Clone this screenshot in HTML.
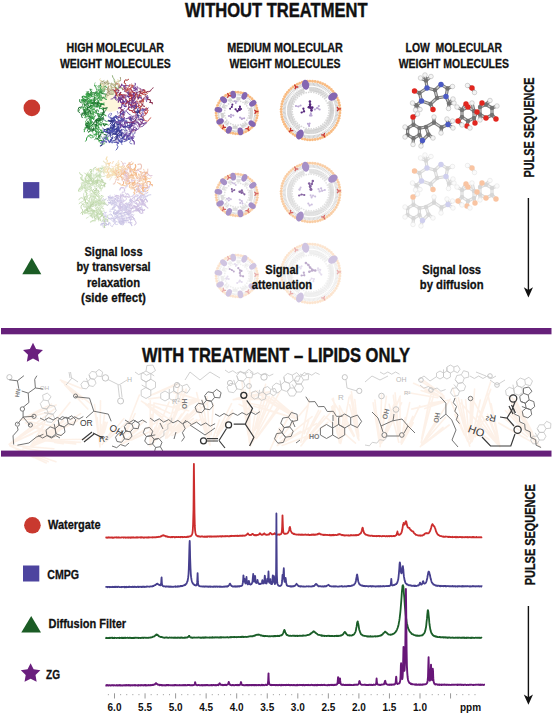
<!DOCTYPE html>
<html><head><meta charset="utf-8"><style>
html,body{margin:0;padding:0;background:#fff;}
svg{display:block;font-family:"Liberation Sans", sans-serif;}
</style></head><body>
<svg width="553" height="716" viewBox="0 0 553 716">
<rect width="553" height="716" fill="#fff"/>
<ellipse cx="110.5" cy="102.5" rx="11" ry="9.5" fill="#fdf6dc"/>
<path d="M86.8,99.3 Q88.7,98.8 89.4,97.4 Q87.0,96.0 88.5,94.4" stroke="#6ab870" stroke-width="0.7" fill="none" stroke-linecap="round"/>
<path d="M86.7,99.1 l0.1,1.6" stroke="#fff" stroke-opacity="0.7" stroke-width="0.8" fill="none"/>
<path d="M136.9,112.7 Q135.2,112.0 134.1,110.9 Q133.3,108.5 135.8,108.1" stroke="#80408a" stroke-width="1.1" fill="none" stroke-linecap="round"/>
<path d="M100.0,84.6 Q102.1,85.8 102.5,87.6 Q102.1,90.0 104.2,91.0" stroke="#cbc39f" stroke-width="0.9" fill="none" stroke-linecap="round"/>
<path d="M101.7,83.2 l2.3,0.2" stroke="#fff" stroke-opacity="0.7" stroke-width="0.8" fill="none"/>
<path d="M126.2,92.2 Q126.3,92.6 129.4,93.6 Q130.0,94.5 132.3,91.6" stroke="#7a3a8a" stroke-width="1.1" fill="none" stroke-linecap="round"/>
<path d="M125.8,93.6 l1.4,-1.3" stroke="#fff" stroke-opacity="0.7" stroke-width="0.8" fill="none"/>
<path d="M123.5,86.7 Q123.3,85.0 126.5,85.6 Q126.2,85.3 129.7,86.1" stroke="#6a3a98" stroke-width="1.0" fill="none" stroke-linecap="round"/>
<path d="M122.0,86.3 l-2.7,-1.6" stroke="#fff" stroke-opacity="0.7" stroke-width="0.8" fill="none"/>
<path d="M122.5,99.8 Q122.1,99.1 120.7,98.0" stroke="#7a3a8a" stroke-width="1.1" fill="none" stroke-linecap="round"/>
<path d="M120.7,98.2 l-1.6,0.2" stroke="#fff" stroke-opacity="0.7" stroke-width="0.8" fill="none"/>
<path d="M130.1,104.8 Q127.5,104.2 127.9,103.8 Q127.7,101.1 126.6,101.9 Q127.1,102.9 124.3,102.0" stroke="#5c3490" stroke-width="0.7" fill="none" stroke-linecap="round"/>
<path d="M129.2,104.9 l0.0,1.6" stroke="#fff" stroke-opacity="0.7" stroke-width="0.8" fill="none"/>
<path d="M89.8,108.4 Q91.6,109.2 92.7,106.7 Q93.5,104.9 95.4,104.6 Q94.6,101.7 93.1,102.2" stroke="#237f33" stroke-width="0.7" fill="none" stroke-linecap="round"/>
<path d="M89.6,107.9 l1.1,1.2" stroke="#fff" stroke-opacity="0.7" stroke-width="0.8" fill="none"/>
<path d="M129.9,88.5 Q129.8,87.8 133.4,87.1 Q133.1,85.0 131.4,83.9" stroke="#a82c2a" stroke-width="0.7" fill="none" stroke-linecap="round"/>
<path d="M128.9,88.2 l1.5,0.9" stroke="#fff" stroke-opacity="0.7" stroke-width="0.8" fill="none"/>
<path d="M102.6,138.4 Q103.9,138.0 103.2,141.3 Q102.9,141.7 102.7,144.2 Q101.5,145.6 100.4,146.0" stroke="#2f3385" stroke-width="1.2" fill="none" stroke-linecap="round"/>
<path d="M103.3,137.2 l2.1,0.1" stroke="#fff" stroke-opacity="0.7" stroke-width="0.8" fill="none"/>
<path d="M140.2,100.8 Q141.5,101.3 143.7,101.2" stroke="#c84a3a" stroke-width="0.9" fill="none" stroke-linecap="round"/>
<path d="M141.6,101.6 l-3.2,0.1" stroke="#fff" stroke-opacity="0.7" stroke-width="0.8" fill="none"/>
<path d="M144.2,97.7 Q143.2,99.1 143.2,100.4" stroke="#8a3050" stroke-width="1.1" fill="none" stroke-linecap="round"/>
<path d="M136.9,119.2 Q136.3,118.8 136.9,117.2 Q137.7,115.8 137.3,115.1 Q137.6,113.5 135.7,113.8" stroke="#80408a" stroke-width="1.1" fill="none" stroke-linecap="round"/>
<path d="M87.8,113.7 Q87.8,111.3 85.2,110.8 Q86.3,108.9 85.4,106.9 Q82.3,108.1 81.5,107.1" stroke="#6ab870" stroke-width="1.0" fill="none" stroke-linecap="round"/>
<path d="M114.0,142.3 Q115.7,141.4 117.9,142.9 Q115.9,145.0 118.0,146.7 Q117.0,149.7 116.1,150.1" stroke="#4a50b0" stroke-width="0.9" fill="none" stroke-linecap="round"/>
<path d="M115.5,143.5 l1.7,-0.2" stroke="#fff" stroke-opacity="0.7" stroke-width="0.8" fill="none"/>
<path d="M96.7,104.7 Q98.4,101.5 98.4,102.1 Q97.4,100.2 100.1,99.6" stroke="#2f9a3f" stroke-width="0.9" fill="none" stroke-linecap="round"/>
<path d="M98.2,104.4 l1.7,-0.9" stroke="#fff" stroke-opacity="0.7" stroke-width="0.8" fill="none"/>
<path d="M126.5,137.3 Q128.5,137.2 129.0,135.1 Q130.3,135.0 131.0,132.3" stroke="#8a3a70" stroke-width="1.0" fill="none" stroke-linecap="round"/>
<path d="M125.5,138.0 l-3.3,-0.3" stroke="#fff" stroke-opacity="0.7" stroke-width="0.8" fill="none"/>
<path d="M121.3,99.4 Q122.5,97.5 124.3,98.8 Q123.2,97.5 123.1,96.0 Q123.4,96.9 120.4,97.4" stroke="#8a3050" stroke-width="1.2" fill="none" stroke-linecap="round"/>
<path d="M123.1,99.2 l1.5,1.0" stroke="#fff" stroke-opacity="0.7" stroke-width="0.8" fill="none"/>
<path d="M107.6,95.8 Q107.3,94.6 109.4,92.4 Q109.7,94.4 112.9,94.2 Q112.3,91.2 114.1,90.5" stroke="#8fae78" stroke-width="1.1" fill="none" stroke-linecap="round"/>
<path d="M106.0,96.7 l-1.7,2.2" stroke="#fff" stroke-opacity="0.7" stroke-width="0.8" fill="none"/>
<path d="M88.7,112.1 Q87.7,114.0 85.5,113.3 Q84.0,114.7 82.1,113.1" stroke="#237f33" stroke-width="1.0" fill="none" stroke-linecap="round"/>
<path d="M89.1,110.7 l0.5,2.5" stroke="#fff" stroke-opacity="0.7" stroke-width="0.8" fill="none"/>
<path d="M141.8,119.4 Q138.7,118.1 138.0,120.0" stroke="#8a3a70" stroke-width="1.2" fill="none" stroke-linecap="round"/>
<path d="M141.5,121.2 l1.9,1.2" stroke="#fff" stroke-opacity="0.7" stroke-width="0.8" fill="none"/>
<path d="M116.9,124.2 Q118.0,125.1 118.5,127.2" stroke="#4a50b0" stroke-width="1.2" fill="none" stroke-linecap="round"/>
<path d="M116.3,126.2 l-0.8,-2.7" stroke="#fff" stroke-opacity="0.7" stroke-width="0.8" fill="none"/>
<path d="M136.3,130.3 Q133.4,130.1 133.1,132.3 Q133.5,132.8 130.1,130.0" stroke="#8a3a70" stroke-width="0.8" fill="none" stroke-linecap="round"/>
<path d="M137.4,129.6 l2.3,-0.7" stroke="#fff" stroke-opacity="0.7" stroke-width="0.8" fill="none"/>
<path d="M137.1,91.7 Q134.2,93.6 134.7,93.1" stroke="#5c3490" stroke-width="0.9" fill="none" stroke-linecap="round"/>
<path d="M138.7,93.5 l1.8,-2.7" stroke="#fff" stroke-opacity="0.7" stroke-width="0.8" fill="none"/>
<path d="M118.7,92.3 Q118.9,92.4 116.6,93.2 Q117.6,93.0 115.5,91.2 Q117.0,89.9 116.4,89.2" stroke="#6a3a98" stroke-width="1.1" fill="none" stroke-linecap="round"/>
<path d="M116.7,91.8 l-1.3,2.0" stroke="#fff" stroke-opacity="0.7" stroke-width="0.8" fill="none"/>
<path d="M123.3,119.2 Q124.8,121.2 125.0,122.7 Q125.1,126.6 126.2,126.5" stroke="#7448a8" stroke-width="1.1" fill="none" stroke-linecap="round"/>
<path d="M130.0,96.4 Q130.6,96.6 128.0,96.3 Q128.8,96.6 126.0,96.2" stroke="#7a3a8a" stroke-width="1.2" fill="none" stroke-linecap="round"/>
<path d="M120.5,127.6 Q117.9,129.0 117.9,130.4 Q114.3,133.0 114.3,132.0" stroke="#4a48a8" stroke-width="0.9" fill="none" stroke-linecap="round"/>
<path d="M99.6,121.1 Q100.5,119.8 100.2,119.2" stroke="#6ab870" stroke-width="1.1" fill="none" stroke-linecap="round"/>
<path d="M100.0,122.0 l-0.9,2.1" stroke="#fff" stroke-opacity="0.7" stroke-width="0.8" fill="none"/>
<path d="M101.9,130.0 Q101.0,132.5 103.3,132.5" stroke="#3aa34a" stroke-width="1.2" fill="none" stroke-linecap="round"/>
<path d="M102.7,128.2 l1.9,-0.5" stroke="#fff" stroke-opacity="0.7" stroke-width="0.8" fill="none"/>
<path d="M108.4,87.8 Q110.1,89.0 111.0,89.2 Q111.1,91.4 112.2,91.8 Q109.8,92.0 110.4,94.0" stroke="#cbc39f" stroke-width="0.8" fill="none" stroke-linecap="round"/>
<path d="M114.5,133.0 Q112.0,133.2 112.0,135.2 Q113.9,136.9 112.2,138.6 Q110.3,140.8 110.7,141.6" stroke="#35388a" stroke-width="1.0" fill="none" stroke-linecap="round"/>
<path d="M112.6,131.9 l-0.1,1.6" stroke="#fff" stroke-opacity="0.7" stroke-width="0.8" fill="none"/>
<path d="M99.1,127.4 Q97.2,126.9 96.5,126.6 Q97.3,128.9 95.1,128.9" stroke="#3aa34a" stroke-width="0.9" fill="none" stroke-linecap="round"/>
<path d="M136.6,128.2 Q136.5,131.2 135.2,130.2" stroke="#5c3490" stroke-width="0.9" fill="none" stroke-linecap="round"/>
<path d="M130.5,137.6 Q131.0,138.8 130.9,140.2 Q129.5,142.5 129.7,142.5 Q129.7,143.9 131.9,143.9" stroke="#4a48a8" stroke-width="0.7" fill="none" stroke-linecap="round"/>
<path d="M129.6,136.2 l-0.5,-2.9" stroke="#fff" stroke-opacity="0.7" stroke-width="0.8" fill="none"/>
<path d="M105.0,87.8 Q104.1,87.6 103.7,84.9 Q101.5,83.9 100.7,83.6 Q102.9,81.2 102.0,80.7" stroke="#e8e0b0" stroke-width="0.9" fill="none" stroke-linecap="round"/>
<path d="M104.6,86.6 l-1.5,1.7" stroke="#fff" stroke-opacity="0.7" stroke-width="0.8" fill="none"/>
<path d="M118.3,129.9 Q116.1,129.5 116.1,132.7 Q116.2,132.3 118.0,135.7" stroke="#5a4aa8" stroke-width="1.2" fill="none" stroke-linecap="round"/>
<path d="M118.5,129.3 l-1.8,-1.0" stroke="#fff" stroke-opacity="0.7" stroke-width="0.8" fill="none"/>
<path d="M98.8,87.0 Q101.1,85.4 100.8,84.4" stroke="#237f33" stroke-width="1.1" fill="none" stroke-linecap="round"/>
<path d="M141.3,101.5 Q140.5,100.7 143.0,99.0 Q142.8,100.2 140.5,97.5 Q137.0,97.0 137.5,97.5" stroke="#b03040" stroke-width="0.7" fill="none" stroke-linecap="round"/>
<path d="M116.8,82.0 Q120.2,80.5 120.2,81.0 Q120.9,79.9 120.4,77.4" stroke="#9d9a74" stroke-width="0.9" fill="none" stroke-linecap="round"/>
<path d="M118.3,81.9 l-2.0,-0.4" stroke="#fff" stroke-opacity="0.7" stroke-width="0.8" fill="none"/>
<path d="M129.5,99.3 Q128.6,97.7 131.5,99.2 Q130.7,97.1 132.2,97.3" stroke="#c23a32" stroke-width="1.1" fill="none" stroke-linecap="round"/>
<path d="M95.5,92.0 Q95.4,92.5 91.7,92.6 Q90.8,90.5 90.1,89.1" stroke="#237f33" stroke-width="1.2" fill="none" stroke-linecap="round"/>
<path d="M138.3,105.3 Q137.7,108.4 140.6,108.0 Q140.9,111.0 138.2,110.7" stroke="#c84a3a" stroke-width="0.9" fill="none" stroke-linecap="round"/>
<path d="M138.0,106.4 l-2.9,1.5" stroke="#fff" stroke-opacity="0.7" stroke-width="0.8" fill="none"/>
<path d="M134.8,88.6 Q132.3,89.0 133.8,86.8 Q135.8,84.3 135.2,85.2 Q136.0,82.6 135.0,83.1" stroke="#6a3a98" stroke-width="1.0" fill="none" stroke-linecap="round"/>
<path d="M137.9,99.3 Q138.5,96.6 138.9,96.6" stroke="#a82c2a" stroke-width="1.2" fill="none" stroke-linecap="round"/>
<path d="M137.2,99.2 l-0.6,1.5" stroke="#fff" stroke-opacity="0.7" stroke-width="0.8" fill="none"/>
<path d="M128.4,102.8 Q129.6,102.7 128.5,105.6 Q130.2,107.8 129.1,108.3" stroke="#8a3050" stroke-width="1.0" fill="none" stroke-linecap="round"/>
<path d="M129.8,104.2 l2.3,2.0" stroke="#fff" stroke-opacity="0.7" stroke-width="0.8" fill="none"/>
<path d="M128.7,136.4 Q129.4,135.7 132.0,137.5 Q132.1,140.8 133.5,140.7 Q134.7,141.7 134.2,144.1" stroke="#6a44a0" stroke-width="1.2" fill="none" stroke-linecap="round"/>
<path d="M129.4,137.2 l1.1,1.3" stroke="#fff" stroke-opacity="0.7" stroke-width="0.8" fill="none"/>
<path d="M92.6,105.4 Q94.0,106.1 91.6,107.4" stroke="#4fae5a" stroke-width="1.1" fill="none" stroke-linecap="round"/>
<path d="M91.1,104.3 l1.5,-3.0" stroke="#fff" stroke-opacity="0.7" stroke-width="0.8" fill="none"/>
<path d="M90.4,123.4 Q92.8,121.6 92.8,121.9 Q93.4,122.2 93.8,124.5 Q94.5,124.3 96.6,124.7" stroke="#1f7030" stroke-width="1.0" fill="none" stroke-linecap="round"/>
<path d="M88.8,124.2 l-1.0,1.8" stroke="#fff" stroke-opacity="0.7" stroke-width="0.8" fill="none"/>
<path d="M97.5,113.9 Q96.5,112.2 95.0,113.0 Q97.4,112.5 95.9,110.4 Q97.4,109.0 98.4,111.3" stroke="#237f33" stroke-width="1.1" fill="none" stroke-linecap="round"/>
<path d="M89.6,110.1 Q90.3,112.1 91.3,112.3 Q92.9,112.5 94.0,112.3" stroke="#2f9a3f" stroke-width="0.7" fill="none" stroke-linecap="round"/>
<path d="M91.8,126.7 Q92.3,125.8 89.6,127.0" stroke="#237f33" stroke-width="1.0" fill="none" stroke-linecap="round"/>
<path d="M92.9,114.5 Q92.2,115.0 89.5,112.7 Q90.7,111.5 90.9,109.1 Q91.4,108.3 94.6,108.1" stroke="#3aa34a" stroke-width="0.7" fill="none" stroke-linecap="round"/>
<path d="M88.4,105.7 Q86.8,105.5 88.7,103.1 Q90.8,102.0 90.7,101.6 Q90.1,100.2 92.7,100.0" stroke="#237f33" stroke-width="1.2" fill="none" stroke-linecap="round"/>
<path d="M99.4,135.6 Q100.5,136.1 101.5,136.4" stroke="#5a5ab8" stroke-width="0.9" fill="none" stroke-linecap="round"/>
<path d="M102.0,83.9 Q102.3,81.8 100.6,81.4 Q98.7,78.4 100.2,78.5" stroke="#e8e0b0" stroke-width="0.9" fill="none" stroke-linecap="round"/>
<path d="M107.1,83.7 Q109.2,83.0 107.3,80.4" stroke="#cbc39f" stroke-width="1.2" fill="none" stroke-linecap="round"/>
<path d="M105.7,84.3 l-2.5,-0.7" stroke="#fff" stroke-opacity="0.7" stroke-width="0.8" fill="none"/>
<path d="M108.7,88.1 Q108.3,89.6 107.3,91.4" stroke="#b8b68a" stroke-width="0.9" fill="none" stroke-linecap="round"/>
<path d="M116.0,89.3 Q116.3,89.6 119.5,87.7 Q122.6,87.5 122.7,89.7" stroke="#9d9a74" stroke-width="1.2" fill="none" stroke-linecap="round"/>
<path d="M84.5,100.1 Q87.2,99.6 86.0,101.4 Q85.1,103.9 86.7,103.3 Q86.0,103.8 88.5,102.5" stroke="#237f33" stroke-width="0.9" fill="none" stroke-linecap="round"/>
<path d="M138.8,124.7 Q139.9,124.9 139.5,126.9 Q139.0,127.2 138.5,129.0" stroke="#5c3490" stroke-width="0.9" fill="none" stroke-linecap="round"/>
<path d="M115.6,87.7 Q114.2,89.4 114.5,90.0" stroke="#c0c8a0" stroke-width="0.7" fill="none" stroke-linecap="round"/>
<path d="M116.1,83.3 Q116.6,83.8 115.1,86.3" stroke="#9d9a74" stroke-width="0.9" fill="none" stroke-linecap="round"/>
<path d="M93.0,136.1 Q92.9,135.5 89.4,134.8 Q88.3,136.8 86.7,137.6 Q86.9,140.5 85.7,141.3" stroke="#2f9a3f" stroke-width="1.0" fill="none" stroke-linecap="round"/>
<path d="M137.1,122.9 Q135.1,121.2 135.2,120.0" stroke="#4a50b0" stroke-width="1.1" fill="none" stroke-linecap="round"/>
<path d="M133.5,95.1 Q129.9,95.0 129.9,94.1 Q129.3,94.0 128.1,90.9 Q124.8,89.2 124.4,91.3" stroke="#5c3490" stroke-width="1.0" fill="none" stroke-linecap="round"/>
<path d="M134.7,93.4 l-1.9,0.7" stroke="#fff" stroke-opacity="0.7" stroke-width="0.8" fill="none"/>
<path d="M141.3,115.8 Q139.9,117.1 139.9,117.4 Q138.2,118.5 138.4,118.9" stroke="#7a3a8a" stroke-width="0.7" fill="none" stroke-linecap="round"/>
<path d="M92.0,96.3 Q89.4,94.5 90.2,93.5 Q87.7,94.5 87.4,91.8 Q86.6,94.4 85.9,94.8" stroke="#3aa34a" stroke-width="1.2" fill="none" stroke-linecap="round"/>
<path d="M90.2,95.3 l-2.9,0.8" stroke="#fff" stroke-opacity="0.7" stroke-width="0.8" fill="none"/>
<path d="M140.1,89.3 Q141.6,92.1 140.9,93.1 Q141.7,94.1 144.5,94.7 Q146.1,95.5 147.9,92.8" stroke="#c84a3a" stroke-width="0.9" fill="none" stroke-linecap="round"/>
<path d="M138.3,88.9 l2.7,-0.3" stroke="#fff" stroke-opacity="0.7" stroke-width="0.8" fill="none"/>
<path d="M103.5,123.6 Q102.9,124.1 104.6,125.7 Q105.3,124.0 106.6,124.5" stroke="#1f7030" stroke-width="1.1" fill="none" stroke-linecap="round"/>
<path d="M120.3,127.6 Q119.0,125.6 121.3,125.4 Q122.8,126.0 123.4,126.5" stroke="#5a4aa8" stroke-width="1.1" fill="none" stroke-linecap="round"/>
<path d="M118.5,120.8 Q118.5,120.1 116.3,122.4" stroke="#5a4aa8" stroke-width="0.8" fill="none" stroke-linecap="round"/>
<path d="M136.7,108.4 Q136.3,107.1 135.0,105.9" stroke="#35388a" stroke-width="0.8" fill="none" stroke-linecap="round"/>
<path d="M89.1,93.4 Q87.8,93.3 86.2,94.7" stroke="#4fae5a" stroke-width="0.9" fill="none" stroke-linecap="round"/>
<path d="M89.2,93.2 l2.3,-2.2" stroke="#fff" stroke-opacity="0.7" stroke-width="0.8" fill="none"/>
<path d="M89.7,112.5 Q89.5,112.1 87.3,111.9" stroke="#237f33" stroke-width="0.7" fill="none" stroke-linecap="round"/>
<path d="M130.3,121.4 Q129.4,121.5 131.5,119.4 Q132.8,117.2 131.7,116.9 Q131.3,116.4 134.0,116.0" stroke="#6a3a98" stroke-width="1.0" fill="none" stroke-linecap="round"/>
<path d="M99.6,124.1 Q98.7,124.4 97.7,122.8 Q99.4,121.7 98.8,120.7 Q99.8,118.9 97.9,118.6" stroke="#3aa34a" stroke-width="1.2" fill="none" stroke-linecap="round"/>
<path d="M141.6,97.4 Q142.0,94.6 139.3,95.2 Q137.7,95.9 137.4,97.7" stroke="#c84a3a" stroke-width="0.9" fill="none" stroke-linecap="round"/>
<path d="M139.9,120.3 Q141.1,122.4 141.3,123.5" stroke="#80408a" stroke-width="0.9" fill="none" stroke-linecap="round"/>
<path d="M141.5,119.9 l-0.5,3.1" stroke="#fff" stroke-opacity="0.7" stroke-width="0.8" fill="none"/>
<path d="M89.6,111.9 Q88.0,112.3 88.8,114.8" stroke="#237f33" stroke-width="1.1" fill="none" stroke-linecap="round"/>
<path d="M89.2,110.9 l2.6,0.0" stroke="#fff" stroke-opacity="0.7" stroke-width="0.8" fill="none"/>
<path d="M113.6,120.8 Q112.0,117.2 113.6,117.4 Q113.9,116.2 116.6,115.9" stroke="#2f3385" stroke-width="0.8" fill="none" stroke-linecap="round"/>
<path d="M114.3,122.0 l1.1,1.8" stroke="#fff" stroke-opacity="0.7" stroke-width="0.8" fill="none"/>
<path d="M100.2,106.2 Q100.4,105.7 101.7,103.6" stroke="#237f33" stroke-width="1.2" fill="none" stroke-linecap="round"/>
<path d="M101.3,133.1 Q101.9,132.1 104.4,131.1 Q105.6,132.8 107.7,132.8" stroke="#3f45a5" stroke-width="0.8" fill="none" stroke-linecap="round"/>
<path d="M131.4,132.7 Q131.5,133.0 129.7,135.0 Q129.2,136.7 131.2,137.4 Q133.2,139.6 134.0,138.1" stroke="#5a4aa8" stroke-width="1.0" fill="none" stroke-linecap="round"/>
<path d="M98.5,97.3 Q100.3,96.8 98.1,93.3" stroke="#4fae5a" stroke-width="0.8" fill="none" stroke-linecap="round"/>
<path d="M98.1,98.9 l-3.0,-0.7" stroke="#fff" stroke-opacity="0.7" stroke-width="0.8" fill="none"/>
<path d="M109.9,134.4 Q110.6,135.2 107.5,136.9 Q105.9,138.2 104.0,137.1" stroke="#35388a" stroke-width="0.8" fill="none" stroke-linecap="round"/>
<path d="M108.9,134.4 l2.6,2.1" stroke="#fff" stroke-opacity="0.7" stroke-width="0.8" fill="none"/>
<path d="M88.6,100.6 Q89.5,101.0 90.6,102.5 Q90.2,100.5 93.4,102.1" stroke="#3aa34a" stroke-width="1.2" fill="none" stroke-linecap="round"/>
<path d="M88.5,102.6 l1.6,0.9" stroke="#fff" stroke-opacity="0.7" stroke-width="0.8" fill="none"/>
<path d="M94.0,134.3 Q93.6,134.2 96.7,133.8 Q98.5,133.4 99.2,134.8 Q100.1,138.1 98.2,137.3" stroke="#4fae5a" stroke-width="0.9" fill="none" stroke-linecap="round"/>
<path d="M129.1,91.4 Q128.9,90.3 130.2,89.1" stroke="#a82c2a" stroke-width="0.7" fill="none" stroke-linecap="round"/>
<path d="M129.2,92.6 l1.5,-0.4" stroke="#fff" stroke-opacity="0.7" stroke-width="0.8" fill="none"/>
<path d="M133.6,126.1 Q134.0,124.9 130.6,126.8 Q129.9,126.1 130.0,123.8 Q130.3,121.2 127.3,122.4" stroke="#5c3490" stroke-width="1.0" fill="none" stroke-linecap="round"/>
<path d="M134.2,127.3 l-1.7,1.4" stroke="#fff" stroke-opacity="0.7" stroke-width="0.8" fill="none"/>
<path d="M104.9,120.1 Q104.3,119.2 106.1,121.9 Q106.4,120.3 108.2,121.2" stroke="#6ab870" stroke-width="0.9" fill="none" stroke-linecap="round"/>
<path d="M103.0,119.7 l-1.3,1.3" stroke="#fff" stroke-opacity="0.7" stroke-width="0.8" fill="none"/>
<path d="M120.0,116.4 Q119.3,118.8 116.4,118.1" stroke="#6a44a0" stroke-width="1.1" fill="none" stroke-linecap="round"/>
<path d="M121.5,117.5 l-2.6,2.1" stroke="#fff" stroke-opacity="0.7" stroke-width="0.8" fill="none"/>
<path d="M115.7,81.1 Q116.8,83.2 115.1,84.3 Q115.1,84.4 114.5,87.5" stroke="#e8e0b0" stroke-width="1.2" fill="none" stroke-linecap="round"/>
<path d="M110.9,121.8 Q112.3,120.9 113.2,119.9 Q112.7,118.6 111.1,117.8" stroke="#5a5ab8" stroke-width="1.0" fill="none" stroke-linecap="round"/>
<path d="M142.9,89.9 Q145.4,89.5 144.9,92.1 Q143.6,91.8 142.4,93.6 Q141.8,94.4 140.1,91.8" stroke="#b03040" stroke-width="1.2" fill="none" stroke-linecap="round"/>
<path d="M114.8,142.1 Q117.0,142.2 116.8,142.7 Q119.2,141.8 118.7,143.5" stroke="#3f45a5" stroke-width="0.9" fill="none" stroke-linecap="round"/>
<path d="M85.4,114.9 Q85.8,118.0 85.9,117.9" stroke="#3aa34a" stroke-width="1.1" fill="none" stroke-linecap="round"/>
<path d="M83.6,114.3 l-1.1,1.3" stroke="#fff" stroke-opacity="0.7" stroke-width="0.8" fill="none"/>
<path d="M88.4,91.8 Q86.5,95.4 88.1,95.1 Q90.0,97.6 90.9,97.0" stroke="#4fae5a" stroke-width="1.1" fill="none" stroke-linecap="round"/>
<path d="M86.4,91.1 l-1.2,-2.1" stroke="#fff" stroke-opacity="0.7" stroke-width="0.8" fill="none"/>
<path d="M101.6,119.5 Q100.7,119.7 100.1,122.7" stroke="#6ab870" stroke-width="0.8" fill="none" stroke-linecap="round"/>
<path d="M121.4,102.7 Q121.5,102.7 122.7,104.3" stroke="#7a3a8a" stroke-width="0.9" fill="none" stroke-linecap="round"/>
<path d="M122.7,102.3 l-1.6,-1.7" stroke="#fff" stroke-opacity="0.7" stroke-width="0.8" fill="none"/>
<path d="M143.6,102.0 Q140.1,102.1 140.0,101.0 Q138.5,101.0 137.2,103.4" stroke="#a82c2a" stroke-width="0.9" fill="none" stroke-linecap="round"/>
<path d="M142.9,102.3 l-1.4,-1.7" stroke="#fff" stroke-opacity="0.7" stroke-width="0.8" fill="none"/>
<path d="M124.6,97.1 Q124.0,97.8 122.6,95.6 Q120.5,93.8 120.2,95.1" stroke="#c23a32" stroke-width="1.2" fill="none" stroke-linecap="round"/>
<path d="M87.5,121.3 Q87.6,123.5 89.1,122.6 Q86.4,123.9 87.6,124.1 Q86.5,124.8 86.4,125.7" stroke="#237f33" stroke-width="0.9" fill="none" stroke-linecap="round"/>
<path d="M121.1,140.7 Q123.1,143.3 123.5,142.0" stroke="#3f45a5" stroke-width="0.7" fill="none" stroke-linecap="round"/>
<path d="M94.5,103.4 Q96.5,104.5 96.2,102.3 Q99.1,102.2 98.2,102.3 Q98.1,101.9 98.6,104.3" stroke="#6ab870" stroke-width="0.9" fill="none" stroke-linecap="round"/>
<path d="M93.0,103.1 l1.6,-2.8" stroke="#fff" stroke-opacity="0.7" stroke-width="0.8" fill="none"/>
<path d="M118.1,140.9 Q118.5,142.1 120.9,141.9" stroke="#3f45a5" stroke-width="1.0" fill="none" stroke-linecap="round"/>
<path d="M118.5,140.8 l-1.2,1.6" stroke="#fff" stroke-opacity="0.7" stroke-width="0.8" fill="none"/>
<path d="M90.1,115.5 Q91.8,112.6 91.2,112.9" stroke="#6ab870" stroke-width="1.1" fill="none" stroke-linecap="round"/>
<path d="M89.8,115.5 l-0.7,2.6" stroke="#fff" stroke-opacity="0.7" stroke-width="0.8" fill="none"/>
<path d="M141.6,114.2 Q140.0,117.2 141.6,116.8" stroke="#6a3a98" stroke-width="0.9" fill="none" stroke-linecap="round"/>
<path d="M124.3,135.5 Q125.7,133.5 125.2,133.4 Q124.8,132.3 125.0,131.3 Q124.1,130.2 123.7,129.4" stroke="#2f3385" stroke-width="0.7" fill="none" stroke-linecap="round"/>
<path d="M84.6,113.2 Q85.6,113.5 87.7,115.2 Q88.2,117.1 90.8,117.1 Q90.5,117.5 94.0,118.8" stroke="#1f7030" stroke-width="1.2" fill="none" stroke-linecap="round"/>
<path d="M84.1,113.6 l-2.9,-1.9" stroke="#fff" stroke-opacity="0.7" stroke-width="0.8" fill="none"/>
<path d="M121.3,117.0 Q120.6,117.5 119.1,115.5" stroke="#8a3a70" stroke-width="1.2" fill="none" stroke-linecap="round"/>
<path d="M105.5,86.1 Q105.6,84.5 107.0,84.5" stroke="#c0c8a0" stroke-width="1.2" fill="none" stroke-linecap="round"/>
<path d="M122.4,114.7 Q119.5,114.2 120.6,111.9" stroke="#6a3a98" stroke-width="0.9" fill="none" stroke-linecap="round"/>
<path d="M85.5,128.9 Q87.0,127.6 86.0,126.7 Q88.1,128.2 88.3,126.9" stroke="#4fae5a" stroke-width="1.2" fill="none" stroke-linecap="round"/>
<path d="M86.3,128.5 l1.4,-2.6" stroke="#fff" stroke-opacity="0.7" stroke-width="0.8" fill="none"/>
<path d="M126.8,121.0 Q126.2,122.1 127.4,124.0" stroke="#4a48a8" stroke-width="1.2" fill="none" stroke-linecap="round"/>
<path d="M93.9,124.1 Q92.2,124.3 90.5,124.1 Q91.1,121.8 89.6,120.8" stroke="#4fae5a" stroke-width="0.7" fill="none" stroke-linecap="round"/>
<path d="M124.1,103.9 Q122.5,102.9 123.7,100.2 Q121.1,98.6 121.9,97.0" stroke="#5c3490" stroke-width="1.0" fill="none" stroke-linecap="round"/>
<path d="M125.8,105.1 l-1.3,0.8" stroke="#fff" stroke-opacity="0.7" stroke-width="0.8" fill="none"/>
<path d="M97.6,95.6 Q97.2,97.3 97.6,98.8 Q96.7,99.0 98.9,101.8 Q99.6,103.4 98.8,105.0" stroke="#3aa34a" stroke-width="0.8" fill="none" stroke-linecap="round"/>
<path d="M104.1,90.4 Q104.9,87.5 103.4,86.9 Q101.9,86.8 100.1,85.9" stroke="#4fae5a" stroke-width="0.8" fill="none" stroke-linecap="round"/>
<path d="M119.5,136.3 Q120.9,136.6 121.3,134.2 Q120.6,134.7 123.1,136.3 Q125.9,136.6 125.7,135.5" stroke="#35388a" stroke-width="0.9" fill="none" stroke-linecap="round"/>
<path d="M143.7,89.9 Q143.4,91.5 141.0,91.5 Q140.1,91.0 138.0,92.1 Q137.8,93.4 135.3,93.5" stroke="#8a3050" stroke-width="1.0" fill="none" stroke-linecap="round"/>
<path d="M126.5,101.9 Q129.4,100.9 129.2,103.3 Q130.7,105.9 131.6,105.1 Q130.9,104.6 131.8,108.1" stroke="#7a3a8a" stroke-width="1.2" fill="none" stroke-linecap="round"/>
<path d="M93.6,103.3 Q95.2,102.9 93.0,101.1 Q95.1,100.6 94.9,99.9" stroke="#6ab870" stroke-width="0.7" fill="none" stroke-linecap="round"/>
<path d="M92.9,113.2 Q90.0,113.2 90.0,115.7 Q86.2,117.5 86.1,115.8 Q84.2,115.5 85.5,112.0" stroke="#237f33" stroke-width="0.8" fill="none" stroke-linecap="round"/>
<path d="M93.0,114.6 l-0.3,1.8" stroke="#fff" stroke-opacity="0.7" stroke-width="0.8" fill="none"/>
<path d="M90.9,107.0 Q90.8,107.1 93.3,105.0 Q94.4,102.0 92.2,102.1 Q90.1,103.3 89.5,100.6" stroke="#1f7030" stroke-width="0.9" fill="none" stroke-linecap="round"/>
<path d="M92.3,108.1 l1.1,2.5" stroke="#fff" stroke-opacity="0.7" stroke-width="0.8" fill="none"/>
<path d="M125.4,85.6 Q125.0,86.8 125.2,89.2 Q124.2,91.9 127.0,92.4" stroke="#b03040" stroke-width="0.8" fill="none" stroke-linecap="round"/>
<path d="M96.2,135.2 Q96.8,136.8 95.9,137.6 Q95.6,139.0 94.8,139.8" stroke="#237f33" stroke-width="0.7" fill="none" stroke-linecap="round"/>
<path d="M97.2,134.0 l2.3,1.0" stroke="#fff" stroke-opacity="0.7" stroke-width="0.8" fill="none"/>
<path d="M86.7,123.0 Q85.0,124.8 86.3,125.4 Q85.8,126.9 88.7,125.8" stroke="#1f7030" stroke-width="1.2" fill="none" stroke-linecap="round"/>
<path d="M88.7,121.8 l-0.9,-1.7" stroke="#fff" stroke-opacity="0.7" stroke-width="0.8" fill="none"/>
<path d="M141.2,115.4 Q140.9,113.7 143.3,115.5" stroke="#3f45a5" stroke-width="0.8" fill="none" stroke-linecap="round"/>
<path d="M95.6,100.2 Q94.4,98.2 96.7,98.2 Q96.7,99.2 98.9,97.4 Q100.1,97.9 100.0,99.4" stroke="#3aa34a" stroke-width="1.1" fill="none" stroke-linecap="round"/>
<path d="M90.3,134.5 Q90.5,135.3 92.5,136.0" stroke="#6ab870" stroke-width="1.1" fill="none" stroke-linecap="round"/>
<path d="M88.7,135.1 l0.7,-1.9" stroke="#fff" stroke-opacity="0.7" stroke-width="0.8" fill="none"/>
<path d="M125.9,92.0 Q128.1,90.8 126.6,90.0 Q128.7,89.0 128.1,88.3" stroke="#b03040" stroke-width="0.8" fill="none" stroke-linecap="round"/>
<path d="M131.6,105.3 Q132.6,108.5 134.1,108.0" stroke="#8a3050" stroke-width="1.0" fill="none" stroke-linecap="round"/>
<path d="M130.3,107.2 l2.2,0.3" stroke="#fff" stroke-opacity="0.7" stroke-width="0.8" fill="none"/>
<path d="M103.1,133.1 Q100.2,131.6 100.1,132.9 Q99.2,132.1 97.3,131.9 Q95.2,132.8 95.0,130.1" stroke="#1f7030" stroke-width="1.0" fill="none" stroke-linecap="round"/>
<path d="M122.2,135.7 Q121.0,133.1 119.2,133.2 Q119.7,130.2 121.9,130.4" stroke="#6a44a0" stroke-width="1.1" fill="none" stroke-linecap="round"/>
<path d="M123.9,135.8 l-2.3,-0.9" stroke="#fff" stroke-opacity="0.7" stroke-width="0.8" fill="none"/>
<path d="M119.0,119.7 Q120.8,121.9 121.5,120.4 Q122.4,118.1 123.8,119.2 Q123.9,121.2 126.0,120.6" stroke="#3e40a0" stroke-width="1.1" fill="none" stroke-linecap="round"/>
<path d="M118.7,119.9 l2.1,-1.4" stroke="#fff" stroke-opacity="0.7" stroke-width="0.8" fill="none"/>
<path d="M143.9,110.9 Q146.3,113.9 146.3,113.1 Q146.0,115.6 144.3,115.7 Q143.9,117.1 141.0,116.1" stroke="#b03040" stroke-width="0.8" fill="none" stroke-linecap="round"/>
<path d="M100.8,95.6 Q102.4,98.4 103.2,98.0 Q102.6,97.4 100.9,100.4" stroke="#2f9a3f" stroke-width="1.1" fill="none" stroke-linecap="round"/>
<path d="M100.1,94.4 l3.2,-0.4" stroke="#fff" stroke-opacity="0.7" stroke-width="0.8" fill="none"/>
<path d="M127.0,127.5 Q129.7,128.2 130.2,126.7 Q131.3,129.9 131.8,129.6" stroke="#5a4aa8" stroke-width="1.1" fill="none" stroke-linecap="round"/>
<path d="M133.8,94.7 Q133.9,91.4 132.4,92.0 Q132.1,90.0 129.5,91.2" stroke="#a82c2a" stroke-width="0.9" fill="none" stroke-linecap="round"/>
<path d="M134.1,93.9 l2.5,0.4" stroke="#fff" stroke-opacity="0.7" stroke-width="0.8" fill="none"/>
<path d="M111.6,84.0 Q112.4,85.6 113.5,85.1 Q113.3,85.1 115.5,84.4 Q115.1,81.6 116.1,82.3" stroke="#a89070" stroke-width="0.7" fill="none" stroke-linecap="round"/>
<path d="M112.2,83.7 l-3.4,-0.6" stroke="#fff" stroke-opacity="0.7" stroke-width="0.8" fill="none"/>
<path d="M107.8,95.1 Q109.3,95.4 109.3,93.6 Q110.8,94.8 111.1,92.4" stroke="#a89070" stroke-width="1.2" fill="none" stroke-linecap="round"/>
<path d="M107.9,93.9 l-3.4,-0.9" stroke="#fff" stroke-opacity="0.7" stroke-width="0.8" fill="none"/>
<path d="M90.6,114.7 Q88.2,111.8 89.4,112.4 Q92.4,110.8 91.8,111.6 Q93.8,110.6 92.6,109.2" stroke="#6ab870" stroke-width="0.7" fill="none" stroke-linecap="round"/>
<path d="M121.7,134.3 Q120.6,135.7 118.4,135.6" stroke="#5a5ab8" stroke-width="1.0" fill="none" stroke-linecap="round"/>
<path d="M119.9,134.2 l-0.4,-1.7" stroke="#fff" stroke-opacity="0.7" stroke-width="0.8" fill="none"/>
<path d="M137.6,110.7 Q136.7,111.1 136.5,112.4 Q134.6,113.2 134.6,111.6 Q134.0,110.1 133.7,109.8" stroke="#a82c2a" stroke-width="0.9" fill="none" stroke-linecap="round"/>
<path d="M101.6,119.2 Q102.5,119.4 103.5,116.5" stroke="#4fae5a" stroke-width="1.0" fill="none" stroke-linecap="round"/>
<path d="M102.8,118.8 l2.8,-2.1" stroke="#fff" stroke-opacity="0.7" stroke-width="0.8" fill="none"/>
<path d="M125.5,126.4 Q122.2,126.9 122.2,126.6" stroke="#3e40a0" stroke-width="1.1" fill="none" stroke-linecap="round"/>
<path d="M106.7,132.6 Q107.8,130.6 105.9,130.2 Q108.1,129.6 108.3,129.5 Q107.8,128.1 110.8,128.9" stroke="#237f33" stroke-width="1.1" fill="none" stroke-linecap="round"/>
<path d="M106.1,132.0 l2.9,-0.4" stroke="#fff" stroke-opacity="0.7" stroke-width="0.8" fill="none"/>
<path d="M126.1,105.8 Q125.8,104.5 124.9,103.0" stroke="#b03040" stroke-width="1.0" fill="none" stroke-linecap="round"/>
<path d="M126.8,104.9 l-2.3,-2.3" stroke="#fff" stroke-opacity="0.7" stroke-width="0.8" fill="none"/>
<path d="M134.5,106.5 Q137.3,107.5 136.1,107.9 Q134.7,109.7 134.6,109.4" stroke="#8a3050" stroke-width="0.7" fill="none" stroke-linecap="round"/>
<path d="M135.8,106.1 l-1.0,-2.7" stroke="#fff" stroke-opacity="0.7" stroke-width="0.8" fill="none"/>
<path d="M98.8,102.7 Q98.8,103.4 96.1,103.2 Q93.7,106.2 95.2,105.9" stroke="#237f33" stroke-width="1.1" fill="none" stroke-linecap="round"/>
<path d="M97.1,103.1 l0.6,1.4" stroke="#fff" stroke-opacity="0.7" stroke-width="0.8" fill="none"/>
<path d="M125.1,98.6 Q127.7,101.3 127.7,100.7 Q127.9,100.4 126.5,103.9 Q126.1,102.5 123.3,102.9" stroke="#b03040" stroke-width="1.0" fill="none" stroke-linecap="round"/>
<path d="M124.4,99.1 l-2.6,-0.8" stroke="#fff" stroke-opacity="0.7" stroke-width="0.8" fill="none"/>
<path d="M139.9,91.4 Q140.8,94.4 138.7,94.4 Q139.1,94.6 140.5,97.0" stroke="#8a3050" stroke-width="1.1" fill="none" stroke-linecap="round"/>
<path d="M141.3,91.6 l-0.5,-1.5" stroke="#fff" stroke-opacity="0.7" stroke-width="0.8" fill="none"/>
<path d="M119.6,86.4 Q120.0,83.2 117.5,83.5 Q114.0,85.2 114.4,85.2" stroke="#c23a32" stroke-width="0.8" fill="none" stroke-linecap="round"/>
<path d="M118.9,86.3 l-1.4,-2.5" stroke="#fff" stroke-opacity="0.7" stroke-width="0.8" fill="none"/>
<path d="M99.9,115.3 Q98.3,114.6 98.3,113.2" stroke="#3aa34a" stroke-width="0.8" fill="none" stroke-linecap="round"/>
<path d="M99.9,114.6 l1.4,-2.0" stroke="#fff" stroke-opacity="0.7" stroke-width="0.8" fill="none"/>
<path d="M139.9,127.3 Q140.0,125.4 140.8,124.5 Q141.2,123.3 141.8,121.8 Q143.5,122.0 143.0,119.2" stroke="#8a3a70" stroke-width="0.8" fill="none" stroke-linecap="round"/>
<path d="M141.1,127.7 l-0.5,1.5" stroke="#fff" stroke-opacity="0.7" stroke-width="0.8" fill="none"/>
<path d="M99.6,92.4 Q99.8,92.6 100.0,95.1 Q100.4,97.9 99.6,97.8" stroke="#6ab870" stroke-width="0.8" fill="none" stroke-linecap="round"/>
<path d="M99.3,92.6 l-2.1,-0.5" stroke="#fff" stroke-opacity="0.7" stroke-width="0.8" fill="none"/>
<path d="M83.1,98.4 Q81.4,97.0 82.6,96.4" stroke="#237f33" stroke-width="1.1" fill="none" stroke-linecap="round"/>
<path d="M82.8,99.5 l-3.1,-1.3" stroke="#fff" stroke-opacity="0.7" stroke-width="0.8" fill="none"/>
<path d="M120.2,116.6 Q121.5,117.4 120.3,114.2 Q122.0,112.3 122.8,114.2" stroke="#5a4aa8" stroke-width="1.1" fill="none" stroke-linecap="round"/>
<path d="M121.0,95.6 Q121.8,95.9 118.7,98.8 Q120.9,99.4 120.6,102.2 Q122.0,102.8 124.5,101.6" stroke="#6a3a98" stroke-width="1.1" fill="none" stroke-linecap="round"/>
<path d="M123.0,126.4 Q122.2,125.5 120.3,123.7 Q119.8,122.6 123.0,121.0 Q124.9,118.2 124.3,117.4" stroke="#6a44a0" stroke-width="1.1" fill="none" stroke-linecap="round"/>
<path d="M122.0,125.5 l-3.4,0.1" stroke="#fff" stroke-opacity="0.7" stroke-width="0.8" fill="none"/>
<path d="M142.0,122.3 Q144.5,124.4 144.3,124.8 Q143.5,126.3 141.5,126.7" stroke="#6a3a98" stroke-width="0.9" fill="none" stroke-linecap="round"/>
<path d="M113.6,84.2 Q112.0,83.3 111.4,83.7 Q111.2,86.4 110.3,85.7" stroke="#c0c8a0" stroke-width="0.8" fill="none" stroke-linecap="round"/>
<path d="M114.0,128.0 Q112.3,128.0 114.1,125.1 Q111.4,125.1 111.2,125.3" stroke="#2f3385" stroke-width="1.2" fill="none" stroke-linecap="round"/>
<path d="M130.5,127.7 Q128.6,129.1 128.8,129.3" stroke="#6a3a98" stroke-width="0.8" fill="none" stroke-linecap="round"/>
<path d="M89.8,101.7 Q87.2,101.1 87.7,103.0" stroke="#2f9a3f" stroke-width="1.1" fill="none" stroke-linecap="round"/>
<path d="M89.3,100.3 l1.3,2.2" stroke="#fff" stroke-opacity="0.7" stroke-width="0.8" fill="none"/>
<path d="M93.5,101.3 Q93.0,101.6 95.5,102.9 Q95.2,105.0 95.9,105.4" stroke="#1f7030" stroke-width="1.2" fill="none" stroke-linecap="round"/>
<path d="M94.5,102.5 l-0.4,2.0" stroke="#fff" stroke-opacity="0.7" stroke-width="0.8" fill="none"/>
<path d="M127.4,137.8 Q126.2,137.9 128.1,134.2 Q131.2,132.7 131.3,132.3" stroke="#5a4aa8" stroke-width="1.0" fill="none" stroke-linecap="round"/>
<path d="M140.7,116.3 Q138.7,114.4 136.8,115.8" stroke="#5c3490" stroke-width="1.1" fill="none" stroke-linecap="round"/>
<path d="M125.2,134.0 Q124.8,134.2 124.0,136.4 Q124.4,138.7 124.0,139.2 Q126.0,139.9 126.6,139.7" stroke="#6a3a98" stroke-width="1.1" fill="none" stroke-linecap="round"/>
<path d="M114.5,82.2 Q114.0,79.7 114.1,78.8 Q112.5,78.2 112.4,75.7" stroke="#8fae78" stroke-width="1.0" fill="none" stroke-linecap="round"/>
<path d="M90.7,129.0 Q91.4,126.5 92.7,126.6 Q94.6,127.2 95.9,126.4 Q94.0,126.4 95.7,129.6" stroke="#3aa34a" stroke-width="0.7" fill="none" stroke-linecap="round"/>
<path d="M135.7,122.9 Q134.1,120.1 134.7,121.0 Q131.9,121.3 132.6,121.4 Q133.0,123.7 132.5,123.5" stroke="#80408a" stroke-width="0.9" fill="none" stroke-linecap="round"/>
<path d="M137.3,123.1 l-1.4,-2.6" stroke="#fff" stroke-opacity="0.7" stroke-width="0.8" fill="none"/>
<path d="M119.5,134.0 Q118.4,135.5 119.6,137.6 Q117.9,139.8 116.3,138.8 Q115.4,140.7 116.3,142.3" stroke="#6a44a0" stroke-width="0.9" fill="none" stroke-linecap="round"/>
<path d="M120.4,132.3 l2.8,2.0" stroke="#fff" stroke-opacity="0.7" stroke-width="0.8" fill="none"/>
<path d="M126.4,138.1 Q129.3,140.1 128.5,138.4 Q129.8,136.7 130.6,138.2" stroke="#4a48a8" stroke-width="0.8" fill="none" stroke-linecap="round"/>
<path d="M126.0,139.8 l-1.3,-1.7" stroke="#fff" stroke-opacity="0.7" stroke-width="0.8" fill="none"/>
<path d="M91.8,89.3 Q91.8,89.8 91.3,93.1 Q90.9,96.7 93.1,96.4 Q93.1,97.8 96.7,97.6" stroke="#3aa34a" stroke-width="0.9" fill="none" stroke-linecap="round"/>
<path d="M91.1,88.9 l-3.3,-1.1" stroke="#fff" stroke-opacity="0.7" stroke-width="0.8" fill="none"/>
<path d="M92.5,111.2 Q93.2,111.8 93.1,113.9" stroke="#6ab870" stroke-width="1.1" fill="none" stroke-linecap="round"/>
<path d="M114.3,89.2 Q113.4,89.6 112.1,91.4 Q113.8,93.9 113.4,94.2" stroke="#c0c8a0" stroke-width="0.9" fill="none" stroke-linecap="round"/>
<path d="M114.1,87.6 l-1.0,-2.8" stroke="#fff" stroke-opacity="0.7" stroke-width="0.8" fill="none"/>
<path d="M135.9,111.3 Q135.2,113.0 137.5,113.1 Q138.3,115.4 138.3,115.4 Q139.8,118.5 138.2,117.9" stroke="#35388a" stroke-width="0.9" fill="none" stroke-linecap="round"/>
<path d="M105.0,120.6 Q104.7,120.8 103.0,118.3 Q102.2,116.6 100.2,116.9" stroke="#35388a" stroke-width="0.9" fill="none" stroke-linecap="round"/>
<path d="M104.2,120.1 l1.0,-3.2" stroke="#fff" stroke-opacity="0.7" stroke-width="0.8" fill="none"/>
<path d="M123.3,135.8 Q124.0,138.6 121.2,139.0 Q120.9,137.2 118.0,137.0" stroke="#5a5ab8" stroke-width="1.0" fill="none" stroke-linecap="round"/>
<path d="M123.2,133.9 l-2.8,-1.3" stroke="#fff" stroke-opacity="0.7" stroke-width="0.8" fill="none"/>
<path d="M108.6,85.6 Q107.7,84.4 106.8,84.6 Q105.8,83.1 105.2,83.5" stroke="#e8e0b0" stroke-width="0.8" fill="none" stroke-linecap="round"/>
<path d="M131.2,122.9 Q132.4,121.0 134.3,121.7 Q134.9,125.0 134.8,125.0 Q134.2,125.7 131.5,125.3" stroke="#6a3a98" stroke-width="1.0" fill="none" stroke-linecap="round"/>
<path d="M125.3,90.3 Q127.8,90.1 127.7,87.7 Q129.9,87.2 129.5,84.7 Q133.0,86.3 132.9,85.7" stroke="#c84a3a" stroke-width="0.8" fill="none" stroke-linecap="round"/>
<path d="M125.9,90.7 l1.3,2.3" stroke="#fff" stroke-opacity="0.7" stroke-width="0.8" fill="none"/>
<path d="M87.4,101.2 Q89.9,102.0 91.2,101.4" stroke="#4fae5a" stroke-width="1.1" fill="none" stroke-linecap="round"/>
<path d="M87.1,99.4 l-1.3,2.5" stroke="#fff" stroke-opacity="0.7" stroke-width="0.8" fill="none"/>
<path d="M84.5,109.4 Q85.1,112.2 85.8,111.4 Q87.6,111.9 88.2,111.3 Q90.0,111.0 90.5,111.1" stroke="#1f7030" stroke-width="1.1" fill="none" stroke-linecap="round"/>
<path d="M113.6,116.8 Q112.5,118.1 114.4,120.5" stroke="#5a5ab8" stroke-width="0.8" fill="none" stroke-linecap="round"/>
<path d="M128.7,128.6 Q129.5,131.2 130.2,130.1 Q131.5,131.7 129.0,131.8" stroke="#5c3490" stroke-width="0.8" fill="none" stroke-linecap="round"/>
<path d="M118.2,138.1 Q116.2,138.3 117.3,136.2 Q117.1,137.1 115.5,137.1" stroke="#5a4aa8" stroke-width="0.9" fill="none" stroke-linecap="round"/>
<path d="M119.3,136.8 l-1.3,2.0" stroke="#fff" stroke-opacity="0.7" stroke-width="0.8" fill="none"/>
<path d="M93.9,104.0 Q92.1,102.2 90.4,103.8 Q92.0,107.2 89.8,107.2" stroke="#4fae5a" stroke-width="0.7" fill="none" stroke-linecap="round"/>
<path d="M92.3,105.4 l-1.4,2.1" stroke="#fff" stroke-opacity="0.7" stroke-width="0.8" fill="none"/>
<path d="M102.5,138.2 Q105.5,138.7 105.2,136.4 Q104.7,134.7 107.9,134.7" stroke="#5a5ab8" stroke-width="0.9" fill="none" stroke-linecap="round"/>
<path d="M103.8,136.4 l2.5,-1.0" stroke="#fff" stroke-opacity="0.7" stroke-width="0.8" fill="none"/>
<path d="M96.9,125.8 Q95.3,126.3 95.5,128.5" stroke="#237f33" stroke-width="1.2" fill="none" stroke-linecap="round"/>
<path d="M131.3,90.2 Q131.1,87.4 130.7,88.3" stroke="#c23a32" stroke-width="0.8" fill="none" stroke-linecap="round"/>
<path d="M114.2,129.6 Q116.7,128.8 116.6,127.9 Q118.9,130.6 117.8,130.6 Q117.0,131.9 115.8,132.7" stroke="#4a50b0" stroke-width="1.2" fill="none" stroke-linecap="round"/>
<path d="M119.4,136.1 Q119.1,135.6 121.0,133.3 Q123.7,132.9 124.1,134.2" stroke="#5a5ab8" stroke-width="0.7" fill="none" stroke-linecap="round"/>
<path d="M143.1,113.2 Q144.9,116.2 143.7,115.7" stroke="#6a3a98" stroke-width="0.8" fill="none" stroke-linecap="round"/>
<path d="M141.6,112.6 l-0.4,2.8" stroke="#fff" stroke-opacity="0.7" stroke-width="0.8" fill="none"/>
<path d="M95.8,95.7 Q92.5,93.1 93.1,93.8 Q92.5,95.8 90.1,95.2" stroke="#1f7030" stroke-width="0.7" fill="none" stroke-linecap="round"/>
<path d="M97.4,94.7 l0.1,3.1" stroke="#fff" stroke-opacity="0.7" stroke-width="0.8" fill="none"/>
<path d="M112.2,126.8 Q112.7,125.8 114.6,123.7 Q115.4,121.0 112.4,120.5 Q112.2,122.3 108.5,120.6" stroke="#2f3385" stroke-width="1.2" fill="none" stroke-linecap="round"/>
<path d="M118.5,85.1 Q118.9,88.0 119.5,87.7 Q117.9,88.6 116.7,88.2 Q116.2,87.1 114.2,87.1" stroke="#8fae78" stroke-width="1.1" fill="none" stroke-linecap="round"/>
<path d="M119.7,85.0 l2.4,-1.7" stroke="#fff" stroke-opacity="0.7" stroke-width="0.8" fill="none"/>
<path d="M94.2,108.5 Q92.2,107.1 90.9,107.7" stroke="#6ab870" stroke-width="0.8" fill="none" stroke-linecap="round"/>
<path d="M95.9,109.2 l-2.5,1.5" stroke="#fff" stroke-opacity="0.7" stroke-width="0.8" fill="none"/>
<path d="M121.3,125.9 Q122.2,122.9 122.7,123.6" stroke="#6a44a0" stroke-width="1.0" fill="none" stroke-linecap="round"/>
<path d="M135.6,109.1 Q136.7,107.1 136.8,106.1" stroke="#c23a32" stroke-width="0.7" fill="none" stroke-linecap="round"/>
<path d="M122.4,141.6 Q120.9,142.3 119.1,139.7 Q118.4,140.7 117.2,143.0" stroke="#5a4aa8" stroke-width="0.7" fill="none" stroke-linecap="round"/>
<path d="M119.1,126.6 Q118.3,130.1 118.8,129.6 Q120.2,129.4 121.3,131.3" stroke="#4a48a8" stroke-width="0.7" fill="none" stroke-linecap="round"/>
<path d="M119.0,126.7 l1.6,-1.3" stroke="#fff" stroke-opacity="0.7" stroke-width="0.8" fill="none"/>
<path d="M98.3,113.7 Q97.0,114.7 98.6,117.2 Q98.9,117.7 100.4,120.3 Q103.4,119.7 103.7,118.8" stroke="#237f33" stroke-width="1.0" fill="none" stroke-linecap="round"/>
<path d="M87.8,107.7 Q84.4,108.6 84.6,110.0 Q83.8,107.1 81.2,108.0 Q78.7,109.4 78.8,111.1" stroke="#4fae5a" stroke-width="0.9" fill="none" stroke-linecap="round"/>
<path d="M94.5,126.7 Q96.0,128.2 97.3,128.2" stroke="#237f33" stroke-width="0.8" fill="none" stroke-linecap="round"/>
<path d="M119.7,131.7 Q121.2,130.5 123.2,133.0 Q122.2,134.8 125.0,136.4 Q124.0,135.8 121.7,138.2" stroke="#5a4aa8" stroke-width="1.1" fill="none" stroke-linecap="round"/>
<path d="M102.6,128.3 Q103.7,130.1 106.0,129.7 Q106.7,127.4 109.7,129.2 Q110.8,133.0 109.8,132.9" stroke="#2f3385" stroke-width="1.0" fill="none" stroke-linecap="round"/>
<path d="M103.0,128.8 l0.8,1.4" stroke="#fff" stroke-opacity="0.7" stroke-width="0.8" fill="none"/>
<path d="M144.5,98.9 Q145.6,97.9 146.1,97.6" stroke="#7a3a8a" stroke-width="1.0" fill="none" stroke-linecap="round"/>
<path d="M101.0,92.2 Q97.7,91.9 97.4,93.1" stroke="#237f33" stroke-width="1.2" fill="none" stroke-linecap="round"/>
<path d="M94.1,98.8 Q94.2,98.2 97.9,98.6" stroke="#1f7030" stroke-width="1.2" fill="none" stroke-linecap="round"/>
<path d="M95.6,98.2 l-0.4,1.5" stroke="#fff" stroke-opacity="0.7" stroke-width="0.8" fill="none"/>
<path d="M86.0,102.6 Q85.1,101.5 87.7,100.8 Q87.9,102.5 90.1,101.6" stroke="#1f7030" stroke-width="0.8" fill="none" stroke-linecap="round"/>
<path d="M86.2,102.7 l0.4,-1.5" stroke="#fff" stroke-opacity="0.7" stroke-width="0.8" fill="none"/>
<path d="M128.4,139.3 Q126.2,141.8 126.3,140.4 Q124.6,142.3 124.1,141.4" stroke="#3e40a0" stroke-width="1.0" fill="none" stroke-linecap="round"/>
<path d="M129.3,141.2 l-1.7,-1.8" stroke="#fff" stroke-opacity="0.7" stroke-width="0.8" fill="none"/>
<path d="M147.2,95.5 Q146.2,97.8 148.2,99.3" stroke="#5c3490" stroke-width="1.1" fill="none" stroke-linecap="round"/>
<path d="M135.9,89.0 Q137.9,91.0 137.1,91.5 Q136.1,94.3 135.3,93.7 Q135.3,94.5 132.6,92.9" stroke="#6a3a98" stroke-width="0.8" fill="none" stroke-linecap="round"/>
<path d="M135.8,91.0 l2.8,1.0" stroke="#fff" stroke-opacity="0.7" stroke-width="0.8" fill="none"/>
<path d="M99.9,107.2 Q100.3,107.3 100.4,103.4 Q102.6,103.8 104.2,103.2" stroke="#3aa34a" stroke-width="1.0" fill="none" stroke-linecap="round"/>
<path d="M105.0,142.0 Q104.4,140.7 104.1,139.8" stroke="#5a5ab8" stroke-width="0.7" fill="none" stroke-linecap="round"/>
<path d="M90.2,108.9 Q91.3,109.5 91.4,107.1" stroke="#2f9a3f" stroke-width="1.0" fill="none" stroke-linecap="round"/>
<path d="M90.6,109.5 l-0.5,3.1" stroke="#fff" stroke-opacity="0.7" stroke-width="0.8" fill="none"/>
<path d="M93.9,107.3 Q92.7,105.0 93.8,104.1 Q95.4,103.4 96.8,103.0" stroke="#6ab870" stroke-width="0.8" fill="none" stroke-linecap="round"/>
<path d="M93.5,107.8 l2.6,1.7" stroke="#fff" stroke-opacity="0.7" stroke-width="0.8" fill="none"/>
<path d="M93.0,92.9 Q93.2,93.9 90.4,93.4" stroke="#6ab870" stroke-width="1.2" fill="none" stroke-linecap="round"/>
<path d="M92.0,93.5 l2.6,-0.8" stroke="#fff" stroke-opacity="0.7" stroke-width="0.8" fill="none"/>
<path d="M101.3,87.5 Q101.7,87.1 99.8,89.5" stroke="#2f9a3f" stroke-width="1.1" fill="none" stroke-linecap="round"/>
<path d="M102.6,88.9 l-2.2,2.5" stroke="#fff" stroke-opacity="0.7" stroke-width="0.8" fill="none"/>
<path d="M105.9,115.8 Q103.3,113.8 103.7,114.7" stroke="#3aa34a" stroke-width="1.1" fill="none" stroke-linecap="round"/>
<path d="M104.1,114.5 l2.4,-2.0" stroke="#fff" stroke-opacity="0.7" stroke-width="0.8" fill="none"/>
<path d="M133.2,117.5 Q131.3,118.8 131.1,119.4" stroke="#80408a" stroke-width="1.0" fill="none" stroke-linecap="round"/>
<path d="M92.4,129.4 Q91.7,127.6 90.7,128.4 Q90.6,128.0 89.7,126.7 Q89.6,125.0 88.6,125.0" stroke="#237f33" stroke-width="1.0" fill="none" stroke-linecap="round"/>
<path d="M94.9,126.0 Q97.3,124.8 97.4,125.3 Q98.2,125.4 99.4,123.6" stroke="#1f7030" stroke-width="1.1" fill="none" stroke-linecap="round"/>
<path d="M94.9,127.9 l3.3,-1.0" stroke="#fff" stroke-opacity="0.7" stroke-width="0.8" fill="none"/>
<path d="M122.1,104.3 Q123.7,103.6 122.6,101.5 Q123.5,99.2 121.6,98.8 Q123.0,96.2 124.0,97.1" stroke="#7a3a8a" stroke-width="1.0" fill="none" stroke-linecap="round"/>
<path d="M130.4,104.8 Q132.0,104.1 131.9,106.1" stroke="#b03040" stroke-width="1.0" fill="none" stroke-linecap="round"/>
<path d="M141.4,108.3 Q141.1,109.0 143.9,109.4 Q145.4,111.0 146.5,110.3" stroke="#8a3050" stroke-width="1.0" fill="none" stroke-linecap="round"/>
<path d="M140.5,108.5 l2.6,-0.8" stroke="#fff" stroke-opacity="0.7" stroke-width="0.8" fill="none"/>
<path d="M123.9,110.7 Q122.2,111.5 121.1,111.5" stroke="#35388a" stroke-width="0.8" fill="none" stroke-linecap="round"/>
<path d="M112.2,129.8 Q112.6,129.4 113.5,127.4 Q114.5,125.2 112.5,124.9" stroke="#2f3385" stroke-width="1.2" fill="none" stroke-linecap="round"/>
<path d="M112.3,130.0 l-2.2,1.5" stroke="#fff" stroke-opacity="0.7" stroke-width="0.8" fill="none"/>
<path d="M118.1,139.4 Q121.1,142.3 121.2,141.9" stroke="#4a50b0" stroke-width="1.2" fill="none" stroke-linecap="round"/>
<path d="M111.4,140.2 Q111.6,141.4 109.0,141.9 Q108.7,139.7 107.0,139.7 Q105.6,137.5 104.3,138.5" stroke="#5a5ab8" stroke-width="1.2" fill="none" stroke-linecap="round"/>
<path d="M93.9,111.0 Q91.3,111.7 92.2,113.7" stroke="#4fae5a" stroke-width="0.9" fill="none" stroke-linecap="round"/>
<path d="M93.0,112.5 l3.4,0.2" stroke="#fff" stroke-opacity="0.7" stroke-width="0.8" fill="none"/>
<path d="M112.8,92.7 Q110.0,91.3 110.9,93.7" stroke="#e8e0b0" stroke-width="1.2" fill="none" stroke-linecap="round"/>
<path d="M120.0,100.8 Q118.9,99.3 116.0,100.2 Q114.8,98.6 114.1,96.7 Q113.8,99.4 111.0,99.2" stroke="#5c3490" stroke-width="0.7" fill="none" stroke-linecap="round"/>
<path d="M118.0,100.3 l-1.4,-1.4" stroke="#fff" stroke-opacity="0.7" stroke-width="0.8" fill="none"/>
<path d="M126.0,96.5 Q125.4,98.3 126.3,99.8 Q126.9,102.3 128.3,102.5" stroke="#6a3a98" stroke-width="0.7" fill="none" stroke-linecap="round"/>
<path d="M114.8,89.6 Q113.4,90.0 111.3,91.0" stroke="#e8e0b0" stroke-width="1.1" fill="none" stroke-linecap="round"/>
<path d="M113.2,89.6 l0.5,-2.5" stroke="#fff" stroke-opacity="0.7" stroke-width="0.8" fill="none"/>
<path d="M97.4,99.0 Q98.4,101.5 96.6,102.0" stroke="#6ab870" stroke-width="0.8" fill="none" stroke-linecap="round"/>
<path d="M100.8,125.6 Q98.3,123.6 99.4,123.8 Q100.9,121.6 100.2,121.6 Q101.9,120.9 101.1,119.4" stroke="#6ab870" stroke-width="1.0" fill="none" stroke-linecap="round"/>
<path d="M100.9,126.0 l1.7,0.8" stroke="#fff" stroke-opacity="0.7" stroke-width="0.8" fill="none"/>
<path d="M111.3,119.9 Q112.5,119.6 109.8,116.6 Q111.5,115.3 111.6,113.5" stroke="#5a5ab8" stroke-width="0.8" fill="none" stroke-linecap="round"/>
<path d="M111.8,120.1 l-1.1,-1.7" stroke="#fff" stroke-opacity="0.7" stroke-width="0.8" fill="none"/>
<path d="M96.5,99.3 Q97.3,98.4 98.4,98.0 Q100.5,98.9 100.6,97.6" stroke="#6ab870" stroke-width="1.1" fill="none" stroke-linecap="round"/>
<path d="M145.6,108.3 Q145.8,109.0 145.8,110.8" stroke="#b03040" stroke-width="0.7" fill="none" stroke-linecap="round"/>
<path d="M144.2,109.9 l-3.4,0.5" stroke="#fff" stroke-opacity="0.7" stroke-width="0.8" fill="none"/>
<path d="M100.5,138.7 Q102.1,138.1 100.6,135.5" stroke="#6ab870" stroke-width="0.8" fill="none" stroke-linecap="round"/>
<path d="M102.2,138.5 l-0.2,-2.8" stroke="#fff" stroke-opacity="0.7" stroke-width="0.8" fill="none"/>
<path d="M120.8,121.2 Q121.7,117.9 120.5,118.1" stroke="#3e40a0" stroke-width="1.2" fill="none" stroke-linecap="round"/>
<path d="M120.2,120.2 l-3.5,0.1" stroke="#fff" stroke-opacity="0.7" stroke-width="0.8" fill="none"/>
<path d="M138.7,112.6 Q139.0,109.9 141.2,110.8 Q142.3,111.1 144.1,109.5" stroke="#4a50b0" stroke-width="0.8" fill="none" stroke-linecap="round"/>
<path d="M139.5,113.9 l-1.5,-1.9" stroke="#fff" stroke-opacity="0.7" stroke-width="0.8" fill="none"/>
<path d="M89.9,103.7 Q92.3,102.5 93.3,103.8" stroke="#237f33" stroke-width="1.1" fill="none" stroke-linecap="round"/>
<path d="M89.2,103.2 l-1.7,1.5" stroke="#fff" stroke-opacity="0.7" stroke-width="0.8" fill="none"/>
<path d="M91.3,105.3 Q89.5,108.1 88.2,107.2 Q87.8,107.3 85.8,104.6" stroke="#2f9a3f" stroke-width="1.2" fill="none" stroke-linecap="round"/>
<path d="M85.1,103.1 Q85.5,99.9 84.0,100.3 Q84.3,100.1 81.2,101.3" stroke="#2f9a3f" stroke-width="1.1" fill="none" stroke-linecap="round"/>
<path d="M84.1,103.2 l-2.7,-1.4" stroke="#fff" stroke-opacity="0.7" stroke-width="0.8" fill="none"/>
<path d="M137.6,101.1 Q138.5,103.7 136.1,103.8 Q135.9,105.9 133.5,105.4 Q133.4,105.6 130.5,104.8" stroke="#b03040" stroke-width="1.0" fill="none" stroke-linecap="round"/>
<path d="M138.4,100.6 l0.2,2.3" stroke="#fff" stroke-opacity="0.7" stroke-width="0.8" fill="none"/>
<path d="M125.9,127.3 Q126.5,126.6 127.6,125.8 Q128.0,124.9 129.9,125.7" stroke="#3e40a0" stroke-width="1.1" fill="none" stroke-linecap="round"/>
<path d="M126.6,127.4 l1.2,3.2" stroke="#fff" stroke-opacity="0.7" stroke-width="0.8" fill="none"/>
<path d="M139.0,124.6 Q141.8,124.5 142.7,123.7 Q143.3,123.6 146.4,122.4" stroke="#5c3490" stroke-width="0.9" fill="none" stroke-linecap="round"/>
<path d="M83.3,98.7 Q81.8,99.4 82.1,100.9 Q81.5,99.4 84.4,101.6" stroke="#4fae5a" stroke-width="1.2" fill="none" stroke-linecap="round"/>
<path d="M117.0,138.8 Q117.6,136.6 117.4,135.1 Q117.9,134.2 119.6,132.1 Q118.9,130.1 118.2,128.7" stroke="#2f3385" stroke-width="1.0" fill="none" stroke-linecap="round"/>
<path d="M115.6,138.7 l0.1,2.9" stroke="#fff" stroke-opacity="0.7" stroke-width="0.8" fill="none"/>
<path d="M129.7,128.3 Q128.6,127.1 129.4,125.4 Q131.9,124.4 131.4,123.3 Q131.2,123.7 134.3,122.9" stroke="#3e40a0" stroke-width="1.2" fill="none" stroke-linecap="round"/>
<path d="M108.1,91.6 Q110.1,92.1 110.4,93.5" stroke="#cbc39f" stroke-width="1.2" fill="none" stroke-linecap="round"/>
<path d="M92.0,93.6 Q89.4,96.4 88.8,95.6" stroke="#3aa34a" stroke-width="0.9" fill="none" stroke-linecap="round"/>
<path d="M111.7,126.8 Q113.2,126.0 113.8,128.3" stroke="#35388a" stroke-width="1.1" fill="none" stroke-linecap="round"/>
<path d="M112.3,125.1 l0.8,-2.6" stroke="#fff" stroke-opacity="0.7" stroke-width="0.8" fill="none"/>
<path d="M108.2,133.4 Q108.4,133.1 111.0,130.9 Q108.2,129.0 108.0,128.6" stroke="#3f45a5" stroke-width="1.2" fill="none" stroke-linecap="round"/>
<path d="M109.2,132.4 l1.6,2.5" stroke="#fff" stroke-opacity="0.7" stroke-width="0.8" fill="none"/>
<path d="M118.4,85.8 Q120.3,84.1 118.4,82.6 Q118.7,82.3 117.9,79.6" stroke="#e8e0b0" stroke-width="1.0" fill="none" stroke-linecap="round"/>
<path d="M98.7,136.1 Q98.9,138.4 97.3,138.6 Q98.9,139.5 99.1,140.9 Q99.7,140.1 102.0,140.5" stroke="#2f9a3f" stroke-width="1.1" fill="none" stroke-linecap="round"/>
<path d="M102.0,83.9 Q101.2,81.4 103.9,80.6" stroke="#8fae78" stroke-width="1.0" fill="none" stroke-linecap="round"/>
<path d="M100.0,83.7 l0.9,-1.7" stroke="#fff" stroke-opacity="0.7" stroke-width="0.8" fill="none"/>
<path d="M121.1,118.0 Q120.2,116.6 118.7,117.1" stroke="#3e40a0" stroke-width="1.0" fill="none" stroke-linecap="round"/>
<path d="M146.3,92.4 Q144.5,91.8 142.8,92.2" stroke="#c84a3a" stroke-width="1.0" fill="none" stroke-linecap="round"/>
<path d="M131.7,99.1 Q133.1,100.0 133.2,97.4" stroke="#b03040" stroke-width="1.1" fill="none" stroke-linecap="round"/>
<path d="M137.2,111.0 Q136.5,112.4 137.2,113.1" stroke="#35388a" stroke-width="0.9" fill="none" stroke-linecap="round"/>
<path d="M138.6,112.6 l-1.8,-0.7" stroke="#fff" stroke-opacity="0.7" stroke-width="0.8" fill="none"/>
<path d="M100.5,84.0 Q99.8,83.9 102.4,81.5 Q105.4,82.6 105.0,83.5 Q107.2,82.4 107.2,81.2" stroke="#9d9a74" stroke-width="1.1" fill="none" stroke-linecap="round"/>
<path d="M118.4,91.1 Q118.9,89.6 115.7,91.7 Q113.1,89.2 113.6,89.9" stroke="#8a3050" stroke-width="1.2" fill="none" stroke-linecap="round"/>
<path d="M118.0,90.5 l-2.2,-1.5" stroke="#fff" stroke-opacity="0.7" stroke-width="0.8" fill="none"/>
<path d="M89.9,123.6 Q90.9,122.1 91.2,121.1 Q89.8,120.6 91.3,118.2" stroke="#6ab870" stroke-width="0.9" fill="none" stroke-linecap="round"/>
<path d="M90.3,123.6 l-2.3,1.7" stroke="#fff" stroke-opacity="0.7" stroke-width="0.8" fill="none"/>
<path d="M132.5,104.8 Q131.2,106.9 131.6,107.9" stroke="#c23a32" stroke-width="0.8" fill="none" stroke-linecap="round"/>
<path d="M95.3,106.0 Q97.0,106.6 97.6,106.6 Q96.4,105.8 97.7,104.3 Q96.5,102.3 98.2,102.0" stroke="#1f7030" stroke-width="1.1" fill="none" stroke-linecap="round"/>
<path d="M133.4,122.7 Q134.1,121.5 135.7,120.3 Q134.6,118.6 135.2,117.1 Q134.4,114.7 136.5,114.1" stroke="#8a3a70" stroke-width="0.9" fill="none" stroke-linecap="round"/>
<path d="M109.1,91.7 Q111.3,90.8 111.6,90.2 Q113.5,88.6 111.4,87.3" stroke="#a89070" stroke-width="1.2" fill="none" stroke-linecap="round"/>
<path d="M107.6,92.9 l1.3,1.2" stroke="#fff" stroke-opacity="0.7" stroke-width="0.8" fill="none"/>
<path d="M135.0,107.0 Q134.1,106.3 136.9,105.4 Q135.8,104.2 135.7,103.2" stroke="#6a3a98" stroke-width="0.7" fill="none" stroke-linecap="round"/>
<path d="M142.5,108.8 Q143.5,109.1 145.5,109.4 Q145.5,109.9 148.2,108.0" stroke="#7a3a8a" stroke-width="1.0" fill="none" stroke-linecap="round"/>
<path d="M103.7,138.2 Q106.0,136.5 105.7,137.4 Q105.9,138.3 107.9,137.6 Q106.9,140.1 107.8,139.8" stroke="#4fae5a" stroke-width="1.0" fill="none" stroke-linecap="round"/>
<path d="M83.0,103.9 Q83.6,106.2 81.3,107.2 Q78.0,106.6 78.2,109.5 Q77.1,111.2 79.7,113.0" stroke="#1f7030" stroke-width="1.0" fill="none" stroke-linecap="round"/>
<path d="M83.1,105.3 l1.1,1.5" stroke="#fff" stroke-opacity="0.7" stroke-width="0.8" fill="none"/>
<path d="M101.0,97.6 Q101.4,98.2 103.5,97.3" stroke="#1f7030" stroke-width="1.0" fill="none" stroke-linecap="round"/>
<path d="M100.8,96.4 l2.1,0.8" stroke="#fff" stroke-opacity="0.7" stroke-width="0.8" fill="none"/>
<path d="M98.8,85.6 Q98.9,88.2 101.8,87.5 Q103.3,89.7 104.8,89.5 Q105.2,91.1 102.8,92.4" stroke="#6ab870" stroke-width="1.2" fill="none" stroke-linecap="round"/>
<path d="M99.0,86.0 l0.1,2.1" stroke="#fff" stroke-opacity="0.7" stroke-width="0.8" fill="none"/>
<path d="M85.8,100.4 Q88.5,100.1 87.7,99.2 Q86.8,97.2 89.8,98.6" stroke="#6ab870" stroke-width="1.2" fill="none" stroke-linecap="round"/>
<path d="M127.3,92.2 Q129.6,92.9 127.9,90.0 Q128.2,90.5 125.6,89.8" stroke="#8a3050" stroke-width="0.9" fill="none" stroke-linecap="round"/>
<path d="M88.2,94.6 Q89.2,95.8 86.3,97.7 Q87.9,96.9 89.2,99.7 Q88.5,101.0 87.6,102.8" stroke="#4fae5a" stroke-width="1.2" fill="none" stroke-linecap="round"/>
<path d="M87.1,95.8 l0.1,-2.5" stroke="#fff" stroke-opacity="0.7" stroke-width="0.8" fill="none"/>
<path d="M123.4,118.7 Q122.0,116.9 121.0,117.1 Q118.9,116.2 118.2,117.6" stroke="#80408a" stroke-width="1.0" fill="none" stroke-linecap="round"/>
<path d="M122.2,120.0 l0.2,2.0" stroke="#fff" stroke-opacity="0.7" stroke-width="0.8" fill="none"/>
<path d="M126.5,135.5 Q128.8,137.1 128.4,136.0 Q126.5,135.2 128.5,138.1 Q128.8,136.9 129.6,139.7" stroke="#5a4aa8" stroke-width="0.9" fill="none" stroke-linecap="round"/>
<path d="M125.8,134.2 l1.3,-1.4" stroke="#fff" stroke-opacity="0.7" stroke-width="0.8" fill="none"/>
<path d="M137.3,87.5 Q136.9,90.5 137.6,89.7 Q137.0,88.6 135.3,89.7" stroke="#7a3a8a" stroke-width="0.7" fill="none" stroke-linecap="round"/>
<path d="M113.1,134.0 Q116.6,134.7 117.1,134.2 Q117.4,135.3 116.2,138.1 Q116.8,140.2 113.4,140.8" stroke="#2f3385" stroke-width="0.9" fill="none" stroke-linecap="round"/>
<path d="M113.9,86.0 Q113.6,85.5 111.4,83.2" stroke="#b8b68a" stroke-width="1.1" fill="none" stroke-linecap="round"/>
<path d="M129.0,107.0 Q127.4,110.4 126.5,110.1 Q124.8,112.3 123.0,111.8" stroke="#5c3490" stroke-width="0.9" fill="none" stroke-linecap="round"/>
<path d="M110.0,134.4 Q108.6,134.8 110.2,132.1 Q110.8,133.4 112.5,132.5 Q113.4,133.0 113.8,134.4" stroke="#35388a" stroke-width="0.9" fill="none" stroke-linecap="round"/>
<path d="M85.1,115.8 Q85.1,116.4 82.8,115.3" stroke="#6ab870" stroke-width="0.9" fill="none" stroke-linecap="round"/>
<path d="M86.0,116.7 l0.6,-1.6" stroke="#fff" stroke-opacity="0.7" stroke-width="0.8" fill="none"/>
<path d="M111.5,139.6 Q113.2,142.3 112.9,141.2 Q113.5,143.8 111.4,142.7 Q111.3,141.0 109.3,142.6" stroke="#4a50b0" stroke-width="0.9" fill="none" stroke-linecap="round"/>
<path d="M105.5,95.6 Q105.6,96.5 104.7,97.9 Q103.8,99.4 106.6,99.4" stroke="#2f9a3f" stroke-width="1.0" fill="none" stroke-linecap="round"/>
<path d="M96.0,129.7 Q92.9,130.6 93.4,128.2" stroke="#4fae5a" stroke-width="1.1" fill="none" stroke-linecap="round"/>
<path d="M94.9,128.4 l-0.4,-2.5" stroke="#fff" stroke-opacity="0.7" stroke-width="0.8" fill="none"/>
<path d="M123.9,104.6 Q123.5,107.2 126.3,106.5" stroke="#6a3a98" stroke-width="1.1" fill="none" stroke-linecap="round"/>
<path d="M100.2,118.6 Q98.8,118.5 96.3,119.6 Q95.9,120.4 96.9,123.5 Q96.9,125.8 95.6,127.2" stroke="#1f7030" stroke-width="1.2" fill="none" stroke-linecap="round"/>
<path d="M99.7,120.3 l0.5,1.6" stroke="#fff" stroke-opacity="0.7" stroke-width="0.8" fill="none"/>
<path d="M111.8,130.1 Q111.4,130.8 112.1,127.8 Q111.8,126.0 109.8,127.9" stroke="#4a50b0" stroke-width="1.0" fill="none" stroke-linecap="round"/>
<path d="M117.9,124.8 Q120.1,125.0 119.0,122.3 Q118.7,122.5 118.5,119.6" stroke="#2f3385" stroke-width="1.0" fill="none" stroke-linecap="round"/>
<path d="M120.6,92.7 Q120.7,95.0 118.4,94.8" stroke="#c84a3a" stroke-width="1.0" fill="none" stroke-linecap="round"/>
<path d="M120.7,90.8 l-0.2,-1.6" stroke="#fff" stroke-opacity="0.7" stroke-width="0.8" fill="none"/>
<path d="M123.4,127.6 Q125.7,127.3 125.6,126.9 Q124.1,128.3 125.9,129.2 Q124.7,131.0 127.3,131.0" stroke="#5a4aa8" stroke-width="1.0" fill="none" stroke-linecap="round"/>
<path d="M146.4,107.8 Q147.2,110.7 148.2,110.1 Q146.7,112.3 147.4,112.9 Q144.0,114.6 144.5,112.8" stroke="#c23a32" stroke-width="0.9" fill="none" stroke-linecap="round"/>
<path d="M100.9,94.0 Q101.1,96.7 100.8,97.4 Q99.6,99.1 101.8,100.6" stroke="#6ab870" stroke-width="1.0" fill="none" stroke-linecap="round"/>
<path d="M135.6,124.1 Q138.7,126.4 138.2,126.7" stroke="#6a3a98" stroke-width="0.8" fill="none" stroke-linecap="round"/>
<path d="M136.5,126.1 l0.9,-2.0" stroke="#fff" stroke-opacity="0.7" stroke-width="0.8" fill="none"/>
<path d="M105.6,139.7 Q106.2,137.6 106.6,136.0" stroke="#5a5ab8" stroke-width="0.8" fill="none" stroke-linecap="round"/>
<path d="M87.7,118.8 Q90.0,116.1 90.9,116.8" stroke="#1f7030" stroke-width="0.9" fill="none" stroke-linecap="round"/>
<path d="M140.8,115.0 Q139.5,113.3 141.0,112.7" stroke="#b03040" stroke-width="1.0" fill="none" stroke-linecap="round"/>
<path d="M139.7,115.8 l-1.3,-1.2" stroke="#fff" stroke-opacity="0.7" stroke-width="0.8" fill="none"/>
<path d="M86.9,119.2 Q87.8,120.4 85.0,121.7 Q85.8,122.4 87.5,123.6 Q87.0,123.6 88.9,120.8" stroke="#6ab870" stroke-width="1.0" fill="none" stroke-linecap="round"/>
<path d="M111.0,136.2 Q111.9,136.0 110.0,133.0 Q108.6,133.0 106.9,132.3 Q108.2,128.7 107.2,129.0" stroke="#2f3385" stroke-width="1.0" fill="none" stroke-linecap="round"/>
<path d="M98.0,98.7 Q98.6,97.4 99.5,96.1" stroke="#3aa34a" stroke-width="0.7" fill="none" stroke-linecap="round"/>
<path d="M86.6,101.5 Q88.7,98.9 90.1,100.0 Q90.9,99.5 93.6,98.4 Q96.3,99.3 96.9,96.4" stroke="#4fae5a" stroke-width="1.1" fill="none" stroke-linecap="round"/>
<path d="M114.5,87.5 Q111.9,88.9 111.1,87.4 Q111.3,85.1 107.8,86.7" stroke="#e8e0b0" stroke-width="1.0" fill="none" stroke-linecap="round"/>
<path d="M114.9,89.3 l-2.5,-1.3" stroke="#fff" stroke-opacity="0.7" stroke-width="0.8" fill="none"/>
<path d="M130.7,114.9 Q130.9,115.4 128.2,113.5 Q127.4,111.6 126.4,111.3 Q124.9,113.1 123.7,112.2" stroke="#7448a8" stroke-width="1.0" fill="none" stroke-linecap="round"/>
<path d="M125.9,102.8 Q123.9,102.7 122.7,104.1 Q121.9,103.9 121.6,107.3 Q118.4,107.8 118.4,108.1" stroke="#6a3a98" stroke-width="1.1" fill="none" stroke-linecap="round"/>
<path d="M127.1,101.4 l2.1,1.5" stroke="#fff" stroke-opacity="0.7" stroke-width="0.8" fill="none"/>
<path d="M110.9,127.8 Q110.5,125.1 113.4,126.5 Q112.9,127.3 116.2,126.3" stroke="#2f3385" stroke-width="1.1" fill="none" stroke-linecap="round"/>
<path d="M127.3,122.5 Q125.2,124.2 125.0,122.3 Q124.3,125.0 123.8,124.3 Q124.1,125.5 123.7,126.7" stroke="#5c3490" stroke-width="0.9" fill="none" stroke-linecap="round"/>
<path d="M125.5,120.8 l-1.6,0.1" stroke="#fff" stroke-opacity="0.7" stroke-width="0.8" fill="none"/>
<path d="M134.8,118.8 Q135.7,118.3 136.2,120.6 Q138.3,122.1 137.8,122.3" stroke="#2f3385" stroke-width="0.8" fill="none" stroke-linecap="round"/>
<path d="M135.6,119.1 l-1.2,-1.7" stroke="#fff" stroke-opacity="0.7" stroke-width="0.8" fill="none"/>
<path d="M84.2,95.8 Q85.0,96.5 85.9,98.1" stroke="#3aa34a" stroke-width="0.8" fill="none" stroke-linecap="round"/>
<path d="M85.6,94.6 l1.3,2.7" stroke="#fff" stroke-opacity="0.7" stroke-width="0.8" fill="none"/>
<path d="M83.8,102.2 Q86.3,100.4 85.1,99.6" stroke="#3aa34a" stroke-width="1.2" fill="none" stroke-linecap="round"/>
<path d="M92.1,121.5 Q89.1,119.5 89.5,119.9 Q90.8,118.6 91.4,117.4 Q94.0,120.1 93.9,119.3" stroke="#1f7030" stroke-width="0.7" fill="none" stroke-linecap="round"/>
<path d="M91.3,121.0 l-2.1,-1.2" stroke="#fff" stroke-opacity="0.7" stroke-width="0.8" fill="none"/>
<path d="M115.0,134.0 Q116.9,132.4 117.0,132.0 Q115.8,132.4 118.5,129.6 Q118.2,127.3 117.5,126.9" stroke="#35388a" stroke-width="1.2" fill="none" stroke-linecap="round"/>
<path d="M141.9,106.8 Q139.7,105.9 138.7,105.3 Q139.8,102.7 137.7,101.9 Q136.0,103.1 134.2,102.3" stroke="#a82c2a" stroke-width="0.9" fill="none" stroke-linecap="round"/>
<path d="M142.2,106.7 l0.1,-3.4" stroke="#fff" stroke-opacity="0.7" stroke-width="0.8" fill="none"/>
<path d="M111.1,88.7 Q113.9,86.6 113.2,88.0" stroke="#9d9a74" stroke-width="1.0" fill="none" stroke-linecap="round"/>
<path d="M112.0,87.9 l2.7,1.7" stroke="#fff" stroke-opacity="0.7" stroke-width="0.8" fill="none"/>
<path d="M124.4,114.9 Q122.8,114.9 122.9,112.1" stroke="#5c3490" stroke-width="1.1" fill="none" stroke-linecap="round"/>
<path d="M125.0,113.7 l0.1,-3.5" stroke="#fff" stroke-opacity="0.7" stroke-width="0.8" fill="none"/>
<path d="M136.0,89.0 Q135.9,89.8 133.5,90.7 Q133.0,91.7 130.6,90.0" stroke="#7a3a8a" stroke-width="0.9" fill="none" stroke-linecap="round"/>
<path d="M114.8,86.7 Q117.0,83.1 115.5,83.5" stroke="#8fae78" stroke-width="0.9" fill="none" stroke-linecap="round"/>
<path d="M113.7,86.4 l-1.7,2.7" stroke="#fff" stroke-opacity="0.7" stroke-width="0.8" fill="none"/>
<path d="M103.0,115.0 Q103.8,113.0 102.6,113.0 Q104.2,111.6 103.4,111.1" stroke="#237f33" stroke-width="1.0" fill="none" stroke-linecap="round"/>
<path d="M104.1,114.1 l1.7,-2.2" stroke="#fff" stroke-opacity="0.7" stroke-width="0.8" fill="none"/>
<path d="M116.1,95.0 Q116.9,92.4 117.6,92.9 Q117.7,90.8 119.2,91.0 Q118.5,88.5 117.3,89.3" stroke="#8a3050" stroke-width="0.8" fill="none" stroke-linecap="round"/>
<path d="M116.2,93.4 l-2.6,-2.1" stroke="#fff" stroke-opacity="0.7" stroke-width="0.8" fill="none"/>
<path d="M124.0,113.8 Q123.1,113.5 123.1,117.2" stroke="#8a3a70" stroke-width="1.1" fill="none" stroke-linecap="round"/>
<path d="M131.1,87.1 Q131.1,87.1 128.7,89.8 Q130.2,92.2 129.8,93.3" stroke="#b03040" stroke-width="0.7" fill="none" stroke-linecap="round"/>
<path d="M93.1,133.7 Q94.5,133.4 94.0,137.1 Q91.4,138.1 90.7,138.0 Q89.6,135.3 88.0,135.7" stroke="#4fae5a" stroke-width="0.8" fill="none" stroke-linecap="round"/>
<path d="M88.8,103.8 Q87.7,102.8 86.5,104.1 Q87.6,104.8 84.9,105.7 Q82.4,107.2 83.6,107.7" stroke="#237f33" stroke-width="0.8" fill="none" stroke-linecap="round"/>
<path d="M87.8,102.4 l-2.5,-0.9" stroke="#fff" stroke-opacity="0.7" stroke-width="0.8" fill="none"/>
<path d="M133.4,128.6 Q134.8,129.4 133.2,131.0" stroke="#8a3a70" stroke-width="1.0" fill="none" stroke-linecap="round"/>
<path d="M117.6,127.5 Q115.3,130.2 114.9,129.9 Q112.8,131.7 111.5,131.1" stroke="#2f3385" stroke-width="1.2" fill="none" stroke-linecap="round"/>
<path d="M117.4,128.3 l-2.0,-2.4" stroke="#fff" stroke-opacity="0.7" stroke-width="0.8" fill="none"/>
<path d="M84.3,101.5 Q86.2,100.0 86.6,101.8 Q87.2,103.1 88.9,101.7 Q91.3,103.6 90.1,103.7" stroke="#6ab870" stroke-width="1.2" fill="none" stroke-linecap="round"/>
<path d="M83.5,103.1 l-0.2,2.9" stroke="#fff" stroke-opacity="0.7" stroke-width="0.8" fill="none"/>
<path d="M95.6,130.5 Q97.2,131.1 97.1,132.0 Q95.2,133.8 96.9,134.2 Q95.4,135.3 94.7,134.5" stroke="#3aa34a" stroke-width="1.1" fill="none" stroke-linecap="round"/>
<path d="M88.6,112.9 Q87.3,114.0 87.3,116.2 Q86.0,116.1 84.2,117.8" stroke="#4fae5a" stroke-width="0.8" fill="none" stroke-linecap="round"/>
<path d="M89.4,113.7 l2.7,-2.2" stroke="#fff" stroke-opacity="0.7" stroke-width="0.8" fill="none"/>
<path d="M126.5,137.2 Q127.6,139.8 125.1,139.0" stroke="#5a4aa8" stroke-width="1.1" fill="none" stroke-linecap="round"/>
<path d="M114.1,88.0 Q114.5,87.1 112.1,87.3 Q111.3,87.8 111.6,89.3" stroke="#cbc39f" stroke-width="0.8" fill="none" stroke-linecap="round"/>
<path d="M133.2,135.1 Q133.3,137.3 131.3,138.6" stroke="#7448a8" stroke-width="1.1" fill="none" stroke-linecap="round"/>
<path d="M88.5,96.7 Q89.9,94.5 88.9,94.1 Q86.6,95.9 86.3,93.8" stroke="#2f9a3f" stroke-width="1.0" fill="none" stroke-linecap="round"/>
<path d="M139.6,112.8 Q140.0,110.4 138.2,111.0 Q136.9,110.2 138.2,108.7" stroke="#4a50b0" stroke-width="1.2" fill="none" stroke-linecap="round"/>
<path d="M138.7,112.8 l1.5,2.3" stroke="#fff" stroke-opacity="0.7" stroke-width="0.8" fill="none"/>
<path d="M115.7,121.7 Q115.1,121.2 113.7,118.3 Q115.5,116.9 117.3,116.7" stroke="#3f45a5" stroke-width="1.2" fill="none" stroke-linecap="round"/>
<path d="M131.0,92.3 Q130.2,93.2 132.9,95.5 Q134.2,94.2 136.4,96.7 Q138.4,95.1 139.6,94.8" stroke="#c84a3a" stroke-width="0.8" fill="none" stroke-linecap="round"/>
<path d="M130.7,92.8 l-1.0,-2.0" stroke="#fff" stroke-opacity="0.7" stroke-width="0.8" fill="none"/>
<path d="M103.3,83.7 Q102.2,82.9 101.0,80.6" stroke="#cbc39f" stroke-width="0.9" fill="none" stroke-linecap="round"/>
<path d="M104.0,81.9 l-3.0,0.9" stroke="#fff" stroke-opacity="0.7" stroke-width="0.8" fill="none"/>
<path d="M115.3,91.5 Q116.8,93.5 115.2,95.5 Q115.4,93.8 119.2,95.5" stroke="#9d9a74" stroke-width="0.8" fill="none" stroke-linecap="round"/>
<path d="M116.7,90.9 l-0.5,1.7" stroke="#fff" stroke-opacity="0.7" stroke-width="0.8" fill="none"/>
<path d="M112.6,129.1 Q111.8,126.5 110.8,125.8 Q113.1,122.9 112.5,122.5 Q113.5,121.8 115.4,120.1" stroke="#3f45a5" stroke-width="1.1" fill="none" stroke-linecap="round"/>
<path d="M144.4,92.8 Q146.2,93.9 145.1,96.4 Q147.3,97.6 148.5,97.8" stroke="#8a3050" stroke-width="0.7" fill="none" stroke-linecap="round"/>
<path d="M94.1,103.1 Q96.4,105.5 96.4,104.6" stroke="#4fae5a" stroke-width="0.8" fill="none" stroke-linecap="round"/>
<path d="M113.0,118.4 Q110.2,117.3 111.3,119.8 Q112.7,122.1 111.0,122.0 Q112.1,122.6 110.0,124.0" stroke="#2f3385" stroke-width="1.0" fill="none" stroke-linecap="round"/>
<path d="M107.9,92.8 Q106.4,94.2 108.7,95.0 Q109.1,93.6 106.3,95.3 Q108.0,98.2 106.6,97.7" stroke="#cbc39f" stroke-width="0.9" fill="none" stroke-linecap="round"/>
<path d="M84.5,104.3 Q84.2,106.1 87.0,104.8 Q86.3,102.3 87.0,102.2 Q85.9,99.8 84.8,101.0" stroke="#1f7030" stroke-width="1.2" fill="none" stroke-linecap="round"/>
<path d="M86.2,104.6 l-0.9,-2.0" stroke="#fff" stroke-opacity="0.7" stroke-width="0.8" fill="none"/>
<path d="M113.7,127.6 Q114.6,129.2 111.5,130.9 Q108.2,130.6 107.6,131.4 Q104.8,132.7 103.9,130.0" stroke="#4a50b0" stroke-width="1.2" fill="none" stroke-linecap="round"/>
<path d="M128.7,97.3 Q125.8,95.9 126.6,97.0 Q126.2,98.2 124.6,96.5" stroke="#5c3490" stroke-width="0.8" fill="none" stroke-linecap="round"/>
<path d="M127.7,97.3 l-1.6,0.9" stroke="#fff" stroke-opacity="0.7" stroke-width="0.8" fill="none"/>
<path d="M126.4,87.0 Q127.4,88.8 124.7,89.6" stroke="#8a3050" stroke-width="0.7" fill="none" stroke-linecap="round"/>
<path d="M98.7,97.8 Q98.2,98.7 99.9,95.7" stroke="#2f9a3f" stroke-width="1.0" fill="none" stroke-linecap="round"/>
<path d="M88.0,107.6 Q87.4,110.4 86.4,109.4 Q88.3,110.6 86.8,111.7" stroke="#3aa34a" stroke-width="1.2" fill="none" stroke-linecap="round"/>
<path d="M86.4,109.4 l0.4,2.9" stroke="#fff" stroke-opacity="0.7" stroke-width="0.8" fill="none"/>
<path d="M98.0,89.4 Q98.5,91.5 99.5,91.5 Q101.0,91.5 102.2,91.4 Q101.3,91.3 103.8,89.3" stroke="#4fae5a" stroke-width="0.8" fill="none" stroke-linecap="round"/>
<path d="M93.0,113.1 Q93.2,112.3 95.2,112.0" stroke="#3aa34a" stroke-width="1.1" fill="none" stroke-linecap="round"/>
<path d="M91.1,114.7 l-2.6,1.1" stroke="#fff" stroke-opacity="0.7" stroke-width="0.8" fill="none"/>
<path d="M135.4,121.2 Q137.2,122.9 138.6,123.3 Q139.8,127.0 139.8,126.9" stroke="#80408a" stroke-width="1.1" fill="none" stroke-linecap="round"/>
<path d="M133.9,122.1 l2.4,-0.1" stroke="#fff" stroke-opacity="0.7" stroke-width="0.8" fill="none"/>
<path d="M131.1,124.1 Q130.6,121.1 132.4,121.8" stroke="#6a3a98" stroke-width="0.8" fill="none" stroke-linecap="round"/>
<path d="M132.6,126.1 l-1.2,1.7" stroke="#fff" stroke-opacity="0.7" stroke-width="0.8" fill="none"/>
<path d="M146.1,92.7 Q145.5,91.3 148.7,91.4 Q150.6,92.0 151.1,89.8 Q153.8,86.8 153.3,87.8" stroke="#8a3050" stroke-width="1.0" fill="none" stroke-linecap="round"/>
<path d="M104.3,89.9 Q102.7,89.1 102.3,90.7 Q101.1,92.8 100.4,91.7 Q100.8,90.0 98.5,90.9" stroke="#c0c8a0" stroke-width="0.9" fill="none" stroke-linecap="round"/>
<path d="M126.0,118.8 Q128.4,118.5 129.2,117.1 Q129.8,118.3 130.5,120.6" stroke="#7448a8" stroke-width="1.2" fill="none" stroke-linecap="round"/>
<path d="M125.6,120.2 l1.9,-1.2" stroke="#fff" stroke-opacity="0.7" stroke-width="0.8" fill="none"/>
<path d="M131.2,91.9 Q129.8,92.3 129.3,93.7 Q130.3,94.2 130.2,96.1" stroke="#c84a3a" stroke-width="1.1" fill="none" stroke-linecap="round"/>
<path d="M132.7,93.2 l0.1,-1.8" stroke="#fff" stroke-opacity="0.7" stroke-width="0.8" fill="none"/>
<path d="M104.4,86.7 Q103.8,85.2 107.0,87.6" stroke="#3aa34a" stroke-width="1.0" fill="none" stroke-linecap="round"/>
<path d="M117.5,132.7 Q116.5,131.8 115.0,131.1" stroke="#4a50b0" stroke-width="0.7" fill="none" stroke-linecap="round"/>
<path d="M137.1,113.2 Q136.8,111.5 139.6,110.3 Q141.1,109.3 143.4,109.9" stroke="#4a50b0" stroke-width="0.9" fill="none" stroke-linecap="round"/>
<path d="M137.3,112.4 l-0.9,1.5" stroke="#fff" stroke-opacity="0.7" stroke-width="0.8" fill="none"/>
<path d="M92.2,130.7 Q92.2,132.5 92.7,132.7" stroke="#4fae5a" stroke-width="0.9" fill="none" stroke-linecap="round"/>
<path d="M134.2,108.4 Q134.7,106.0 135.3,105.5" stroke="#4a50b0" stroke-width="0.9" fill="none" stroke-linecap="round"/>
<path d="M101.2,112.4 Q101.9,115.1 99.6,114.7" stroke="#2f9a3f" stroke-width="0.9" fill="none" stroke-linecap="round"/>
<path d="M100.7,110.7 l1.0,-1.4" stroke="#fff" stroke-opacity="0.7" stroke-width="0.8" fill="none"/>
<path d="M135.0,126.7 Q132.4,126.8 133.3,130.0 Q130.2,130.2 130.0,128.2 Q127.5,128.2 127.6,125.5" stroke="#6a3a98" stroke-width="0.8" fill="none" stroke-linecap="round"/>
<path d="M126.1,85.5 Q126.8,83.7 124.2,82.9 Q124.4,80.7 125.4,79.8 Q127.0,81.2 128.6,79.4" stroke="#a82c2a" stroke-width="1.0" fill="none" stroke-linecap="round"/>
<path d="M125.4,84.8 l1.9,-0.5" stroke="#fff" stroke-opacity="0.7" stroke-width="0.8" fill="none"/>
<path d="M98.7,136.6 Q99.1,136.0 101.1,133.8" stroke="#237f33" stroke-width="1.1" fill="none" stroke-linecap="round"/>
<path d="M100.3,138.1 l-2.3,1.3" stroke="#fff" stroke-opacity="0.7" stroke-width="0.8" fill="none"/>
<path d="M84.8,111.6 Q83.1,111.0 83.0,109.6" stroke="#2f9a3f" stroke-width="0.8" fill="none" stroke-linecap="round"/>
<path d="M84.2,112.0 l-2.2,-0.3" stroke="#fff" stroke-opacity="0.7" stroke-width="0.8" fill="none"/>
<path d="M124.3,88.9 Q125.8,89.2 124.6,86.4 Q121.6,84.0 122.2,85.5" stroke="#6a3a98" stroke-width="1.0" fill="none" stroke-linecap="round"/>
<path d="M125.5,90.0 l1.7,0.4" stroke="#fff" stroke-opacity="0.7" stroke-width="0.8" fill="none"/>
<path d="M99.1,124.1 Q98.4,123.7 101.6,124.4" stroke="#6ab870" stroke-width="0.9" fill="none" stroke-linecap="round"/>
<path d="M97.5,124.2 l1.2,2.0" stroke="#fff" stroke-opacity="0.7" stroke-width="0.8" fill="none"/>
<path d="M136.7,100.8 Q136.5,103.9 134.5,104.1" stroke="#b03040" stroke-width="0.9" fill="none" stroke-linecap="round"/>
<path d="M137.1,102.0 l0.2,-2.4" stroke="#fff" stroke-opacity="0.7" stroke-width="0.8" fill="none"/>
<path d="M125.5,91.5 Q125.2,90.6 127.7,90.6 Q126.9,89.0 129.5,88.8 Q132.2,88.6 131.0,90.7" stroke="#c23a32" stroke-width="0.9" fill="none" stroke-linecap="round"/>
<path d="M127.4,91.1 l2.1,-0.0" stroke="#fff" stroke-opacity="0.7" stroke-width="0.8" fill="none"/>
<path d="M86.4,110.5 Q87.3,111.8 84.3,110.2 Q84.2,111.7 84.4,112.3" stroke="#237f33" stroke-width="1.1" fill="none" stroke-linecap="round"/>
<path d="M98.6,93.1 Q98.9,93.4 101.3,91.1 Q100.4,93.2 103.2,93.8 Q104.6,94.2 106.5,94.2" stroke="#237f33" stroke-width="1.1" fill="none" stroke-linecap="round"/>
<path d="M128.7,107.6 Q127.9,108.8 129.6,110.3 Q130.2,109.9 132.4,110.8 Q131.5,111.8 134.5,112.8" stroke="#b03040" stroke-width="1.1" fill="none" stroke-linecap="round"/>
<path d="M91.9,97.0 Q90.5,95.5 89.1,94.5 Q88.7,94.9 86.5,91.8" stroke="#3aa34a" stroke-width="0.9" fill="none" stroke-linecap="round"/>
<path d="M88.2,99.1 Q84.4,99.2 84.4,100.2 Q83.9,100.2 81.6,103.0 Q78.9,102.7 79.5,99.6" stroke="#237f33" stroke-width="0.9" fill="none" stroke-linecap="round"/>
<path d="M89.6,98.5 l-2.1,1.9" stroke="#fff" stroke-opacity="0.7" stroke-width="0.8" fill="none"/>
<path d="M112.8,87.3 Q110.0,88.5 110.7,86.5" stroke="#e8e0b0" stroke-width="1.1" fill="none" stroke-linecap="round"/>
<path d="M132.2,91.1 Q134.1,93.8 134.7,92.7 Q135.7,92.8 137.1,94.6" stroke="#b03040" stroke-width="1.2" fill="none" stroke-linecap="round"/>
<path d="M130.3,89.8 l1.2,3.0" stroke="#fff" stroke-opacity="0.7" stroke-width="0.8" fill="none"/>
<path d="M115.9,95.2 Q114.0,96.6 116.0,97.8" stroke="#6a3a98" stroke-width="1.2" fill="none" stroke-linecap="round"/>
<path d="M114.8,95.9 l-1.9,0.6" stroke="#fff" stroke-opacity="0.7" stroke-width="0.8" fill="none"/>
<path d="M85.0,97.2 Q83.5,97.3 84.2,100.1 Q81.1,100.2 81.3,99.7" stroke="#2f9a3f" stroke-width="1.1" fill="none" stroke-linecap="round"/>
<path d="M117.9,114.4 Q118.8,114.1 117.4,111.4" stroke="#5a4aa8" stroke-width="0.7" fill="none" stroke-linecap="round"/>
<path d="M118.4,114.8 l-2.4,-0.1" stroke="#fff" stroke-opacity="0.7" stroke-width="0.8" fill="none"/>
<path d="M135.1,132.7 Q133.7,132.8 136.0,130.6 Q134.7,129.7 134.2,129.3" stroke="#5c3490" stroke-width="0.7" fill="none" stroke-linecap="round"/>
<path d="M126.9,132.4 Q127.1,134.8 125.9,134.4 Q125.2,134.2 124.0,135.6 Q122.4,136.7 121.9,136.2" stroke="#6a44a0" stroke-width="1.2" fill="none" stroke-linecap="round"/>
<path d="M85.0,97.3 Q87.9,98.9 87.4,97.4" stroke="#2f9a3f" stroke-width="0.8" fill="none" stroke-linecap="round"/>
<path d="M84.4,98.5 l0.6,-1.7" stroke="#fff" stroke-opacity="0.7" stroke-width="0.8" fill="none"/>
<path d="M136.1,105.3 Q135.1,108.2 136.9,107.6" stroke="#a82c2a" stroke-width="1.0" fill="none" stroke-linecap="round"/>
<path d="M101.0,106.3 Q98.5,106.3 97.9,105.2 Q96.9,104.6 95.5,102.9 Q94.6,104.0 93.1,105.1" stroke="#1f7030" stroke-width="1.0" fill="none" stroke-linecap="round"/>
<path d="M133.0,97.7 Q135.5,97.6 135.0,95.7 Q132.4,95.3 132.7,94.2" stroke="#7a3a8a" stroke-width="1.0" fill="none" stroke-linecap="round"/>
<path d="M85.3,127.3 Q85.9,129.5 84.0,129.4 Q84.8,130.8 84.4,131.8" stroke="#2f9a3f" stroke-width="1.0" fill="none" stroke-linecap="round"/>
<path d="M131.6,120.6 Q129.3,120.4 130.8,117.2" stroke="#4a48a8" stroke-width="1.2" fill="none" stroke-linecap="round"/>
<path d="M131.2,121.2 l-1.8,-1.3" stroke="#fff" stroke-opacity="0.7" stroke-width="0.8" fill="none"/>
<path d="M126.9,136.4 Q128.3,137.1 129.7,134.5 Q128.6,137.1 131.2,137.6 Q132.8,137.6 134.4,136.6" stroke="#6a44a0" stroke-width="0.7" fill="none" stroke-linecap="round"/>
<path d="M126.8,102.1 Q130.1,101.8 129.6,100.5 Q131.4,100.9 132.8,100.8 Q132.2,103.0 133.6,103.9" stroke="#8a3050" stroke-width="1.1" fill="none" stroke-linecap="round"/>
<path d="M114.7,133.5 Q115.6,134.5 116.7,135.6 Q115.3,136.8 114.5,137.5 Q116.4,139.1 115.3,140.3" stroke="#35388a" stroke-width="0.7" fill="none" stroke-linecap="round"/>
<path d="M147.4,99.7 Q147.6,99.5 149.9,99.7 Q151.2,100.8 150.1,102.3 Q152.9,102.1 152.2,103.8" stroke="#8a3050" stroke-width="1.2" fill="none" stroke-linecap="round"/>
<path d="M147.0,100.8 l1.1,2.7" stroke="#fff" stroke-opacity="0.7" stroke-width="0.8" fill="none"/>
<path d="M88.5,132.1 Q90.7,130.5 90.4,129.9 Q89.5,127.1 88.4,127.8 Q89.8,127.6 88.8,124.9" stroke="#237f33" stroke-width="1.2" fill="none" stroke-linecap="round"/>
<path d="M87.4,130.4 l-1.6,-1.8" stroke="#fff" stroke-opacity="0.7" stroke-width="0.8" fill="none"/>
<path d="M108.5,86.7 Q107.7,88.4 107.3,89.2 Q109.7,91.0 108.5,91.8 Q107.1,93.2 106.7,94.0" stroke="#a89070" stroke-width="1.1" fill="none" stroke-linecap="round"/>
<path d="M131.5,97.4 Q132.7,94.4 130.8,95.1 Q129.8,95.6 128.5,94.8" stroke="#b03040" stroke-width="1.1" fill="none" stroke-linecap="round"/>
<path d="M128.7,117.9 Q129.4,120.4 130.4,120.8" stroke="#80408a" stroke-width="1.0" fill="none" stroke-linecap="round"/>
<path d="M129.3,117.1 l-3.3,-1.0" stroke="#fff" stroke-opacity="0.7" stroke-width="0.8" fill="none"/>
<path d="M141.1,122.0 Q143.9,124.3 143.7,123.9 Q146.7,124.3 146.7,123.0" stroke="#80408a" stroke-width="0.9" fill="none" stroke-linecap="round"/>
<path d="M103.2,117.4 Q104.0,118.0 102.7,121.1 Q100.3,123.8 101.4,124.6 Q98.4,124.7 97.7,125.2" stroke="#237f33" stroke-width="0.7" fill="none" stroke-linecap="round"/>
<path d="M121.6,135.0 Q119.3,133.7 117.9,136.2" stroke="#4a50b0" stroke-width="1.1" fill="none" stroke-linecap="round"/>
<path d="M121.7,135.7 l2.4,-1.0" stroke="#fff" stroke-opacity="0.7" stroke-width="0.8" fill="none"/>
<path d="M123.4,119.8 Q120.9,120.6 120.1,120.9 Q118.5,123.9 120.2,124.3 Q120.6,125.6 120.8,127.7" stroke="#7448a8" stroke-width="1.2" fill="none" stroke-linecap="round"/>
<path d="M106.6,142.2 Q106.4,140.7 103.5,141.3 Q100.4,141.7 101.0,143.2" stroke="#5a5ab8" stroke-width="1.2" fill="none" stroke-linecap="round"/>
<path d="M105.5,143.2 l-1.5,2.6" stroke="#fff" stroke-opacity="0.7" stroke-width="0.8" fill="none"/>
<path d="M133.4,129.8 Q131.7,131.2 131.0,131.5 Q131.9,132.0 128.9,129.4" stroke="#80408a" stroke-width="0.8" fill="none" stroke-linecap="round"/>
<path d="M131.7,129.2 l-2.4,-0.4" stroke="#fff" stroke-opacity="0.7" stroke-width="0.8" fill="none"/>
<path d="M142.9,103.8 Q141.7,105.5 144.4,106.4" stroke="#8a3050" stroke-width="1.2" fill="none" stroke-linecap="round"/>
<path d="M144.4,104.1 l-1.2,1.4" stroke="#fff" stroke-opacity="0.7" stroke-width="0.8" fill="none"/>
<path d="M120.2,117.5 Q118.8,115.6 117.5,117.0 Q114.7,116.0 115.5,115.3" stroke="#5a4aa8" stroke-width="0.8" fill="none" stroke-linecap="round"/>
<path d="M119.9,116.0 l0.4,1.9" stroke="#fff" stroke-opacity="0.7" stroke-width="0.8" fill="none"/>
<path d="M97.4,125.1 Q99.0,126.1 98.5,128.1 Q97.7,127.9 100.9,130.2 Q99.8,131.1 98.8,132.6" stroke="#2f9a3f" stroke-width="1.0" fill="none" stroke-linecap="round"/>
<path d="M97.9,124.4 l1.9,2.6" stroke="#fff" stroke-opacity="0.7" stroke-width="0.8" fill="none"/>
<path d="M138.3,98.6 Q136.3,94.9 137.6,94.6 Q136.7,93.1 135.4,91.3" stroke="#6a3a98" stroke-width="0.8" fill="none" stroke-linecap="round"/>
<path d="M139.6,98.0 l0.7,-1.6" stroke="#fff" stroke-opacity="0.7" stroke-width="0.8" fill="none"/>
<path d="M141.3,97.4 Q139.2,96.0 138.8,98.4" stroke="#5c3490" stroke-width="1.1" fill="none" stroke-linecap="round"/>
<path d="M142.5,96.8 l-2.2,-0.0" stroke="#fff" stroke-opacity="0.7" stroke-width="0.8" fill="none"/>
<path d="M93.9,96.5 Q94.1,94.5 97.7,96.2 Q98.9,94.5 101.4,96.5 Q99.8,97.8 101.5,100.3" stroke="#6ab870" stroke-width="1.1" fill="none" stroke-linecap="round"/>
<path d="M110.5,131.5 Q112.5,131.7 113.9,131.3" stroke="#5a5ab8" stroke-width="1.2" fill="none" stroke-linecap="round"/>
<path d="M98.0,89.1 Q99.0,90.2 98.5,91.2 Q96.8,92.6 96.5,91.9 Q97.6,94.2 94.7,93.2" stroke="#237f33" stroke-width="0.8" fill="none" stroke-linecap="round"/>
<path d="M98.4,89.8 l-2.4,0.4" stroke="#fff" stroke-opacity="0.7" stroke-width="0.8" fill="none"/>
<path d="M90.5,120.8 Q91.7,123.7 91.1,123.2 Q90.1,123.7 90.4,125.7" stroke="#4fae5a" stroke-width="0.9" fill="none" stroke-linecap="round"/>
<path d="M136.8,88.6 Q137.4,89.3 134.7,87.3 Q133.9,90.4 133.8,89.6" stroke="#7a3a8a" stroke-width="0.9" fill="none" stroke-linecap="round"/>
<path d="M116.7,92.9 Q114.4,94.1 114.9,91.5 Q113.9,89.8 116.4,89.7 Q117.1,90.1 115.4,87.7" stroke="#c23a32" stroke-width="1.0" fill="none" stroke-linecap="round"/>
<path d="M117.5,91.8 l1.8,0.2" stroke="#fff" stroke-opacity="0.7" stroke-width="0.8" fill="none"/>
<path d="M114.2,125.3 Q112.5,124.8 112.8,127.2" stroke="#4a50b0" stroke-width="0.9" fill="none" stroke-linecap="round"/>
<path d="M104.1,134.6 Q107.3,134.3 106.7,135.8" stroke="#1f7030" stroke-width="1.0" fill="none" stroke-linecap="round"/>
<path d="M114.0,122.1 Q115.4,123.3 114.5,126.1 Q114.3,128.8 112.2,129.3 Q111.6,131.6 112.4,133.3" stroke="#4a50b0" stroke-width="0.9" fill="none" stroke-linecap="round"/>
<path d="M118.4,127.5 Q115.7,130.2 115.4,129.5" stroke="#4a50b0" stroke-width="0.8" fill="none" stroke-linecap="round"/>
<path d="M116.8,126.4 l0.2,-2.1" stroke="#fff" stroke-opacity="0.7" stroke-width="0.8" fill="none"/>
<path d="M127.7,102.2 Q127.9,102.6 131.3,103.1 Q131.6,106.7 132.8,106.5" stroke="#6a3a98" stroke-width="1.0" fill="none" stroke-linecap="round"/>
<path d="M126.1,102.0 l-1.4,1.5" stroke="#fff" stroke-opacity="0.7" stroke-width="0.8" fill="none"/>
<path d="M116.3,129.8 Q118.5,130.4 118.9,127.9 Q117.8,127.4 119.3,124.7" stroke="#3f45a5" stroke-width="0.9" fill="none" stroke-linecap="round"/>
<path d="M110.0,93.5 Q108.5,95.0 107.9,92.7" stroke="#9d9a74" stroke-width="0.7" fill="none" stroke-linecap="round"/>
<path d="M109.4,94.4 l-2.6,-0.8" stroke="#fff" stroke-opacity="0.7" stroke-width="0.8" fill="none"/>
<path d="M109.2,89.8 Q111.9,91.1 112.6,90.2" stroke="#a89070" stroke-width="0.9" fill="none" stroke-linecap="round"/>
<path d="M89.8,112.7 Q91.4,112.2 91.1,110.0 Q91.4,110.4 94.0,109.5 Q95.9,109.4 95.9,111.8" stroke="#4fae5a" stroke-width="1.0" fill="none" stroke-linecap="round"/>
<path d="M88.8,113.1 l2.7,-0.5" stroke="#fff" stroke-opacity="0.7" stroke-width="0.8" fill="none"/>
<path d="M101.5,115.0 Q102.2,114.6 103.9,111.9 Q103.6,110.2 103.2,108.0 Q105.1,108.8 107.2,107.8" stroke="#1f7030" stroke-width="1.2" fill="none" stroke-linecap="round"/>
<path d="M121.8,113.9 Q121.9,113.7 123.3,112.1 Q125.7,113.1 125.3,113.3" stroke="#3e40a0" stroke-width="0.8" fill="none" stroke-linecap="round"/>
<path d="M120.5,113.2 l2.0,-2.3" stroke="#fff" stroke-opacity="0.7" stroke-width="0.8" fill="none"/>
<path d="M113.6,83.9 Q115.9,84.2 116.2,84.4" stroke="#cbc39f" stroke-width="0.8" fill="none" stroke-linecap="round"/>
<path d="M111.2,128.3 Q109.2,127.8 107.9,128.4" stroke="#3f45a5" stroke-width="1.1" fill="none" stroke-linecap="round"/>
<path d="M127.8,107.6 Q127.8,107.0 131.4,107.2 Q133.6,104.9 134.9,105.9 Q135.2,105.4 138.4,106.8" stroke="#6a3a98" stroke-width="0.9" fill="none" stroke-linecap="round"/>
<path d="M129.4,108.4 l1.6,-0.0" stroke="#fff" stroke-opacity="0.7" stroke-width="0.8" fill="none"/>
<path d="M142.8,117.2 Q143.7,120.4 142.3,119.8 Q141.5,118.5 139.8,119.6" stroke="#2f3385" stroke-width="1.0" fill="none" stroke-linecap="round"/>
<path d="M142.3,116.5 l1.9,-2.3" stroke="#fff" stroke-opacity="0.7" stroke-width="0.8" fill="none"/>
<path d="M140.1,107.5 Q142.4,104.9 141.8,104.6 Q140.9,102.2 139.9,101.8" stroke="#a82c2a" stroke-width="0.9" fill="none" stroke-linecap="round"/>
<path d="M142.8,117.1 Q144.6,119.5 144.6,120.5 Q148.2,121.8 148.4,120.7 Q149.7,117.9 150.8,117.7" stroke="#c23a32" stroke-width="0.8" fill="none" stroke-linecap="round"/>
<path d="M121.9,118.7 Q123.6,119.0 122.9,122.0" stroke="#4a48a8" stroke-width="1.0" fill="none" stroke-linecap="round"/>
<path d="M122.0,110.4 Q121.2,111.3 124.3,108.7" stroke="#6a3a98" stroke-width="0.9" fill="none" stroke-linecap="round"/>
<path d="M123.3,110.5 l0.4,-2.7" stroke="#fff" stroke-opacity="0.7" stroke-width="0.8" fill="none"/>
<path d="M83.9,110.7 Q85.7,112.2 85.0,112.8 Q87.9,112.4 86.9,111.3 Q84.5,110.3 85.8,109.2" stroke="#6ab870" stroke-width="1.1" fill="none" stroke-linecap="round"/>
<path d="M102.4,114.5 Q100.9,115.5 100.7,116.1" stroke="#1f7030" stroke-width="0.8" fill="none" stroke-linecap="round"/>
<path d="M93.8,125.2 Q90.6,125.4 91.2,128.2 Q91.3,125.4 88.3,125.5" stroke="#6ab870" stroke-width="0.7" fill="none" stroke-linecap="round"/>
<path d="M94.1,124.6 l1.4,-1.6" stroke="#fff" stroke-opacity="0.7" stroke-width="0.8" fill="none"/>
<path d="M133.2,119.4 Q134.5,119.0 135.5,117.7 Q137.3,116.2 138.2,118.5 Q140.7,119.8 140.8,119.4" stroke="#7448a8" stroke-width="0.7" fill="none" stroke-linecap="round"/>
<path d="M134.0,120.8 l0.8,-2.0" stroke="#fff" stroke-opacity="0.7" stroke-width="0.8" fill="none"/>
<path d="M89.8,127.8 Q88.2,126.5 86.1,127.6" stroke="#2f9a3f" stroke-width="1.0" fill="none" stroke-linecap="round"/>
<path d="M94.5,128.8 Q94.0,129.5 91.5,129.5 Q91.9,128.9 91.1,126.4 Q91.5,124.6 93.1,124.0" stroke="#1f7030" stroke-width="1.0" fill="none" stroke-linecap="round"/>
<path d="M95.0,127.7 l-1.2,1.1" stroke="#fff" stroke-opacity="0.7" stroke-width="0.8" fill="none"/>
<path d="M125.4,95.7 Q124.4,94.2 121.7,95.9 Q119.5,98.4 120.9,99.5 Q118.3,100.0 118.3,102.2" stroke="#7a3a8a" stroke-width="1.2" fill="none" stroke-linecap="round"/>
<path d="M126.0,94.9 l-0.4,-3.1" stroke="#fff" stroke-opacity="0.7" stroke-width="0.8" fill="none"/>
<path d="M130.1,137.7 Q127.1,139.1 127.9,139.7" stroke="#4a48a8" stroke-width="1.0" fill="none" stroke-linecap="round"/>
<path d="M131.1,137.0 l-2.2,-0.3" stroke="#fff" stroke-opacity="0.7" stroke-width="0.8" fill="none"/>
<path d="M136.7,95.9 Q135.2,98.1 135.3,97.8 Q133.5,99.3 133.9,99.8" stroke="#8a3050" stroke-width="1.1" fill="none" stroke-linecap="round"/>
<path d="M126.4,122.4 Q126.2,121.9 129.7,122.6 Q132.1,121.2 133.0,122.7 Q133.0,123.1 135.1,120.1" stroke="#8a3a70" stroke-width="1.0" fill="none" stroke-linecap="round"/>
<path d="M97.9,102.2 Q100.0,104.6 100.9,104.0 Q103.8,104.7 104.3,104.9" stroke="#237f33" stroke-width="1.1" fill="none" stroke-linecap="round"/>
<path d="M90.4,92.2 Q90.9,91.9 92.1,93.8 Q93.7,92.2 94.4,94.5 Q95.3,93.0 95.9,92.6" stroke="#237f33" stroke-width="1.1" fill="none" stroke-linecap="round"/>
<path d="M91.4,92.8 l3.1,1.3" stroke="#fff" stroke-opacity="0.7" stroke-width="0.8" fill="none"/>
<path d="M120.9,92.4 Q120.6,92.9 119.3,94.0 Q119.1,93.7 119.8,96.2" stroke="#8a3050" stroke-width="1.1" fill="none" stroke-linecap="round"/>
<path d="M117.6,122.5 Q117.2,122.9 118.4,124.5 Q115.6,124.6 116.4,125.2" stroke="#3e40a0" stroke-width="0.9" fill="none" stroke-linecap="round"/>
<path d="M142.0,117.6 Q140.2,116.8 141.7,114.7 Q143.3,112.0 142.8,112.1 Q142.2,110.8 144.7,110.0" stroke="#7448a8" stroke-width="0.9" fill="none" stroke-linecap="round"/>
<path d="M140.4,117.7 l-2.1,1.4" stroke="#fff" stroke-opacity="0.7" stroke-width="0.8" fill="none"/>
<path d="M85.5,123.9 Q86.6,123.4 88.1,123.2 Q87.4,123.4 90.2,124.8 Q90.0,125.3 92.4,126.2" stroke="#2f9a3f" stroke-width="0.9" fill="none" stroke-linecap="round"/>
<path d="M84.0,124.1 l-2.0,-1.3" stroke="#fff" stroke-opacity="0.7" stroke-width="0.8" fill="none"/>
<path d="M95.6,115.8 Q93.6,117.9 92.8,118.1" stroke="#237f33" stroke-width="0.9" fill="none" stroke-linecap="round"/>
<path d="M130.9,106.9 Q133.1,107.3 134.4,105.7 Q136.5,104.1 137.5,103.6 Q136.3,103.8 134.9,100.9" stroke="#6a3a98" stroke-width="1.0" fill="none" stroke-linecap="round"/>
<path d="M106.4,96.2 Q106.4,96.6 107.9,93.4 Q109.2,92.2 111.1,93.2 Q112.0,93.5 114.3,92.9" stroke="#cbc39f" stroke-width="0.9" fill="none" stroke-linecap="round"/>
<path d="M131.9,97.9 Q132.6,98.5 135.1,96.1 Q136.0,95.4 135.6,92.6" stroke="#a82c2a" stroke-width="1.2" fill="none" stroke-linecap="round"/>
<path d="M137.7,129.5 Q136.0,127.9 134.8,127.5" stroke="#6a44a0" stroke-width="0.9" fill="none" stroke-linecap="round"/>
<path d="M138.7,129.5 l0.7,-2.6" stroke="#fff" stroke-opacity="0.7" stroke-width="0.8" fill="none"/>
<path d="M122.7,138.7 Q122.5,136.1 121.2,135.5 Q122.4,132.9 120.4,132.1" stroke="#35388a" stroke-width="1.2" fill="none" stroke-linecap="round"/>
<path d="M93.6,128.0 Q94.1,129.9 93.6,130.8 Q94.1,130.4 90.8,131.0" stroke="#1f7030" stroke-width="1.1" fill="none" stroke-linecap="round"/>
<path d="M92.1,128.2 l-2.2,-0.7" stroke="#fff" stroke-opacity="0.7" stroke-width="0.8" fill="none"/>
<path d="M121.9,141.5 Q120.7,138.8 121.7,139.1" stroke="#5a5ab8" stroke-width="1.0" fill="none" stroke-linecap="round"/>
<path d="M121.2,139.7 l2.0,-0.7" stroke="#fff" stroke-opacity="0.7" stroke-width="0.8" fill="none"/>
<path d="M89.0,123.9 Q88.8,125.2 89.0,127.7 Q87.8,129.1 87.3,131.0" stroke="#1f7030" stroke-width="0.8" fill="none" stroke-linecap="round"/>
<path d="M90.6,125.9 l2.2,1.7" stroke="#fff" stroke-opacity="0.7" stroke-width="0.8" fill="none"/>
<path d="M98.3,93.2 Q98.4,94.0 99.5,95.7" stroke="#4fae5a" stroke-width="1.0" fill="none" stroke-linecap="round"/>
<path d="M98.4,93.7 l0.2,-2.1" stroke="#fff" stroke-opacity="0.7" stroke-width="0.8" fill="none"/>
<path d="M94.6,100.3 Q95.0,99.3 95.3,96.6 Q93.3,95.2 92.6,94.1 Q90.2,91.5 90.1,91.3" stroke="#6ab870" stroke-width="1.0" fill="none" stroke-linecap="round"/>
<path d="M95.4,99.2 l2.3,-2.2" stroke="#fff" stroke-opacity="0.7" stroke-width="0.8" fill="none"/>
<path d="M123.7,112.6 Q123.7,114.7 120.0,112.8" stroke="#7448a8" stroke-width="1.0" fill="none" stroke-linecap="round"/>
<path d="M137.3,112.7 Q138.5,111.0 139.4,111.4" stroke="#2f3385" stroke-width="1.1" fill="none" stroke-linecap="round"/>
<path d="M99.1,89.0 Q99.4,89.1 97.6,86.3 Q96.9,84.8 94.5,85.8 Q94.4,83.3 95.0,82.7" stroke="#6ab870" stroke-width="0.7" fill="none" stroke-linecap="round"/>
<path d="M101.7,116.2 Q104.3,113.6 104.2,114.4 Q103.2,114.0 104.8,111.5 Q105.3,111.5 106.4,108.9" stroke="#1f7030" stroke-width="0.8" fill="none" stroke-linecap="round"/>
<path d="M103.1,118.0 l-1.4,-1.2" stroke="#fff" stroke-opacity="0.7" stroke-width="0.8" fill="none"/>
<path d="M108.4,84.9 Q109.2,82.1 107.5,82.6 Q106.1,83.7 105.3,81.6" stroke="#b8b68a" stroke-width="0.8" fill="none" stroke-linecap="round"/>
<path d="M134.3,96.0 Q134.2,96.9 131.3,95.5 Q130.8,96.2 128.7,93.9" stroke="#b03040" stroke-width="1.1" fill="none" stroke-linecap="round"/>
<path d="M136.1,95.3 l0.3,2.3" stroke="#fff" stroke-opacity="0.7" stroke-width="0.8" fill="none"/>
<path d="M135.0,98.8 Q135.9,98.5 133.1,101.3" stroke="#7a3a8a" stroke-width="1.1" fill="none" stroke-linecap="round"/>
<path d="M96.2,128.3 Q98.1,129.9 98.7,129.6 Q97.3,130.3 99.6,132.2" stroke="#3aa34a" stroke-width="1.2" fill="none" stroke-linecap="round"/>
<path d="M128.9,135.4 Q128.3,135.9 126.1,136.2" stroke="#5a4aa8" stroke-width="0.8" fill="none" stroke-linecap="round"/>
<path d="M99.9,131.4 Q98.3,132.2 98.5,134.7 Q99.2,135.8 99.9,138.0 Q99.2,139.9 96.4,139.0" stroke="#1f7030" stroke-width="0.8" fill="none" stroke-linecap="round"/>
<path d="M100.4,133.2 l-2.1,-2.6" stroke="#fff" stroke-opacity="0.7" stroke-width="0.8" fill="none"/>
<path d="M87.0,116.9 Q87.4,115.6 90.1,115.2 Q92.7,115.0 93.6,114.3 Q92.0,112.0 92.4,110.9" stroke="#6ab870" stroke-width="1.2" fill="none" stroke-linecap="round"/>
<path d="M98.7,115.6 Q99.1,115.2 100.3,117.7 Q98.6,120.3 99.4,120.2 Q99.6,120.8 96.8,120.8" stroke="#237f33" stroke-width="1.1" fill="none" stroke-linecap="round"/>
<path d="M96.9,115.8 l-0.3,1.7" stroke="#fff" stroke-opacity="0.7" stroke-width="0.8" fill="none"/>
<path d="M84.7,111.2 Q86.4,110.9 85.0,114.4 Q83.8,113.1 81.7,114.5 Q81.1,116.1 82.2,117.7" stroke="#1f7030" stroke-width="1.0" fill="none" stroke-linecap="round"/>
<path d="M83.7,111.1 Q83.6,112.7 85.6,112.3 Q84.8,112.4 87.9,112.2" stroke="#237f33" stroke-width="0.8" fill="none" stroke-linecap="round"/>
<path d="M116.6,116.8 Q115.1,117.4 117.6,119.7" stroke="#4a48a8" stroke-width="0.8" fill="none" stroke-linecap="round"/>
<path d="M98.6,105.1 Q100.1,106.3 99.6,108.5 Q101.3,107.8 102.9,109.6" stroke="#3aa34a" stroke-width="1.1" fill="none" stroke-linecap="round"/>
<path d="M120.2,112.9 Q120.0,111.3 122.7,110.1 Q120.4,109.0 119.7,107.8" stroke="#8a3a70" stroke-width="1.2" fill="none" stroke-linecap="round"/>
<path d="M102.5,91.6 Q102.6,91.4 101.6,88.5 Q101.5,90.9 98.8,90.2 Q100.0,90.8 98.5,93.4" stroke="#6ab870" stroke-width="1.2" fill="none" stroke-linecap="round"/>
<path d="M93.6,114.5 Q92.7,111.7 95.2,112.9" stroke="#4fae5a" stroke-width="1.0" fill="none" stroke-linecap="round"/>
<path d="M98.2,104.8 Q98.6,107.2 95.8,106.9 Q94.4,106.6 93.7,104.5" stroke="#2f9a3f" stroke-width="1.2" fill="none" stroke-linecap="round"/>
<path d="M120.5,132.5 Q121.0,131.3 119.7,130.3 Q120.0,130.8 118.2,128.5" stroke="#4a50b0" stroke-width="0.9" fill="none" stroke-linecap="round"/>
<path d="M121.1,131.1 l3.3,0.3" stroke="#fff" stroke-opacity="0.7" stroke-width="0.8" fill="none"/>
<path d="M90.6,100.4 Q92.2,102.6 91.4,103.0" stroke="#2f9a3f" stroke-width="1.2" fill="none" stroke-linecap="round"/>
<path d="M92.1,99.3 l2.2,-0.3" stroke="#fff" stroke-opacity="0.7" stroke-width="0.8" fill="none"/>
<path d="M134.7,133.1 Q135.4,134.4 132.2,134.0" stroke="#3e40a0" stroke-width="0.7" fill="none" stroke-linecap="round"/>
<path d="M133.1,133.6 l1.0,-3.2" stroke="#fff" stroke-opacity="0.7" stroke-width="0.8" fill="none"/>
<path d="M138.0,121.8 Q137.1,120.9 139.4,123.7" stroke="#6a3a98" stroke-width="0.7" fill="none" stroke-linecap="round"/>
<path d="M136.6,120.6 l1.4,-2.7" stroke="#fff" stroke-opacity="0.7" stroke-width="0.8" fill="none"/>
<path d="M139.4,102.4 Q142.6,100.1 142.0,100.4 Q142.9,98.7 140.1,97.8" stroke="#6a3a98" stroke-width="0.7" fill="none" stroke-linecap="round"/>
<path d="M104.5,89.6 Q102.2,91.1 102.7,91.2" stroke="#9d9a74" stroke-width="0.8" fill="none" stroke-linecap="round"/>
<path d="M131.0,115.7 Q129.8,117.0 131.3,118.4 Q133.6,120.4 133.9,119.1" stroke="#5c3490" stroke-width="0.9" fill="none" stroke-linecap="round"/>
<path d="M116.2,134.8 Q114.2,132.2 114.0,133.1 Q113.4,132.7 114.2,130.4" stroke="#3f45a5" stroke-width="0.8" fill="none" stroke-linecap="round"/>
<path d="M131.1,86.9 Q132.1,88.0 133.5,85.2" stroke="#a82c2a" stroke-width="0.7" fill="none" stroke-linecap="round"/>
<path d="M88.0,95.5 Q88.5,95.8 86.9,93.8 Q85.9,94.1 87.8,91.9" stroke="#6ab870" stroke-width="0.7" fill="none" stroke-linecap="round"/>
<path d="M89.5,129.9 Q88.2,128.4 86.9,127.6 Q88.4,123.9 86.7,124.2 Q87.7,121.7 90.0,123.1" stroke="#1f7030" stroke-width="1.0" fill="none" stroke-linecap="round"/>
<path d="M111.9,128.8 Q112.3,128.6 113.8,127.1 Q115.3,125.7 114.0,124.6 Q116.1,121.6 115.3,122.4" stroke="#2f3385" stroke-width="1.0" fill="none" stroke-linecap="round"/>
<path d="M112.3,127.0 l-1.8,-2.4" stroke="#fff" stroke-opacity="0.7" stroke-width="0.8" fill="none"/>
<path d="M101.3,83.9 Q104.0,85.5 103.0,85.0 Q102.6,87.8 102.9,87.0 Q101.5,86.7 101.9,88.7" stroke="#e8e0b0" stroke-width="1.1" fill="none" stroke-linecap="round"/>
<path d="M129.4,98.1 Q128.9,97.8 127.8,96.0 Q126.9,94.7 129.3,93.7 Q129.1,94.7 126.8,92.6" stroke="#5c3490" stroke-width="0.8" fill="none" stroke-linecap="round"/>
<path d="M127.6,97.7 l-1.9,-1.8" stroke="#fff" stroke-opacity="0.7" stroke-width="0.8" fill="none"/>
<path d="M103.2,117.9 Q101.6,117.4 100.4,120.0 Q97.8,121.6 96.8,120.1 Q94.6,120.4 94.8,123.0" stroke="#1f7030" stroke-width="1.1" fill="none" stroke-linecap="round"/>
<path d="M138.7,112.5 Q135.4,112.9 136.0,111.1" stroke="#35388a" stroke-width="1.0" fill="none" stroke-linecap="round"/>
<path d="M140.6,113.6 l-0.8,3.4" stroke="#fff" stroke-opacity="0.7" stroke-width="0.8" fill="none"/>
<path d="M108.4,90.3 Q107.4,89.3 105.3,89.5 Q106.3,86.9 103.5,86.9 Q104.7,84.3 103.6,83.7" stroke="#b8b68a" stroke-width="0.7" fill="none" stroke-linecap="round"/>
<path d="M114.7,118.4 Q112.5,120.2 111.1,118.3 Q108.7,118.3 108.2,116.1 Q108.9,113.4 110.3,113.2" stroke="#5a5ab8" stroke-width="0.7" fill="none" stroke-linecap="round"/>
<path d="M116.4,119.3 l1.1,1.7" stroke="#fff" stroke-opacity="0.7" stroke-width="0.8" fill="none"/>
<path d="M103.2,139.2 Q103.4,140.9 105.0,142.3 Q105.4,144.9 102.0,144.2 Q100.5,144.4 99.5,141.6" stroke="#6ab870" stroke-width="0.7" fill="none" stroke-linecap="round"/>
<path d="M104.4,137.7 l-2.0,1.2" stroke="#fff" stroke-opacity="0.7" stroke-width="0.8" fill="none"/>
<path d="M97.8,114.3 Q99.7,113.3 100.2,114.2 Q101.3,116.1 101.7,116.2 Q100.0,118.3 101.1,118.5" stroke="#3aa34a" stroke-width="0.7" fill="none" stroke-linecap="round"/>
<path d="M120.8,98.6 Q118.2,96.7 118.6,98.5 Q119.2,100.4 116.3,98.8 Q114.3,97.7 114.4,97.5" stroke="#6a3a98" stroke-width="0.8" fill="none" stroke-linecap="round"/>
<path d="M120.9,97.4 l0.2,-1.5" stroke="#fff" stroke-opacity="0.7" stroke-width="0.8" fill="none"/>
<path d="M122.0,129.4 Q118.8,131.5 118.6,131.2" stroke="#3e40a0" stroke-width="1.2" fill="none" stroke-linecap="round"/>
<path d="M94.9,108.8 Q93.4,110.2 92.0,109.2" stroke="#3aa34a" stroke-width="0.9" fill="none" stroke-linecap="round"/>
<path d="M94.9,108.7 l2.8,2.0" stroke="#fff" stroke-opacity="0.7" stroke-width="0.8" fill="none"/>
<path d="M91.6,105.9 Q90.7,105.0 88.7,107.5" stroke="#237f33" stroke-width="1.2" fill="none" stroke-linecap="round"/>
<path d="M85.1,100.5 Q83.2,102.3 82.6,101.5 Q83.7,100.8 83.4,104.0" stroke="#6ab870" stroke-width="1.0" fill="none" stroke-linecap="round"/>
<path d="M135.6,123.8 Q135.8,124.3 132.3,123.5 Q131.8,125.1 130.9,126.6" stroke="#5c3490" stroke-width="1.2" fill="none" stroke-linecap="round"/>
<path d="M136.0,123.8 l-2.3,1.7" stroke="#fff" stroke-opacity="0.7" stroke-width="0.8" fill="none"/>
<path d="M120.8,94.7 Q120.4,94.9 123.6,94.8 Q124.2,95.0 126.4,95.0" stroke="#b03040" stroke-width="0.8" fill="none" stroke-linecap="round"/>
<path d="M117.1,119.2 Q116.8,120.7 120.4,120.6 Q121.3,121.3 123.2,118.3" stroke="#4a50b0" stroke-width="0.8" fill="none" stroke-linecap="round"/>
<path d="M117.3,119.3 l3.1,-0.6" stroke="#fff" stroke-opacity="0.7" stroke-width="0.8" fill="none"/>
<path d="M111.3,120.4 Q110.5,121.6 108.4,120.4" stroke="#35388a" stroke-width="1.0" fill="none" stroke-linecap="round"/>
<path d="M125.8,121.3 Q125.5,123.0 124.5,123.0" stroke="#6a3a98" stroke-width="0.9" fill="none" stroke-linecap="round"/>
<path d="M91.6,93.0 Q89.5,95.0 90.0,94.2 Q88.7,94.5 88.1,93.7 Q86.3,92.8 87.7,91.7" stroke="#1f7030" stroke-width="0.8" fill="none" stroke-linecap="round"/>
<path d="M90.0,91.8 l2.6,-2.1" stroke="#fff" stroke-opacity="0.7" stroke-width="0.8" fill="none"/>
<path d="M130.4,131.1 Q130.4,132.1 132.7,129.6" stroke="#6a44a0" stroke-width="1.2" fill="none" stroke-linecap="round"/>
<path d="M129.3,131.1 l1.9,-0.5" stroke="#fff" stroke-opacity="0.7" stroke-width="0.8" fill="none"/>
<path d="M97.5,95.9 Q97.5,95.1 96.6,92.4 Q97.5,89.7 96.3,88.7 Q96.0,85.3 94.4,85.5" stroke="#2f9a3f" stroke-width="0.9" fill="none" stroke-linecap="round"/>
<path d="M95.6,96.1 l0.9,1.8" stroke="#fff" stroke-opacity="0.7" stroke-width="0.8" fill="none"/>
<path d="M124.6,136.0 Q123.0,136.4 123.0,139.4 Q123.0,140.0 121.3,142.7" stroke="#4a50b0" stroke-width="1.0" fill="none" stroke-linecap="round"/>
<path d="M126.2,137.6 l-1.7,-0.0" stroke="#fff" stroke-opacity="0.7" stroke-width="0.8" fill="none"/>
<path d="M136.7,103.0 Q136.1,101.8 134.0,102.8 Q130.9,103.2 131.8,101.5" stroke="#7a3a8a" stroke-width="1.2" fill="none" stroke-linecap="round"/>
<path d="M135.9,103.0 l3.2,-0.6" stroke="#fff" stroke-opacity="0.7" stroke-width="0.8" fill="none"/>
<path d="M84.3,101.8 Q83.1,100.0 83.9,99.5" stroke="#237f33" stroke-width="0.9" fill="none" stroke-linecap="round"/>
<path d="M96.3,94.6 Q98.9,92.7 99.2,94.6 Q101.1,92.0 99.1,91.7 Q101.4,92.1 101.0,89.6" stroke="#3aa34a" stroke-width="1.1" fill="none" stroke-linecap="round"/>
<path d="M97.8,92.8 l1.1,-2.1" stroke="#fff" stroke-opacity="0.7" stroke-width="0.8" fill="none"/>
<path d="M128.3,101.2 Q127.1,100.8 125.7,104.0 Q122.2,102.6 121.9,103.4" stroke="#b03040" stroke-width="0.9" fill="none" stroke-linecap="round"/>
<path d="M125.6,99.7 Q126.2,102.3 126.5,102.0" stroke="#6a3a98" stroke-width="1.1" fill="none" stroke-linecap="round"/>
<path d="M94.8,103.3 Q94.2,101.6 92.3,102.4 Q94.4,100.5 93.0,99.9" stroke="#2f9a3f" stroke-width="0.8" fill="none" stroke-linecap="round"/>
<path d="M95.5,104.4 l-0.5,2.2" stroke="#fff" stroke-opacity="0.7" stroke-width="0.8" fill="none"/>
<path d="M140.8,118.6 Q141.3,120.2 143.8,120.4" stroke="#6a3a98" stroke-width="1.1" fill="none" stroke-linecap="round"/>
<path d="M141.5,118.3 l-2.7,-0.8" stroke="#fff" stroke-opacity="0.7" stroke-width="0.8" fill="none"/>
<path d="M119.4,89.0 Q120.7,88.9 118.3,87.0 Q118.2,84.6 118.0,84.8 Q116.6,83.9 116.6,83.1" stroke="#a89070" stroke-width="0.7" fill="none" stroke-linecap="round"/>
<path d="M118.6,88.6 l1.5,-0.0" stroke="#fff" stroke-opacity="0.7" stroke-width="0.8" fill="none"/>
<path d="M146.6,101.7 Q145.7,98.1 146.0,98.4" stroke="#6a3a98" stroke-width="0.8" fill="none" stroke-linecap="round"/>
<path d="M146.5,101.9 l-1.2,3.3" stroke="#fff" stroke-opacity="0.7" stroke-width="0.8" fill="none"/>
<path d="M86.8,106.6 Q88.4,107.8 86.4,109.7 Q89.5,109.6 89.4,110.5 Q91.2,113.2 90.1,113.5" stroke="#1f7030" stroke-width="1.1" fill="none" stroke-linecap="round"/>
<path d="M88.0,105.9 l-2.3,-0.1" stroke="#fff" stroke-opacity="0.7" stroke-width="0.8" fill="none"/>
<path d="M110.0,128.5 Q110.3,129.7 107.5,129.9" stroke="#2f3385" stroke-width="0.9" fill="none" stroke-linecap="round"/>
<path d="M109.1,127.1 l0.4,1.5" stroke="#fff" stroke-opacity="0.7" stroke-width="0.8" fill="none"/>
<path d="M87.4,94.0 Q87.4,94.6 86.7,96.1" stroke="#2f9a3f" stroke-width="1.1" fill="none" stroke-linecap="round"/>
<path d="M87.1,93.0 l-1.2,-1.7" stroke="#fff" stroke-opacity="0.7" stroke-width="0.8" fill="none"/>
<path d="M121.8,84.0 Q121.9,85.2 119.8,87.3" stroke="#7a3a8a" stroke-width="1.2" fill="none" stroke-linecap="round"/>
<path d="M139.8,107.3 Q140.7,110.1 140.1,110.4 Q138.5,113.9 140.0,113.4" stroke="#b03040" stroke-width="0.9" fill="none" stroke-linecap="round"/>
<path d="M112.3,87.8 Q111.2,88.2 111.0,85.5 Q112.2,85.5 109.8,83.1 Q107.4,83.8 107.3,84.0" stroke="#9d9a74" stroke-width="0.8" fill="none" stroke-linecap="round"/>
<path d="M133.2,101.0 Q131.0,99.1 132.4,98.2 Q134.6,96.4 134.3,96.0 Q133.0,93.5 134.3,93.1" stroke="#6a3a98" stroke-width="1.1" fill="none" stroke-linecap="round"/>
<path d="M111.2,92.7 Q111.2,92.4 111.6,90.0" stroke="#b8b68a" stroke-width="1.2" fill="none" stroke-linecap="round"/>
<path d="M112.3,91.9 l-2.6,-0.1" stroke="#fff" stroke-opacity="0.7" stroke-width="0.8" fill="none"/>
<path d="M94.3,97.1 Q94.3,99.3 94.9,99.6 Q95.4,101.7 93.4,101.6" stroke="#1f7030" stroke-width="0.9" fill="none" stroke-linecap="round"/>
<path d="M93.3,98.7 l-3.0,-0.0" stroke="#fff" stroke-opacity="0.7" stroke-width="0.8" fill="none"/>
<path d="M88.6,94.9 Q87.6,94.5 86.3,96.8 Q84.5,96.7 83.3,96.3" stroke="#3aa34a" stroke-width="1.2" fill="none" stroke-linecap="round"/>
<path d="M87.8,101.2 Q89.0,101.4 90.6,103.0" stroke="#3aa34a" stroke-width="1.1" fill="none" stroke-linecap="round"/>
<path d="M86.2,101.2 l0.4,2.1" stroke="#fff" stroke-opacity="0.7" stroke-width="0.8" fill="none"/>
<path d="M123.2,89.8 Q125.2,88.0 123.8,87.3" stroke="#b03040" stroke-width="0.8" fill="none" stroke-linecap="round"/>
<path d="M112.4,121.5 Q114.9,122.6 115.7,121.3 Q115.5,123.8 117.6,124.1 Q117.4,124.5 120.9,123.8" stroke="#35388a" stroke-width="0.8" fill="none" stroke-linecap="round"/>
<path d="M113.7,122.6 l2.1,-1.4" stroke="#fff" stroke-opacity="0.7" stroke-width="0.8" fill="none"/>
<path d="M121.7,138.1 Q119.6,138.9 121.2,140.3 Q119.8,141.5 121.3,142.6 Q122.5,145.6 121.9,144.8" stroke="#5a5ab8" stroke-width="0.8" fill="none" stroke-linecap="round"/>
<path d="M121.4,137.8 l1.1,-1.8" stroke="#fff" stroke-opacity="0.7" stroke-width="0.8" fill="none"/>
<path d="M93.8,99.5 Q94.6,102.5 94.5,102.2 Q92.0,101.7 92.2,103.8" stroke="#237f33" stroke-width="1.1" fill="none" stroke-linecap="round"/>
<path d="M93.5,101.4 l-1.8,0.3" stroke="#fff" stroke-opacity="0.7" stroke-width="0.8" fill="none"/>
<path d="M92.5,116.5 Q92.8,119.6 89.4,118.8 Q90.3,120.8 90.6,122.5" stroke="#3aa34a" stroke-width="1.1" fill="none" stroke-linecap="round"/>
<path d="M118.2,96.6 Q118.8,99.1 119.0,98.7" stroke="#7a3a8a" stroke-width="1.0" fill="none" stroke-linecap="round"/>
<path d="M117.1,95.1 l1.9,-1.5" stroke="#fff" stroke-opacity="0.7" stroke-width="0.8" fill="none"/>
<path d="M88.0,124.6 Q89.4,123.8 91.5,123.3 Q90.5,120.5 91.0,119.5 Q92.0,116.4 91.8,115.9" stroke="#3aa34a" stroke-width="1.1" fill="none" stroke-linecap="round"/>
<path d="M134.5,90.7 Q136.4,91.1 136.0,89.0 Q136.5,86.7 135.2,86.9" stroke="#6a3a98" stroke-width="0.9" fill="none" stroke-linecap="round"/>
<path d="M135.4,90.6 l0.2,3.1" stroke="#fff" stroke-opacity="0.7" stroke-width="0.8" fill="none"/>
<path d="M100.4,122.3 Q99.8,122.9 98.9,124.7 Q97.3,126.6 97.0,126.7 Q96.2,127.3 94.6,125.2" stroke="#4fae5a" stroke-width="1.0" fill="none" stroke-linecap="round"/>
<path d="M98.7,123.3 l1.5,-1.2" stroke="#fff" stroke-opacity="0.7" stroke-width="0.8" fill="none"/>
<path d="M86.8,112.1 Q87.3,112.0 86.2,109.2 Q85.7,107.4 84.7,106.5 Q86.4,103.9 84.3,103.5" stroke="#4fae5a" stroke-width="1.0" fill="none" stroke-linecap="round"/>
<path d="M86.5,111.6 l1.4,-0.8" stroke="#fff" stroke-opacity="0.7" stroke-width="0.8" fill="none"/>
<path d="M117.1,96.0 Q116.2,92.9 116.2,93.3" stroke="#b03040" stroke-width="1.2" fill="none" stroke-linecap="round"/>
<path d="M101.3,126.2 Q101.7,124.5 102.6,123.2 Q103.2,123.9 105.8,123.6 Q109.1,124.5 108.5,125.5" stroke="#2f9a3f" stroke-width="0.7" fill="none" stroke-linecap="round"/>
<path d="M145.9,99.7 Q145.5,99.9 148.2,97.0" stroke="#6a3a98" stroke-width="0.8" fill="none" stroke-linecap="round"/>
<path d="M145.1,98.4 l-1.4,1.7" stroke="#fff" stroke-opacity="0.7" stroke-width="0.8" fill="none"/>
<path d="M111.1,132.8 Q110.8,133.4 110.0,136.4 Q113.0,139.2 113.1,138.7 Q109.7,138.0 110.2,141.2" stroke="#3f45a5" stroke-width="0.9" fill="none" stroke-linecap="round"/>
<path d="M111.0,134.7 l2.6,2.1" stroke="#fff" stroke-opacity="0.7" stroke-width="0.8" fill="none"/>
<path d="M83.5,109.5 Q85.3,109.2 85.3,111.5 Q86.1,111.9 83.0,112.9 Q83.1,112.0 80.9,114.6" stroke="#1f7030" stroke-width="0.8" fill="none" stroke-linecap="round"/>
<path d="M81.7,110.4 l-1.1,2.9" stroke="#fff" stroke-opacity="0.7" stroke-width="0.8" fill="none"/>
<path d="M125.2,106.6 Q123.6,103.5 125.0,103.8" stroke="#4a50b0" stroke-width="0.8" fill="none" stroke-linecap="round"/>
<path d="M124.4,104.7 l0.4,-2.0" stroke="#fff" stroke-opacity="0.7" stroke-width="0.8" fill="none"/>
<path d="M118.1,122.5 Q115.4,120.9 116.0,122.1" stroke="#6a44a0" stroke-width="1.2" fill="none" stroke-linecap="round"/>
<path d="M93.4,119.5 Q94.5,116.9 93.8,115.7" stroke="#4fae5a" stroke-width="1.1" fill="none" stroke-linecap="round"/>
<path d="M143.0,89.9 Q140.2,91.2 140.9,88.7 Q138.6,87.9 138.5,88.2 Q135.9,85.5 137.2,86.2" stroke="#7a3a8a" stroke-width="0.7" fill="none" stroke-linecap="round"/>
<path d="M144.8,89.2 l0.4,-1.7" stroke="#fff" stroke-opacity="0.7" stroke-width="0.8" fill="none"/>
<path d="M143.8,99.6 Q142.5,99.0 141.9,101.8" stroke="#c84a3a" stroke-width="1.2" fill="none" stroke-linecap="round"/>
<ellipse cx="110.5" cy="184.5" rx="11" ry="9.5" fill="#ffffff"/>
<path d="M86.8,181.3 Q86.7,178.7 85.7,178.8 Q84.6,177.8 83.4,180.3" stroke="#cfe3bf" stroke-width="0.8" fill="none" stroke-linecap="round"/>
<path d="M86.6,182.7 l2.4,0.5" stroke="#fff" stroke-opacity="0.7" stroke-width="0.8" fill="none"/>
<path d="M115.3,202.2 Q118.1,203.4 116.8,200.7 Q118.6,200.4 118.8,201.6 Q118.9,199.4 120.7,200.6" stroke="#c8c4e4" stroke-width="1.1" fill="none" stroke-linecap="round"/>
<path d="M117.1,203.6 l1.3,-1.9" stroke="#fff" stroke-opacity="0.7" stroke-width="0.8" fill="none"/>
<path d="M141.5,191.6 Q138.7,191.5 139.3,192.6 Q140.0,189.9 138.6,190.3 Q135.8,188.2 136.3,189.5" stroke="#d0cce8" stroke-width="1.1" fill="none" stroke-linecap="round"/>
<path d="M140.3,192.6 l-2.2,-0.9" stroke="#fff" stroke-opacity="0.7" stroke-width="0.8" fill="none"/>
<path d="M89.3,202.4 Q91.0,205.6 89.0,206.4" stroke="#cfe3bf" stroke-width="0.9" fill="none" stroke-linecap="round"/>
<path d="M94.6,186.9 Q96.7,185.6 96.5,185.6 Q95.1,182.9 97.0,183.4" stroke="#cfe3bf" stroke-width="1.0" fill="none" stroke-linecap="round"/>
<path d="M94.4,188.8 l-1.8,-1.3" stroke="#fff" stroke-opacity="0.7" stroke-width="0.8" fill="none"/>
<path d="M138.6,173.8 Q137.9,175.9 139.8,176.0 Q137.5,178.4 137.6,177.2 Q137.3,175.9 136.0,175.3" stroke="#f4b888" stroke-width="0.8" fill="none" stroke-linecap="round"/>
<path d="M139.4,172.9 l1.9,-0.5" stroke="#fff" stroke-opacity="0.7" stroke-width="0.8" fill="none"/>
<path d="M135.7,199.5 Q138.2,200.0 137.9,199.6 Q140.5,197.7 139.6,198.2" stroke="#d8cce8" stroke-width="0.7" fill="none" stroke-linecap="round"/>
<path d="M134.4,199.0 l-1.5,0.5" stroke="#fff" stroke-opacity="0.7" stroke-width="0.8" fill="none"/>
<path d="M118.8,170.7 Q119.8,172.4 119.2,173.5 Q118.8,171.8 122.1,173.9" stroke="#f8d0a8" stroke-width="1.2" fill="none" stroke-linecap="round"/>
<path d="M123.1,192.4 Q125.5,191.9 124.3,189.6 Q125.0,188.0 121.9,187.7 Q120.7,187.2 119.8,190.0" stroke="#d2c4e4" stroke-width="1.2" fill="none" stroke-linecap="round"/>
<path d="M88.2,178.4 Q88.8,177.1 89.7,176.1 Q90.7,175.1 91.5,174.0 Q89.9,170.7 91.6,171.2" stroke="#bcd4a8" stroke-width="1.2" fill="none" stroke-linecap="round"/>
<path d="M88.2,180.0 l0.5,-2.8" stroke="#fff" stroke-opacity="0.7" stroke-width="0.8" fill="none"/>
<path d="M105.2,171.4 Q104.5,169.6 102.5,170.3" stroke="#ece4c8" stroke-width="0.9" fill="none" stroke-linecap="round"/>
<path d="M106.3,198.7 Q106.7,200.1 104.4,200.0 Q102.9,197.7 103.2,198.0" stroke="#c8c4e4" stroke-width="0.9" fill="none" stroke-linecap="round"/>
<path d="M106.8,198.6 l0.5,2.3" stroke="#fff" stroke-opacity="0.7" stroke-width="0.8" fill="none"/>
<path d="M101.6,214.5 Q101.3,214.3 99.3,213.5 Q99.2,211.9 96.8,214.2 Q96.7,213.6 96.9,216.7" stroke="#cfe3bf" stroke-width="1.2" fill="none" stroke-linecap="round"/>
<path d="M102.1,214.3 l1.0,1.2" stroke="#fff" stroke-opacity="0.7" stroke-width="0.8" fill="none"/>
<path d="M122.7,203.1 Q122.8,205.3 124.8,205.8" stroke="#c8c0e4" stroke-width="1.1" fill="none" stroke-linecap="round"/>
<path d="M132.7,196.0 Q135.4,198.3 134.6,199.0" stroke="#d2c4e4" stroke-width="0.8" fill="none" stroke-linecap="round"/>
<path d="M122.4,218.9 Q123.9,217.1 121.8,215.7 Q121.2,215.0 122.9,212.6 Q125.2,213.3 126.2,212.3" stroke="#c8c0e4" stroke-width="0.8" fill="none" stroke-linecap="round"/>
<path d="M116.5,211.5 Q116.1,211.7 116.4,213.7 Q114.2,215.2 114.2,213.7" stroke="#d0cce8" stroke-width="0.9" fill="none" stroke-linecap="round"/>
<path d="M118.1,211.4 l-2.8,-0.6" stroke="#fff" stroke-opacity="0.7" stroke-width="0.8" fill="none"/>
<path d="M115.2,204.5 Q113.7,203.2 114.5,201.6 Q114.1,201.4 111.9,200.1 Q112.1,199.4 109.5,198.3" stroke="#c8c4e4" stroke-width="0.9" fill="none" stroke-linecap="round"/>
<path d="M114.1,205.9 l1.9,-2.7" stroke="#fff" stroke-opacity="0.7" stroke-width="0.8" fill="none"/>
<path d="M118.9,175.0 Q117.3,177.2 116.6,177.0" stroke="#e0c4d8" stroke-width="1.0" fill="none" stroke-linecap="round"/>
<path d="M98.5,191.8 Q95.8,193.0 96.2,194.9 Q96.9,196.6 99.5,196.8" stroke="#c4dcb0" stroke-width="1.2" fill="none" stroke-linecap="round"/>
<path d="M97.7,192.7 l0.9,1.3" stroke="#fff" stroke-opacity="0.7" stroke-width="0.8" fill="none"/>
<path d="M96.9,193.4 Q95.8,195.3 93.7,194.6 Q92.1,195.9 90.3,194.4" stroke="#d8e8cc" stroke-width="1.0" fill="none" stroke-linecap="round"/>
<path d="M97.2,192.0 l0.5,2.5" stroke="#fff" stroke-opacity="0.7" stroke-width="0.8" fill="none"/>
<path d="M141.8,201.4 Q141.5,203.5 143.6,203.3 Q143.3,204.5 146.1,202.5" stroke="#cbbde0" stroke-width="0.8" fill="none" stroke-linecap="round"/>
<path d="M143.6,201.6 l-1.8,1.5" stroke="#fff" stroke-opacity="0.7" stroke-width="0.8" fill="none"/>
<path d="M127.7,174.9 Q129.4,175.8 131.1,174.5 Q133.5,173.1 134.4,174.2" stroke="#f6c498" stroke-width="0.7" fill="none" stroke-linecap="round"/>
<path d="M127.8,175.2 l2.5,0.6" stroke="#fff" stroke-opacity="0.7" stroke-width="0.8" fill="none"/>
<path d="M90.3,173.9 Q87.7,172.8 88.3,175.1 Q87.6,175.1 87.3,173.0" stroke="#c4dcb0" stroke-width="0.9" fill="none" stroke-linecap="round"/>
<path d="M127.5,214.8 Q128.4,214.6 129.1,218.3 Q128.8,220.2 126.0,220.5 Q125.0,218.9 123.0,218.0" stroke="#d8d0ec" stroke-width="1.0" fill="none" stroke-linecap="round"/>
<path d="M97.8,219.0 Q100.0,220.4 100.6,219.6 Q100.7,221.7 101.7,222.1" stroke="#c4dcb0" stroke-width="0.7" fill="none" stroke-linecap="round"/>
<path d="M97.2,219.6 l-1.5,0.3" stroke="#fff" stroke-opacity="0.7" stroke-width="0.8" fill="none"/>
<path d="M122.3,176.9 Q122.0,180.3 122.6,179.7" stroke="#f8d0a8" stroke-width="1.1" fill="none" stroke-linecap="round"/>
<path d="M130.0,178.4 Q126.8,178.1 126.8,179.8 Q126.1,178.4 125.0,176.8 Q126.9,178.1 128.2,175.4" stroke="#ecc4b8" stroke-width="1.1" fill="none" stroke-linecap="round"/>
<path d="M85.6,199.5 Q84.3,200.3 82.3,201.7 Q79.8,202.3 79.0,203.8" stroke="#c4dcb0" stroke-width="0.9" fill="none" stroke-linecap="round"/>
<path d="M132.3,198.8 Q132.9,197.4 135.1,196.8 Q137.7,195.5 138.4,195.6" stroke="#d8cce8" stroke-width="1.1" fill="none" stroke-linecap="round"/>
<path d="M133.3,197.0 l-0.4,-2.0" stroke="#fff" stroke-opacity="0.7" stroke-width="0.8" fill="none"/>
<path d="M87.1,212.7 Q84.5,213.8 85.0,212.0 Q82.5,211.6 82.8,212.3 Q82.3,213.8 82.6,214.5" stroke="#c4dcb0" stroke-width="1.1" fill="none" stroke-linecap="round"/>
<path d="M135.1,171.0 Q134.2,169.8 134.9,168.5" stroke="#f8d0a8" stroke-width="1.2" fill="none" stroke-linecap="round"/>
<path d="M135.9,169.8 l-2.3,-1.9" stroke="#fff" stroke-opacity="0.7" stroke-width="0.8" fill="none"/>
<path d="M99.2,177.3 Q97.4,174.9 97.5,176.1" stroke="#c4dcb0" stroke-width="0.7" fill="none" stroke-linecap="round"/>
<path d="M100.8,176.0 l-0.5,3.0" stroke="#fff" stroke-opacity="0.7" stroke-width="0.8" fill="none"/>
<path d="M89.4,216.4 Q88.9,216.9 86.3,218.3" stroke="#cfe3bf" stroke-width="0.8" fill="none" stroke-linecap="round"/>
<path d="M88.6,217.5 l1.4,-2.3" stroke="#fff" stroke-opacity="0.7" stroke-width="0.8" fill="none"/>
<path d="M135.9,173.9 Q136.7,174.2 137.0,172.1" stroke="#ecc4b8" stroke-width="1.0" fill="none" stroke-linecap="round"/>
<path d="M141.5,199.9 Q143.5,200.5 142.5,203.2 Q141.3,206.5 141.5,206.6 Q141.9,208.6 142.7,209.8" stroke="#dad6f0" stroke-width="1.2" fill="none" stroke-linecap="round"/>
<path d="M99.2,195.4 Q98.6,196.8 99.1,199.2 Q99.5,200.5 100.8,202.7 Q103.0,203.9 104.7,202.8" stroke="#c4dcb0" stroke-width="1.0" fill="none" stroke-linecap="round"/>
<path d="M118.2,173.4 Q116.2,170.8 117.7,170.9" stroke="#ecc4b8" stroke-width="0.9" fill="none" stroke-linecap="round"/>
<path d="M118.5,172.7 l1.3,-2.0" stroke="#fff" stroke-opacity="0.7" stroke-width="0.8" fill="none"/>
<path d="M98.8,169.0 Q99.4,169.6 102.3,167.9 Q105.1,167.1 105.8,167.1" stroke="#c4dcb0" stroke-width="0.9" fill="none" stroke-linecap="round"/>
<path d="M125.5,193.1 Q126.2,194.7 127.6,193.7 Q129.7,195.7 129.0,195.3 Q130.0,198.1 128.0,197.2" stroke="#d8cce8" stroke-width="1.1" fill="none" stroke-linecap="round"/>
<path d="M128.1,212.2 Q127.3,212.1 129.1,214.3 Q129.1,217.0 130.7,216.0 Q130.8,213.7 132.4,214.4" stroke="#d0c8e8" stroke-width="1.1" fill="none" stroke-linecap="round"/>
<path d="M111.2,198.7 Q110.9,200.6 112.6,200.7 Q111.9,200.5 113.3,203.0" stroke="#d0cce8" stroke-width="0.9" fill="none" stroke-linecap="round"/>
<path d="M111.4,200.0 l0.1,-2.1" stroke="#fff" stroke-opacity="0.7" stroke-width="0.8" fill="none"/>
<path d="M103.4,196.4 Q101.9,196.0 101.2,195.4" stroke="#c4dcb0" stroke-width="1.0" fill="none" stroke-linecap="round"/>
<path d="M102.4,194.5 l2.8,-0.2" stroke="#fff" stroke-opacity="0.7" stroke-width="0.8" fill="none"/>
<path d="M133.9,206.7 Q134.8,206.7 132.5,204.2 Q132.1,205.1 129.8,204.9" stroke="#d8cce8" stroke-width="1.0" fill="none" stroke-linecap="round"/>
<path d="M132.7,208.4 l-1.7,-0.8" stroke="#fff" stroke-opacity="0.7" stroke-width="0.8" fill="none"/>
<path d="M104.1,200.6 Q102.1,198.8 100.2,200.8 Q98.2,203.3 98.6,204.4 Q96.4,202.8 94.7,205.0" stroke="#dad6f0" stroke-width="0.9" fill="none" stroke-linecap="round"/>
<path d="M117.8,224.3 Q117.1,225.0 115.1,224.2 Q115.4,221.6 113.5,222.0 Q113.9,221.9 111.5,220.1" stroke="#dad6f0" stroke-width="1.0" fill="none" stroke-linecap="round"/>
<path d="M119.2,225.7 l2.3,2.0" stroke="#fff" stroke-opacity="0.7" stroke-width="0.8" fill="none"/>
<path d="M128.7,218.4 Q127.4,215.2 129.5,214.6 Q127.4,211.9 128.5,210.8" stroke="#d8d0ec" stroke-width="0.9" fill="none" stroke-linecap="round"/>
<path d="M106.1,168.8 Q107.3,169.6 109.2,167.8" stroke="#f2e6bc" stroke-width="1.0" fill="none" stroke-linecap="round"/>
<path d="M104.6,168.4 l0.3,1.8" stroke="#fff" stroke-opacity="0.7" stroke-width="0.8" fill="none"/>
<path d="M123.9,210.0 Q125.7,210.8 126.0,207.6 Q128.2,208.3 129.2,208.2 Q128.6,206.0 129.3,205.0" stroke="#c8c0e4" stroke-width="1.1" fill="none" stroke-linecap="round"/>
<path d="M125.0,211.3 l-1.8,1.8" stroke="#fff" stroke-opacity="0.7" stroke-width="0.8" fill="none"/>
<path d="M121.5,172.3 Q123.0,172.3 124.5,171.7 Q126.7,172.2 125.3,168.7" stroke="#e0c4d8" stroke-width="1.1" fill="none" stroke-linecap="round"/>
<path d="M118.5,164.2 Q117.8,166.9 120.4,166.7 Q123.5,166.7 123.5,167.0 Q123.4,168.5 125.4,169.5" stroke="#f6e0b4" stroke-width="1.0" fill="none" stroke-linecap="round"/>
<path d="M119.5,165.7 l1.6,-0.9" stroke="#fff" stroke-opacity="0.7" stroke-width="0.8" fill="none"/>
<path d="M102.9,171.5 Q100.6,170.9 99.4,173.0" stroke="#cfe3bf" stroke-width="1.0" fill="none" stroke-linecap="round"/>
<path d="M131.2,215.0 Q129.3,214.1 131.2,213.0" stroke="#d8d0ec" stroke-width="0.8" fill="none" stroke-linecap="round"/>
<path d="M130.1,216.8 l-0.9,1.5" stroke="#fff" stroke-opacity="0.7" stroke-width="0.8" fill="none"/>
<path d="M128.8,211.3 Q131.5,211.8 131.1,209.0 Q132.0,207.3 133.7,207.3" stroke="#cbbde0" stroke-width="1.2" fill="none" stroke-linecap="round"/>
<path d="M141.2,205.3 Q142.2,202.6 143.8,203.8 Q143.9,205.5 145.6,206.3 Q146.3,206.5 147.9,208.2" stroke="#d2c4e4" stroke-width="1.1" fill="none" stroke-linecap="round"/>
<path d="M139.3,177.6 Q137.9,181.1 139.8,181.4" stroke="#ecc4b8" stroke-width="1.0" fill="none" stroke-linecap="round"/>
<path d="M138.9,185.4 Q138.9,185.5 142.4,185.5 Q144.4,184.1 143.3,182.1 Q142.7,181.3 143.7,178.6" stroke="#f4b888" stroke-width="0.7" fill="none" stroke-linecap="round"/>
<path d="M139.0,183.9 l-2.2,0.9" stroke="#fff" stroke-opacity="0.7" stroke-width="0.8" fill="none"/>
<path d="M126.9,176.8 Q127.2,177.1 130.3,175.2 Q133.4,175.0 133.5,177.2" stroke="#f8d0a8" stroke-width="1.2" fill="none" stroke-linecap="round"/>
<path d="M84.5,182.1 Q86.9,180.9 88.2,182.1 Q86.8,182.4 88.9,185.8 Q87.1,188.9 86.8,188.9" stroke="#cfe3bf" stroke-width="1.2" fill="none" stroke-linecap="round"/>
<path d="M89.5,205.6 Q90.7,205.8 90.3,207.9 Q89.8,208.1 89.2,210.0" stroke="#bcd4a8" stroke-width="0.9" fill="none" stroke-linecap="round"/>
<path d="M115.6,169.7 Q115.6,166.7 115.8,167.1 Q115.4,168.8 118.4,167.2 Q118.5,166.1 117.9,164.7" stroke="#f6e0b4" stroke-width="0.9" fill="none" stroke-linecap="round"/>
<path d="M93.2,173.6 Q94.8,175.9 93.0,177.4" stroke="#cfe3bf" stroke-width="0.7" fill="none" stroke-linecap="round"/>
<path d="M82.6,180.6 Q80.6,178.9 80.7,177.6" stroke="#c4dcb0" stroke-width="1.1" fill="none" stroke-linecap="round"/>
<path d="M133.5,177.1 Q129.9,177.0 129.9,176.1 Q129.3,176.0 128.1,172.9 Q124.8,171.2 124.4,173.3" stroke="#ecc4b8" stroke-width="1.0" fill="none" stroke-linecap="round"/>
<path d="M134.7,175.4 l-1.9,0.7" stroke="#fff" stroke-opacity="0.7" stroke-width="0.8" fill="none"/>
<path d="M141.3,197.8 Q139.9,199.1 139.9,199.4 Q138.2,200.5 138.4,200.9" stroke="#f4b888" stroke-width="0.7" fill="none" stroke-linecap="round"/>
<path d="M92.0,178.3 Q89.4,176.5 90.2,175.5 Q87.7,176.5 87.4,173.8 Q86.6,176.4 85.9,176.8" stroke="#c4dcb0" stroke-width="1.2" fill="none" stroke-linecap="round"/>
<path d="M90.2,177.3 l-2.9,0.8" stroke="#fff" stroke-opacity="0.7" stroke-width="0.8" fill="none"/>
<path d="M140.1,171.3 Q141.6,174.1 140.9,175.1 Q141.7,176.1 144.5,176.7 Q146.1,177.5 147.9,174.8" stroke="#ecc4b8" stroke-width="0.9" fill="none" stroke-linecap="round"/>
<path d="M138.3,170.9 l2.7,-0.3" stroke="#fff" stroke-opacity="0.7" stroke-width="0.8" fill="none"/>
<path d="M103.5,205.6 Q103.5,205.3 101.3,207.3" stroke="#c4dcb0" stroke-width="0.9" fill="none" stroke-linecap="round"/>
<path d="M102.3,204.4 l-1.7,-0.6" stroke="#fff" stroke-opacity="0.7" stroke-width="0.8" fill="none"/>
<path d="M110.5,224.1 Q109.1,222.0 108.8,221.8" stroke="#d0cce8" stroke-width="0.7" fill="none" stroke-linecap="round"/>
<path d="M112.2,224.9 l-0.2,2.3" stroke="#fff" stroke-opacity="0.7" stroke-width="0.8" fill="none"/>
<path d="M98.5,184.9 Q100.7,185.3 101.1,182.5" stroke="#c4dcb0" stroke-width="0.7" fill="none" stroke-linecap="round"/>
<path d="M100.0,184.2 l-1.2,1.1" stroke="#fff" stroke-opacity="0.7" stroke-width="0.8" fill="none"/>
<path d="M84.2,186.9 Q82.9,187.7 82.3,188.2" stroke="#c4dcb0" stroke-width="0.8" fill="none" stroke-linecap="round"/>
<path d="M97.9,207.5 Q98.3,207.1 99.1,209.6 Q99.1,209.1 100.2,211.7" stroke="#bcd4a8" stroke-width="0.9" fill="none" stroke-linecap="round"/>
<path d="M89.9,215.1 Q89.8,215.3 93.1,212.8 Q94.3,210.5 96.7,211.2" stroke="#cfe3bf" stroke-width="1.1" fill="none" stroke-linecap="round"/>
<path d="M91.1,213.6 l0.4,-2.0" stroke="#fff" stroke-opacity="0.7" stroke-width="0.8" fill="none"/>
<path d="M142.9,180.1 Q142.0,182.7 143.9,183.9" stroke="#f8d0a8" stroke-width="0.8" fill="none" stroke-linecap="round"/>
<path d="M141.5,180.5 l-1.3,2.0" stroke="#fff" stroke-opacity="0.7" stroke-width="0.8" fill="none"/>
<path d="M127.5,196.8 Q128.9,198.1 131.3,196.6 Q133.5,196.7 134.0,193.9" stroke="#cbbde0" stroke-width="0.7" fill="none" stroke-linecap="round"/>
<path d="M126.7,198.1 l-1.0,2.0" stroke="#fff" stroke-opacity="0.7" stroke-width="0.8" fill="none"/>
<path d="M139.9,202.3 Q139.6,202.8 137.7,205.5 Q137.5,206.9 140.8,207.9" stroke="#cbbde0" stroke-width="1.0" fill="none" stroke-linecap="round"/>
<path d="M139.7,204.2 l2.2,1.0" stroke="#fff" stroke-opacity="0.7" stroke-width="0.8" fill="none"/>
<path d="M106.3,212.3 Q103.6,212.3 102.8,214.2" stroke="#c8c4e4" stroke-width="0.8" fill="none" stroke-linecap="round"/>
<path d="M137.4,209.9 Q137.9,208.4 139.8,208.0 Q140.3,209.9 142.2,210.1 Q143.2,213.5 142.6,213.1" stroke="#d2c4e4" stroke-width="1.2" fill="none" stroke-linecap="round"/>
<path d="M137.6,209.4 l-1.8,-1.7" stroke="#fff" stroke-opacity="0.7" stroke-width="0.8" fill="none"/>
<path d="M99.6,208.9 Q99.4,210.9 96.2,209.0 Q97.1,206.7 94.8,205.9 Q96.1,205.4 97.3,203.6" stroke="#c4dcb0" stroke-width="0.7" fill="none" stroke-linecap="round"/>
<path d="M130.0,205.5 Q129.3,205.8 131.1,203.3 Q130.6,200.8 129.7,201.2 Q131.4,199.2 131.9,200.1" stroke="#cbbde0" stroke-width="1.1" fill="none" stroke-linecap="round"/>
<path d="M130.5,204.7 l1.0,1.6" stroke="#fff" stroke-opacity="0.7" stroke-width="0.8" fill="none"/>
<path d="M124.2,222.9 Q123.1,225.7 122.8,225.0 Q120.1,225.0 121.0,223.2" stroke="#d0c8e8" stroke-width="0.8" fill="none" stroke-linecap="round"/>
<path d="M126.2,221.4 l-0.7,2.9" stroke="#fff" stroke-opacity="0.7" stroke-width="0.8" fill="none"/>
<path d="M134.1,214.5 Q134.8,215.3 131.7,216.9 Q130.2,218.3 128.3,217.2" stroke="#c8c0e4" stroke-width="0.8" fill="none" stroke-linecap="round"/>
<path d="M133.1,214.5 l2.6,2.1" stroke="#fff" stroke-opacity="0.7" stroke-width="0.8" fill="none"/>
<path d="M88.6,182.6 Q89.5,183.0 90.6,184.5 Q90.2,182.5 93.4,184.1" stroke="#c4dcb0" stroke-width="1.2" fill="none" stroke-linecap="round"/>
<path d="M88.5,184.6 l1.6,0.9" stroke="#fff" stroke-opacity="0.7" stroke-width="0.8" fill="none"/>
<path d="M94.0,216.3 Q93.6,216.2 96.7,215.8 Q98.5,215.4 99.2,216.8 Q100.1,220.1 98.2,219.3" stroke="#bcd4a8" stroke-width="0.9" fill="none" stroke-linecap="round"/>
<path d="M129.1,173.4 Q128.9,172.3 130.2,171.1" stroke="#f6c498" stroke-width="0.7" fill="none" stroke-linecap="round"/>
<path d="M129.2,174.6 l1.5,-0.4" stroke="#fff" stroke-opacity="0.7" stroke-width="0.8" fill="none"/>
<path d="M133.6,208.1 Q134.0,206.9 130.6,208.8 Q129.9,208.1 130.0,205.8 Q130.3,203.2 127.3,204.4" stroke="#cbbde0" stroke-width="1.0" fill="none" stroke-linecap="round"/>
<path d="M134.2,209.3 l-1.7,1.4" stroke="#fff" stroke-opacity="0.7" stroke-width="0.8" fill="none"/>
<path d="M104.9,202.1 Q103.6,201.8 104.7,199.5" stroke="#d8e8cc" stroke-width="1.0" fill="none" stroke-linecap="round"/>
<path d="M90.1,184.2 Q90.7,184.1 92.8,183.6" stroke="#bcd4a8" stroke-width="1.2" fill="none" stroke-linecap="round"/>
<path d="M91.1,182.7 l1.6,-1.5" stroke="#fff" stroke-opacity="0.7" stroke-width="0.8" fill="none"/>
<path d="M146.7,189.2 Q144.4,190.4 143.0,188.4 Q144.1,186.6 143.0,184.6" stroke="#ecc4b8" stroke-width="0.7" fill="none" stroke-linecap="round"/>
<path d="M124.9,219.0 Q124.0,219.8 122.1,220.6 Q119.0,222.4 119.0,221.5" stroke="#d0c8e8" stroke-width="1.1" fill="none" stroke-linecap="round"/>
<path d="M125.1,188.5 Q123.9,187.3 123.1,187.8" stroke="#e0c4d8" stroke-width="0.7" fill="none" stroke-linecap="round"/>
<path d="M124.4,187.5 l-1.2,2.3" stroke="#fff" stroke-opacity="0.7" stroke-width="0.8" fill="none"/>
<path d="M122.2,174.2 Q124.8,173.7 124.1,176.3" stroke="#ecc4b8" stroke-width="0.8" fill="none" stroke-linecap="round"/>
<path d="M133.4,171.3 Q133.2,173.3 135.0,172.7" stroke="#f8d0a8" stroke-width="0.9" fill="none" stroke-linecap="round"/>
<path d="M138.5,174.7 Q140.9,174.6 141.0,174.5" stroke="#f8d0a8" stroke-width="0.8" fill="none" stroke-linecap="round"/>
<path d="M137.8,210.3 Q136.0,211.4 135.5,209.6 Q133.9,207.2 135.3,207.3" stroke="#d2c4e4" stroke-width="0.9" fill="none" stroke-linecap="round"/>
<path d="M121.8,218.4 Q124.2,220.7 123.6,221.2 Q125.9,220.8 126.9,221.0 Q125.8,218.6 126.1,217.8" stroke="#d0c8e8" stroke-width="1.0" fill="none" stroke-linecap="round"/>
<path d="M120.6,216.9 l-2.3,-1.7" stroke="#fff" stroke-opacity="0.7" stroke-width="0.8" fill="none"/>
<path d="M104.5,174.7 Q104.1,172.8 102.7,171.6" stroke="#ece4c8" stroke-width="1.2" fill="none" stroke-linecap="round"/>
<path d="M106.2,174.0 l-2.4,0.7" stroke="#fff" stroke-opacity="0.7" stroke-width="0.8" fill="none"/>
<path d="M127.6,177.1 Q125.2,178.5 126.0,178.6 Q126.2,178.5 126.5,180.9" stroke="#e0c4d8" stroke-width="0.9" fill="none" stroke-linecap="round"/>
<path d="M127.0,177.4 l-1.4,-1.7" stroke="#fff" stroke-opacity="0.7" stroke-width="0.8" fill="none"/>
<path d="M124.6,179.1 Q125.7,180.0 123.8,181.8" stroke="#e0c4d8" stroke-width="0.9" fill="none" stroke-linecap="round"/>
<path d="M123.0,179.7 l2.2,-2.1" stroke="#fff" stroke-opacity="0.7" stroke-width="0.8" fill="none"/>
<path d="M110.9,175.5 Q111.0,177.7 112.4,176.8 Q109.8,178.1 111.0,178.3 Q109.8,179.0 109.8,180.0" stroke="#ece4c8" stroke-width="0.9" fill="none" stroke-linecap="round"/>
<path d="M121.1,222.7 Q121.9,220.6 118.7,221.9 Q117.1,222.3 116.3,221.5 Q117.4,221.3 114.7,223.4" stroke="#c8c4e4" stroke-width="0.9" fill="none" stroke-linecap="round"/>
<path d="M119.4,221.3 l-2.4,1.8" stroke="#fff" stroke-opacity="0.7" stroke-width="0.8" fill="none"/>
<path d="M124.0,201.1 Q126.8,199.8 126.6,199.0 Q125.5,196.9 125.4,195.9 Q128.2,193.2 127.9,193.7" stroke="#d8cce8" stroke-width="0.9" fill="none" stroke-linecap="round"/>
<path d="M118.3,166.7 Q117.1,170.1 116.3,169.6" stroke="#ece4c8" stroke-width="1.0" fill="none" stroke-linecap="round"/>
<path d="M119.9,167.9 l1.4,1.1" stroke="#fff" stroke-opacity="0.7" stroke-width="0.8" fill="none"/>
<path d="M114.3,171.4 Q113.1,168.0 112.7,168.6 Q112.4,169.8 109.6,169.1 Q106.9,168.3 106.9,167.3" stroke="#f6e0b4" stroke-width="0.7" fill="none" stroke-linecap="round"/>
<path d="M114.8,172.8 l-1.1,3.3" stroke="#fff" stroke-opacity="0.7" stroke-width="0.8" fill="none"/>
<path d="M83.6,188.3 Q84.1,188.7 80.8,188.5 Q82.4,191.6 80.2,191.3" stroke="#cfe3bf" stroke-width="0.8" fill="none" stroke-linecap="round"/>
<path d="M98.4,199.7 Q98.6,200.4 97.5,202.4 Q98.0,203.2 100.0,203.8" stroke="#c4dcb0" stroke-width="0.8" fill="none" stroke-linecap="round"/>
<path d="M99.1,200.5 l-1.4,2.8" stroke="#fff" stroke-opacity="0.7" stroke-width="0.8" fill="none"/>
<path d="M82.7,184.8 Q82.1,185.2 85.4,184.8 Q84.8,186.6 85.2,187.5 Q84.9,189.2 86.2,190.1" stroke="#bcd4a8" stroke-width="1.0" fill="none" stroke-linecap="round"/>
<path d="M83.7,183.0 l-2.5,0.0" stroke="#fff" stroke-opacity="0.7" stroke-width="0.8" fill="none"/>
<path d="M86.7,178.1 Q88.3,177.4 90.6,178.5 Q90.4,181.7 93.5,181.1 Q92.1,182.2 92.1,184.7" stroke="#d8e8cc" stroke-width="1.2" fill="none" stroke-linecap="round"/>
<path d="M122.4,196.7 Q119.5,196.2 120.6,193.9" stroke="#d2c4e4" stroke-width="0.9" fill="none" stroke-linecap="round"/>
<path d="M85.5,210.9 Q87.0,209.6 86.0,208.7 Q88.1,210.2 88.3,208.9" stroke="#bcd4a8" stroke-width="1.2" fill="none" stroke-linecap="round"/>
<path d="M86.3,210.5 l1.4,-2.6" stroke="#fff" stroke-opacity="0.7" stroke-width="0.8" fill="none"/>
<path d="M126.8,203.0 Q126.2,204.1 127.4,206.0" stroke="#d0c8e8" stroke-width="1.2" fill="none" stroke-linecap="round"/>
<path d="M93.9,206.1 Q92.2,206.3 90.5,206.1 Q91.1,203.8 89.6,202.8" stroke="#bcd4a8" stroke-width="0.7" fill="none" stroke-linecap="round"/>
<path d="M124.1,185.9 Q122.5,184.9 123.7,182.2 Q121.1,180.6 121.9,179.0" stroke="#ecc4b8" stroke-width="1.0" fill="none" stroke-linecap="round"/>
<path d="M125.8,187.1 l-1.3,0.8" stroke="#fff" stroke-opacity="0.7" stroke-width="0.8" fill="none"/>
<path d="M97.6,177.6 Q97.2,179.3 97.6,180.8 Q96.7,181.0 98.9,183.8 Q99.6,185.4 98.8,187.0" stroke="#c4dcb0" stroke-width="0.8" fill="none" stroke-linecap="round"/>
<path d="M104.1,172.4 Q104.9,169.5 103.4,168.9 Q101.9,168.8 100.1,167.9" stroke="#bcd4a8" stroke-width="0.8" fill="none" stroke-linecap="round"/>
<path d="M119.5,218.3 Q120.9,218.6 121.3,216.2 Q120.6,216.7 123.1,218.3 Q125.9,218.6 125.7,217.5" stroke="#c8c4e4" stroke-width="0.9" fill="none" stroke-linecap="round"/>
<path d="M143.7,171.9 Q143.9,173.2 146.9,172.5 Q148.2,174.3 148.9,175.0 Q150.2,176.4 152.0,175.6" stroke="#e0c4d8" stroke-width="1.1" fill="none" stroke-linecap="round"/>
<path d="M112.7,205.0 Q112.0,205.5 109.6,202.8 Q108.6,204.6 107.2,205.9 Q106.6,204.0 104.0,203.6" stroke="#c8c4e4" stroke-width="0.7" fill="none" stroke-linecap="round"/>
<path d="M144.9,174.6 Q145.6,171.9 146.9,172.0" stroke="#f4b888" stroke-width="1.2" fill="none" stroke-linecap="round"/>
<path d="M126.0,167.8 Q123.1,167.9 123.1,170.4 Q119.3,172.2 119.3,170.5 Q117.3,170.2 118.7,166.7" stroke="#f8d0a8" stroke-width="0.8" fill="none" stroke-linecap="round"/>
<path d="M126.2,169.3 l-0.3,1.8" stroke="#fff" stroke-opacity="0.7" stroke-width="0.8" fill="none"/>
<path d="M90.9,189.0 Q92.4,186.4 90.7,186.8 Q89.1,188.1 89.1,185.4 Q86.7,183.6 87.2,184.4" stroke="#d8e8cc" stroke-width="1.0" fill="none" stroke-linecap="round"/>
<path d="M131.9,204.1 Q133.0,204.8 131.6,206.2" stroke="#d2c4e4" stroke-width="0.9" fill="none" stroke-linecap="round"/>
<path d="M130.9,204.4 l3.0,0.3" stroke="#fff" stroke-opacity="0.7" stroke-width="0.8" fill="none"/>
<path d="M96.2,217.2 Q96.8,218.8 95.9,219.6 Q95.6,221.0 94.8,221.8" stroke="#d8e8cc" stroke-width="0.7" fill="none" stroke-linecap="round"/>
<path d="M97.2,216.0 l2.3,1.0" stroke="#fff" stroke-opacity="0.7" stroke-width="0.8" fill="none"/>
<path d="M86.7,205.0 Q86.0,203.3 86.3,202.9 Q89.3,202.2 88.4,202.3 Q89.5,202.4 88.3,200.3" stroke="#c4dcb0" stroke-width="0.9" fill="none" stroke-linecap="round"/>
<path d="M120.3,208.5 Q119.9,206.8 122.3,208.6" stroke="#d0c8e8" stroke-width="0.8" fill="none" stroke-linecap="round"/>
<path d="M95.6,182.2 Q94.4,180.2 96.7,180.2 Q96.7,181.2 98.9,179.4 Q100.1,179.9 100.0,181.4" stroke="#c4dcb0" stroke-width="1.1" fill="none" stroke-linecap="round"/>
<path d="M90.3,216.5 Q91.5,215.9 92.5,215.0 Q94.8,214.7 95.0,214.1 Q93.7,214.3 95.8,216.7" stroke="#cfe3bf" stroke-width="0.7" fill="none" stroke-linecap="round"/>
<path d="M90.3,215.1 l0.2,-3.3" stroke="#fff" stroke-opacity="0.7" stroke-width="0.8" fill="none"/>
<path d="M102.6,197.7 Q101.2,199.6 99.0,198.7 Q96.0,201.1 95.4,200.1 Q93.1,199.3 94.6,196.4" stroke="#d8e8cc" stroke-width="0.9" fill="none" stroke-linecap="round"/>
<path d="M103.6,196.6 l1.0,1.6" stroke="#fff" stroke-opacity="0.7" stroke-width="0.8" fill="none"/>
<path d="M98.0,200.9 Q97.9,202.1 98.5,203.1 Q98.2,205.8 99.3,205.2 Q102.2,206.9 101.6,205.7" stroke="#d8e8cc" stroke-width="1.2" fill="none" stroke-linecap="round"/>
<path d="M97.1,199.5 l-3.5,-0.2" stroke="#fff" stroke-opacity="0.7" stroke-width="0.8" fill="none"/>
<path d="M129.0,177.1 Q127.0,179.5 128.3,180.4 Q129.2,182.0 129.5,183.6" stroke="#e0c4d8" stroke-width="1.2" fill="none" stroke-linecap="round"/>
<path d="M119.0,201.7 Q119.0,200.9 120.8,200.5" stroke="#c8c0e4" stroke-width="0.7" fill="none" stroke-linecap="round"/>
<path d="M96.2,213.9 Q97.5,212.5 100.0,214.5 Q101.8,211.3 100.7,210.8 Q100.5,209.1 99.0,207.4" stroke="#cfe3bf" stroke-width="1.2" fill="none" stroke-linecap="round"/>
<path d="M100.5,203.9 Q98.9,203.8 97.5,202.0" stroke="#d8e8cc" stroke-width="0.7" fill="none" stroke-linecap="round"/>
<path d="M112.1,202.4 Q115.4,202.4 114.9,205.1 Q115.9,204.4 118.7,204.7 Q120.2,204.2 120.8,201.4" stroke="#dad6f0" stroke-width="0.8" fill="none" stroke-linecap="round"/>
<path d="M124.0,208.9 Q126.4,207.8 125.3,205.6" stroke="#c8c0e4" stroke-width="1.0" fill="none" stroke-linecap="round"/>
<path d="M122.6,210.1 l-0.9,1.2" stroke="#fff" stroke-opacity="0.7" stroke-width="0.8" fill="none"/>
<path d="M95.8,203.0 Q95.9,199.8 94.5,200.3 Q94.1,198.3 91.5,199.5" stroke="#cfe3bf" stroke-width="0.9" fill="none" stroke-linecap="round"/>
<path d="M96.1,202.2 l2.5,0.4" stroke="#fff" stroke-opacity="0.7" stroke-width="0.8" fill="none"/>
<path d="M111.6,166.0 Q112.4,167.6 113.5,167.1 Q113.3,167.1 115.5,166.4 Q115.1,163.6 116.1,164.3" stroke="#f8d4a8" stroke-width="0.7" fill="none" stroke-linecap="round"/>
<path d="M112.2,165.7 l-3.4,-0.6" stroke="#fff" stroke-opacity="0.7" stroke-width="0.8" fill="none"/>
<path d="M107.8,177.1 Q109.3,177.4 109.3,175.6 Q110.8,176.8 111.1,174.4" stroke="#f8d4a8" stroke-width="1.2" fill="none" stroke-linecap="round"/>
<path d="M107.9,175.9 l-3.4,-0.9" stroke="#fff" stroke-opacity="0.7" stroke-width="0.8" fill="none"/>
<path d="M90.6,196.7 Q89.0,197.6 87.9,199.0" stroke="#d8e8cc" stroke-width="0.8" fill="none" stroke-linecap="round"/>
<path d="M98.6,205.6 Q101.2,204.1 101.9,203.4 Q104.6,203.8 105.9,203.3" stroke="#bcd4a8" stroke-width="0.7" fill="none" stroke-linecap="round"/>
<path d="M112.2,163.5 Q112.7,162.8 113.3,161.4" stroke="#f8d4a8" stroke-width="0.9" fill="none" stroke-linecap="round"/>
<path d="M88.5,181.4 Q88.5,181.2 89.3,178.0 Q89.4,177.5 87.2,175.3 Q85.3,173.9 84.6,173.0" stroke="#c4dcb0" stroke-width="0.9" fill="none" stroke-linecap="round"/>
<path d="M87.7,182.4 l-1.7,-1.6" stroke="#fff" stroke-opacity="0.7" stroke-width="0.8" fill="none"/>
<path d="M139.4,190.7 Q140.5,191.4 139.7,188.6" stroke="#ecc4b8" stroke-width="1.1" fill="none" stroke-linecap="round"/>
<path d="M109.7,203.0 Q109.8,203.1 111.2,201.5 Q110.0,201.9 109.4,200.2 Q108.8,199.4 107.3,200.7" stroke="#d0cce8" stroke-width="0.9" fill="none" stroke-linecap="round"/>
<path d="M84.5,198.6 Q85.9,200.9 85.3,202.5 Q87.9,203.6 88.9,204.3 Q92.4,204.0 92.1,206.6" stroke="#bcd4a8" stroke-width="1.1" fill="none" stroke-linecap="round"/>
<path d="M83.6,198.9 l-0.5,-3.4" stroke="#fff" stroke-opacity="0.7" stroke-width="0.8" fill="none"/>
<path d="M91.7,201.3 Q90.2,198.2 91.9,198.7 Q92.1,197.2 91.8,196.1" stroke="#bcd4a8" stroke-width="0.7" fill="none" stroke-linecap="round"/>
<path d="M89.7,201.5 l-1.5,0.7" stroke="#fff" stroke-opacity="0.7" stroke-width="0.8" fill="none"/>
<path d="M91.8,185.0 Q90.2,185.7 89.5,187.1" stroke="#c4dcb0" stroke-width="1.1" fill="none" stroke-linecap="round"/>
<path d="M136.4,200.4 Q134.5,200.3 136.3,202.6" stroke="#d2c4e4" stroke-width="0.7" fill="none" stroke-linecap="round"/>
<path d="M135.6,199.7 l-2.5,-1.4" stroke="#fff" stroke-opacity="0.7" stroke-width="0.8" fill="none"/>
<path d="M122.4,185.0 Q124.3,183.7 123.7,181.8" stroke="#f4b888" stroke-width="1.0" fill="none" stroke-linecap="round"/>
<path d="M95.5,176.3 Q96.2,176.8 93.9,179.9 Q95.6,182.4 96.5,182.8" stroke="#d8e8cc" stroke-width="1.0" fill="none" stroke-linecap="round"/>
<path d="M101.8,215.5 Q103.6,215.4 103.2,213.8 Q102.1,213.8 104.8,215.2 Q106.3,216.1 105.8,217.0" stroke="#c8c4e4" stroke-width="1.0" fill="none" stroke-linecap="round"/>
<path d="M103.5,215.9 l0.6,-2.3" stroke="#fff" stroke-opacity="0.7" stroke-width="0.8" fill="none"/>
<path d="M117.6,165.2 Q117.3,162.3 119.2,163.1 Q116.9,163.5 118.6,160.6" stroke="#f6e0b4" stroke-width="0.9" fill="none" stroke-linecap="round"/>
<path d="M116.3,163.9 l-1.5,1.8" stroke="#fff" stroke-opacity="0.7" stroke-width="0.8" fill="none"/>
<path d="M125.9,174.3 Q126.0,172.5 126.8,171.5 Q127.1,170.3 127.7,168.8 Q129.5,169.1 129.0,166.2" stroke="#e0c4d8" stroke-width="0.8" fill="none" stroke-linecap="round"/>
<path d="M127.1,174.8 l-0.5,1.5" stroke="#fff" stroke-opacity="0.7" stroke-width="0.8" fill="none"/>
<path d="M99.6,174.4 Q98.0,173.7 96.3,175.3 Q95.1,176.7 92.8,175.2" stroke="#bcd4a8" stroke-width="0.8" fill="none" stroke-linecap="round"/>
<path d="M99.3,174.6 l-2.1,-0.5" stroke="#fff" stroke-opacity="0.7" stroke-width="0.8" fill="none"/>
<path d="M83.1,180.4 Q84.9,181.1 84.6,182.2 Q85.2,183.1 82.6,183.3" stroke="#cfe3bf" stroke-width="1.0" fill="none" stroke-linecap="round"/>
<path d="M84.1,179.4 l-0.4,-1.6" stroke="#fff" stroke-opacity="0.7" stroke-width="0.8" fill="none"/>
<path d="M114.0,220.5 Q114.7,217.3 114.5,217.9 Q117.4,217.6 116.8,216.5 Q116.2,213.9 117.1,213.8" stroke="#dad6f0" stroke-width="1.2" fill="none" stroke-linecap="round"/>
<path d="M145.9,173.9 Q147.6,174.4 147.5,172.5" stroke="#f4b888" stroke-width="1.0" fill="none" stroke-linecap="round"/>
<path d="M139.9,202.5 Q139.1,201.6 137.2,199.8 Q136.7,198.7 139.9,197.1 Q141.8,194.3 141.2,193.5" stroke="#cbbde0" stroke-width="1.1" fill="none" stroke-linecap="round"/>
<path d="M138.9,201.6 l-3.4,0.1" stroke="#fff" stroke-opacity="0.7" stroke-width="0.8" fill="none"/>
<path d="M142.0,204.3 Q142.0,205.0 138.1,204.4 Q135.9,204.5 134.6,202.8 Q131.1,202.0 131.0,201.2" stroke="#d2c4e4" stroke-width="0.9" fill="none" stroke-linecap="round"/>
<path d="M146.4,185.5 Q143.7,184.1 143.6,182.7 Q143.3,181.6 140.9,180.0 Q137.8,181.1 137.1,180.5" stroke="#f8d0a8" stroke-width="0.7" fill="none" stroke-linecap="round"/>
<path d="M111.8,214.8 Q109.4,212.8 109.8,214.6" stroke="#c8c4e4" stroke-width="0.7" fill="none" stroke-linecap="round"/>
<path d="M106.0,167.9 Q105.4,167.8 107.0,170.4" stroke="#f2e6bc" stroke-width="0.9" fill="none" stroke-linecap="round"/>
<path d="M104.3,169.2 l2.3,1.1" stroke="#fff" stroke-opacity="0.7" stroke-width="0.8" fill="none"/>
<path d="M133.5,187.9 Q130.9,187.9 132.1,185.3" stroke="#f6c498" stroke-width="1.2" fill="none" stroke-linecap="round"/>
<path d="M132.7,187.0 l0.8,-3.1" stroke="#fff" stroke-opacity="0.7" stroke-width="0.8" fill="none"/>
<path d="M125.0,172.4 Q123.6,170.7 123.9,170.6 Q125.4,170.3 124.6,168.5 Q124.4,168.4 126.7,169.1" stroke="#f8d0a8" stroke-width="1.2" fill="none" stroke-linecap="round"/>
<path d="M130.1,216.2 Q132.1,218.3 131.4,219.1 Q128.5,219.2 128.4,220.1" stroke="#d8d0ec" stroke-width="1.0" fill="none" stroke-linecap="round"/>
<path d="M130.6,215.3 l0.3,-1.6" stroke="#fff" stroke-opacity="0.7" stroke-width="0.8" fill="none"/>
<path d="M102.1,200.1 Q102.7,202.1 104.4,202.6" stroke="#c4dcb0" stroke-width="0.8" fill="none" stroke-linecap="round"/>
<path d="M93.8,197.0 Q94.3,197.0 90.8,195.8 Q91.0,196.3 89.6,198.9 Q90.0,201.8 88.6,202.0" stroke="#cfe3bf" stroke-width="1.2" fill="none" stroke-linecap="round"/>
<path d="M93.1,198.0 l-0.9,2.1" stroke="#fff" stroke-opacity="0.7" stroke-width="0.8" fill="none"/>
<path d="M111.5,205.0 Q111.4,204.2 110.5,201.9" stroke="#d0cce8" stroke-width="0.9" fill="none" stroke-linecap="round"/>
<path d="M117.0,174.6 Q117.2,176.9 114.9,177.8" stroke="#f2e6bc" stroke-width="1.0" fill="none" stroke-linecap="round"/>
<path d="M105.4,169.5 Q103.5,170.7 105.0,171.7 Q106.4,173.4 107.0,172.6 Q106.6,173.1 109.2,172.3" stroke="#f2e6bc" stroke-width="1.1" fill="none" stroke-linecap="round"/>
<path d="M117.6,198.6 Q116.5,200.1 117.8,202.1 Q116.0,204.4 114.4,203.3 Q113.5,205.3 114.5,206.9" stroke="#c8c0e4" stroke-width="0.9" fill="none" stroke-linecap="round"/>
<path d="M118.5,196.9 l2.8,2.0" stroke="#fff" stroke-opacity="0.7" stroke-width="0.8" fill="none"/>
<path d="M126.4,220.1 Q126.3,219.8 126.9,222.8" stroke="#d8d0ec" stroke-width="1.1" fill="none" stroke-linecap="round"/>
<path d="M126.8,221.2 l1.4,1.9" stroke="#fff" stroke-opacity="0.7" stroke-width="0.8" fill="none"/>
<path d="M105.1,217.6 Q106.6,219.6 105.0,219.8" stroke="#d0cce8" stroke-width="1.0" fill="none" stroke-linecap="round"/>
<path d="M107.1,216.7 l-0.9,1.6" stroke="#fff" stroke-opacity="0.7" stroke-width="0.8" fill="none"/>
<path d="M83.8,206.2 Q84.1,206.2 85.9,206.9" stroke="#bcd4a8" stroke-width="1.2" fill="none" stroke-linecap="round"/>
<path d="M92.5,193.2 Q90.6,194.2 90.2,193.4 Q91.1,190.4 89.7,191.1" stroke="#cfe3bf" stroke-width="1.0" fill="none" stroke-linecap="round"/>
<path d="M93.9,192.2 l-3.3,-1.0" stroke="#fff" stroke-opacity="0.7" stroke-width="0.8" fill="none"/>
<path d="M91.8,208.6 Q89.5,206.1 89.4,207.1 Q87.1,205.3 87.0,205.6 Q87.0,205.1 84.3,204.7" stroke="#c4dcb0" stroke-width="0.8" fill="none" stroke-linecap="round"/>
<path d="M90.8,207.0 l0.4,2.7" stroke="#fff" stroke-opacity="0.7" stroke-width="0.8" fill="none"/>
<path d="M133.6,211.0 Q134.8,210.4 137.2,210.9" stroke="#cbbde0" stroke-width="1.2" fill="none" stroke-linecap="round"/>
<path d="M125.8,214.8 Q123.3,215.5 124.0,213.8 Q123.6,212.4 124.8,211.9" stroke="#c8c0e4" stroke-width="0.8" fill="none" stroke-linecap="round"/>
<path d="M124.1,213.8 l-2.1,-2.5" stroke="#fff" stroke-opacity="0.7" stroke-width="0.8" fill="none"/>
<path d="M131.4,176.5 Q131.9,177.6 134.0,178.9 Q136.0,179.5 137.5,177.8" stroke="#ecc4b8" stroke-width="1.0" fill="none" stroke-linecap="round"/>
<path d="M132.4,176.7 l-1.5,0.8" stroke="#fff" stroke-opacity="0.7" stroke-width="0.8" fill="none"/>
<path d="M96.7,191.5 Q95.5,191.0 96.3,193.5 Q96.7,195.1 95.0,195.1" stroke="#bcd4a8" stroke-width="0.8" fill="none" stroke-linecap="round"/>
<path d="M97.4,191.5 l-1.3,-1.3" stroke="#fff" stroke-opacity="0.7" stroke-width="0.8" fill="none"/>
<path d="M92.5,200.7 Q94.3,201.6 96.4,200.3 Q96.7,201.3 99.8,202.1" stroke="#d8e8cc" stroke-width="0.9" fill="none" stroke-linecap="round"/>
<path d="M128.3,205.2 Q125.4,202.5 125.3,203.4 Q125.7,203.7 122.5,205.6" stroke="#d8d0ec" stroke-width="0.9" fill="none" stroke-linecap="round"/>
<path d="M118.3,179.8 Q119.8,177.7 118.1,177.8 Q118.1,177.7 116.9,176.2 Q115.9,174.6 117.5,174.3" stroke="#f8d0a8" stroke-width="1.1" fill="none" stroke-linecap="round"/>
<path d="M118.2,180.0 l1.6,0.4" stroke="#fff" stroke-opacity="0.7" stroke-width="0.8" fill="none"/>
<path d="M120.5,197.7 Q120.1,195.3 120.8,195.7" stroke="#d8cce8" stroke-width="1.2" fill="none" stroke-linecap="round"/>
<path d="M92.4,209.4 Q92.7,211.1 89.7,209.5 Q86.9,209.1 87.0,209.9" stroke="#c4dcb0" stroke-width="0.8" fill="none" stroke-linecap="round"/>
<path d="M128.7,210.6 Q129.5,213.2 130.2,212.1 Q131.5,213.7 129.0,213.8" stroke="#cbbde0" stroke-width="0.8" fill="none" stroke-linecap="round"/>
<path d="M118.2,220.1 Q116.6,216.8 117.1,216.6" stroke="#d8d0ec" stroke-width="1.1" fill="none" stroke-linecap="round"/>
<path d="M117.5,218.8 l-1.1,-2.5" stroke="#fff" stroke-opacity="0.7" stroke-width="0.8" fill="none"/>
<path d="M131.8,174.1 Q131.9,174.4 130.1,176.2 Q128.9,177.4 128.9,178.7" stroke="#f6c498" stroke-width="1.1" fill="none" stroke-linecap="round"/>
<path d="M132.2,175.9 l1.2,-3.1" stroke="#fff" stroke-opacity="0.7" stroke-width="0.8" fill="none"/>
<path d="M143.3,173.1 Q144.6,171.5 145.2,171.3 Q144.1,171.5 143.6,169.3" stroke="#f4b888" stroke-width="0.7" fill="none" stroke-linecap="round"/>
<path d="M142.9,171.4 l2.7,-1.6" stroke="#fff" stroke-opacity="0.7" stroke-width="0.8" fill="none"/>
<path d="M137.9,188.3 Q138.3,191.0 138.7,191.6 Q139.2,191.8 141.5,193.6" stroke="#ecc4b8" stroke-width="1.2" fill="none" stroke-linecap="round"/>
<path d="M131.3,172.2 Q131.3,169.0 131.0,168.5 Q129.9,168.1 129.7,165.0" stroke="#e0c4d8" stroke-width="1.1" fill="none" stroke-linecap="round"/>
<path d="M130.9,174.1 l-1.5,1.3" stroke="#fff" stroke-opacity="0.7" stroke-width="0.8" fill="none"/>
<path d="M127.2,211.3 Q129.8,210.6 129.6,209.6 Q131.9,212.3 130.8,212.3 Q130.0,213.6 128.9,214.4" stroke="#d0c8e8" stroke-width="1.2" fill="none" stroke-linecap="round"/>
<path d="M119.4,218.1 Q119.1,217.6 121.0,215.3 Q123.7,214.9 124.1,216.2" stroke="#c8c4e4" stroke-width="0.7" fill="none" stroke-linecap="round"/>
<path d="M143.1,195.2 Q144.9,198.2 143.7,197.7" stroke="#d2c4e4" stroke-width="0.8" fill="none" stroke-linecap="round"/>
<path d="M141.6,194.6 l-0.4,2.8" stroke="#fff" stroke-opacity="0.7" stroke-width="0.8" fill="none"/>
<path d="M95.8,177.7 Q93.2,177.4 93.9,179.4 Q94.0,177.5 91.3,179.2 Q89.4,181.3 89.6,181.2" stroke="#d8e8cc" stroke-width="1.2" fill="none" stroke-linecap="round"/>
<path d="M97.7,178.5 l2.7,2.1" stroke="#fff" stroke-opacity="0.7" stroke-width="0.8" fill="none"/>
<path d="M112.2,208.8 Q112.7,207.8 114.6,205.7 Q115.4,203.0 112.4,202.5 Q112.2,204.3 108.5,202.6" stroke="#dad6f0" stroke-width="1.2" fill="none" stroke-linecap="round"/>
<path d="M118.5,167.1 Q117.1,168.4 119.3,169.1 Q120.4,168.9 118.7,171.1 Q118.8,170.3 119.5,173.1" stroke="#f2e6bc" stroke-width="1.2" fill="none" stroke-linecap="round"/>
<path d="M107.6,221.0 Q104.8,222.2 104.6,219.5 Q106.7,216.5 106.0,216.4 Q108.7,217.6 108.9,218.1" stroke="#d0cce8" stroke-width="0.8" fill="none" stroke-linecap="round"/>
<path d="M125.4,206.3 Q127.2,209.0 125.1,208.9" stroke="#d0c8e8" stroke-width="1.0" fill="none" stroke-linecap="round"/>
<path d="M123.7,208.0 l-2.4,0.5" stroke="#fff" stroke-opacity="0.7" stroke-width="0.8" fill="none"/>
<path d="M135.6,191.1 Q136.7,189.1 136.8,188.1" stroke="#d0cce8" stroke-width="0.7" fill="none" stroke-linecap="round"/>
<path d="M122.4,223.6 Q121.7,222.3 125.0,222.4 Q127.8,220.8 126.7,220.0 Q127.1,216.9 126.1,217.1" stroke="#d8d0ec" stroke-width="0.9" fill="none" stroke-linecap="round"/>
<path d="M122.0,224.8 l1.9,1.9" stroke="#fff" stroke-opacity="0.7" stroke-width="0.8" fill="none"/>
<path d="M103.2,223.1 Q102.1,225.9 102.5,225.6 Q103.0,226.8 103.6,227.9" stroke="#d0cce8" stroke-width="0.8" fill="none" stroke-linecap="round"/>
<path d="M84.9,184.2 Q84.2,180.8 85.5,180.7" stroke="#c4dcb0" stroke-width="1.2" fill="none" stroke-linecap="round"/>
<path d="M121.8,213.7 Q119.6,215.0 118.8,212.6" stroke="#d0cce8" stroke-width="0.7" fill="none" stroke-linecap="round"/>
<path d="M119.9,212.1 l1.3,-2.7" stroke="#fff" stroke-opacity="0.7" stroke-width="0.8" fill="none"/>
<path d="M91.9,190.6 Q92.8,192.4 94.7,193.3 Q94.1,195.2 93.6,196.9" stroke="#c4dcb0" stroke-width="1.1" fill="none" stroke-linecap="round"/>
<path d="M93.2,189.2 l-0.5,-2.6" stroke="#fff" stroke-opacity="0.7" stroke-width="0.8" fill="none"/>
<path d="M137.1,210.2 Q134.8,211.1 134.3,210.8" stroke="#d8cce8" stroke-width="0.7" fill="none" stroke-linecap="round"/>
<path d="M147.5,182.8 Q147.4,183.3 145.9,185.5 Q146.8,185.1 148.4,187.2" stroke="#e0c4d8" stroke-width="1.2" fill="none" stroke-linecap="round"/>
<path d="M148.6,182.8 l2.9,1.9" stroke="#fff" stroke-opacity="0.7" stroke-width="0.8" fill="none"/>
<path d="M112.2,218.7 Q108.9,217.0 108.9,219.1 Q106.9,217.9 107.6,216.1" stroke="#dad6f0" stroke-width="0.9" fill="none" stroke-linecap="round"/>
<path d="M139.5,181.5 Q140.5,178.8 140.0,178.3 Q142.5,178.1 142.3,176.1 Q140.7,176.4 141.9,172.9" stroke="#ecc4b8" stroke-width="1.2" fill="none" stroke-linecap="round"/>
<path d="M116.8,165.7 Q114.8,166.0 116.5,163.3" stroke="#ece4c8" stroke-width="0.9" fill="none" stroke-linecap="round"/>
<path d="M116.5,166.1 l-1.2,1.5" stroke="#fff" stroke-opacity="0.7" stroke-width="0.8" fill="none"/>
<path d="M124.6,168.5 Q123.2,169.8 123.8,171.9 Q120.2,172.6 120.5,172.9" stroke="#ecc4b8" stroke-width="1.0" fill="none" stroke-linecap="round"/>
<path d="M95.5,174.8 Q95.6,175.3 97.0,172.9" stroke="#bcd4a8" stroke-width="1.0" fill="none" stroke-linecap="round"/>
<path d="M96.4,176.8 l-1.7,-1.8" stroke="#fff" stroke-opacity="0.7" stroke-width="0.8" fill="none"/>
<path d="M147.2,177.5 Q145.0,175.1 144.5,176.6 Q144.9,179.3 142.1,178.0 Q141.1,178.1 139.3,178.6" stroke="#e0c4d8" stroke-width="0.9" fill="none" stroke-linecap="round"/>
<path d="M122.9,172.4 Q125.2,171.8 125.0,173.5 Q124.4,174.4 127.4,173.3" stroke="#ecc4b8" stroke-width="1.0" fill="none" stroke-linecap="round"/>
<path d="M99.9,189.2 Q100.3,189.3 100.4,185.4 Q102.6,185.8 104.2,185.2" stroke="#c4dcb0" stroke-width="1.0" fill="none" stroke-linecap="round"/>
<path d="M105.0,224.0 Q104.4,222.7 104.1,221.8" stroke="#c8c4e4" stroke-width="0.7" fill="none" stroke-linecap="round"/>
<path d="M90.2,190.9 Q91.3,191.5 91.4,189.1" stroke="#cfe3bf" stroke-width="1.0" fill="none" stroke-linecap="round"/>
<path d="M90.6,191.5 l-0.5,3.1" stroke="#fff" stroke-opacity="0.7" stroke-width="0.8" fill="none"/>
<path d="M93.9,189.3 Q92.1,191.2 91.6,190.3" stroke="#c4dcb0" stroke-width="1.0" fill="none" stroke-linecap="round"/>
<path d="M94.7,188.0 Q94.4,187.2 96.6,188.8 Q96.2,190.6 95.5,190.6 Q93.8,190.1 94.1,192.0" stroke="#bcd4a8" stroke-width="1.1" fill="none" stroke-linecap="round"/>
<path d="M94.7,196.6 Q93.9,198.7 96.9,198.8 Q97.0,199.4 96.3,201.9" stroke="#c4dcb0" stroke-width="0.7" fill="none" stroke-linecap="round"/>
<path d="M94.5,195.4 l-1.6,-2.9" stroke="#fff" stroke-opacity="0.7" stroke-width="0.8" fill="none"/>
<path d="M122.6,207.5 Q121.8,207.6 120.1,209.5 Q118.9,206.7 118.6,206.6" stroke="#d0c8e8" stroke-width="1.2" fill="none" stroke-linecap="round"/>
<path d="M96.8,169.8 Q99.4,168.6 99.6,171.1 Q101.9,170.4 101.9,169.0 Q102.3,166.7 102.1,165.9" stroke="#c4dcb0" stroke-width="0.8" fill="none" stroke-linecap="round"/>
<path d="M81.9,187.1 Q81.1,186.7 79.1,188.9" stroke="#cfe3bf" stroke-width="1.1" fill="none" stroke-linecap="round"/>
<path d="M126.4,211.8 Q126.0,211.0 124.2,212.5 Q123.5,213.8 122.2,211.4 Q121.7,211.5 120.9,209.5" stroke="#c8c0e4" stroke-width="0.9" fill="none" stroke-linecap="round"/>
<path d="M127.2,210.6 l-2.7,1.2" stroke="#fff" stroke-opacity="0.7" stroke-width="0.8" fill="none"/>
<path d="M113.7,224.2 Q112.0,226.5 112.6,226.6 Q111.5,227.1 110.5,225.0 Q109.5,225.1 109.7,222.5" stroke="#d0cce8" stroke-width="0.8" fill="none" stroke-linecap="round"/>
<path d="M117.2,165.6 Q119.0,164.0 119.7,164.0" stroke="#f8d4a8" stroke-width="0.7" fill="none" stroke-linecap="round"/>
<path d="M117.5,164.5 l0.7,-1.7" stroke="#fff" stroke-opacity="0.7" stroke-width="0.8" fill="none"/>
<path d="M100.1,202.9 Q103.3,204.9 102.7,204.1 Q103.3,205.3 105.6,204.1 Q108.8,205.9 108.3,205.2" stroke="#c4dcb0" stroke-width="0.7" fill="none" stroke-linecap="round"/>
<path d="M109.0,174.2 Q110.9,174.9 111.6,175.7 Q111.7,174.2 114.5,174.9 Q115.6,174.6 117.2,173.5" stroke="#ece4c8" stroke-width="0.8" fill="none" stroke-linecap="round"/>
<path d="M112.2,211.8 Q112.8,211.7 109.6,211.7 Q110.3,210.9 110.2,209.1" stroke="#dad6f0" stroke-width="0.9" fill="none" stroke-linecap="round"/>
<path d="M109.6,177.0 Q106.8,178.5 107.5,177.5" stroke="#f6e0b4" stroke-width="0.9" fill="none" stroke-linecap="round"/>
<path d="M111.0,175.1 l1.1,2.2" stroke="#fff" stroke-opacity="0.7" stroke-width="0.8" fill="none"/>
<path d="M84.1,182.0 Q82.8,180.0 81.8,179.0 Q81.7,176.8 82.4,175.2 Q79.6,174.9 79.5,172.7" stroke="#c4dcb0" stroke-width="1.0" fill="none" stroke-linecap="round"/>
<path d="M82.3,181.4 l2.5,1.0" stroke="#fff" stroke-opacity="0.7" stroke-width="0.8" fill="none"/>
<path d="M107.1,168.8 Q107.8,167.8 104.5,167.1" stroke="#f2e6bc" stroke-width="1.0" fill="none" stroke-linecap="round"/>
<path d="M105.6,166.9 l2.4,1.4" stroke="#fff" stroke-opacity="0.7" stroke-width="0.8" fill="none"/>
<path d="M86.1,196.1 Q84.7,197.2 83.8,197.9 Q83.7,198.9 80.9,197.6 Q81.0,197.1 78.9,199.8" stroke="#bcd4a8" stroke-width="0.8" fill="none" stroke-linecap="round"/>
<path d="M92.9,197.3 Q92.6,199.7 92.7,200.0 Q92.2,199.9 92.5,202.8 Q93.4,204.6 90.9,205.0" stroke="#d8e8cc" stroke-width="0.9" fill="none" stroke-linecap="round"/>
<path d="M90.4,207.9 Q88.7,209.7 87.6,209.3 Q84.6,209.7 84.7,210.1 Q83.3,213.3 83.6,213.0" stroke="#c4dcb0" stroke-width="1.0" fill="none" stroke-linecap="round"/>
<path d="M91.0,201.5 Q93.9,204.7 93.6,204.1 Q93.4,205.6 97.1,205.2 Q96.5,207.7 99.5,208.1" stroke="#cfe3bf" stroke-width="0.7" fill="none" stroke-linecap="round"/>
<path d="M89.9,201.6 l0.5,-3.0" stroke="#fff" stroke-opacity="0.7" stroke-width="0.8" fill="none"/>
<path d="M134.1,199.9 Q133.9,199.2 134.4,197.4 Q134.8,196.0 135.4,195.0 Q136.1,193.8 137.9,195.0" stroke="#d2c4e4" stroke-width="0.7" fill="none" stroke-linecap="round"/>
<path d="M115.9,198.8 Q114.4,198.5 113.4,199.4 Q111.7,199.9 112.5,197.1 Q110.0,197.6 110.4,198.5" stroke="#d0c8e8" stroke-width="1.0" fill="none" stroke-linecap="round"/>
<path d="M113.9,199.0 l-2.9,-1.5" stroke="#fff" stroke-opacity="0.7" stroke-width="0.8" fill="none"/>
<path d="M140.2,198.7 Q139.3,198.0 138.1,197.1 Q134.8,196.0 135.5,196.7" stroke="#dad6f0" stroke-width="1.0" fill="none" stroke-linecap="round"/>
<path d="M100.5,220.7 Q99.7,219.8 100.3,216.9 Q103.1,215.1 102.3,213.7" stroke="#c4dcb0" stroke-width="1.1" fill="none" stroke-linecap="round"/>
<path d="M120.8,203.2 Q121.7,199.9 120.5,200.1" stroke="#c8c0e4" stroke-width="1.2" fill="none" stroke-linecap="round"/>
<path d="M120.2,202.2 l-3.5,0.1" stroke="#fff" stroke-opacity="0.7" stroke-width="0.8" fill="none"/>
<path d="M138.7,194.6 Q139.0,191.9 141.2,192.8 Q142.3,193.1 144.1,191.5" stroke="#d0cce8" stroke-width="0.8" fill="none" stroke-linecap="round"/>
<path d="M139.5,195.9 l-1.5,-1.9" stroke="#fff" stroke-opacity="0.7" stroke-width="0.8" fill="none"/>
<path d="M89.9,185.7 Q92.3,184.5 93.3,185.8" stroke="#d8e8cc" stroke-width="1.1" fill="none" stroke-linecap="round"/>
<path d="M89.2,185.2 l-1.7,1.5" stroke="#fff" stroke-opacity="0.7" stroke-width="0.8" fill="none"/>
<path d="M91.3,187.3 Q89.5,190.1 88.2,189.2 Q87.8,189.3 85.8,186.6" stroke="#cfe3bf" stroke-width="1.2" fill="none" stroke-linecap="round"/>
<path d="M85.1,185.1 Q85.5,181.9 84.0,182.3 Q84.3,182.1 81.2,183.3" stroke="#cfe3bf" stroke-width="1.1" fill="none" stroke-linecap="round"/>
<path d="M84.1,185.2 l-2.7,-1.4" stroke="#fff" stroke-opacity="0.7" stroke-width="0.8" fill="none"/>
<path d="M137.6,183.1 Q138.5,185.7 136.1,185.8 Q135.9,187.9 133.5,187.4 Q133.4,187.6 130.5,186.8" stroke="#f8d0a8" stroke-width="1.0" fill="none" stroke-linecap="round"/>
<path d="M138.4,182.6 l0.2,2.3" stroke="#fff" stroke-opacity="0.7" stroke-width="0.8" fill="none"/>
<path d="M125.9,209.3 Q123.6,210.6 122.9,209.7 Q121.5,209.4 119.8,210.0 Q121.5,211.1 120.6,213.0" stroke="#d8d0ec" stroke-width="1.2" fill="none" stroke-linecap="round"/>
<path d="M124.6,207.6 l-2.3,1.1" stroke="#fff" stroke-opacity="0.7" stroke-width="0.8" fill="none"/>
<path d="M129.6,199.8 Q132.1,198.8 133.1,201.5 Q133.4,202.0 136.8,200.4" stroke="#cbbde0" stroke-width="1.0" fill="none" stroke-linecap="round"/>
<path d="M128.8,199.4 l0.5,-2.5" stroke="#fff" stroke-opacity="0.7" stroke-width="0.8" fill="none"/>
<path d="M139.4,196.2 Q139.2,197.4 142.4,195.3 Q144.5,195.8 145.1,193.8 Q145.4,194.4 147.9,192.2" stroke="#d8cce8" stroke-width="1.1" fill="none" stroke-linecap="round"/>
<path d="M122.3,223.0 Q120.6,221.7 119.8,221.2 Q117.9,219.6 119.7,218.2 Q118.8,218.1 117.5,216.2" stroke="#d8d0ec" stroke-width="1.2" fill="none" stroke-linecap="round"/>
<path d="M124.7,220.1 Q127.2,218.9 127.4,217.5 Q126.4,217.6 124.5,215.0" stroke="#d8d0ec" stroke-width="1.1" fill="none" stroke-linecap="round"/>
<path d="M124.7,220.0 l1.8,-0.6" stroke="#fff" stroke-opacity="0.7" stroke-width="0.8" fill="none"/>
<path d="M91.6,179.0 Q89.5,179.1 89.7,177.3 Q91.1,174.5 89.1,174.7 Q88.0,176.6 86.5,174.7" stroke="#c4dcb0" stroke-width="1.1" fill="none" stroke-linecap="round"/>
<path d="M144.6,180.1 Q146.4,177.4 146.7,177.2" stroke="#f6c498" stroke-width="1.1" fill="none" stroke-linecap="round"/>
<path d="M129.3,197.5 Q129.3,196.8 131.5,199.4 Q132.4,201.5 130.5,202.0 Q132.4,201.1 132.3,204.2" stroke="#d8cce8" stroke-width="0.8" fill="none" stroke-linecap="round"/>
<path d="M128.0,198.5 l1.5,-0.4" stroke="#fff" stroke-opacity="0.7" stroke-width="0.8" fill="none"/>
<path d="M131.6,179.1 Q134.1,178.9 134.6,178.2" stroke="#f8d0a8" stroke-width="1.2" fill="none" stroke-linecap="round"/>
<path d="M131.2,177.8 l-1.5,0.3" stroke="#fff" stroke-opacity="0.7" stroke-width="0.8" fill="none"/>
<path d="M146.0,183.3 Q146.1,182.4 147.4,185.4 Q148.1,188.5 147.9,187.9" stroke="#ecc4b8" stroke-width="1.0" fill="none" stroke-linecap="round"/>
<path d="M131.4,172.9 Q129.5,172.8 130.9,169.0 Q133.5,170.5 134.8,168.4 Q136.4,167.1 135.3,164.5" stroke="#f4b888" stroke-width="1.2" fill="none" stroke-linecap="round"/>
<path d="M131.9,172.4 l-3.2,0.5" stroke="#fff" stroke-opacity="0.7" stroke-width="0.8" fill="none"/>
<path d="M109.7,175.8 Q107.6,175.4 107.7,177.8" stroke="#f2e6bc" stroke-width="1.0" fill="none" stroke-linecap="round"/>
<path d="M108.8,176.2 l-2.5,-1.5" stroke="#fff" stroke-opacity="0.7" stroke-width="0.8" fill="none"/>
<path d="M97.8,208.7 Q98.7,207.5 100.8,208.1 Q100.8,207.2 103.8,208.9" stroke="#bcd4a8" stroke-width="0.8" fill="none" stroke-linecap="round"/>
<path d="M106.4,219.6 Q105.2,220.1 104.9,221.9" stroke="#dad6f0" stroke-width="1.0" fill="none" stroke-linecap="round"/>
<path d="M105.3,221.0 l-0.9,2.5" stroke="#fff" stroke-opacity="0.7" stroke-width="0.8" fill="none"/>
<path d="M140.9,181.0 Q140.3,180.9 142.9,178.4 Q145.8,179.5 145.4,180.4 Q147.7,179.3 147.7,178.1" stroke="#f8d0a8" stroke-width="1.1" fill="none" stroke-linecap="round"/>
<path d="M118.4,173.1 Q118.9,171.6 115.7,173.7 Q113.1,171.2 113.6,171.9" stroke="#f4b888" stroke-width="1.2" fill="none" stroke-linecap="round"/>
<path d="M118.0,172.5 l-2.2,-1.5" stroke="#fff" stroke-opacity="0.7" stroke-width="0.8" fill="none"/>
<path d="M89.9,205.6 Q89.6,205.8 88.3,208.5" stroke="#cfe3bf" stroke-width="1.0" fill="none" stroke-linecap="round"/>
<path d="M88.5,205.7 l-1.6,-0.1" stroke="#fff" stroke-opacity="0.7" stroke-width="0.8" fill="none"/>
<path d="M116.5,175.7 Q117.1,172.9 116.8,172.9" stroke="#e0c4d8" stroke-width="0.9" fill="none" stroke-linecap="round"/>
<path d="M92.7,200.4 Q90.7,201.7 91.3,202.2" stroke="#d8e8cc" stroke-width="1.0" fill="none" stroke-linecap="round"/>
<path d="M94.6,201.6 l-0.9,2.8" stroke="#fff" stroke-opacity="0.7" stroke-width="0.8" fill="none"/>
<path d="M126.1,197.3 Q124.7,195.7 123.3,196.0" stroke="#d8cce8" stroke-width="0.9" fill="none" stroke-linecap="round"/>
<path d="M123.8,171.6 Q121.7,172.2 122.1,170.6 Q122.2,167.6 122.4,168.6" stroke="#e0c4d8" stroke-width="1.0" fill="none" stroke-linecap="round"/>
<path d="M122.6,173.6 l-0.3,-2.4" stroke="#fff" stroke-opacity="0.7" stroke-width="0.8" fill="none"/>
<path d="M111.0,219.2 Q110.9,219.9 108.5,218.2 Q106.3,216.1 105.8,217.8 Q105.6,215.8 103.1,217.6" stroke="#c8c4e4" stroke-width="1.0" fill="none" stroke-linecap="round"/>
<path d="M109.0,219.1 l-1.7,1.8" stroke="#fff" stroke-opacity="0.7" stroke-width="0.8" fill="none"/>
<path d="M142.5,190.8 Q143.5,191.1 145.5,191.4 Q145.5,191.9 148.2,190.0" stroke="#f4b888" stroke-width="1.0" fill="none" stroke-linecap="round"/>
<path d="M103.7,220.2 Q106.0,218.5 105.7,219.4 Q105.9,220.3 107.9,219.6 Q106.9,222.1 107.8,221.8" stroke="#bcd4a8" stroke-width="1.0" fill="none" stroke-linecap="round"/>
<path d="M83.0,185.9 Q85.7,187.2 85.2,185.1" stroke="#bcd4a8" stroke-width="0.8" fill="none" stroke-linecap="round"/>
<path d="M100.0,200.6 Q100.7,199.3 97.5,201.2" stroke="#bcd4a8" stroke-width="1.0" fill="none" stroke-linecap="round"/>
<path d="M99.3,168.8 Q99.5,167.4 97.2,169.1 Q98.0,168.6 95.1,169.3" stroke="#d8e8cc" stroke-width="1.0" fill="none" stroke-linecap="round"/>
<path d="M132.4,208.1 Q132.2,207.6 135.4,205.8 Q135.1,206.2 137.6,209.0 Q140.0,210.7 140.1,211.8" stroke="#cbbde0" stroke-width="1.1" fill="none" stroke-linecap="round"/>
<path d="M133.3,206.5 l0.8,2.5" stroke="#fff" stroke-opacity="0.7" stroke-width="0.8" fill="none"/>
<path d="M86.6,182.0 Q87.7,182.8 87.7,180.3" stroke="#c4dcb0" stroke-width="0.8" fill="none" stroke-linecap="round"/>
<path d="M104.9,215.0 Q104.9,216.0 107.7,217.4" stroke="#dad6f0" stroke-width="0.7" fill="none" stroke-linecap="round"/>
<path d="M95.5,205.8 Q97.4,205.7 97.1,203.9 Q96.8,201.5 95.6,202.0" stroke="#c4dcb0" stroke-width="1.0" fill="none" stroke-linecap="round"/>
<path d="M95.7,206.4 l-0.5,2.4" stroke="#fff" stroke-opacity="0.7" stroke-width="0.8" fill="none"/>
<path d="M142.6,183.3 Q140.8,183.9 142.8,185.8 Q143.5,187.5 143.1,188.2" stroke="#f8d0a8" stroke-width="0.8" fill="none" stroke-linecap="round"/>
<path d="M142.4,182.3 l2.0,-2.4" stroke="#fff" stroke-opacity="0.7" stroke-width="0.8" fill="none"/>
<path d="M128.8,175.5 Q131.8,176.6 131.9,176.3" stroke="#f6c498" stroke-width="1.1" fill="none" stroke-linecap="round"/>
<path d="M127.0,173.6 l1.3,-0.7" stroke="#fff" stroke-opacity="0.7" stroke-width="0.8" fill="none"/>
<path d="M92.4,217.5 Q92.3,215.9 93.5,215.7 Q92.4,215.4 95.1,214.5" stroke="#cfe3bf" stroke-width="0.9" fill="none" stroke-linecap="round"/>
<path d="M91.6,216.7 l-1.7,-1.4" stroke="#fff" stroke-opacity="0.7" stroke-width="0.8" fill="none"/>
<path d="M130.8,168.4 Q130.9,168.2 133.2,171.5 Q134.1,174.7 135.1,175.0 Q134.5,174.5 131.3,176.1" stroke="#f8d0a8" stroke-width="1.2" fill="none" stroke-linecap="round"/>
<path d="M130.1,203.5 Q131.3,204.9 132.1,206.3 Q134.6,209.0 133.8,209.1" stroke="#d2c4e4" stroke-width="0.9" fill="none" stroke-linecap="round"/>
<path d="M92.2,184.2 Q92.8,180.8 93.6,181.0 Q94.0,178.6 92.2,177.9" stroke="#bcd4a8" stroke-width="0.8" fill="none" stroke-linecap="round"/>
<path d="M91.7,184.4 l-1.5,-0.8" stroke="#fff" stroke-opacity="0.7" stroke-width="0.8" fill="none"/>
<path d="M130.4,187.7 Q128.8,187.5 129.8,184.7 Q129.7,185.7 132.6,183.6" stroke="#f8d0a8" stroke-width="1.2" fill="none" stroke-linecap="round"/>
<path d="M130.7,187.3 l0.7,-2.8" stroke="#fff" stroke-opacity="0.7" stroke-width="0.8" fill="none"/>
<path d="M101.5,213.1 Q100.1,213.7 102.5,211.1 Q104.5,210.3 104.8,210.9" stroke="#cfe3bf" stroke-width="0.9" fill="none" stroke-linecap="round"/>
<path d="M86.8,207.3 Q87.0,207.8 87.3,211.2 Q89.8,211.6 91.1,210.5 Q93.4,209.6 95.0,211.0" stroke="#bcd4a8" stroke-width="1.2" fill="none" stroke-linecap="round"/>
<path d="M87.7,205.6 l-2.8,2.0" stroke="#fff" stroke-opacity="0.7" stroke-width="0.8" fill="none"/>
<path d="M130.9,219.1 Q131.1,220.0 130.2,221.4 Q129.3,222.9 132.0,222.9" stroke="#d0c8e8" stroke-width="1.0" fill="none" stroke-linecap="round"/>
<path d="M96.0,211.7 Q96.6,209.1 95.2,209.7 Q95.9,208.0 94.9,207.6 Q94.9,207.2 96.2,205.9" stroke="#d8e8cc" stroke-width="0.8" fill="none" stroke-linecap="round"/>
<path d="M95.9,209.9 l-2.5,-1.0" stroke="#fff" stroke-opacity="0.7" stroke-width="0.8" fill="none"/>
<path d="M116.6,216.1 Q117.0,215.7 116.4,212.2" stroke="#dad6f0" stroke-width="1.1" fill="none" stroke-linecap="round"/>
<path d="M98.5,186.1 Q101.0,189.3 100.4,188.8 Q102.2,189.5 103.1,186.8 Q102.8,185.9 104.4,183.8" stroke="#bcd4a8" stroke-width="0.7" fill="none" stroke-linecap="round"/>
<path d="M91.5,172.3 Q91.2,173.0 91.8,170.0 Q91.5,168.2 89.5,170.1" stroke="#c4dcb0" stroke-width="1.0" fill="none" stroke-linecap="round"/>
<path d="M117.9,206.8 Q118.4,206.6 120.7,208.0 Q122.8,205.5 123.3,206.2" stroke="#d8d0ec" stroke-width="0.8" fill="none" stroke-linecap="round"/>
<path d="M125.3,208.5 Q123.7,207.6 125.8,204.9" stroke="#d0c8e8" stroke-width="0.7" fill="none" stroke-linecap="round"/>
<path d="M95.6,202.2 Q94.1,203.8 95.3,204.2" stroke="#c4dcb0" stroke-width="1.2" fill="none" stroke-linecap="round"/>
<path d="M137.1,182.2 Q138.3,183.4 140.1,184.0 Q139.5,183.6 138.3,187.1 Q139.3,189.6 137.2,190.4" stroke="#f6c498" stroke-width="1.0" fill="none" stroke-linecap="round"/>
<path d="M131.2,176.4 Q128.5,174.8 129.8,174.7" stroke="#f6c498" stroke-width="0.9" fill="none" stroke-linecap="round"/>
<path d="M131.8,178.0 l-1.7,-2.6" stroke="#fff" stroke-opacity="0.7" stroke-width="0.8" fill="none"/>
<path d="M88.1,180.3 Q91.2,181.3 91.8,179.7 Q91.7,182.6 95.0,181.8 Q98.7,183.6 98.7,181.9" stroke="#bcd4a8" stroke-width="1.1" fill="none" stroke-linecap="round"/>
<path d="M87.5,181.2 l1.2,2.9" stroke="#fff" stroke-opacity="0.7" stroke-width="0.8" fill="none"/>
<path d="M147.1,185.7 Q147.9,182.5 145.2,182.3 Q145.8,182.0 146.1,178.4" stroke="#f4b888" stroke-width="0.9" fill="none" stroke-linecap="round"/>
<path d="M146.4,187.4 l0.3,3.2" stroke="#fff" stroke-opacity="0.7" stroke-width="0.8" fill="none"/>
<path d="M144.1,182.4 Q142.4,182.8 143.4,185.3 Q140.0,183.6 140.5,185.8" stroke="#f6c498" stroke-width="0.9" fill="none" stroke-linecap="round"/>
<path d="M143.1,183.4 l1.8,-2.6" stroke="#fff" stroke-opacity="0.7" stroke-width="0.8" fill="none"/>
<path d="M124.7,166.9 Q124.5,165.1 122.8,164.1 Q123.3,163.3 121.2,161.2" stroke="#ecc4b8" stroke-width="0.8" fill="none" stroke-linecap="round"/>
<path d="M124.2,168.4 l-0.5,3.4" stroke="#fff" stroke-opacity="0.7" stroke-width="0.8" fill="none"/>
<path d="M114.1,221.6 Q113.6,220.2 112.7,218.2 Q115.4,215.3 115.9,216.3 Q119.5,214.7 119.4,215.1" stroke="#dad6f0" stroke-width="0.9" fill="none" stroke-linecap="round"/>
<path d="M96.3,172.7 Q95.4,174.8 98.2,174.6" stroke="#d8e8cc" stroke-width="0.9" fill="none" stroke-linecap="round"/>
<path d="M97.1,173.3 l1.8,1.2" stroke="#fff" stroke-opacity="0.7" stroke-width="0.8" fill="none"/>
<path d="M142.6,193.8 Q143.3,195.1 142.1,196.2 Q141.9,196.6 140.5,198.1 Q141.5,199.0 141.9,200.2" stroke="#d0cce8" stroke-width="1.1" fill="none" stroke-linecap="round"/>
<path d="M142.7,193.8 l1.5,0.0" stroke="#fff" stroke-opacity="0.7" stroke-width="0.8" fill="none"/>
<path d="M119.0,180.0 Q117.4,180.4 116.1,178.8 Q115.9,180.8 115.3,181.9 Q114.9,185.0 113.2,184.2" stroke="#ecc4b8" stroke-width="0.9" fill="none" stroke-linecap="round"/>
<path d="M119.4,179.6 l-0.4,-1.5" stroke="#fff" stroke-opacity="0.7" stroke-width="0.8" fill="none"/>
<path d="M102.5,181.9 Q103.9,180.5 102.4,179.1" stroke="#d8e8cc" stroke-width="1.0" fill="none" stroke-linecap="round"/>
<path d="M102.6,181.5 l-2.9,1.8" stroke="#fff" stroke-opacity="0.7" stroke-width="0.8" fill="none"/>
<path d="M100.9,178.4 Q102.0,180.7 102.8,181.3 Q102.6,182.6 105.5,183.4 Q103.8,184.9 104.8,186.8" stroke="#bcd4a8" stroke-width="1.1" fill="none" stroke-linecap="round"/>
<path d="M99.6,178.0 l2.5,0.6" stroke="#fff" stroke-opacity="0.7" stroke-width="0.8" fill="none"/>
<path d="M123.9,194.9 Q121.8,196.6 121.5,194.7 Q120.9,197.5 120.4,196.8 Q120.6,198.0 120.3,199.1" stroke="#cbbde0" stroke-width="0.9" fill="none" stroke-linecap="round"/>
<path d="M122.1,193.2 l-1.6,0.1" stroke="#fff" stroke-opacity="0.7" stroke-width="0.8" fill="none"/>
<path d="M134.8,200.8 Q133.4,202.7 134.0,203.6" stroke="#dad6f0" stroke-width="0.9" fill="none" stroke-linecap="round"/>
<path d="M134.6,201.1 l2.3,2.5" stroke="#fff" stroke-opacity="0.7" stroke-width="0.8" fill="none"/>
<path d="M87.6,205.7 Q84.1,205.5 84.3,207.4 Q83.3,203.8 83.3,203.9 Q81.1,203.3 79.9,202.4" stroke="#d8e8cc" stroke-width="0.9" fill="none" stroke-linecap="round"/>
<path d="M86.3,205.8 l-2.4,0.4" stroke="#fff" stroke-opacity="0.7" stroke-width="0.8" fill="none"/>
<path d="M119.1,198.1 Q116.8,198.0 117.6,199.6 Q116.7,199.4 116.5,201.5 Q114.6,201.5 114.3,201.0" stroke="#d8d0ec" stroke-width="1.0" fill="none" stroke-linecap="round"/>
<path d="M119.3,199.0 l-1.6,0.7" stroke="#fff" stroke-opacity="0.7" stroke-width="0.8" fill="none"/>
<path d="M88.1,190.9 Q87.7,189.7 84.4,190.9" stroke="#bcd4a8" stroke-width="0.7" fill="none" stroke-linecap="round"/>
<path d="M99.0,171.9 Q97.8,168.8 96.9,169.7" stroke="#c4dcb0" stroke-width="1.2" fill="none" stroke-linecap="round"/>
<path d="M100.8,173.7 l-2.0,-0.5" stroke="#fff" stroke-opacity="0.7" stroke-width="0.8" fill="none"/>
<path d="M141.9,188.8 Q142.0,189.4 140.2,186.8" stroke="#d0cce8" stroke-width="0.8" fill="none" stroke-linecap="round"/>
<path d="M141.2,188.3 l-2.9,-0.6" stroke="#fff" stroke-opacity="0.7" stroke-width="0.8" fill="none"/>
<path d="M111.1,170.7 Q110.6,170.6 113.6,171.6" stroke="#f8d4a8" stroke-width="1.2" fill="none" stroke-linecap="round"/>
<path d="M109.4,172.2 l-1.7,-1.4" stroke="#fff" stroke-opacity="0.7" stroke-width="0.8" fill="none"/>
<path d="M129.7,181.0 Q128.1,181.0 128.3,178.2" stroke="#ecc4b8" stroke-width="1.1" fill="none" stroke-linecap="round"/>
<path d="M130.4,179.7 l0.1,-3.5" stroke="#fff" stroke-opacity="0.7" stroke-width="0.8" fill="none"/>
<path d="M136.0,171.0 Q136.7,170.7 138.1,169.8 Q139.2,171.7 139.6,171.7" stroke="#e0c4d8" stroke-width="1.0" fill="none" stroke-linecap="round"/>
<path d="M100.7,181.1 Q100.3,184.7 101.6,184.9" stroke="#cfe3bf" stroke-width="1.0" fill="none" stroke-linecap="round"/>
<path d="M97.9,217.5 Q97.2,217.0 94.2,216.5 Q95.5,220.0 93.8,220.4 Q91.1,222.0 90.4,222.3" stroke="#d8e8cc" stroke-width="1.1" fill="none" stroke-linecap="round"/>
<path d="M99.3,218.1 l-1.8,-1.1" stroke="#fff" stroke-opacity="0.7" stroke-width="0.8" fill="none"/>
<path d="M131.6,180.4 Q131.3,181.8 132.8,182.1" stroke="#e0c4d8" stroke-width="0.9" fill="none" stroke-linecap="round"/>
<path d="M98.9,196.0 Q96.8,193.5 97.0,194.4 Q98.1,193.4 95.8,192.2 Q95.2,192.8 93.4,193.1" stroke="#c4dcb0" stroke-width="1.1" fill="none" stroke-linecap="round"/>
<path d="M133.9,188.9 Q136.0,190.5 134.6,190.8 Q134.9,192.6 133.4,192.4 Q135.2,192.8 134.6,194.0" stroke="#f6c498" stroke-width="1.2" fill="none" stroke-linecap="round"/>
<path d="M118.3,207.4 Q119.7,209.4 118.2,211.1" stroke="#d8d0ec" stroke-width="0.7" fill="none" stroke-linecap="round"/>
<path d="M119.8,208.2 l3.3,0.2" stroke="#fff" stroke-opacity="0.7" stroke-width="0.8" fill="none"/>
<path d="M98.2,202.8 Q100.9,201.1 100.7,200.6" stroke="#cfe3bf" stroke-width="1.2" fill="none" stroke-linecap="round"/>
<path d="M122.3,193.8 Q123.3,195.3 123.9,197.1 Q127.3,196.1 127.5,196.3" stroke="#d2c4e4" stroke-width="1.0" fill="none" stroke-linecap="round"/>
<path d="M123.1,192.3 l3.3,-1.1" stroke="#fff" stroke-opacity="0.7" stroke-width="0.8" fill="none"/>
<path d="M112.2,176.0 Q113.5,175.5 112.8,172.6 Q114.7,172.2 113.6,169.2" stroke="#f8d4a8" stroke-width="0.9" fill="none" stroke-linecap="round"/>
<path d="M111.9,177.3 l2.0,-1.8" stroke="#fff" stroke-opacity="0.7" stroke-width="0.8" fill="none"/>
<path d="M123.5,212.8 Q124.0,212.3 127.2,212.8 Q129.0,215.7 129.4,215.7" stroke="#c8c4e4" stroke-width="1.0" fill="none" stroke-linecap="round"/>
<path d="M87.2,190.9 Q86.8,190.2 88.3,187.6 Q89.1,186.1 86.7,184.5" stroke="#d8e8cc" stroke-width="0.9" fill="none" stroke-linecap="round"/>
<path d="M87.2,192.7 l0.6,-1.7" stroke="#fff" stroke-opacity="0.7" stroke-width="0.8" fill="none"/>
<path d="M121.5,223.9 Q118.9,222.3 119.2,221.2" stroke="#c8c4e4" stroke-width="1.1" fill="none" stroke-linecap="round"/>
<path d="M102.1,182.8 Q102.8,181.4 100.6,181.2 Q100.4,181.1 98.5,180.5 Q96.2,180.6 96.6,181.4" stroke="#c4dcb0" stroke-width="1.2" fill="none" stroke-linecap="round"/>
<path d="M128.6,205.7 Q131.3,203.3 131.3,204.7" stroke="#d8cce8" stroke-width="1.0" fill="none" stroke-linecap="round"/>
<path d="M127.5,203.9 l2.4,-1.4" stroke="#fff" stroke-opacity="0.7" stroke-width="0.8" fill="none"/>
<path d="M111.8,198.5 Q112.6,197.4 110.4,197.0 Q108.8,198.4 108.3,196.6" stroke="#c8c4e4" stroke-width="1.2" fill="none" stroke-linecap="round"/>
<path d="M137.9,204.7 Q139.7,205.6 140.6,204.1 Q140.4,203.6 143.2,205.0 Q145.5,203.7 145.8,206.0" stroke="#d2c4e4" stroke-width="1.2" fill="none" stroke-linecap="round"/>
<path d="M122.1,208.5 Q122.5,206.0 120.7,206.6 Q119.4,205.9 120.7,204.4" stroke="#d0c8e8" stroke-width="1.2" fill="none" stroke-linecap="round"/>
<path d="M121.2,208.5 l1.5,2.3" stroke="#fff" stroke-opacity="0.7" stroke-width="0.8" fill="none"/>
<path d="M115.7,203.7 Q116.5,205.1 117.8,203.0 Q118.5,202.3 119.1,201.1 Q121.2,201.7 120.7,199.5" stroke="#d8d0ec" stroke-width="0.8" fill="none" stroke-linecap="round"/>
<path d="M118.8,167.6 Q118.3,166.1 121.3,167.4 Q121.5,167.6 121.4,170.0 Q121.1,171.1 121.9,172.4" stroke="#f2e6bc" stroke-width="0.8" fill="none" stroke-linecap="round"/>
<path d="M126.8,185.3 Q126.4,185.3 129.7,182.8" stroke="#f6c498" stroke-width="0.7" fill="none" stroke-linecap="round"/>
<path d="M92.4,181.1 Q91.5,180.9 94.1,183.6" stroke="#c4dcb0" stroke-width="0.8" fill="none" stroke-linecap="round"/>
<path d="M92.2,180.1 l-0.5,-1.8" stroke="#fff" stroke-opacity="0.7" stroke-width="0.8" fill="none"/>
<path d="M122.0,199.0 Q120.4,199.0 118.7,200.9 Q118.4,198.9 115.2,199.3 Q113.5,198.4 112.7,196.4" stroke="#d8d0ec" stroke-width="1.1" fill="none" stroke-linecap="round"/>
<path d="M144.4,174.8 Q142.8,176.2 143.4,176.6 Q140.9,178.4 141.8,177.8 Q140.1,177.5 139.8,178.5" stroke="#f6c498" stroke-width="0.9" fill="none" stroke-linecap="round"/>
<path d="M115.6,175.1 Q116.5,173.3 118.0,174.6 Q118.0,174.1 120.5,174.8" stroke="#f8d0a8" stroke-width="1.2" fill="none" stroke-linecap="round"/>
<path d="M114.7,173.5 l-1.6,-0.0" stroke="#fff" stroke-opacity="0.7" stroke-width="0.8" fill="none"/>
<path d="M122.0,172.1 Q120.9,169.3 119.3,169.5 Q118.1,169.5 115.9,171.3" stroke="#f8d0a8" stroke-width="1.1" fill="none" stroke-linecap="round"/>
<path d="M123.5,172.2 l1.3,0.9" stroke="#fff" stroke-opacity="0.7" stroke-width="0.8" fill="none"/>
<path d="M81.8,184.6 Q80.4,185.9 82.6,186.8 Q83.0,185.4 80.2,187.1 Q81.9,190.0 80.5,189.4" stroke="#c4dcb0" stroke-width="0.9" fill="none" stroke-linecap="round"/>
<path d="M84.5,186.3 Q84.6,189.7 86.3,189.7" stroke="#c4dcb0" stroke-width="1.1" fill="none" stroke-linecap="round"/>
<path d="M83.8,186.4 l-1.3,0.9" stroke="#fff" stroke-opacity="0.7" stroke-width="0.8" fill="none"/>
<path d="M129.7,168.5 Q129.1,166.8 127.0,166.2 Q129.4,163.6 129.8,164.0 Q131.9,165.4 133.1,163.0" stroke="#f6c498" stroke-width="1.2" fill="none" stroke-linecap="round"/>
<path d="M113.7,219.6 Q113.9,217.2 111.3,218.9" stroke="#d0cce8" stroke-width="1.1" fill="none" stroke-linecap="round"/>
<path d="M136.1,184.5 Q135.5,185.2 137.8,186.3 Q137.5,186.8 139.4,184.3" stroke="#ecc4b8" stroke-width="0.7" fill="none" stroke-linecap="round"/>
<path d="M145.2,175.2 Q144.2,175.8 145.0,178.3 Q145.0,177.9 148.1,178.4 Q150.0,179.8 151.1,177.7" stroke="#f6c498" stroke-width="0.8" fill="none" stroke-linecap="round"/>
<path d="M145.4,177.2 l2.8,1.8" stroke="#fff" stroke-opacity="0.7" stroke-width="0.8" fill="none"/>
<path d="M97.2,219.4 Q96.7,217.4 96.7,217.0 Q94.9,214.8 94.8,215.4 Q94.4,214.7 92.4,215.2" stroke="#cfe3bf" stroke-width="0.8" fill="none" stroke-linecap="round"/>
<path d="M96.3,220.8 l0.5,-2.0" stroke="#fff" stroke-opacity="0.7" stroke-width="0.8" fill="none"/>
<path d="M99.8,214.3 Q101.9,212.0 102.4,213.5 Q100.7,212.9 101.2,211.0" stroke="#c4dcb0" stroke-width="1.2" fill="none" stroke-linecap="round"/>
<path d="M97.9,215.9 l-1.4,-2.5" stroke="#fff" stroke-opacity="0.7" stroke-width="0.8" fill="none"/>
<path d="M122.5,166.1 Q123.4,166.7 123.1,163.5 Q125.3,162.8 125.7,163.2" stroke="#e0c4d8" stroke-width="0.7" fill="none" stroke-linecap="round"/>
<path d="M120.4,224.0 Q120.3,224.9 122.1,222.8 Q124.4,222.5 122.9,224.7" stroke="#d0cce8" stroke-width="1.1" fill="none" stroke-linecap="round"/>
<path d="M119.6,225.2 l-2.4,0.6" stroke="#fff" stroke-opacity="0.7" stroke-width="0.8" fill="none"/>
<path d="M95.2,212.3 Q93.6,213.9 94.0,214.2 Q94.4,212.8 91.8,214.4 Q89.6,216.2 90.9,216.4" stroke="#bcd4a8" stroke-width="0.9" fill="none" stroke-linecap="round"/>
<path d="M91.5,202.1 Q91.5,202.7 90.6,205.5" stroke="#c4dcb0" stroke-width="1.2" fill="none" stroke-linecap="round"/>
<path d="M98.4,194.7 Q100.2,192.9 98.6,192.3 Q99.7,192.1 98.0,189.9 Q97.5,191.6 95.6,189.4" stroke="#bcd4a8" stroke-width="0.9" fill="none" stroke-linecap="round"/>
<path d="M124.5,207.1 Q122.7,209.3 124.6,209.5 Q127.2,211.1 126.9,210.2" stroke="#d0c8e8" stroke-width="0.9" fill="none" stroke-linecap="round"/>
<path d="M126.4,208.4 l0.5,1.9" stroke="#fff" stroke-opacity="0.7" stroke-width="0.8" fill="none"/>
<path d="M117.5,214.7 Q118.4,217.4 116.0,218.3 Q114.9,218.1 113.9,221.6" stroke="#d0cce8" stroke-width="1.1" fill="none" stroke-linecap="round"/>
<path d="M115.8,172.5 Q117.5,171.7 116.9,174.5 Q117.9,174.7 119.0,175.2 Q119.9,177.0 120.1,177.2" stroke="#f6e0b4" stroke-width="0.7" fill="none" stroke-linecap="round"/>
<path d="M115.5,170.9 l-0.4,2.4" stroke="#fff" stroke-opacity="0.7" stroke-width="0.8" fill="none"/>
<path d="M84.2,202.6 Q85.6,203.1 87.0,204.1 Q86.8,206.3 87.0,207.3" stroke="#d8e8cc" stroke-width="1.1" fill="none" stroke-linecap="round"/>
<path d="M96.9,170.7 Q96.9,171.2 96.7,168.5" stroke="#f2e6bc" stroke-width="1.2" fill="none" stroke-linecap="round"/>
<path d="M137.3,169.9 Q137.4,168.8 140.8,169.0 Q142.0,165.5 141.3,165.4 Q141.4,163.4 137.9,164.4" stroke="#ecc4b8" stroke-width="1.1" fill="none" stroke-linecap="round"/>
<path d="M91.1,215.3 Q92.5,217.1 92.5,217.9" stroke="#bcd4a8" stroke-width="1.0" fill="none" stroke-linecap="round"/>
<path d="M127.0,207.7 Q126.6,205.7 123.6,206.0 Q121.0,207.3 120.6,208.3 Q118.6,208.7 117.9,205.7" stroke="#d0c8e8" stroke-width="1.2" fill="none" stroke-linecap="round"/>
<path d="M127.0,208.8 l3.4,0.6" stroke="#fff" stroke-opacity="0.7" stroke-width="0.8" fill="none"/>
<path d="M138.2,181.3 Q138.3,184.2 137.5,183.3 Q136.0,182.6 135.6,184.4 Q136.2,185.0 133.8,185.4" stroke="#ecc4b8" stroke-width="1.0" fill="none" stroke-linecap="round"/>
<path d="M137.4,181.2 l1.2,1.6" stroke="#fff" stroke-opacity="0.7" stroke-width="0.8" fill="none"/>
<path d="M143.6,179.3 Q144.1,178.9 146.2,179.1 Q144.4,178.0 145.9,176.5 Q143.7,177.0 143.7,175.2" stroke="#f4b888" stroke-width="1.0" fill="none" stroke-linecap="round"/>
<path d="M124.5,208.5 Q125.3,206.4 128.0,207.2 Q126.9,206.6 127.9,203.4 Q129.5,202.6 131.1,201.4" stroke="#d0cce8" stroke-width="1.1" fill="none" stroke-linecap="round"/>
<path d="M85.7,191.0 Q85.6,192.6 86.9,193.5 Q86.0,194.5 86.6,196.3 Q88.2,195.9 86.3,199.1" stroke="#c4dcb0" stroke-width="1.2" fill="none" stroke-linecap="round"/>
<path d="M141.9,186.7 Q144.2,188.2 142.7,189.3" stroke="#f4b888" stroke-width="1.1" fill="none" stroke-linecap="round"/>
<path d="M106.0,164.0 Q105.6,163.5 108.4,163.1 Q109.0,162.5 109.2,165.6" stroke="#f8d4a8" stroke-width="1.2" fill="none" stroke-linecap="round"/>
<path d="M104.0,163.8 l3.2,-0.0" stroke="#fff" stroke-opacity="0.7" stroke-width="0.8" fill="none"/>
<path d="M120.3,208.6 Q121.1,210.2 118.8,210.4 Q117.8,211.6 116.4,211.0 Q116.4,209.7 114.0,211.2" stroke="#d0cce8" stroke-width="1.0" fill="none" stroke-linecap="round"/>
<path d="M85.1,197.4 Q86.9,199.1 87.6,200.0 Q88.7,201.6 90.3,202.4 Q93.3,202.8 93.9,202.8" stroke="#cfe3bf" stroke-width="0.9" fill="none" stroke-linecap="round"/>
<path d="M128.0,214.3 Q126.0,215.9 125.9,214.2" stroke="#d0c8e8" stroke-width="0.9" fill="none" stroke-linecap="round"/>
<path d="M129.2,214.3 l1.6,1.6" stroke="#fff" stroke-opacity="0.7" stroke-width="0.8" fill="none"/>
<path d="M127.9,220.2 Q128.1,223.3 130.3,222.7 Q132.3,226.2 131.9,225.7" stroke="#c8c0e4" stroke-width="1.1" fill="none" stroke-linecap="round"/>
<path d="M125.9,222.0 l3.3,-0.4" stroke="#fff" stroke-opacity="0.7" stroke-width="0.8" fill="none"/>
<path d="M123.9,176.9 Q122.6,179.1 123.9,179.7 Q125.7,179.8 126.7,180.4 Q129.1,179.9 127.9,177.8" stroke="#ecc4b8" stroke-width="0.7" fill="none" stroke-linecap="round"/>
<path d="M123.7,213.5 Q124.5,213.7 121.6,213.4 Q122.7,212.8 120.0,212.1 Q118.1,213.6 118.1,211.2" stroke="#d0c8e8" stroke-width="0.8" fill="none" stroke-linecap="round"/>
<path d="M122.5,213.6 l0.9,-1.3" stroke="#fff" stroke-opacity="0.7" stroke-width="0.8" fill="none"/>
<path d="M96.4,186.3 Q97.7,188.2 98.8,186.2 Q99.3,184.2 100.2,184.3 Q100.6,181.4 99.4,182.0" stroke="#cfe3bf" stroke-width="0.8" fill="none" stroke-linecap="round"/>
<path d="M95.0,185.2 l-0.6,2.7" stroke="#fff" stroke-opacity="0.7" stroke-width="0.8" fill="none"/>
<path d="M86.9,198.4 Q87.1,197.7 86.6,195.3 Q88.4,195.9 89.7,194.9 Q89.5,196.4 92.8,195.1" stroke="#d8e8cc" stroke-width="1.0" fill="none" stroke-linecap="round"/>
<path d="M88.7,198.1 l-0.1,-2.5" stroke="#fff" stroke-opacity="0.7" stroke-width="0.8" fill="none"/>
<path d="M112.1,218.0 Q110.7,218.2 113.0,216.0 Q111.7,215.1 111.2,214.6" stroke="#c8c4e4" stroke-width="0.7" fill="none" stroke-linecap="round"/>
<path d="M126.9,214.4 Q128.2,213.0 125.7,211.3 Q127.5,210.3 126.5,208.1" stroke="#c8c0e4" stroke-width="1.0" fill="none" stroke-linecap="round"/>
<path d="M127.7,215.7 l-1.9,-1.1" stroke="#fff" stroke-opacity="0.7" stroke-width="0.8" fill="none"/>
<path d="M135.0,207.5 Q135.9,208.5 137.5,210.0 Q137.8,211.5 141.0,209.3 Q144.6,211.4 144.6,209.5" stroke="#cbbde0" stroke-width="1.2" fill="none" stroke-linecap="round"/>
<path d="M136.7,207.4 l-2.4,1.4" stroke="#fff" stroke-opacity="0.7" stroke-width="0.8" fill="none"/>
<path d="M122.2,200.8 Q123.3,201.1 124.4,200.7" stroke="#d8d0ec" stroke-width="1.2" fill="none" stroke-linecap="round"/>
<path d="M99.1,178.1 Q101.6,178.0 101.1,176.2 Q98.5,175.7 98.7,174.6" stroke="#c4dcb0" stroke-width="1.0" fill="none" stroke-linecap="round"/>
<path d="M85.3,209.3 Q85.9,211.5 84.0,211.4 Q84.8,212.8 84.4,213.8" stroke="#cfe3bf" stroke-width="1.0" fill="none" stroke-linecap="round"/>
<path d="M131.6,202.6 Q129.3,202.4 130.8,199.2" stroke="#d0c8e8" stroke-width="1.2" fill="none" stroke-linecap="round"/>
<path d="M131.2,203.2 l-1.8,-1.3" stroke="#fff" stroke-opacity="0.7" stroke-width="0.8" fill="none"/>
<path d="M126.9,218.4 Q128.3,219.1 129.7,216.5 Q128.6,219.1 131.2,219.6 Q132.8,219.6 134.4,218.6" stroke="#c8c0e4" stroke-width="0.7" fill="none" stroke-linecap="round"/>
<path d="M126.8,184.1 Q130.1,183.8 129.6,182.5 Q131.4,182.9 132.8,182.8 Q132.2,185.0 133.6,185.9" stroke="#f4b888" stroke-width="1.1" fill="none" stroke-linecap="round"/>
<path d="M114.7,215.5 Q115.6,216.5 116.7,217.6 Q115.3,218.8 114.5,219.5 Q116.4,221.1 115.3,222.3" stroke="#c8c4e4" stroke-width="0.7" fill="none" stroke-linecap="round"/>
<path d="M147.4,181.7 Q147.6,181.5 149.9,181.7 Q151.2,182.8 150.1,184.3 Q152.9,184.1 152.2,185.8" stroke="#f4b888" stroke-width="1.2" fill="none" stroke-linecap="round"/>
<path d="M147.0,182.8 l1.1,2.7" stroke="#fff" stroke-opacity="0.7" stroke-width="0.8" fill="none"/>
<path d="M88.5,214.1 Q90.7,212.5 90.4,211.9 Q89.5,209.1 88.4,209.8 Q89.8,209.6 88.8,206.9" stroke="#d8e8cc" stroke-width="1.2" fill="none" stroke-linecap="round"/>
<path d="M87.4,212.4 l-1.6,-1.8" stroke="#fff" stroke-opacity="0.7" stroke-width="0.8" fill="none"/>
<path d="M108.5,168.7 Q107.7,170.4 107.3,171.2 Q109.7,173.0 108.5,173.8 Q107.1,175.2 106.7,176.0" stroke="#f8d4a8" stroke-width="1.1" fill="none" stroke-linecap="round"/>
<path d="M131.5,179.4 Q132.5,179.6 131.0,182.4" stroke="#e0c4d8" stroke-width="0.7" fill="none" stroke-linecap="round"/>
<path d="M118.6,195.8 Q115.7,195.8 116.4,195.0 Q115.9,196.6 114.8,196.9" stroke="#d2c4e4" stroke-width="1.2" fill="none" stroke-linecap="round"/>
<path d="M99.9,174.6 Q102.6,176.9 102.4,176.5 Q105.4,176.9 105.5,175.6" stroke="#d8e8cc" stroke-width="0.9" fill="none" stroke-linecap="round"/>
<path d="M103.2,199.4 Q104.0,200.0 102.7,203.1 Q100.3,205.8 101.4,206.6 Q98.4,206.7 97.7,207.2" stroke="#d8e8cc" stroke-width="0.7" fill="none" stroke-linecap="round"/>
<path d="M121.6,217.0 Q119.3,215.7 117.9,218.2" stroke="#d0cce8" stroke-width="1.1" fill="none" stroke-linecap="round"/>
<path d="M121.7,217.7 l2.4,-1.0" stroke="#fff" stroke-opacity="0.7" stroke-width="0.8" fill="none"/>
<path d="M123.4,201.8 Q120.9,202.6 120.1,202.9 Q118.5,205.9 120.2,206.3 Q120.6,207.6 120.8,209.7" stroke="#d2c4e4" stroke-width="1.2" fill="none" stroke-linecap="round"/>
<path d="M106.6,224.2 Q106.4,222.7 103.5,223.3 Q100.4,223.7 101.0,225.2" stroke="#c8c4e4" stroke-width="1.2" fill="none" stroke-linecap="round"/>
<path d="M105.5,225.2 l-1.5,2.6" stroke="#fff" stroke-opacity="0.7" stroke-width="0.8" fill="none"/>
<path d="M133.4,211.8 Q130.2,211.3 129.6,211.9 Q129.4,213.1 126.1,210.3" stroke="#d8cce8" stroke-width="1.2" fill="none" stroke-linecap="round"/>
<path d="M133.2,210.1 l-2.2,1.2" stroke="#fff" stroke-opacity="0.7" stroke-width="0.8" fill="none"/>
<path d="M105.0,220.2 Q105.5,222.2 102.7,220.4 Q103.4,223.3 103.3,222.6" stroke="#c8c4e4" stroke-width="0.9" fill="none" stroke-linecap="round"/>
<path d="M105.3,220.6 l1.9,2.7" stroke="#fff" stroke-opacity="0.7" stroke-width="0.8" fill="none"/>
<path d="M120.5,218.1 Q121.6,217.5 122.8,220.1 Q121.5,221.5 123.9,223.0" stroke="#c8c0e4" stroke-width="0.8" fill="none" stroke-linecap="round"/>
<path d="M120.2,216.6 l0.4,1.9" stroke="#fff" stroke-opacity="0.7" stroke-width="0.8" fill="none"/>
<path d="M97.4,207.1 Q99.0,208.1 98.5,210.1 Q97.7,209.9 100.9,212.2 Q99.8,213.1 98.8,214.6" stroke="#cfe3bf" stroke-width="1.0" fill="none" stroke-linecap="round"/>
<path d="M97.9,206.4 l1.9,2.6" stroke="#fff" stroke-opacity="0.7" stroke-width="0.8" fill="none"/>
<path d="M138.3,180.6 Q135.2,178.5 134.4,179.7" stroke="#e0c4d8" stroke-width="0.7" fill="none" stroke-linecap="round"/>
<path d="M136.9,179.7 l-2.4,-0.8" stroke="#fff" stroke-opacity="0.7" stroke-width="0.8" fill="none"/>
<path d="M135.4,170.6 Q136.0,171.7 133.3,169.6 Q132.1,169.4 131.2,170.5 Q129.8,169.1 129.1,169.4" stroke="#f8d0a8" stroke-width="0.7" fill="none" stroke-linecap="round"/>
<path d="M104.6,211.9 Q106.4,214.7 105.9,215.3 Q106.8,215.7 109.6,214.8 Q112.9,215.1 113.1,216.0" stroke="#dad6f0" stroke-width="0.7" fill="none" stroke-linecap="round"/>
<path d="M103.8,210.0 l2.5,0.8" stroke="#fff" stroke-opacity="0.7" stroke-width="0.8" fill="none"/>
<path d="M126.3,176.1 Q129.0,172.5 128.0,172.6" stroke="#ecc4b8" stroke-width="1.0" fill="none" stroke-linecap="round"/>
<path d="M98.0,171.1 Q99.0,172.2 98.5,173.2 Q96.8,174.6 96.5,173.9 Q97.6,176.2 94.7,175.2" stroke="#d8e8cc" stroke-width="0.8" fill="none" stroke-linecap="round"/>
<path d="M98.4,171.8 l-2.4,0.4" stroke="#fff" stroke-opacity="0.7" stroke-width="0.8" fill="none"/>
<path d="M90.5,202.8 Q91.7,205.7 91.1,205.2 Q90.1,205.7 90.4,207.7" stroke="#bcd4a8" stroke-width="0.9" fill="none" stroke-linecap="round"/>
<path d="M136.8,170.6 Q137.4,171.3 134.7,169.3 Q133.9,172.4 133.8,171.6" stroke="#f4b888" stroke-width="0.9" fill="none" stroke-linecap="round"/>
<path d="M116.7,174.9 Q114.4,176.1 114.9,173.5 Q113.9,171.8 116.4,171.7 Q117.1,172.1 115.4,169.7" stroke="#f6c498" stroke-width="1.0" fill="none" stroke-linecap="round"/>
<path d="M117.5,173.8 l1.8,0.2" stroke="#fff" stroke-opacity="0.7" stroke-width="0.8" fill="none"/>
<path d="M114.2,207.3 Q112.5,206.8 112.8,209.2" stroke="#d0cce8" stroke-width="0.9" fill="none" stroke-linecap="round"/>
<path d="M104.1,216.6 Q104.1,220.3 103.4,220.3 Q106.2,222.0 105.2,223.7 Q103.3,225.2 104.7,227.5" stroke="#bcd4a8" stroke-width="1.1" fill="none" stroke-linecap="round"/>
<path d="M104.4,217.7 l2.3,-0.4" stroke="#fff" stroke-opacity="0.7" stroke-width="0.8" fill="none"/>
<path d="M101.4,206.0 Q102.0,207.7 102.8,208.8" stroke="#d8e8cc" stroke-width="1.1" fill="none" stroke-linecap="round"/>
<path d="M101.5,204.8 l0.4,1.7" stroke="#fff" stroke-opacity="0.7" stroke-width="0.8" fill="none"/>
<path d="M142.8,175.3 Q143.2,175.6 145.7,174.4 Q148.5,171.8 147.7,172.1 Q147.7,169.9 147.8,169.1" stroke="#ecc4b8" stroke-width="0.9" fill="none" stroke-linecap="round"/>
<path d="M142.3,177.2 l-3.0,-0.1" stroke="#fff" stroke-opacity="0.7" stroke-width="0.8" fill="none"/>
<path d="M122.2,185.0 Q119.3,185.7 120.1,183.1 Q119.6,184.4 117.4,182.6" stroke="#f6c498" stroke-width="0.9" fill="none" stroke-linecap="round"/>
<path d="M122.2,183.0 l0.4,-2.1" stroke="#fff" stroke-opacity="0.7" stroke-width="0.8" fill="none"/>
<path d="M94.5,174.5 Q93.0,175.9 92.4,173.7" stroke="#d8e8cc" stroke-width="0.7" fill="none" stroke-linecap="round"/>
<path d="M93.9,175.3 l-2.6,-0.8" stroke="#fff" stroke-opacity="0.7" stroke-width="0.8" fill="none"/>
<path d="M109.2,171.8 Q112.4,171.2 112.3,173.5 Q115.6,174.6 115.2,175.5" stroke="#f2e6bc" stroke-width="1.2" fill="none" stroke-linecap="round"/>
<path d="M110.0,172.8 l-1.5,-2.0" stroke="#fff" stroke-opacity="0.7" stroke-width="0.8" fill="none"/>
<path d="M128.6,209.6 Q127.2,211.8 128.3,213.5" stroke="#d0c8e8" stroke-width="0.7" fill="none" stroke-linecap="round"/>
<path d="M123.9,177.7 Q125.5,176.6 125.8,175.3" stroke="#e0c4d8" stroke-width="1.0" fill="none" stroke-linecap="round"/>
<path d="M125.8,179.0 l3.2,0.7" stroke="#fff" stroke-opacity="0.7" stroke-width="0.8" fill="none"/>
<path d="M93.1,201.3 Q92.8,202.6 96.4,201.6 Q98.2,201.5 98.5,204.1 Q101.0,203.4 101.5,205.1" stroke="#c4dcb0" stroke-width="0.8" fill="none" stroke-linecap="round"/>
<path d="M91.9,178.8 Q89.5,178.1 89.6,178.2 Q88.5,177.5 88.9,180.4" stroke="#cfe3bf" stroke-width="1.1" fill="none" stroke-linecap="round"/>
<path d="M92.6,180.7 l-1.7,0.3" stroke="#fff" stroke-opacity="0.7" stroke-width="0.8" fill="none"/>
<path d="M127.7,167.8 Q128.4,167.9 127.0,165.9 Q127.5,164.9 128.5,164.5 Q129.4,163.5 129.2,162.6" stroke="#f4b888" stroke-width="1.1" fill="none" stroke-linecap="round"/>
<path d="M126.8,167.5 l1.5,-2.3" stroke="#fff" stroke-opacity="0.7" stroke-width="0.8" fill="none"/>
<path d="M96.1,219.3 Q93.5,216.9 93.9,216.3" stroke="#bcd4a8" stroke-width="0.9" fill="none" stroke-linecap="round"/>
<path d="M97.7,220.1 l1.6,-0.0" stroke="#fff" stroke-opacity="0.7" stroke-width="0.8" fill="none"/>
<path d="M142.8,199.2 Q142.3,200.8 144.3,201.6" stroke="#d8cce8" stroke-width="1.1" fill="none" stroke-linecap="round"/>
<path d="M141.3,200.0 Q141.9,200.6 143.8,198.1 Q143.1,197.6 145.8,195.8" stroke="#d2c4e4" stroke-width="0.9" fill="none" stroke-linecap="round"/>
<path d="M140.1,200.1 l1.2,-1.5" stroke="#fff" stroke-opacity="0.7" stroke-width="0.8" fill="none"/>
<path d="M97.2,183.2 Q98.5,183.3 97.1,180.0" stroke="#bcd4a8" stroke-width="1.2" fill="none" stroke-linecap="round"/>
<path d="M98.0,184.1 l1.0,-2.9" stroke="#fff" stroke-opacity="0.7" stroke-width="0.8" fill="none"/>
<path d="M124.6,175.3 Q125.6,172.4 125.6,172.4" stroke="#f4b888" stroke-width="0.7" fill="none" stroke-linecap="round"/>
<path d="M121.7,218.8 Q123.5,219.1 122.7,222.2" stroke="#d0c8e8" stroke-width="1.0" fill="none" stroke-linecap="round"/>
<path d="M122.0,192.4 Q121.2,193.3 124.3,190.7" stroke="#d2c4e4" stroke-width="0.9" fill="none" stroke-linecap="round"/>
<path d="M123.3,192.5 l0.4,-2.7" stroke="#fff" stroke-opacity="0.7" stroke-width="0.8" fill="none"/>
<path d="M83.9,192.7 Q83.2,192.9 83.7,196.1" stroke="#d8e8cc" stroke-width="1.0" fill="none" stroke-linecap="round"/>
<path d="M117.3,213.9 Q117.8,212.5 118.0,211.8 Q119.4,212.5 120.1,211.6 Q120.8,212.0 120.0,213.8" stroke="#dad6f0" stroke-width="1.0" fill="none" stroke-linecap="round"/>
<path d="M118.1,214.9 l-1.6,-1.0" stroke="#fff" stroke-opacity="0.7" stroke-width="0.8" fill="none"/>
<path d="M118.7,222.1 Q118.6,221.5 120.0,223.7" stroke="#c8c4e4" stroke-width="1.0" fill="none" stroke-linecap="round"/>
<path d="M117.3,221.7 l-0.9,-1.4" stroke="#fff" stroke-opacity="0.7" stroke-width="0.8" fill="none"/>
<path d="M119.0,198.2 Q116.5,196.4 115.6,198.4 Q115.0,201.4 113.8,201.3" stroke="#c8c0e4" stroke-width="1.0" fill="none" stroke-linecap="round"/>
<path d="M145.5,191.9 Q143.7,189.8 145.3,188.3 Q147.4,187.7 148.9,187.9 Q149.1,187.3 150.3,184.6" stroke="#d8cce8" stroke-width="1.1" fill="none" stroke-linecap="round"/>
<path d="M144.2,185.4 Q142.6,184.1 140.4,185.2" stroke="#f6c498" stroke-width="1.0" fill="none" stroke-linecap="round"/>
<path d="M94.5,210.8 Q91.5,212.8 91.9,212.7 Q92.2,213.9 88.8,213.8 Q88.3,212.4 86.0,212.2" stroke="#c4dcb0" stroke-width="0.9" fill="none" stroke-linecap="round"/>
<path d="M82.8,186.1 Q81.6,187.0 82.3,188.6 Q81.8,187.2 79.7,188.8 Q77.6,190.7 79.1,191.3" stroke="#c4dcb0" stroke-width="1.1" fill="none" stroke-linecap="round"/>
<path d="M81.0,187.1 l-0.6,3.1" stroke="#fff" stroke-opacity="0.7" stroke-width="0.8" fill="none"/>
<path d="M136.0,203.1 Q138.1,205.6 138.3,204.9 Q135.8,206.0 136.6,207.3 Q133.3,204.7 134.0,205.8" stroke="#cbbde0" stroke-width="1.0" fill="none" stroke-linecap="round"/>
<path d="M98.6,194.7 Q97.4,193.2 96.3,193.9 Q95.9,193.9 97.0,191.6" stroke="#d8e8cc" stroke-width="1.0" fill="none" stroke-linecap="round"/>
<path d="M98.5,195.5 l-2.1,-2.0" stroke="#fff" stroke-opacity="0.7" stroke-width="0.8" fill="none"/>
<path d="M125.8,187.8 Q126.0,185.1 127.1,186.1 Q127.3,185.8 127.5,184.0 Q125.5,182.5 125.6,183.0" stroke="#dad6f0" stroke-width="1.2" fill="none" stroke-linecap="round"/>
<path d="M128.1,178.6 Q127.8,179.7 125.2,180.3 Q125.2,178.1 122.4,178.7" stroke="#ecc4b8" stroke-width="0.8" fill="none" stroke-linecap="round"/>
<path d="M147.4,187.8 Q144.6,187.8 144.5,187.6 Q144.0,186.6 141.9,188.7 Q144.1,191.0 143.0,191.3" stroke="#f4b888" stroke-width="1.1" fill="none" stroke-linecap="round"/>
<path d="M93.4,171.7 Q92.4,169.7 93.5,168.5 Q96.7,167.2 96.4,167.0" stroke="#bcd4a8" stroke-width="0.9" fill="none" stroke-linecap="round"/>
<path d="M113.2,169.9 Q115.1,170.6 115.0,172.2" stroke="#f6e0b4" stroke-width="1.1" fill="none" stroke-linecap="round"/>
<path d="M113.0,169.8 l-0.7,-2.7" stroke="#fff" stroke-opacity="0.7" stroke-width="0.8" fill="none"/>
<path d="M107.4,163.6 Q108.7,164.6 110.5,162.7" stroke="#f8d4a8" stroke-width="1.1" fill="none" stroke-linecap="round"/>
<path d="M90.4,202.9 Q90.8,204.4 90.9,206.0" stroke="#c4dcb0" stroke-width="0.8" fill="none" stroke-linecap="round"/>
<path d="M136.6,192.2 Q137.6,191.6 139.1,191.4 Q138.5,191.6 141.2,193.0 Q141.0,193.5 143.5,194.4" stroke="#f6c498" stroke-width="0.9" fill="none" stroke-linecap="round"/>
<path d="M135.1,192.3 l-2.0,-1.3" stroke="#fff" stroke-opacity="0.7" stroke-width="0.8" fill="none"/>
<path d="M95.6,197.8 Q93.6,199.9 92.8,200.1" stroke="#d8e8cc" stroke-width="0.9" fill="none" stroke-linecap="round"/>
<path d="M130.9,188.9 Q133.1,189.3 134.4,187.7 Q136.5,186.1 137.5,185.6 Q136.3,185.8 134.9,182.9" stroke="#f8d0a8" stroke-width="1.0" fill="none" stroke-linecap="round"/>
<path d="M106.4,178.2 Q106.4,178.6 107.9,175.4 Q109.2,174.2 111.1,175.2 Q112.0,175.5 114.3,174.9" stroke="#f6e0b4" stroke-width="0.9" fill="none" stroke-linecap="round"/>
<path d="M131.9,179.9 Q133.0,181.5 134.2,180.7" stroke="#e0c4d8" stroke-width="1.0" fill="none" stroke-linecap="round"/>
<path d="M132.6,181.0 l-1.3,1.2" stroke="#fff" stroke-opacity="0.7" stroke-width="0.8" fill="none"/>
<path d="M107.6,163.6 Q106.8,161.6 107.2,161.2 Q107.8,160.5 106.0,159.1 Q106.5,158.5 107.0,156.9" stroke="#f6e0b4" stroke-width="1.2" fill="none" stroke-linecap="round"/>
<path d="M109.0,162.5 l-2.2,0.0" stroke="#fff" stroke-opacity="0.7" stroke-width="0.8" fill="none"/>
<path d="M132.8,201.9 Q136.1,201.1 136.8,202.7 Q137.8,206.3 138.4,206.3" stroke="#d8cce8" stroke-width="1.0" fill="none" stroke-linecap="round"/>
<path d="M134.5,203.8 l-1.9,-2.0" stroke="#fff" stroke-opacity="0.7" stroke-width="0.8" fill="none"/>
<path d="M84.0,196.6 Q85.6,199.9 83.4,200.2" stroke="#bcd4a8" stroke-width="1.0" fill="none" stroke-linecap="round"/>
<path d="M115.7,174.2 Q114.0,173.0 113.7,173.2 Q113.2,174.5 112.8,175.2" stroke="#f6e0b4" stroke-width="0.8" fill="none" stroke-linecap="round"/>
<path d="M114.9,213.4 Q116.1,211.7 117.8,213.1 Q117.6,214.8 120.6,213.4" stroke="#c8c4e4" stroke-width="1.2" fill="none" stroke-linecap="round"/>
<path d="M115.2,214.8 l2.1,-1.6" stroke="#fff" stroke-opacity="0.7" stroke-width="0.8" fill="none"/>
<path d="M95.9,219.8 Q92.6,221.8 93.1,220.3 Q91.7,221.0 90.7,221.6" stroke="#c4dcb0" stroke-width="0.8" fill="none" stroke-linecap="round"/>
<path d="M138.9,203.5 Q140.0,203.7 141.5,203.8" stroke="#d8cce8" stroke-width="0.8" fill="none" stroke-linecap="round"/>
<path d="M140.4,204.9 l-1.9,-0.6" stroke="#fff" stroke-opacity="0.7" stroke-width="0.8" fill="none"/>
<path d="M128.5,177.0 Q128.0,179.3 127.1,178.6 Q128.9,178.8 127.7,180.6 Q126.4,183.1 126.1,182.0" stroke="#ecc4b8" stroke-width="1.2" fill="none" stroke-linecap="round"/>
<path d="M128.8,176.2 l2.7,0.2" stroke="#fff" stroke-opacity="0.7" stroke-width="0.8" fill="none"/>
<path d="M141.9,188.4 Q138.6,185.9 139.0,186.8 Q138.2,187.6 137.8,189.9 Q137.8,190.5 136.2,192.8" stroke="#e0c4d8" stroke-width="0.9" fill="none" stroke-linecap="round"/>
<path d="M131.5,216.0 Q128.8,216.1 129.9,213.8 Q131.9,211.8 130.0,211.2" stroke="#d0c8e8" stroke-width="1.0" fill="none" stroke-linecap="round"/>
<path d="M122.5,210.2 Q122.0,207.2 125.1,207.6 Q124.8,209.0 128.2,209.6" stroke="#d0cce8" stroke-width="1.0" fill="none" stroke-linecap="round"/>
<path d="M111.6,209.4 Q115.2,208.4 115.1,209.6 Q113.1,212.6 115.1,213.1" stroke="#c8c4e4" stroke-width="0.8" fill="none" stroke-linecap="round"/>
<path d="M110.1,209.5 l-3.0,1.5" stroke="#fff" stroke-opacity="0.7" stroke-width="0.8" fill="none"/>
<path d="M134.3,178.0 Q134.2,178.9 131.3,177.5 Q130.8,178.2 128.7,175.9" stroke="#f8d0a8" stroke-width="1.1" fill="none" stroke-linecap="round"/>
<path d="M136.1,177.3 l0.3,2.3" stroke="#fff" stroke-opacity="0.7" stroke-width="0.8" fill="none"/>
<path d="M135.0,180.8 Q135.9,180.5 133.1,183.3" stroke="#f4b888" stroke-width="1.1" fill="none" stroke-linecap="round"/>
<path d="M96.2,210.3 Q98.1,211.9 98.7,211.6 Q97.3,212.3 99.6,214.2" stroke="#c4dcb0" stroke-width="1.2" fill="none" stroke-linecap="round"/>
<path d="M128.9,217.4 Q128.3,217.9 126.1,218.2" stroke="#d0c8e8" stroke-width="0.8" fill="none" stroke-linecap="round"/>
<path d="M99.9,213.4 Q97.6,212.7 97.1,213.9 Q95.2,215.9 94.3,214.2 Q94.8,211.9 92.5,212.1" stroke="#cfe3bf" stroke-width="0.7" fill="none" stroke-linecap="round"/>
<path d="M142.1,201.4 Q142.1,203.8 140.3,203.8 Q138.3,206.7 138.0,205.8 Q135.7,207.8 136.9,208.6" stroke="#d8cce8" stroke-width="0.8" fill="none" stroke-linecap="round"/>
<path d="M124.7,174.3 Q127.6,176.4 126.6,176.8" stroke="#e0c4d8" stroke-width="1.2" fill="none" stroke-linecap="round"/>
<path d="M123.5,175.7 l2.1,2.3" stroke="#fff" stroke-opacity="0.7" stroke-width="0.8" fill="none"/>
<path d="M131.9,216.1 Q133.1,215.8 133.9,219.0 Q133.6,219.2 136.0,222.0 Q137.1,224.1 134.4,225.1" stroke="#d2c4e4" stroke-width="1.0" fill="none" stroke-linecap="round"/>
<path d="M130.2,215.6 l-2.9,1.5" stroke="#fff" stroke-opacity="0.7" stroke-width="0.8" fill="none"/>
<path d="M96.8,176.3 Q96.4,176.7 94.3,178.2" stroke="#c4dcb0" stroke-width="1.1" fill="none" stroke-linecap="round"/>
<path d="M97.7,175.6 l2.0,-0.2" stroke="#fff" stroke-opacity="0.7" stroke-width="0.8" fill="none"/>
<path d="M88.9,211.0 Q88.0,209.8 90.6,208.2 Q88.3,208.2 88.6,205.6 Q89.2,202.9 91.5,204.1" stroke="#d8e8cc" stroke-width="0.8" fill="none" stroke-linecap="round"/>
<path d="M88.6,212.3 l0.5,3.0" stroke="#fff" stroke-opacity="0.7" stroke-width="0.8" fill="none"/>
<path d="M127.6,218.4 Q126.5,219.5 124.0,219.6" stroke="#d8d0ec" stroke-width="1.0" fill="none" stroke-linecap="round"/>
<path d="M128.2,220.0 l-0.3,-1.7" stroke="#fff" stroke-opacity="0.7" stroke-width="0.8" fill="none"/>
<path d="M104.2,168.8 Q105.8,167.0 106.1,166.2 Q106.8,165.0 105.9,163.1 Q104.7,162.6 103.4,161.1" stroke="#ece4c8" stroke-width="1.1" fill="none" stroke-linecap="round"/>
<path d="M102.5,168.3 l-1.8,-2.0" stroke="#fff" stroke-opacity="0.7" stroke-width="0.8" fill="none"/>
<path d="M119.6,212.0 Q116.2,211.3 116.1,213.1" stroke="#c8c0e4" stroke-width="1.0" fill="none" stroke-linecap="round"/>
<path d="M121.3,210.6 l-2.5,2.3" stroke="#fff" stroke-opacity="0.7" stroke-width="0.8" fill="none"/>
<path d="M91.7,210.8 Q93.4,212.9 94.5,211.4" stroke="#c4dcb0" stroke-width="1.2" fill="none" stroke-linecap="round"/>
<path d="M120.5,214.5 Q120.9,216.3 123.9,216.3" stroke="#d0cce8" stroke-width="1.0" fill="none" stroke-linecap="round"/>
<path d="M120.2,212.9 l0.2,-3.2" stroke="#fff" stroke-opacity="0.7" stroke-width="0.8" fill="none"/>
<path d="M124.6,171.0 Q124.2,172.8 123.4,174.2" stroke="#f4b888" stroke-width="1.1" fill="none" stroke-linecap="round"/>
<path d="M142.1,183.5 Q141.8,183.6 138.6,184.8" stroke="#f6c498" stroke-width="0.9" fill="none" stroke-linecap="round"/>
<path d="M137.9,205.5 Q136.5,207.7 137.6,207.6 Q135.0,207.9 135.6,207.3" stroke="#d2c4e4" stroke-width="1.2" fill="none" stroke-linecap="round"/>
<path d="M140.3,177.8 Q140.7,174.9 141.0,175.1 Q140.5,173.7 142.8,173.0 Q143.6,172.7 140.5,171.5" stroke="#f6c498" stroke-width="0.9" fill="none" stroke-linecap="round"/>
<path d="M140.6,175.9 l0.5,-2.4" stroke="#fff" stroke-opacity="0.7" stroke-width="0.8" fill="none"/>
<path d="M136.8,175.2 Q135.9,173.2 135.5,173.1" stroke="#f4b888" stroke-width="1.1" fill="none" stroke-linecap="round"/>
<path d="M135.8,177.0 l-0.7,2.4" stroke="#fff" stroke-opacity="0.7" stroke-width="0.8" fill="none"/>
<path d="M144.2,194.7 Q144.1,197.1 147.5,196.0 Q147.5,195.1 150.8,194.8" stroke="#d0cce8" stroke-width="1.1" fill="none" stroke-linecap="round"/>
<path d="M144.9,196.3 l1.1,-3.2" stroke="#fff" stroke-opacity="0.7" stroke-width="0.8" fill="none"/>
<path d="M120.0,167.8 Q122.0,168.4 122.8,165.7" stroke="#f8d4a8" stroke-width="0.7" fill="none" stroke-linecap="round"/>
<path d="M119.8,169.6 l0.2,-2.7" stroke="#fff" stroke-opacity="0.7" stroke-width="0.8" fill="none"/>
<path d="M88.0,177.5 Q89.0,178.3 89.2,181.1 Q89.6,183.7 86.6,183.9" stroke="#cfe3bf" stroke-width="0.8" fill="none" stroke-linecap="round"/>
<path d="M87.2,177.6 l2.2,1.0" stroke="#fff" stroke-opacity="0.7" stroke-width="0.8" fill="none"/>
<path d="M138.6,208.7 Q137.0,211.6 139.4,211.5 Q138.6,213.0 141.6,213.4" stroke="#cbbde0" stroke-width="1.0" fill="none" stroke-linecap="round"/>
<path d="M124.3,215.3 Q123.7,217.1 122.4,217.3 Q119.8,217.4 120.8,219.5 Q118.3,219.6 118.6,221.1" stroke="#d8d0ec" stroke-width="0.9" fill="none" stroke-linecap="round"/>
<path d="M125.9,216.1 l-0.5,2.4" stroke="#fff" stroke-opacity="0.7" stroke-width="0.8" fill="none"/>
<path d="M87.3,186.8 Q87.1,183.5 85.6,183.6 Q84.7,182.0 82.0,184.1" stroke="#d8e8cc" stroke-width="1.0" fill="none" stroke-linecap="round"/>
<path d="M86.7,187.9 l-1.2,2.0" stroke="#fff" stroke-opacity="0.7" stroke-width="0.8" fill="none"/>
<path d="M141.8,197.8 Q141.9,198.4 145.7,196.9 Q145.0,198.5 147.2,200.6" stroke="#dad6f0" stroke-width="1.0" fill="none" stroke-linecap="round"/>
<path d="M84.1,187.8 Q80.9,186.7 81.1,187.1 Q82.1,187.8 80.1,190.1" stroke="#cfe3bf" stroke-width="0.7" fill="none" stroke-linecap="round"/>
<path d="M129.9,171.8 Q129.2,169.4 130.4,168.1 Q131.3,164.5 129.2,164.6 Q130.7,162.2 131.4,161.6" stroke="#ecc4b8" stroke-width="0.9" fill="none" stroke-linecap="round"/>
<path d="M108.4,172.3 Q107.4,171.3 105.3,171.5 Q106.3,168.9 103.5,168.9 Q104.7,166.3 103.6,165.7" stroke="#f2e6bc" stroke-width="0.7" fill="none" stroke-linecap="round"/>
<path d="M114.7,200.4 Q112.5,202.2 111.1,200.3 Q108.7,200.3 108.2,198.1 Q108.9,195.4 110.3,195.2" stroke="#c8c4e4" stroke-width="0.7" fill="none" stroke-linecap="round"/>
<path d="M116.4,201.3 l1.1,1.7" stroke="#fff" stroke-opacity="0.7" stroke-width="0.8" fill="none"/>
<path d="M103.2,221.2 Q103.0,219.3 105.7,218.6 Q107.9,218.9 107.7,215.6" stroke="#d8e8cc" stroke-width="1.0" fill="none" stroke-linecap="round"/>
<path d="M101.5,221.0 l-3.3,0.9" stroke="#fff" stroke-opacity="0.7" stroke-width="0.8" fill="none"/>
<path d="M98.4,202.6 Q99.0,204.3 100.4,203.2 Q101.8,204.2 102.0,201.8" stroke="#c4dcb0" stroke-width="0.7" fill="none" stroke-linecap="round"/>
<path d="M94.4,186.4 Q96.5,186.9 96.5,186.7 Q97.0,185.0 98.3,185.4" stroke="#d8e8cc" stroke-width="1.0" fill="none" stroke-linecap="round"/>
<path d="M119.5,171.2 Q121.9,172.0 120.7,169.4 Q120.7,168.6 122.8,168.8 Q122.8,168.9 123.3,166.7" stroke="#f8d0a8" stroke-width="0.7" fill="none" stroke-linecap="round"/>
<path d="M94.9,200.9 Q92.7,202.5 93.2,202.7 Q92.9,201.8 91.7,204.5 Q93.5,206.0 93.4,206.3" stroke="#d8e8cc" stroke-width="1.2" fill="none" stroke-linecap="round"/>
<path d="M96.4,200.1 l-1.9,-1.3" stroke="#fff" stroke-opacity="0.7" stroke-width="0.8" fill="none"/>
<path d="M113.5,211.3 Q113.5,212.4 113.5,213.8 Q114.3,213.6 115.8,214.6 Q116.1,213.2 117.5,212.9" stroke="#c8c4e4" stroke-width="1.1" fill="none" stroke-linecap="round"/>
<path d="M111.5,211.1 l3.2,-0.2" stroke="#fff" stroke-opacity="0.7" stroke-width="0.8" fill="none"/>
<path d="M85.1,182.5 Q84.5,181.5 87.1,182.4 Q89.1,185.0 88.5,183.9" stroke="#bcd4a8" stroke-width="1.0" fill="none" stroke-linecap="round"/>
<path d="M84.6,184.3 l0.8,-1.8" stroke="#fff" stroke-opacity="0.7" stroke-width="0.8" fill="none"/>
<path d="M112.3,170.5 Q111.4,168.9 110.9,168.6 Q108.5,168.8 109.2,167.2 Q108.1,166.2 106.9,167.0" stroke="#ece4c8" stroke-width="1.1" fill="none" stroke-linecap="round"/>
<path d="M125.9,184.5 Q124.6,184.6 126.9,182.3 Q129.2,181.0 128.1,180.2" stroke="#f6c498" stroke-width="0.7" fill="none" stroke-linecap="round"/>
<path d="M126.5,183.4 l-0.7,-1.9" stroke="#fff" stroke-opacity="0.7" stroke-width="0.8" fill="none"/>
<path d="M127.9,175.2 Q131.2,177.0 130.6,176.3" stroke="#ecc4b8" stroke-width="1.0" fill="none" stroke-linecap="round"/>
<path d="M111.3,202.4 Q110.5,203.6 108.4,202.4" stroke="#c8c4e4" stroke-width="1.0" fill="none" stroke-linecap="round"/>
<path d="M125.8,203.3 Q125.5,205.0 124.5,205.0" stroke="#d2c4e4" stroke-width="0.9" fill="none" stroke-linecap="round"/>
<path d="M91.6,175.0 Q92.4,177.5 90.3,178.1 Q90.7,181.0 89.9,181.4" stroke="#c4dcb0" stroke-width="0.8" fill="none" stroke-linecap="round"/>
<path d="M87.9,175.7 Q89.4,177.7 89.9,177.9 Q89.9,177.3 92.0,180.0 Q91.1,182.9 93.0,182.9" stroke="#bcd4a8" stroke-width="1.0" fill="none" stroke-linecap="round"/>
<path d="M98.6,218.8 Q98.6,217.9 97.7,215.2 Q98.6,212.5 97.4,211.5 Q97.1,208.2 95.6,208.3" stroke="#cfe3bf" stroke-width="0.9" fill="none" stroke-linecap="round"/>
<path d="M96.7,219.0 l0.9,1.8" stroke="#fff" stroke-opacity="0.7" stroke-width="0.8" fill="none"/>
<path d="M124.6,218.0 Q123.0,218.4 123.0,221.4 Q123.0,222.0 121.3,224.7" stroke="#d0cce8" stroke-width="1.0" fill="none" stroke-linecap="round"/>
<path d="M126.2,219.6 l-1.7,-0.0" stroke="#fff" stroke-opacity="0.7" stroke-width="0.8" fill="none"/>
<path d="M136.7,185.0 Q138.8,183.7 139.3,184.7 Q138.6,186.1 141.9,185.5" stroke="#e0c4d8" stroke-width="1.2" fill="none" stroke-linecap="round"/>
<path d="M135.9,185.0 l3.2,-0.6" stroke="#fff" stroke-opacity="0.7" stroke-width="0.8" fill="none"/>
<path d="M84.3,183.8 Q83.1,182.0 83.9,181.5" stroke="#d8e8cc" stroke-width="0.9" fill="none" stroke-linecap="round"/>
<path d="M96.3,176.6 Q98.9,174.7 99.2,176.6 Q101.1,174.0 99.1,173.7 Q101.4,174.1 101.0,171.6" stroke="#c4dcb0" stroke-width="1.1" fill="none" stroke-linecap="round"/>
<path d="M97.8,174.8 l1.1,-2.1" stroke="#fff" stroke-opacity="0.7" stroke-width="0.8" fill="none"/>
<path d="M128.3,183.2 Q127.1,182.8 125.7,186.0 Q122.2,184.6 121.9,185.4" stroke="#f8d0a8" stroke-width="0.9" fill="none" stroke-linecap="round"/>
<path d="M125.6,181.7 Q126.2,184.3 126.5,184.0" stroke="#f8d0a8" stroke-width="1.1" fill="none" stroke-linecap="round"/>
<path d="M94.8,185.3 Q94.2,183.6 92.3,184.4 Q94.4,182.5 93.0,181.9" stroke="#cfe3bf" stroke-width="0.8" fill="none" stroke-linecap="round"/>
<path d="M95.5,186.4 l-0.5,2.2" stroke="#fff" stroke-opacity="0.7" stroke-width="0.8" fill="none"/>
<path d="M140.8,200.6 Q141.3,202.2 143.8,202.4" stroke="#d2c4e4" stroke-width="1.1" fill="none" stroke-linecap="round"/>
<path d="M141.5,200.3 l-2.7,-0.8" stroke="#fff" stroke-opacity="0.7" stroke-width="0.8" fill="none"/>
<path d="M119.4,171.0 Q120.7,170.9 118.3,169.0 Q118.2,166.6 118.0,166.8 Q116.6,165.9 116.6,165.1" stroke="#f8d4a8" stroke-width="0.7" fill="none" stroke-linecap="round"/>
<path d="M118.6,170.6 l1.5,-0.0" stroke="#fff" stroke-opacity="0.7" stroke-width="0.8" fill="none"/>
<path d="M146.6,183.7 Q145.7,180.1 146.0,180.4" stroke="#f8d0a8" stroke-width="0.8" fill="none" stroke-linecap="round"/>
<path d="M146.5,183.9 l-1.2,3.3" stroke="#fff" stroke-opacity="0.7" stroke-width="0.8" fill="none"/>
<path d="M86.8,188.6 Q86.1,186.5 84.7,186.1 Q81.4,185.4 81.7,187.6" stroke="#d8e8cc" stroke-width="1.1" fill="none" stroke-linecap="round"/>
<path d="M118.0,198.6 Q117.5,195.7 116.4,196.6 Q115.7,195.3 114.5,194.8" stroke="#d8d0ec" stroke-width="0.7" fill="none" stroke-linecap="round"/>
<path d="M111.9,202.9 Q112.8,202.6 114.2,203.4" stroke="#d0cce8" stroke-width="1.0" fill="none" stroke-linecap="round"/>
<path d="M93.7,179.6 Q92.4,181.2 94.0,182.8 Q94.7,184.7 97.1,183.4" stroke="#c4dcb0" stroke-width="1.1" fill="none" stroke-linecap="round"/>
<path d="M94.4,178.5 l1.0,-2.1" stroke="#fff" stroke-opacity="0.7" stroke-width="0.8" fill="none"/>
<path d="M120.5,220.8 Q123.5,222.7 123.3,221.0 Q124.7,219.8 126.0,220.6" stroke="#c8c4e4" stroke-width="1.2" fill="none" stroke-linecap="round"/>
<path d="M113.8,168.5 Q112.8,167.6 112.1,169.6 Q110.3,169.3 110.2,170.5" stroke="#f2e6bc" stroke-width="1.2" fill="none" stroke-linecap="round"/>
<path d="M119.1,203.2 Q118.8,202.5 121.9,204.3 Q122.2,205.5 124.3,206.0 Q123.5,206.8 124.1,209.0" stroke="#d8d0ec" stroke-width="1.2" fill="none" stroke-linecap="round"/>
<path d="M135.2,182.5 Q133.5,182.1 134.2,184.5" stroke="#f4b888" stroke-width="1.2" fill="none" stroke-linecap="round"/>
<path d="M135.3,182.3 l1.7,-0.8" stroke="#fff" stroke-opacity="0.7" stroke-width="0.8" fill="none"/>
<path d="M132.1,217.0 Q132.8,217.0 135.1,219.5" stroke="#c8c0e4" stroke-width="0.8" fill="none" stroke-linecap="round"/>
<path d="M138.2,179.1 Q136.0,177.8 135.9,176.5 Q135.1,176.4 136.2,173.1 Q133.5,172.1 132.9,172.0" stroke="#f4b888" stroke-width="0.8" fill="none" stroke-linecap="round"/>
<path d="M138.6,179.3 l-0.6,1.4" stroke="#fff" stroke-opacity="0.7" stroke-width="0.8" fill="none"/>
<path d="M90.1,208.4 Q87.4,207.6 87.8,208.1 Q88.8,208.1 86.7,210.2 Q87.5,210.1 88.8,211.3" stroke="#bcd4a8" stroke-width="1.1" fill="none" stroke-linecap="round"/>
<path d="M88.5,208.5 l0.4,2.1" stroke="#fff" stroke-opacity="0.7" stroke-width="0.8" fill="none"/>
<path d="M123.2,171.8 Q125.2,170.0 123.8,169.3" stroke="#f8d0a8" stroke-width="0.8" fill="none" stroke-linecap="round"/>
<path d="M112.4,203.5 Q114.9,204.6 115.7,203.3 Q115.5,205.8 117.6,206.1 Q117.4,206.5 120.9,205.8" stroke="#c8c4e4" stroke-width="0.8" fill="none" stroke-linecap="round"/>
<path d="M113.7,204.6 l2.1,-1.4" stroke="#fff" stroke-opacity="0.7" stroke-width="0.8" fill="none"/>
<path d="M121.7,220.1 Q121.8,219.1 118.9,219.6" stroke="#dad6f0" stroke-width="1.1" fill="none" stroke-linecap="round"/>
<path d="M89.0,206.2 Q88.6,204.8 85.2,207.1" stroke="#d8e8cc" stroke-width="1.2" fill="none" stroke-linecap="round"/>
<path d="M140.2,199.4 Q142.8,200.4 142.9,201.8 Q143.3,201.8 145.1,199.0 Q145.8,198.4 147.4,201.7" stroke="#cbbde0" stroke-width="1.2" fill="none" stroke-linecap="round"/>
<path d="M104.8,223.9 Q106.0,220.6 107.0,220.7" stroke="#dad6f0" stroke-width="0.9" fill="none" stroke-linecap="round"/>
<path d="M105.1,224.8 l1.4,2.8" stroke="#fff" stroke-opacity="0.7" stroke-width="0.8" fill="none"/>
<path d="M121.0,176.4 Q121.7,178.9 121.9,178.5" stroke="#f4b888" stroke-width="1.0" fill="none" stroke-linecap="round"/>
<path d="M120.0,174.9 l1.9,-1.5" stroke="#fff" stroke-opacity="0.7" stroke-width="0.8" fill="none"/>
<path d="M88.0,206.6 Q90.1,208.0 90.7,206.0 Q91.7,203.8 93.1,204.6 Q92.6,203.6 93.9,201.9" stroke="#bcd4a8" stroke-width="1.1" fill="none" stroke-linecap="round"/>
<path d="M89.2,205.3 l-0.2,-3.2" stroke="#fff" stroke-opacity="0.7" stroke-width="0.8" fill="none"/>
<path d="M88.6,181.6 Q86.2,180.1 85.6,180.8 Q86.0,180.5 85.1,177.7" stroke="#c4dcb0" stroke-width="1.2" fill="none" stroke-linecap="round"/>
<path d="M122.5,210.9 Q121.5,209.1 119.4,211.2 Q117.4,209.9 116.5,212.4" stroke="#d0c8e8" stroke-width="1.0" fill="none" stroke-linecap="round"/>
<path d="M99.0,221.1 Q99.4,221.0 98.3,218.1 Q97.8,216.3 96.9,215.4 Q98.5,212.9 96.4,212.4" stroke="#bcd4a8" stroke-width="1.0" fill="none" stroke-linecap="round"/>
<path d="M98.7,220.5 l1.4,-0.8" stroke="#fff" stroke-opacity="0.7" stroke-width="0.8" fill="none"/>
<path d="M117.1,178.0 Q118.5,176.2 120.6,176.5 Q120.0,176.3 122.4,173.2" stroke="#f4b888" stroke-width="1.1" fill="none" stroke-linecap="round"/>
<path d="M117.5,178.6 l2.1,-1.3" stroke="#fff" stroke-opacity="0.7" stroke-width="0.8" fill="none"/>
<path d="M130.7,175.7 Q131.8,174.0 133.1,175.7" stroke="#f4b888" stroke-width="1.2" fill="none" stroke-linecap="round"/>
<path d="M101.2,215.8 Q101.0,214.1 103.3,215.6 Q102.2,214.9 103.7,217.7" stroke="#bcd4a8" stroke-width="0.9" fill="none" stroke-linecap="round"/>
<path d="M101.1,217.1 l-0.6,1.8" stroke="#fff" stroke-opacity="0.7" stroke-width="0.8" fill="none"/>
<path d="M93.5,172.0 Q93.6,171.9 93.4,170.0 Q93.2,170.6 94.1,168.1" stroke="#d8e8cc" stroke-width="0.8" fill="none" stroke-linecap="round"/>
<path d="M93.8,171.8 l-1.2,-1.7" stroke="#fff" stroke-opacity="0.7" stroke-width="0.8" fill="none"/>
<path d="M116.1,206.3 Q114.3,208.2 112.8,207.9" stroke="#d0c8e8" stroke-width="0.7" fill="none" stroke-linecap="round"/>
<path d="M117.2,204.4 l2.0,0.8" stroke="#fff" stroke-opacity="0.7" stroke-width="0.8" fill="none"/>
<path d="M83.5,203.9 Q80.6,205.1 81.0,206.7 Q80.5,208.2 82.8,210.0 Q83.0,211.3 80.9,213.3" stroke="#bcd4a8" stroke-width="0.9" fill="none" stroke-linecap="round"/>
<path d="M84.3,202.3 l-0.8,-2.1" stroke="#fff" stroke-opacity="0.7" stroke-width="0.8" fill="none"/>
<path d="M95.5,196.4 Q96.3,196.9 93.9,199.8 Q94.2,202.0 90.9,202.1" stroke="#cfe3bf" stroke-width="1.2" fill="none" stroke-linecap="round"/>
<path d="M114.4,207.6 Q115.6,206.7 115.2,205.5 Q115.9,204.9 113.7,203.7 Q112.6,202.4 111.6,204.7" stroke="#d0cce8" stroke-width="0.9" fill="none" stroke-linecap="round"/>
<path d="M82.7,189.8 Q83.4,187.5 81.5,187.1 Q81.4,184.6 81.5,184.2" stroke="#cfe3bf" stroke-width="0.8" fill="none" stroke-linecap="round"/>
<path d="M138.8,188.0 Q138.9,186.6 135.7,186.3 Q135.7,188.3 132.6,188.0" stroke="#ecc4b8" stroke-width="0.8" fill="none" stroke-linecap="round"/>
<path d="M91.1,210.3 Q92.8,208.7 91.2,207.6" stroke="#cfe3bf" stroke-width="1.0" fill="none" stroke-linecap="round"/>
<path d="M101.4,195.9 Q101.9,196.3 98.8,197.3" stroke="#cfe3bf" stroke-width="0.8" fill="none" stroke-linecap="round"/>
<path d="M100.3,195.7 l-1.8,0.7" stroke="#fff" stroke-opacity="0.7" stroke-width="0.8" fill="none"/>
<path d="M108.6,222.9 Q108.6,224.4 108.4,225.1 Q106.5,223.6 106.2,224.7 Q107.0,226.5 104.1,225.0" stroke="#c8c4e4" stroke-width="1.0" fill="none" stroke-linecap="round"/>
<path d="M101.0,190.9 Q100.8,190.2 102.4,187.4" stroke="#d8e8cc" stroke-width="1.2" fill="none" stroke-linecap="round"/>
<path d="M93.8,213.9 Q93.1,215.7 93.0,217.3" stroke="#d8e8cc" stroke-width="1.1" fill="none" stroke-linecap="round"/>
<path d="M143.2,185.5 Q141.9,185.8 144.4,182.6" stroke="#ecc4b8" stroke-width="0.8" fill="none" stroke-linecap="round"/>
<path d="M141.5,184.0 l-0.2,1.6" stroke="#fff" stroke-opacity="0.7" stroke-width="0.8" fill="none"/>
<path d="M101.5,197.0 Q100.6,199.0 100.4,200.6 Q103.2,203.3 103.4,202.8" stroke="#cfe3bf" stroke-width="1.0" fill="none" stroke-linecap="round"/>
<path d="M87.8,175.7 Q86.4,174.7 88.4,171.9" stroke="#cfe3bf" stroke-width="0.8" fill="none" stroke-linecap="round"/>
<path d="M99.8,171.5 Q97.3,168.2 98.4,168.1" stroke="#f8d4a8" stroke-width="0.8" fill="none" stroke-linecap="round"/>
<path d="M99.7,173.5 l3.0,-0.7" stroke="#fff" stroke-opacity="0.7" stroke-width="0.8" fill="none"/>
<path d="M92.5,212.3 Q91.2,211.1 89.4,211.3 Q88.1,214.4 87.4,213.8 Q87.9,213.5 85.4,211.4" stroke="#d8e8cc" stroke-width="0.7" fill="none" stroke-linecap="round"/>
<path d="M123.8,200.2 Q124.6,199.0 121.9,198.8 Q123.2,197.0 120.8,196.8 Q117.7,195.6 118.6,197.5" stroke="#d8cce8" stroke-width="0.8" fill="none" stroke-linecap="round"/>
<g opacity="1.0">
<path d="M256.1,113.0L254.3,113.0M253.1,113.0L249.8,113.0M256.1,114.3L254.3,114.2M253.1,114.1L249.8,113.9M255.9,115.6L254.1,115.4M253.0,115.2L249.7,114.8M255.7,116.9L253.9,116.5M252.8,116.3L249.5,115.6M255.4,118.2L253.7,117.7M252.5,117.4L249.3,116.5M255.0,119.4L253.3,118.8M252.2,118.4L249.1,117.3M254.5,120.6L252.9,119.9M251.8,119.4L248.7,118.1M250.1,127.0L248.9,125.7M248.0,124.8L245.8,122.4M249.1,127.9L248.0,126.5M247.2,125.5L245.1,123.0M248.1,128.7L247.0,127.2M246.3,126.2L244.4,123.5M247.0,129.4L246.1,127.9M245.4,126.8L243.7,124.0M245.9,130.0L245.0,128.4M244.5,127.4L242.9,124.5M244.7,130.6L244.0,129.0M243.5,127.9L242.1,124.9M243.5,131.1L242.9,129.4M242.5,128.3L241.3,125.2M237.1,132.3L237.1,130.5M237.1,129.3L237.0,126.0M235.8,132.3L235.9,130.5M236.0,129.3L236.1,126.0M234.5,132.2L234.7,130.4M234.9,129.2L235.3,125.9M233.2,132.0L233.6,130.2M233.8,129.0L234.4,125.8M232.0,131.7L232.4,129.9M232.7,128.8L233.5,125.6M225.0,128.3L226.1,126.8M226.8,125.9L228.8,123.3M224.0,127.4L225.2,126.1M226.0,125.2L228.2,122.7M223.0,126.5L224.3,125.3M225.2,124.4L227.5,122.1M222.2,125.6L223.5,124.4M224.4,123.6L226.9,121.5M221.3,124.6L222.8,123.5M223.7,122.8L226.4,120.8M218.4,118.8L220.1,118.2M221.2,117.9L224.4,116.9M218.0,117.5L219.8,117.1M221.0,116.8L224.2,116.0M217.8,116.2L219.5,115.9M220.7,115.7L224.0,115.2M217.6,115.0L219.4,114.8M220.6,114.6L223.9,114.3M217.5,113.7L219.3,113.6M220.5,113.6L223.8,113.4M218.8,106.0L220.5,106.6M221.6,107.1L224.7,108.3M219.3,104.8L221.0,105.6M222.0,106.1L225.0,107.5M219.9,103.6L221.5,104.5M222.5,105.1L225.4,106.7M220.6,102.5L222.1,103.5M223.1,104.1L225.9,105.9M226.0,97.0L227.0,98.5M227.7,99.5L229.6,102.2M227.2,96.3L228.1,97.8M228.7,98.9L230.3,101.7M228.3,95.7L229.1,97.3M229.6,98.4L231.1,101.3M229.5,95.1L230.2,96.8M230.6,97.9L231.9,101.0M237.1,93.7L237.1,95.5M237.1,96.7L237.0,100.0M238.4,93.8L238.3,95.6M238.2,96.8L237.9,100.0M239.7,93.9L239.4,95.7M239.3,96.9L238.8,100.1M241.0,94.2L240.6,95.9M240.4,97.1L239.6,100.3M248.1,97.3L247.0,98.8M246.3,99.8L244.4,102.5M249.1,98.1L248.0,99.5M247.2,100.5L245.1,103.0M250.1,99.0L248.9,100.3M248.0,101.2L245.8,103.6M251.0,99.9L249.7,101.2M248.8,102.0L246.4,104.2M255.0,106.6L253.3,107.2M252.2,107.6L249.1,108.7M255.4,107.8L253.7,108.3M252.5,108.6L249.3,109.5M255.7,109.1L253.9,109.5M252.8,109.7L249.5,110.4M255.9,110.4L254.1,110.6M253.0,110.8L249.7,111.2M256.1,111.7L254.3,111.8M253.1,111.9L249.8,112.1" stroke="#b4b4b4" stroke-width="0.65" fill="none"/>
<circle cx="257.5" cy="113.0" r="1.45" fill="#f8bb82"/>
<circle cx="257.3" cy="115.6" r="1.45" fill="#f8bb82"/>
<circle cx="256.8" cy="118.1" r="1.45" fill="#f8bb82"/>
<circle cx="256.0" cy="120.6" r="1.45" fill="#f8bb82"/>
<circle cx="254.9" cy="123.0" r="1.45" fill="#f8bb82"/>
<circle cx="253.5" cy="125.2" r="1.45" fill="#f8bb82"/>
<circle cx="251.9" cy="127.2" r="1.45" fill="#f8bb82"/>
<circle cx="250.0" cy="128.9" r="1.45" fill="#f8bb82"/>
<circle cx="247.9" cy="130.5" r="1.45" fill="#f8bb82"/>
<circle cx="245.6" cy="131.7" r="1.45" fill="#f8bb82"/>
<circle cx="243.2" cy="132.7" r="1.45" fill="#f8bb82"/>
<circle cx="240.7" cy="133.3" r="1.45" fill="#f8bb82"/>
<circle cx="238.1" cy="133.7" r="1.45" fill="#f8bb82"/>
<circle cx="235.5" cy="133.7" r="1.45" fill="#f8bb82"/>
<circle cx="232.9" cy="133.3" r="1.45" fill="#f8bb82"/>
<circle cx="230.4" cy="132.7" r="1.45" fill="#f8bb82"/>
<circle cx="228.0" cy="131.7" r="1.45" fill="#f8bb82"/>
<circle cx="225.7" cy="130.5" r="1.45" fill="#f8bb82"/>
<circle cx="223.6" cy="128.9" r="1.45" fill="#f8bb82"/>
<circle cx="221.7" cy="127.2" r="1.45" fill="#f8bb82"/>
<circle cx="220.1" cy="125.2" r="1.45" fill="#f8bb82"/>
<circle cx="218.7" cy="123.0" r="1.45" fill="#f8bb82"/>
<circle cx="217.6" cy="120.6" r="1.45" fill="#f8bb82"/>
<circle cx="216.8" cy="118.1" r="1.45" fill="#f8bb82"/>
<circle cx="216.3" cy="115.6" r="1.45" fill="#f8bb82"/>
<circle cx="216.1" cy="113.0" r="1.45" fill="#f8bb82"/>
<circle cx="216.3" cy="110.4" r="1.45" fill="#f8bb82"/>
<circle cx="216.8" cy="107.9" r="1.45" fill="#f8bb82"/>
<circle cx="217.6" cy="105.4" r="1.45" fill="#f8bb82"/>
<circle cx="218.7" cy="103.0" r="1.45" fill="#f8bb82"/>
<circle cx="220.1" cy="100.8" r="1.45" fill="#f8bb82"/>
<circle cx="221.7" cy="98.8" r="1.45" fill="#f8bb82"/>
<circle cx="223.6" cy="97.1" r="1.45" fill="#f8bb82"/>
<circle cx="225.7" cy="95.5" r="1.45" fill="#f8bb82"/>
<circle cx="228.0" cy="94.3" r="1.45" fill="#f8bb82"/>
<circle cx="230.4" cy="93.3" r="1.45" fill="#f8bb82"/>
<circle cx="232.9" cy="92.7" r="1.45" fill="#f8bb82"/>
<circle cx="235.5" cy="92.3" r="1.45" fill="#f8bb82"/>
<circle cx="238.1" cy="92.3" r="1.45" fill="#f8bb82"/>
<circle cx="240.7" cy="92.7" r="1.45" fill="#f8bb82"/>
<circle cx="243.2" cy="93.3" r="1.45" fill="#f8bb82"/>
<circle cx="245.6" cy="94.3" r="1.45" fill="#f8bb82"/>
<circle cx="247.9" cy="95.5" r="1.45" fill="#f8bb82"/>
<circle cx="250.0" cy="97.1" r="1.45" fill="#f8bb82"/>
<circle cx="251.9" cy="98.8" r="1.45" fill="#f8bb82"/>
<circle cx="253.5" cy="100.8" r="1.45" fill="#f8bb82"/>
<circle cx="254.9" cy="103.0" r="1.45" fill="#f8bb82"/>
<circle cx="256.0" cy="105.4" r="1.45" fill="#f8bb82"/>
<circle cx="256.8" cy="107.9" r="1.45" fill="#f8bb82"/>
<circle cx="257.3" cy="110.4" r="1.45" fill="#f8bb82"/>
<circle cx="249.1" cy="113.0" r="0.85" fill="#d8d8d8"/>
<circle cx="248.8" cy="115.6" r="0.85" fill="#d8d8d8"/>
<circle cx="248.0" cy="118.0" r="0.85" fill="#d8d8d8"/>
<circle cx="246.8" cy="120.2" r="0.85" fill="#d8d8d8"/>
<circle cx="245.0" cy="122.1" r="0.85" fill="#d8d8d8"/>
<circle cx="243.0" cy="123.7" r="0.85" fill="#d8d8d8"/>
<circle cx="240.6" cy="124.7" r="0.85" fill="#d8d8d8"/>
<circle cx="238.1" cy="125.2" r="0.85" fill="#d8d8d8"/>
<circle cx="235.5" cy="125.2" r="0.85" fill="#d8d8d8"/>
<circle cx="233.0" cy="124.7" r="0.85" fill="#d8d8d8"/>
<circle cx="230.7" cy="123.7" r="0.85" fill="#d8d8d8"/>
<circle cx="228.6" cy="122.1" r="0.85" fill="#d8d8d8"/>
<circle cx="226.8" cy="120.2" r="0.85" fill="#d8d8d8"/>
<circle cx="225.6" cy="118.0" r="0.85" fill="#d8d8d8"/>
<circle cx="224.8" cy="115.6" r="0.85" fill="#d8d8d8"/>
<circle cx="224.5" cy="113.0" r="0.85" fill="#d8d8d8"/>
<circle cx="224.8" cy="110.4" r="0.85" fill="#d8d8d8"/>
<circle cx="225.6" cy="108.0" r="0.85" fill="#d8d8d8"/>
<circle cx="226.8" cy="105.8" r="0.85" fill="#d8d8d8"/>
<circle cx="228.6" cy="103.9" r="0.85" fill="#d8d8d8"/>
<circle cx="230.7" cy="102.3" r="0.85" fill="#d8d8d8"/>
<circle cx="233.0" cy="101.3" r="0.85" fill="#d8d8d8"/>
<circle cx="235.5" cy="100.8" r="0.85" fill="#d8d8d8"/>
<circle cx="238.1" cy="100.8" r="0.85" fill="#d8d8d8"/>
<circle cx="240.6" cy="101.3" r="0.85" fill="#d8d8d8"/>
<circle cx="243.0" cy="102.3" r="0.85" fill="#d8d8d8"/>
<circle cx="245.0" cy="103.9" r="0.85" fill="#d8d8d8"/>
<circle cx="246.8" cy="105.8" r="0.85" fill="#d8d8d8"/>
<circle cx="248.0" cy="108.0" r="0.85" fill="#d8d8d8"/>
<circle cx="248.8" cy="110.4" r="0.85" fill="#d8d8d8"/>
<ellipse cx="233.2" cy="94.6" rx="3.9" ry="2.8" transform="rotate(-101 233.2 94.6)" fill="#8466b2"/>
<ellipse cx="244.4" cy="95.9" rx="3.9" ry="2.8" transform="rotate(-66 244.4 95.9)" fill="#8466b2"/>
<ellipse cx="252.8" cy="103.4" rx="3.9" ry="2.8" transform="rotate(-31 252.8 103.4)" fill="#8466b2"/>
<ellipse cx="252.1" cy="123.7" rx="3.9" ry="2.8" transform="rotate(35 252.1 123.7)" fill="#8466b2"/>
<ellipse cx="240.4" cy="131.4" rx="3.9" ry="2.8" transform="rotate(79 240.4 131.4)" fill="#8466b2"/>
<ellipse cx="228.9" cy="129.9" rx="3.9" ry="2.8" transform="rotate(115 228.9 129.9)" fill="#8466b2"/>
<ellipse cx="220.1" cy="121.5" rx="3.9" ry="2.8" transform="rotate(153 220.1 121.5)" fill="#8466b2"/>
<ellipse cx="218.4" cy="109.8" rx="3.9" ry="2.8" transform="rotate(190 218.4 109.8)" fill="#8466b2"/>
<ellipse cx="223.6" cy="99.8" rx="3.9" ry="2.8" transform="rotate(225 223.6 99.8)" fill="#8466b2"/>
<path d="M227.8,93.7 L228.6,95.5 l2.0,0.4 M228.6,95.5 l-0.9,1.8" stroke="#c8302c" stroke-width="1.3" fill="none" stroke-linecap="round"/>
<path d="M258.0,111.5 L256.1,111.7 l-1.1,1.7 M256.1,111.7 l-1.3,-1.5" stroke="#c8302c" stroke-width="1.3" fill="none" stroke-linecap="round"/>
<path d="M222.3,128.6 L223.6,127.1 l-0.4,-2.0 M223.6,127.1 l2.0,0.2" stroke="#c8302c" stroke-width="1.3" fill="none" stroke-linecap="round"/>
<path d="M249.0,130.4 L247.9,128.8 l-2.0,-0.1 M247.9,128.8 l0.6,-1.9" stroke="#c8302c" stroke-width="1.3" fill="none" stroke-linecap="round"/>
<line x1="239.8" y1="110.0" x2="237.4" y2="111.3" stroke="#57287e" stroke-width="0.9"/><line x1="237.4" y1="111.3" x2="235.6" y2="109.3" stroke="#57287e" stroke-width="0.9"/><line x1="237.4" y1="111.3" x2="238.9" y2="109.1" stroke="#57287e" stroke-width="0.9"/><line x1="238.9" y1="109.1" x2="239.9" y2="106.5" stroke="#57287e" stroke-width="0.9"/><line x1="239.9" y1="106.5" x2="241.0" y2="109.0" stroke="#57287e" stroke-width="0.9"/><circle cx="239.8" cy="110.0" r="1.10" fill="#57287e"/><circle cx="237.4" cy="111.3" r="1.10" fill="#57287e"/><circle cx="235.6" cy="109.3" r="1.10" fill="#57287e"/><circle cx="238.9" cy="109.1" r="1.10" fill="#57287e"/><circle cx="239.9" cy="106.5" r="1.10" fill="#57287e"/><circle cx="241.0" cy="109.0" r="1.10" fill="#57287e"/>
<line x1="231.8" y1="107.0" x2="232.4" y2="104.6" stroke="#57287e" stroke-width="0.9"/><line x1="231.8" y1="107.0" x2="230.1" y2="108.8" stroke="#57287e" stroke-width="0.9"/><circle cx="231.8" cy="107.0" r="1.00" fill="#57287e"/><circle cx="232.4" cy="104.6" r="1.00" fill="#57287e"/><circle cx="230.1" cy="108.8" r="1.00" fill="#57287e"/>
<line x1="228.8" y1="116.0" x2="231.0" y2="117.0" stroke="#b9a6d3" stroke-width="0.9"/><line x1="228.8" y1="116.0" x2="231.0" y2="114.8" stroke="#b9a6d3" stroke-width="0.9"/><line x1="231.0" y1="114.8" x2="233.4" y2="115.5" stroke="#b9a6d3" stroke-width="0.9"/><circle cx="228.8" cy="116.0" r="1.00" fill="#b9a6d3"/><circle cx="231.0" cy="117.0" r="1.00" fill="#b9a6d3"/><circle cx="231.0" cy="114.8" r="1.00" fill="#b9a6d3"/><circle cx="233.4" cy="115.5" r="1.00" fill="#b9a6d3"/>
<line x1="241.8" y1="119.0" x2="240.0" y2="117.4" stroke="#b9a6d3" stroke-width="0.9"/><line x1="241.8" y1="119.0" x2="244.2" y2="118.3" stroke="#b9a6d3" stroke-width="0.9"/><line x1="244.2" y1="118.3" x2="241.7" y2="118.4" stroke="#b9a6d3" stroke-width="0.9"/><circle cx="241.8" cy="119.0" r="1.00" fill="#b9a6d3"/><circle cx="240.0" cy="117.4" r="1.00" fill="#b9a6d3"/><circle cx="244.2" cy="118.3" r="1.00" fill="#b9a6d3"/><circle cx="241.7" cy="118.4" r="1.00" fill="#b9a6d3"/>
<line x1="235.8" y1="103.0" x2="234.5" y2="101.2" stroke="#b9a6d3" stroke-width="0.8"/><line x1="234.5" y1="101.2" x2="236.7" y2="101.5" stroke="#b9a6d3" stroke-width="0.8"/><circle cx="235.8" cy="103.0" r="0.89" fill="#b9a6d3"/><circle cx="234.5" cy="101.2" r="0.89" fill="#b9a6d3"/><circle cx="236.7" cy="101.5" r="0.89" fill="#b9a6d3"/>
</g>
<g opacity="1.0">
<path d="M338.6,110.5L335.5,110.5M334.2,110.5L329.6,110.5M338.6,111.9L335.4,111.7M334.2,111.7L329.6,111.4M338.5,113.2L335.3,112.9M334.1,112.8L329.5,112.3M338.3,114.6L335.2,114.1M334.0,113.9L329.4,113.3M338.1,115.9L335.0,115.3M333.8,115.1L329.2,114.2M337.8,117.3L334.7,116.5M333.6,116.2L329.0,115.1M337.4,118.6L334.4,117.7M333.2,117.3L328.8,116.0M337.0,119.9L334.0,118.8M332.9,118.4L328.5,116.9M336.5,121.1L333.6,119.9M332.5,119.5L328.2,117.7M336.0,122.4L333.1,121.0M332.0,120.5L327.8,118.6M335.3,123.6L332.6,122.1M331.5,121.6L327.4,119.4M334.7,124.8L332.0,123.2M330.9,122.6L326.9,120.2M334.0,125.9L331.3,124.2M330.3,123.5L326.4,121.0M333.2,127.1L330.6,125.2M329.7,124.5L325.9,121.7M332.3,128.1L329.9,126.2M329.0,125.4L325.4,122.5M331.5,129.2L329.1,127.1M328.2,126.3L324.8,123.2M330.5,130.2L328.3,128.0M327.4,127.1L324.1,123.9M329.5,131.1L327.4,128.8M326.6,127.9L323.5,124.5M328.5,132.0L326.5,129.6M325.7,128.7L322.8,125.1M327.4,132.9L325.5,130.4M324.8,129.4L322.0,125.7M326.3,133.7L324.6,131.1M323.9,130.1L321.3,126.2M325.2,134.4L323.5,131.7M322.9,130.7L320.5,126.7M324.0,135.1L322.5,132.3M321.9,131.3L319.7,127.2M322.8,135.7L321.4,132.9M320.9,131.8L318.9,127.6M321.6,136.3L320.3,133.4M319.8,132.3L318.0,128.0M320.3,136.8L319.2,133.8M318.8,132.7L317.2,128.3M319.0,137.2L318.0,134.2M317.7,133.1L316.3,128.6M317.7,137.6L316.9,134.5M316.6,133.4L315.4,128.9M316.4,137.9L315.7,134.8M315.5,133.6L314.5,129.1M315.0,138.1L314.5,135.0M314.3,133.9L313.6,129.3M313.7,138.3L313.3,135.2M313.2,134.0L312.7,129.4M312.3,138.4L312.1,135.3M312.0,134.1L311.8,129.5M310.9,138.5L310.9,135.3M310.9,134.1L310.8,129.5M309.6,138.5L309.7,135.3M309.7,134.1L309.9,129.5M308.2,138.4L308.5,135.3M308.6,134.1L309.0,129.4M306.9,138.2L307.3,135.1M307.4,133.9L308.1,129.3M305.5,138.0L306.1,134.9M306.3,133.8L307.1,129.2M304.2,137.8L304.9,134.7M305.2,133.5L306.2,129.0M302.9,137.4L303.7,134.4M304.1,133.2L305.3,128.8M295.4,134.0L297.1,131.4M297.8,130.4L300.3,126.5M294.3,133.3L296.1,130.7M296.8,129.7L299.5,126.0M293.2,132.5L295.2,130.0M295.9,129.0L298.8,125.4M292.2,131.6L294.2,129.2M295.0,128.3L298.1,124.8M291.2,130.7L293.4,128.4M294.2,127.5L297.4,124.2M290.2,129.7L292.5,127.5M293.4,126.7L296.8,123.5M289.3,128.7L291.7,126.6M292.6,125.8L296.1,122.8M288.4,127.6L290.9,125.7M291.9,125.0L295.6,122.1M287.6,126.5L290.2,124.7M291.2,124.0L295.0,121.4M286.9,125.4L289.5,123.7M290.6,123.1L294.5,120.6M286.2,124.2L288.9,122.7M290.0,122.1L294.0,119.8M285.5,123.0L288.4,121.6M289.4,121.1L293.6,119.0M285.0,121.8L287.8,120.5M288.9,120.0L293.2,118.1M284.4,120.5L287.4,119.4M288.5,118.9L292.9,117.3M284.0,119.2L287.0,118.2M288.1,117.9L292.5,116.4M283.6,117.9L286.6,117.1M287.8,116.8L292.3,115.5M283.3,116.6L286.3,115.9M287.5,115.6L292.1,114.6M283.0,115.3L286.1,114.7M287.3,114.5L291.9,113.7M282.8,113.9L285.9,113.5M287.1,113.4L291.7,112.8M282.7,112.5L285.8,112.3M287.0,112.2L291.7,111.9M282.6,111.2L285.8,111.1M287.0,111.1L291.6,111.0M282.6,109.8L285.8,109.9M287.0,109.9L291.6,110.0M282.7,108.5L285.8,108.7M287.0,108.8L291.7,109.1M282.8,107.1L285.9,107.5M287.1,107.6L291.7,108.2M283.0,105.7L286.1,106.3M287.3,106.5L291.9,107.3M283.3,104.4L286.3,105.1M287.5,105.4L292.1,106.4M283.6,103.1L286.6,103.9M287.8,104.2L292.3,105.5M284.0,101.8L287.0,102.8M288.1,103.1L292.5,104.6M284.4,100.5L287.4,101.6M288.5,102.1L292.9,103.7M285.0,99.2L287.8,100.5M288.9,101.0L293.2,102.9M285.5,98.0L288.4,99.4M289.4,99.9L293.6,102.0M286.2,96.8L288.9,98.3M290.0,98.9L294.0,101.2M286.9,95.6L289.5,97.3M290.6,97.9L294.5,100.4M287.6,94.5L290.2,96.3M291.2,97.0L295.0,99.6M288.4,93.4L290.9,95.3M291.9,96.0L295.6,98.9M289.3,92.3L291.7,94.4M292.6,95.2L296.1,98.2M290.2,91.3L292.5,93.5M293.4,94.3L296.8,97.5M291.2,90.3L293.4,92.6M294.2,93.5L297.4,96.8M292.2,89.4L294.2,91.8M295.0,92.7L298.1,96.2M293.2,88.5L295.2,91.0M295.9,92.0L298.8,95.6M294.3,87.7L296.1,90.3M296.8,91.3L299.5,95.0M295.4,87.0L297.1,89.6M297.8,90.6L300.3,94.5M296.6,86.3L298.2,89.0M298.8,90.0L301.1,94.0M297.8,85.6L299.2,88.4M299.8,89.5L301.9,93.6M299.0,85.0L300.3,87.9M300.8,89.0L302.7,93.2M300.3,84.5L301.4,87.4M301.9,88.5L303.6,92.8M301.6,84.0L302.6,87.0M303.0,88.1L304.5,92.5M309.6,82.5L309.7,85.7M309.7,86.9L309.9,91.5M310.9,82.5L310.9,85.7M310.9,86.9L310.8,91.5M312.3,82.6L312.1,85.7M312.0,86.9L311.8,91.5M313.7,82.7L313.3,85.8M313.2,87.0L312.7,91.6M315.0,82.9L314.5,86.0M314.3,87.1L313.6,91.7M316.4,83.1L315.7,86.2M315.5,87.4L314.5,91.9M317.7,83.4L316.9,86.5M316.6,87.6L315.4,92.1M319.0,83.8L318.0,86.8M317.7,87.9L316.3,92.4M320.3,84.2L319.2,87.2M318.8,88.3L317.2,92.7M321.6,84.7L320.3,87.6M319.8,88.7L318.0,93.0M322.8,85.3L321.4,88.1M320.9,89.2L318.9,93.4M324.0,85.9L322.5,88.7M321.9,89.7L319.7,93.8M325.2,86.6L323.5,89.3M322.9,90.3L320.5,94.3M326.3,87.3L324.6,89.9M323.9,90.9L321.3,94.8M327.4,88.1L325.5,90.6M324.8,91.6L322.0,95.3M328.5,89.0L326.5,91.4M325.7,92.3L322.8,95.9M329.5,89.9L327.4,92.2M326.6,93.1L323.5,96.5M330.5,90.8L328.3,93.0M327.4,93.9L324.1,97.1M331.5,91.8L329.1,93.9M328.2,94.7L324.8,97.8M332.3,92.9L329.9,94.8M329.0,95.6L325.4,98.5M336.0,98.6L333.1,100.0M332.0,100.5L327.8,102.4M336.5,99.9L333.6,101.1M332.5,101.5L328.2,103.3M337.0,101.1L334.0,102.2M332.9,102.6L328.5,104.1M337.4,102.4L334.4,103.3M333.2,103.7L328.8,105.0M337.8,103.7L334.7,104.5M333.6,104.8L329.0,105.9M338.1,105.1L335.0,105.7M333.8,105.9L329.2,106.8M338.3,106.4L335.2,106.9M334.0,107.1L329.4,107.7M338.5,107.8L335.3,108.1M334.1,108.2L329.5,108.7M338.6,109.1L335.4,109.3M334.2,109.3L329.6,109.6" stroke="#b4b4b4" stroke-width="0.65" fill="none"/>
<circle cx="340.0" cy="110.5" r="1.45" fill="#f8bb82"/>
<circle cx="339.9" cy="113.1" r="1.45" fill="#f8bb82"/>
<circle cx="339.5" cy="115.7" r="1.45" fill="#f8bb82"/>
<circle cx="339.0" cy="118.2" r="1.45" fill="#f8bb82"/>
<circle cx="338.2" cy="120.7" r="1.45" fill="#f8bb82"/>
<circle cx="337.2" cy="123.1" r="1.45" fill="#f8bb82"/>
<circle cx="336.0" cy="125.4" r="1.45" fill="#f8bb82"/>
<circle cx="334.5" cy="127.6" r="1.45" fill="#f8bb82"/>
<circle cx="332.9" cy="129.6" r="1.45" fill="#f8bb82"/>
<circle cx="331.2" cy="131.5" r="1.45" fill="#f8bb82"/>
<circle cx="329.2" cy="133.3" r="1.45" fill="#f8bb82"/>
<circle cx="327.1" cy="134.8" r="1.45" fill="#f8bb82"/>
<circle cx="324.9" cy="136.2" r="1.45" fill="#f8bb82"/>
<circle cx="322.6" cy="137.3" r="1.45" fill="#f8bb82"/>
<circle cx="320.2" cy="138.3" r="1.45" fill="#f8bb82"/>
<circle cx="317.7" cy="139.0" r="1.45" fill="#f8bb82"/>
<circle cx="315.1" cy="139.5" r="1.45" fill="#f8bb82"/>
<circle cx="312.5" cy="139.8" r="1.45" fill="#f8bb82"/>
<circle cx="309.9" cy="139.9" r="1.45" fill="#f8bb82"/>
<circle cx="307.4" cy="139.7" r="1.45" fill="#f8bb82"/>
<circle cx="304.8" cy="139.3" r="1.45" fill="#f8bb82"/>
<circle cx="302.3" cy="138.7" r="1.45" fill="#f8bb82"/>
<circle cx="299.8" cy="137.8" r="1.45" fill="#f8bb82"/>
<circle cx="297.4" cy="136.8" r="1.45" fill="#f8bb82"/>
<circle cx="295.2" cy="135.5" r="1.45" fill="#f8bb82"/>
<circle cx="293.0" cy="134.1" r="1.45" fill="#f8bb82"/>
<circle cx="291.0" cy="132.4" r="1.45" fill="#f8bb82"/>
<circle cx="289.1" cy="130.6" r="1.45" fill="#f8bb82"/>
<circle cx="287.4" cy="128.6" r="1.45" fill="#f8bb82"/>
<circle cx="285.9" cy="126.5" r="1.45" fill="#f8bb82"/>
<circle cx="284.6" cy="124.3" r="1.45" fill="#f8bb82"/>
<circle cx="283.5" cy="121.9" r="1.45" fill="#f8bb82"/>
<circle cx="282.6" cy="119.5" r="1.45" fill="#f8bb82"/>
<circle cx="281.9" cy="117.0" r="1.45" fill="#f8bb82"/>
<circle cx="281.5" cy="114.4" r="1.45" fill="#f8bb82"/>
<circle cx="281.2" cy="111.8" r="1.45" fill="#f8bb82"/>
<circle cx="281.2" cy="109.2" r="1.45" fill="#f8bb82"/>
<circle cx="281.5" cy="106.6" r="1.45" fill="#f8bb82"/>
<circle cx="281.9" cy="104.0" r="1.45" fill="#f8bb82"/>
<circle cx="282.6" cy="101.5" r="1.45" fill="#f8bb82"/>
<circle cx="283.5" cy="99.1" r="1.45" fill="#f8bb82"/>
<circle cx="284.6" cy="96.7" r="1.45" fill="#f8bb82"/>
<circle cx="285.9" cy="94.5" r="1.45" fill="#f8bb82"/>
<circle cx="287.4" cy="92.4" r="1.45" fill="#f8bb82"/>
<circle cx="289.1" cy="90.4" r="1.45" fill="#f8bb82"/>
<circle cx="291.0" cy="88.6" r="1.45" fill="#f8bb82"/>
<circle cx="293.0" cy="86.9" r="1.45" fill="#f8bb82"/>
<circle cx="295.2" cy="85.5" r="1.45" fill="#f8bb82"/>
<circle cx="297.4" cy="84.2" r="1.45" fill="#f8bb82"/>
<circle cx="299.8" cy="83.2" r="1.45" fill="#f8bb82"/>
<circle cx="302.3" cy="82.3" r="1.45" fill="#f8bb82"/>
<circle cx="304.8" cy="81.7" r="1.45" fill="#f8bb82"/>
<circle cx="307.4" cy="81.3" r="1.45" fill="#f8bb82"/>
<circle cx="309.9" cy="81.1" r="1.45" fill="#f8bb82"/>
<circle cx="312.5" cy="81.2" r="1.45" fill="#f8bb82"/>
<circle cx="315.1" cy="81.5" r="1.45" fill="#f8bb82"/>
<circle cx="317.7" cy="82.0" r="1.45" fill="#f8bb82"/>
<circle cx="320.2" cy="82.7" r="1.45" fill="#f8bb82"/>
<circle cx="322.6" cy="83.7" r="1.45" fill="#f8bb82"/>
<circle cx="324.9" cy="84.8" r="1.45" fill="#f8bb82"/>
<circle cx="327.1" cy="86.2" r="1.45" fill="#f8bb82"/>
<circle cx="329.2" cy="87.7" r="1.45" fill="#f8bb82"/>
<circle cx="331.2" cy="89.5" r="1.45" fill="#f8bb82"/>
<circle cx="332.9" cy="91.4" r="1.45" fill="#f8bb82"/>
<circle cx="334.5" cy="93.4" r="1.45" fill="#f8bb82"/>
<circle cx="336.0" cy="95.6" r="1.45" fill="#f8bb82"/>
<circle cx="337.2" cy="97.9" r="1.45" fill="#f8bb82"/>
<circle cx="338.2" cy="100.3" r="1.45" fill="#f8bb82"/>
<circle cx="339.0" cy="102.8" r="1.45" fill="#f8bb82"/>
<circle cx="339.5" cy="105.3" r="1.45" fill="#f8bb82"/>
<circle cx="339.9" cy="107.9" r="1.45" fill="#f8bb82"/>
<circle cx="328.9" cy="110.5" r="0.85" fill="#d8d8d8"/>
<circle cx="328.7" cy="113.0" r="0.85" fill="#d8d8d8"/>
<circle cx="328.2" cy="115.5" r="0.85" fill="#d8d8d8"/>
<circle cx="327.3" cy="117.9" r="0.85" fill="#d8d8d8"/>
<circle cx="326.1" cy="120.2" r="0.85" fill="#d8d8d8"/>
<circle cx="324.6" cy="122.3" r="0.85" fill="#d8d8d8"/>
<circle cx="322.8" cy="124.1" r="0.85" fill="#d8d8d8"/>
<circle cx="320.8" cy="125.7" r="0.85" fill="#d8d8d8"/>
<circle cx="318.6" cy="126.9" r="0.85" fill="#d8d8d8"/>
<circle cx="316.3" cy="127.9" r="0.85" fill="#d8d8d8"/>
<circle cx="313.8" cy="128.5" r="0.85" fill="#d8d8d8"/>
<circle cx="311.2" cy="128.8" r="0.85" fill="#d8d8d8"/>
<circle cx="308.7" cy="128.7" r="0.85" fill="#d8d8d8"/>
<circle cx="306.2" cy="128.3" r="0.85" fill="#d8d8d8"/>
<circle cx="303.7" cy="127.5" r="0.85" fill="#d8d8d8"/>
<circle cx="301.5" cy="126.3" r="0.85" fill="#d8d8d8"/>
<circle cx="299.3" cy="124.9" r="0.85" fill="#d8d8d8"/>
<circle cx="297.4" cy="123.2" r="0.85" fill="#d8d8d8"/>
<circle cx="295.8" cy="121.3" r="0.85" fill="#d8d8d8"/>
<circle cx="294.4" cy="119.1" r="0.85" fill="#d8d8d8"/>
<circle cx="293.4" cy="116.8" r="0.85" fill="#d8d8d8"/>
<circle cx="292.7" cy="114.3" r="0.85" fill="#d8d8d8"/>
<circle cx="292.3" cy="111.8" r="0.85" fill="#d8d8d8"/>
<circle cx="292.3" cy="109.2" r="0.85" fill="#d8d8d8"/>
<circle cx="292.7" cy="106.7" r="0.85" fill="#d8d8d8"/>
<circle cx="293.4" cy="104.2" r="0.85" fill="#d8d8d8"/>
<circle cx="294.4" cy="101.9" r="0.85" fill="#d8d8d8"/>
<circle cx="295.8" cy="99.7" r="0.85" fill="#d8d8d8"/>
<circle cx="297.4" cy="97.8" r="0.85" fill="#d8d8d8"/>
<circle cx="299.3" cy="96.1" r="0.85" fill="#d8d8d8"/>
<circle cx="301.4" cy="94.7" r="0.85" fill="#d8d8d8"/>
<circle cx="303.7" cy="93.5" r="0.85" fill="#d8d8d8"/>
<circle cx="306.2" cy="92.7" r="0.85" fill="#d8d8d8"/>
<circle cx="308.7" cy="92.3" r="0.85" fill="#d8d8d8"/>
<circle cx="311.2" cy="92.2" r="0.85" fill="#d8d8d8"/>
<circle cx="313.8" cy="92.5" r="0.85" fill="#d8d8d8"/>
<circle cx="316.3" cy="93.1" r="0.85" fill="#d8d8d8"/>
<circle cx="318.6" cy="94.1" r="0.85" fill="#d8d8d8"/>
<circle cx="320.8" cy="95.3" r="0.85" fill="#d8d8d8"/>
<circle cx="322.8" cy="96.9" r="0.85" fill="#d8d8d8"/>
<circle cx="324.6" cy="98.7" r="0.85" fill="#d8d8d8"/>
<circle cx="326.1" cy="100.8" r="0.85" fill="#d8d8d8"/>
<circle cx="327.3" cy="103.1" r="0.85" fill="#d8d8d8"/>
<circle cx="328.2" cy="105.5" r="0.85" fill="#d8d8d8"/>
<circle cx="328.7" cy="108.0" r="0.85" fill="#d8d8d8"/>
<ellipse cx="305.6" cy="84.7" rx="5.1" ry="3.6" transform="rotate(-101 305.6 84.7)" fill="#8466b2"/>
<ellipse cx="332.9" cy="96.6" rx="5.1" ry="3.6" transform="rotate(-32 332.9 96.6)" fill="#8466b2"/>
<ellipse cx="299.9" cy="134.5" rx="5.1" ry="3.6" transform="rotate(114 299.9 134.5)" fill="#8466b2"/>
<path d="M294.7,85.1 L295.8,86.8 l2.0,0.2 M295.8,86.8 l-0.7,1.9" stroke="#c8302c" stroke-width="1.3" fill="none" stroke-linecap="round"/>
<path d="M340.6,108.9 L338.6,109.0 l-1.1,1.7 M338.6,109.0 l-1.3,-1.5" stroke="#c8302c" stroke-width="1.3" fill="none" stroke-linecap="round"/>
<path d="M289.4,131.7 L290.8,130.3 l-0.3,-2.0 M290.8,130.3 l2.0,0.3" stroke="#c8302c" stroke-width="1.3" fill="none" stroke-linecap="round"/>
<path d="M324.7,137.0 L323.7,135.2 l-2.0,-0.3 M323.7,135.2 l0.8,-1.8" stroke="#c8302c" stroke-width="1.3" fill="none" stroke-linecap="round"/>
<line x1="310.1" y1="104.5" x2="310.2" y2="107.6" stroke="#57287e" stroke-width="1.1"/><line x1="310.2" y1="107.6" x2="311.5" y2="110.5" stroke="#57287e" stroke-width="1.1"/><line x1="310.1" y1="104.5" x2="309.9" y2="101.4" stroke="#57287e" stroke-width="1.1"/><line x1="311.5" y1="110.5" x2="312.3" y2="107.5" stroke="#57287e" stroke-width="1.1"/><line x1="310.1" y1="104.5" x2="310.5" y2="107.6" stroke="#57287e" stroke-width="1.1"/><line x1="310.1" y1="104.5" x2="308.8" y2="107.3" stroke="#57287e" stroke-width="1.1"/><circle cx="310.1" cy="104.5" r="1.26" fill="#57287e"/><circle cx="310.2" cy="107.6" r="1.26" fill="#57287e"/><circle cx="311.5" cy="110.5" r="1.26" fill="#57287e"/><circle cx="309.9" cy="101.4" r="1.26" fill="#57287e"/><circle cx="312.3" cy="107.5" r="1.26" fill="#57287e"/><circle cx="310.5" cy="107.6" r="1.26" fill="#57287e"/><circle cx="308.8" cy="107.3" r="1.26" fill="#57287e"/>
<line x1="301.6" y1="112.5" x2="304.1" y2="111.4" stroke="#57287e" stroke-width="0.9"/><line x1="304.1" y1="111.4" x2="303.4" y2="108.7" stroke="#57287e" stroke-width="0.9"/><circle cx="301.6" cy="112.5" r="1.10" fill="#57287e"/><circle cx="304.1" cy="111.4" r="1.10" fill="#57287e"/><circle cx="303.4" cy="108.7" r="1.10" fill="#57287e"/>
<line x1="319.6" y1="109.5" x2="317.2" y2="108.2" stroke="#b9a6d3" stroke-width="0.9"/><line x1="319.6" y1="109.5" x2="317.3" y2="108.0" stroke="#b9a6d3" stroke-width="0.9"/><line x1="317.2" y1="108.2" x2="314.8" y2="109.5" stroke="#b9a6d3" stroke-width="0.9"/><line x1="317.2" y1="108.2" x2="318.8" y2="106.0" stroke="#b9a6d3" stroke-width="0.9"/><circle cx="319.6" cy="109.5" r="1.10" fill="#b9a6d3"/><circle cx="317.2" cy="108.2" r="1.10" fill="#b9a6d3"/><circle cx="317.3" cy="108.0" r="1.10" fill="#b9a6d3"/><circle cx="314.8" cy="109.5" r="1.10" fill="#b9a6d3"/><circle cx="318.8" cy="106.0" r="1.10" fill="#b9a6d3"/>
<line x1="311.6" y1="115.5" x2="310.8" y2="113.2" stroke="#b9a6d3" stroke-width="0.9"/><line x1="310.8" y1="113.2" x2="310.7" y2="115.6" stroke="#b9a6d3" stroke-width="0.9"/><line x1="310.8" y1="113.2" x2="309.9" y2="115.4" stroke="#b9a6d3" stroke-width="0.9"/><circle cx="311.6" cy="115.5" r="1.00" fill="#b9a6d3"/><circle cx="310.8" cy="113.2" r="1.00" fill="#b9a6d3"/><circle cx="310.7" cy="115.6" r="1.00" fill="#b9a6d3"/><circle cx="309.9" cy="115.4" r="1.00" fill="#b9a6d3"/>
<line x1="309.6" y1="123.5" x2="309.1" y2="125.9" stroke="#b9a6d3" stroke-width="0.9"/><line x1="309.1" y1="125.9" x2="307.9" y2="123.8" stroke="#b9a6d3" stroke-width="0.9"/><circle cx="309.6" cy="123.5" r="1.00" fill="#b9a6d3"/><circle cx="309.1" cy="125.9" r="1.00" fill="#b9a6d3"/><circle cx="307.9" cy="123.8" r="1.00" fill="#b9a6d3"/>
<line x1="300.6" y1="105.5" x2="298.4" y2="106.5" stroke="#b9a6d3" stroke-width="0.9"/><line x1="298.4" y1="106.5" x2="295.9" y2="106.0" stroke="#b9a6d3" stroke-width="0.9"/><circle cx="300.6" cy="105.5" r="1.00" fill="#b9a6d3"/><circle cx="298.4" cy="106.5" r="1.00" fill="#b9a6d3"/><circle cx="295.9" cy="106.0" r="1.00" fill="#b9a6d3"/>
</g><g opacity="0.72">
<path d="M256.1,195.0L254.3,195.0M253.1,195.0L249.8,195.0M256.1,196.3L254.3,196.2M253.1,196.1L249.8,195.9M255.9,197.6L254.1,197.4M253.0,197.2L249.7,196.8M255.7,198.9L253.9,198.5M252.8,198.3L249.5,197.6M255.4,200.2L253.7,199.7M252.5,199.4L249.3,198.5M255.0,201.4L253.3,200.8M252.2,200.4L249.1,199.3M254.5,202.6L252.9,201.9M251.8,201.4L248.7,200.1M250.1,209.0L248.9,207.7M248.0,206.8L245.8,204.4M249.1,209.9L248.0,208.5M247.2,207.5L245.1,205.0M248.1,210.7L247.0,209.2M246.3,208.2L244.4,205.5M247.0,211.4L246.1,209.9M245.4,208.8L243.7,206.0M245.9,212.0L245.0,210.4M244.5,209.4L242.9,206.5M244.7,212.6L244.0,211.0M243.5,209.9L242.1,206.9M243.5,213.1L242.9,211.4M242.5,210.3L241.3,207.2M237.1,214.3L237.1,212.5M237.1,211.3L237.0,208.0M235.8,214.3L235.9,212.5M236.0,211.3L236.1,208.0M234.5,214.2L234.7,212.4M234.9,211.2L235.3,207.9M233.2,214.0L233.6,212.2M233.8,211.0L234.4,207.8M232.0,213.7L232.4,211.9M232.7,210.8L233.5,207.6M225.0,210.3L226.1,208.8M226.8,207.9L228.8,205.3M224.0,209.4L225.2,208.1M226.0,207.2L228.2,204.7M223.0,208.5L224.3,207.3M225.2,206.4L227.5,204.1M222.2,207.6L223.5,206.4M224.4,205.6L226.9,203.5M221.3,206.6L222.8,205.5M223.7,204.8L226.4,202.8M218.4,200.8L220.1,200.2M221.2,199.9L224.4,198.9M218.0,199.5L219.8,199.1M221.0,198.8L224.2,198.0M217.8,198.2L219.5,197.9M220.7,197.7L224.0,197.2M217.6,197.0L219.4,196.8M220.6,196.6L223.9,196.3M217.5,195.7L219.3,195.6M220.5,195.6L223.8,195.4M218.8,188.0L220.5,188.6M221.6,189.1L224.7,190.3M219.3,186.8L221.0,187.6M222.0,188.1L225.0,189.5M219.9,185.6L221.5,186.5M222.5,187.1L225.4,188.7M220.6,184.5L222.1,185.5M223.1,186.1L225.9,187.9M226.0,179.0L227.0,180.5M227.7,181.5L229.6,184.2M227.2,178.3L228.1,179.8M228.7,180.9L230.3,183.7M228.3,177.7L229.1,179.3M229.6,180.4L231.1,183.3M229.5,177.1L230.2,178.8M230.6,179.9L231.9,183.0M237.1,175.7L237.1,177.5M237.1,178.7L237.0,182.0M238.4,175.8L238.3,177.6M238.2,178.8L237.9,182.0M239.7,175.9L239.4,177.7M239.3,178.9L238.8,182.1M241.0,176.2L240.6,177.9M240.4,179.1L239.6,182.3M248.1,179.3L247.0,180.8M246.3,181.8L244.4,184.5M249.1,180.1L248.0,181.5M247.2,182.5L245.1,185.0M250.1,181.0L248.9,182.3M248.0,183.2L245.8,185.6M251.0,181.9L249.7,183.2M248.8,184.0L246.4,186.2M255.0,188.6L253.3,189.2M252.2,189.6L249.1,190.7M255.4,189.8L253.7,190.3M252.5,190.6L249.3,191.5M255.7,191.1L253.9,191.5M252.8,191.7L249.5,192.4M255.9,192.4L254.1,192.6M253.0,192.8L249.7,193.2M256.1,193.7L254.3,193.8M253.1,193.9L249.8,194.1" stroke="#b4b4b4" stroke-width="0.65" fill="none"/>
<circle cx="257.5" cy="195.0" r="1.45" fill="#f8bb82"/>
<circle cx="257.3" cy="197.6" r="1.45" fill="#f8bb82"/>
<circle cx="256.8" cy="200.1" r="1.45" fill="#f8bb82"/>
<circle cx="256.0" cy="202.6" r="1.45" fill="#f8bb82"/>
<circle cx="254.9" cy="205.0" r="1.45" fill="#f8bb82"/>
<circle cx="253.5" cy="207.2" r="1.45" fill="#f8bb82"/>
<circle cx="251.9" cy="209.2" r="1.45" fill="#f8bb82"/>
<circle cx="250.0" cy="210.9" r="1.45" fill="#f8bb82"/>
<circle cx="247.9" cy="212.5" r="1.45" fill="#f8bb82"/>
<circle cx="245.6" cy="213.7" r="1.45" fill="#f8bb82"/>
<circle cx="243.2" cy="214.7" r="1.45" fill="#f8bb82"/>
<circle cx="240.7" cy="215.3" r="1.45" fill="#f8bb82"/>
<circle cx="238.1" cy="215.7" r="1.45" fill="#f8bb82"/>
<circle cx="235.5" cy="215.7" r="1.45" fill="#f8bb82"/>
<circle cx="232.9" cy="215.3" r="1.45" fill="#f8bb82"/>
<circle cx="230.4" cy="214.7" r="1.45" fill="#f8bb82"/>
<circle cx="228.0" cy="213.7" r="1.45" fill="#f8bb82"/>
<circle cx="225.7" cy="212.5" r="1.45" fill="#f8bb82"/>
<circle cx="223.6" cy="210.9" r="1.45" fill="#f8bb82"/>
<circle cx="221.7" cy="209.2" r="1.45" fill="#f8bb82"/>
<circle cx="220.1" cy="207.2" r="1.45" fill="#f8bb82"/>
<circle cx="218.7" cy="205.0" r="1.45" fill="#f8bb82"/>
<circle cx="217.6" cy="202.6" r="1.45" fill="#f8bb82"/>
<circle cx="216.8" cy="200.1" r="1.45" fill="#f8bb82"/>
<circle cx="216.3" cy="197.6" r="1.45" fill="#f8bb82"/>
<circle cx="216.1" cy="195.0" r="1.45" fill="#f8bb82"/>
<circle cx="216.3" cy="192.4" r="1.45" fill="#f8bb82"/>
<circle cx="216.8" cy="189.9" r="1.45" fill="#f8bb82"/>
<circle cx="217.6" cy="187.4" r="1.45" fill="#f8bb82"/>
<circle cx="218.7" cy="185.0" r="1.45" fill="#f8bb82"/>
<circle cx="220.1" cy="182.8" r="1.45" fill="#f8bb82"/>
<circle cx="221.7" cy="180.8" r="1.45" fill="#f8bb82"/>
<circle cx="223.6" cy="179.1" r="1.45" fill="#f8bb82"/>
<circle cx="225.7" cy="177.5" r="1.45" fill="#f8bb82"/>
<circle cx="228.0" cy="176.3" r="1.45" fill="#f8bb82"/>
<circle cx="230.4" cy="175.3" r="1.45" fill="#f8bb82"/>
<circle cx="232.9" cy="174.7" r="1.45" fill="#f8bb82"/>
<circle cx="235.5" cy="174.3" r="1.45" fill="#f8bb82"/>
<circle cx="238.1" cy="174.3" r="1.45" fill="#f8bb82"/>
<circle cx="240.7" cy="174.7" r="1.45" fill="#f8bb82"/>
<circle cx="243.2" cy="175.3" r="1.45" fill="#f8bb82"/>
<circle cx="245.6" cy="176.3" r="1.45" fill="#f8bb82"/>
<circle cx="247.9" cy="177.5" r="1.45" fill="#f8bb82"/>
<circle cx="250.0" cy="179.1" r="1.45" fill="#f8bb82"/>
<circle cx="251.9" cy="180.8" r="1.45" fill="#f8bb82"/>
<circle cx="253.5" cy="182.8" r="1.45" fill="#f8bb82"/>
<circle cx="254.9" cy="185.0" r="1.45" fill="#f8bb82"/>
<circle cx="256.0" cy="187.4" r="1.45" fill="#f8bb82"/>
<circle cx="256.8" cy="189.9" r="1.45" fill="#f8bb82"/>
<circle cx="257.3" cy="192.4" r="1.45" fill="#f8bb82"/>
<circle cx="249.1" cy="195.0" r="0.85" fill="#d8d8d8"/>
<circle cx="248.8" cy="197.6" r="0.85" fill="#d8d8d8"/>
<circle cx="248.0" cy="200.0" r="0.85" fill="#d8d8d8"/>
<circle cx="246.8" cy="202.2" r="0.85" fill="#d8d8d8"/>
<circle cx="245.0" cy="204.1" r="0.85" fill="#d8d8d8"/>
<circle cx="243.0" cy="205.7" r="0.85" fill="#d8d8d8"/>
<circle cx="240.6" cy="206.7" r="0.85" fill="#d8d8d8"/>
<circle cx="238.1" cy="207.2" r="0.85" fill="#d8d8d8"/>
<circle cx="235.5" cy="207.2" r="0.85" fill="#d8d8d8"/>
<circle cx="233.0" cy="206.7" r="0.85" fill="#d8d8d8"/>
<circle cx="230.7" cy="205.7" r="0.85" fill="#d8d8d8"/>
<circle cx="228.6" cy="204.1" r="0.85" fill="#d8d8d8"/>
<circle cx="226.8" cy="202.2" r="0.85" fill="#d8d8d8"/>
<circle cx="225.6" cy="200.0" r="0.85" fill="#d8d8d8"/>
<circle cx="224.8" cy="197.6" r="0.85" fill="#d8d8d8"/>
<circle cx="224.5" cy="195.0" r="0.85" fill="#d8d8d8"/>
<circle cx="224.8" cy="192.4" r="0.85" fill="#d8d8d8"/>
<circle cx="225.6" cy="190.0" r="0.85" fill="#d8d8d8"/>
<circle cx="226.8" cy="187.8" r="0.85" fill="#d8d8d8"/>
<circle cx="228.6" cy="185.9" r="0.85" fill="#d8d8d8"/>
<circle cx="230.7" cy="184.3" r="0.85" fill="#d8d8d8"/>
<circle cx="233.0" cy="183.3" r="0.85" fill="#d8d8d8"/>
<circle cx="235.5" cy="182.8" r="0.85" fill="#d8d8d8"/>
<circle cx="238.1" cy="182.8" r="0.85" fill="#d8d8d8"/>
<circle cx="240.6" cy="183.3" r="0.85" fill="#d8d8d8"/>
<circle cx="243.0" cy="184.3" r="0.85" fill="#d8d8d8"/>
<circle cx="245.0" cy="185.9" r="0.85" fill="#d8d8d8"/>
<circle cx="246.8" cy="187.8" r="0.85" fill="#d8d8d8"/>
<circle cx="248.0" cy="190.0" r="0.85" fill="#d8d8d8"/>
<circle cx="248.8" cy="192.4" r="0.85" fill="#d8d8d8"/>
<ellipse cx="233.2" cy="176.6" rx="3.9" ry="2.8" transform="rotate(-101 233.2 176.6)" fill="#8466b2"/>
<ellipse cx="244.4" cy="177.9" rx="3.9" ry="2.8" transform="rotate(-66 244.4 177.9)" fill="#8466b2"/>
<ellipse cx="252.8" cy="185.4" rx="3.9" ry="2.8" transform="rotate(-31 252.8 185.4)" fill="#8466b2"/>
<ellipse cx="252.1" cy="205.7" rx="3.9" ry="2.8" transform="rotate(35 252.1 205.7)" fill="#8466b2"/>
<ellipse cx="240.4" cy="213.4" rx="3.9" ry="2.8" transform="rotate(79 240.4 213.4)" fill="#8466b2"/>
<ellipse cx="228.9" cy="211.9" rx="3.9" ry="2.8" transform="rotate(115 228.9 211.9)" fill="#8466b2"/>
<ellipse cx="220.1" cy="203.5" rx="3.9" ry="2.8" transform="rotate(153 220.1 203.5)" fill="#8466b2"/>
<ellipse cx="218.4" cy="191.8" rx="3.9" ry="2.8" transform="rotate(190 218.4 191.8)" fill="#8466b2"/>
<ellipse cx="223.6" cy="181.8" rx="3.9" ry="2.8" transform="rotate(225 223.6 181.8)" fill="#8466b2"/>
<path d="M227.8,175.7 L228.6,177.5 l2.0,0.4 M228.6,177.5 l-0.9,1.8" stroke="#c8302c" stroke-width="1.3" fill="none" stroke-linecap="round"/>
<path d="M258.0,193.5 L256.1,193.7 l-1.1,1.7 M256.1,193.7 l-1.3,-1.5" stroke="#c8302c" stroke-width="1.3" fill="none" stroke-linecap="round"/>
<path d="M222.3,210.6 L223.6,209.1 l-0.4,-2.0 M223.6,209.1 l2.0,0.2" stroke="#c8302c" stroke-width="1.3" fill="none" stroke-linecap="round"/>
<path d="M249.0,212.4 L247.9,210.8 l-2.0,-0.1 M247.9,210.8 l0.6,-1.9" stroke="#c8302c" stroke-width="1.3" fill="none" stroke-linecap="round"/>
<line x1="239.8" y1="192.0" x2="241.9" y2="190.3" stroke="#57287e" stroke-width="0.9"/><line x1="239.8" y1="192.0" x2="242.5" y2="192.3" stroke="#57287e" stroke-width="0.9"/><line x1="241.9" y1="190.3" x2="239.5" y2="191.5" stroke="#57287e" stroke-width="0.9"/><line x1="242.5" y1="192.3" x2="244.4" y2="194.3" stroke="#57287e" stroke-width="0.9"/><line x1="241.9" y1="190.3" x2="241.6" y2="193.0" stroke="#57287e" stroke-width="0.9"/><circle cx="239.8" cy="192.0" r="1.10" fill="#57287e"/><circle cx="241.9" cy="190.3" r="1.10" fill="#57287e"/><circle cx="242.5" cy="192.3" r="1.10" fill="#57287e"/><circle cx="239.5" cy="191.5" r="1.10" fill="#57287e"/><circle cx="244.4" cy="194.3" r="1.10" fill="#57287e"/><circle cx="241.6" cy="193.0" r="1.10" fill="#57287e"/>
<line x1="231.8" y1="189.0" x2="232.2" y2="191.4" stroke="#57287e" stroke-width="0.9"/><line x1="232.2" y1="191.4" x2="234.3" y2="190.0" stroke="#57287e" stroke-width="0.9"/><circle cx="231.8" cy="189.0" r="1.00" fill="#57287e"/><circle cx="232.2" cy="191.4" r="1.00" fill="#57287e"/><circle cx="234.3" cy="190.0" r="1.00" fill="#57287e"/>
<line x1="228.8" y1="198.0" x2="230.9" y2="199.3" stroke="#b9a6d3" stroke-width="0.9"/><line x1="230.9" y1="199.3" x2="228.7" y2="200.4" stroke="#b9a6d3" stroke-width="0.9"/><line x1="228.7" y1="200.4" x2="227.0" y2="198.7" stroke="#b9a6d3" stroke-width="0.9"/><circle cx="228.8" cy="198.0" r="1.00" fill="#b9a6d3"/><circle cx="230.9" cy="199.3" r="1.00" fill="#b9a6d3"/><circle cx="228.7" cy="200.4" r="1.00" fill="#b9a6d3"/><circle cx="227.0" cy="198.7" r="1.00" fill="#b9a6d3"/>
<line x1="241.8" y1="201.0" x2="240.2" y2="202.9" stroke="#b9a6d3" stroke-width="0.9"/><line x1="241.8" y1="201.0" x2="242.5" y2="203.4" stroke="#b9a6d3" stroke-width="0.9"/><line x1="241.8" y1="201.0" x2="239.7" y2="199.7" stroke="#b9a6d3" stroke-width="0.9"/><circle cx="241.8" cy="201.0" r="1.00" fill="#b9a6d3"/><circle cx="240.2" cy="202.9" r="1.00" fill="#b9a6d3"/><circle cx="242.5" cy="203.4" r="1.00" fill="#b9a6d3"/><circle cx="239.7" cy="199.7" r="1.00" fill="#b9a6d3"/>
<line x1="235.8" y1="185.0" x2="234.2" y2="183.5" stroke="#b9a6d3" stroke-width="0.8"/><line x1="234.2" y1="183.5" x2="232.2" y2="182.6" stroke="#b9a6d3" stroke-width="0.8"/><circle cx="235.8" cy="185.0" r="0.89" fill="#b9a6d3"/><circle cx="234.2" cy="183.5" r="0.89" fill="#b9a6d3"/><circle cx="232.2" cy="182.6" r="0.89" fill="#b9a6d3"/>
</g>
<g opacity="0.72">
<path d="M338.6,192.5L335.5,192.5M334.2,192.5L329.6,192.5M338.6,193.9L335.4,193.7M334.2,193.7L329.6,193.4M338.5,195.2L335.3,194.9M334.1,194.8L329.5,194.3M338.3,196.6L335.2,196.1M334.0,195.9L329.4,195.3M338.1,197.9L335.0,197.3M333.8,197.1L329.2,196.2M337.8,199.3L334.7,198.5M333.6,198.2L329.0,197.1M337.4,200.6L334.4,199.7M333.2,199.3L328.8,198.0M337.0,201.9L334.0,200.8M332.9,200.4L328.5,198.9M336.5,203.1L333.6,201.9M332.5,201.5L328.2,199.7M336.0,204.4L333.1,203.0M332.0,202.5L327.8,200.6M335.3,205.6L332.6,204.1M331.5,203.6L327.4,201.4M334.7,206.8L332.0,205.2M330.9,204.6L326.9,202.2M334.0,207.9L331.3,206.2M330.3,205.5L326.4,203.0M333.2,209.1L330.6,207.2M329.7,206.5L325.9,203.7M332.3,210.1L329.9,208.2M329.0,207.4L325.4,204.5M331.5,211.2L329.1,209.1M328.2,208.3L324.8,205.2M330.5,212.2L328.3,210.0M327.4,209.1L324.1,205.9M329.5,213.1L327.4,210.8M326.6,209.9L323.5,206.5M328.5,214.0L326.5,211.6M325.7,210.7L322.8,207.1M327.4,214.9L325.5,212.4M324.8,211.4L322.0,207.7M326.3,215.7L324.6,213.1M323.9,212.1L321.3,208.2M325.2,216.4L323.5,213.7M322.9,212.7L320.5,208.7M324.0,217.1L322.5,214.3M321.9,213.3L319.7,209.2M322.8,217.7L321.4,214.9M320.9,213.8L318.9,209.6M321.6,218.3L320.3,215.4M319.8,214.3L318.0,210.0M320.3,218.8L319.2,215.8M318.8,214.7L317.2,210.3M319.0,219.2L318.0,216.2M317.7,215.1L316.3,210.6M317.7,219.6L316.9,216.5M316.6,215.4L315.4,210.9M316.4,219.9L315.7,216.8M315.5,215.6L314.5,211.1M315.0,220.1L314.5,217.0M314.3,215.9L313.6,211.3M313.7,220.3L313.3,217.2M313.2,216.0L312.7,211.4M312.3,220.4L312.1,217.3M312.0,216.1L311.8,211.5M310.9,220.5L310.9,217.3M310.9,216.1L310.8,211.5M309.6,220.5L309.7,217.3M309.7,216.1L309.9,211.5M308.2,220.4L308.5,217.3M308.6,216.1L309.0,211.4M306.9,220.2L307.3,217.1M307.4,215.9L308.1,211.3M305.5,220.0L306.1,216.9M306.3,215.8L307.1,211.2M304.2,219.8L304.9,216.7M305.2,215.5L306.2,211.0M302.9,219.4L303.7,216.4M304.1,215.2L305.3,210.8M295.4,216.0L297.1,213.4M297.8,212.4L300.3,208.5M294.3,215.3L296.1,212.7M296.8,211.7L299.5,208.0M293.2,214.5L295.2,212.0M295.9,211.0L298.8,207.4M292.2,213.6L294.2,211.2M295.0,210.3L298.1,206.8M291.2,212.7L293.4,210.4M294.2,209.5L297.4,206.2M290.2,211.7L292.5,209.5M293.4,208.7L296.8,205.5M289.3,210.7L291.7,208.6M292.6,207.8L296.1,204.8M288.4,209.6L290.9,207.7M291.9,207.0L295.6,204.1M287.6,208.5L290.2,206.7M291.2,206.0L295.0,203.4M286.9,207.4L289.5,205.7M290.6,205.1L294.5,202.6M286.2,206.2L288.9,204.7M290.0,204.1L294.0,201.8M285.5,205.0L288.4,203.6M289.4,203.1L293.6,201.0M285.0,203.8L287.8,202.5M288.9,202.0L293.2,200.1M284.4,202.5L287.4,201.4M288.5,200.9L292.9,199.3M284.0,201.2L287.0,200.2M288.1,199.9L292.5,198.4M283.6,199.9L286.6,199.1M287.8,198.8L292.3,197.5M283.3,198.6L286.3,197.9M287.5,197.6L292.1,196.6M283.0,197.3L286.1,196.7M287.3,196.5L291.9,195.7M282.8,195.9L285.9,195.5M287.1,195.4L291.7,194.8M282.7,194.5L285.8,194.3M287.0,194.2L291.7,193.9M282.6,193.2L285.8,193.1M287.0,193.1L291.6,193.0M282.6,191.8L285.8,191.9M287.0,191.9L291.6,192.0M282.7,190.5L285.8,190.7M287.0,190.8L291.7,191.1M282.8,189.1L285.9,189.5M287.1,189.6L291.7,190.2M283.0,187.7L286.1,188.3M287.3,188.5L291.9,189.3M283.3,186.4L286.3,187.1M287.5,187.4L292.1,188.4M283.6,185.1L286.6,185.9M287.8,186.2L292.3,187.5M284.0,183.8L287.0,184.8M288.1,185.1L292.5,186.6M284.4,182.5L287.4,183.6M288.5,184.1L292.9,185.7M285.0,181.2L287.8,182.5M288.9,183.0L293.2,184.9M285.5,180.0L288.4,181.4M289.4,181.9L293.6,184.0M286.2,178.8L288.9,180.3M290.0,180.9L294.0,183.2M286.9,177.6L289.5,179.3M290.6,179.9L294.5,182.4M287.6,176.5L290.2,178.3M291.2,179.0L295.0,181.6M288.4,175.4L290.9,177.3M291.9,178.0L295.6,180.9M289.3,174.3L291.7,176.4M292.6,177.2L296.1,180.2M290.2,173.3L292.5,175.5M293.4,176.3L296.8,179.5M291.2,172.3L293.4,174.6M294.2,175.5L297.4,178.8M292.2,171.4L294.2,173.8M295.0,174.7L298.1,178.2M293.2,170.5L295.2,173.0M295.9,174.0L298.8,177.6M294.3,169.7L296.1,172.3M296.8,173.3L299.5,177.0M295.4,169.0L297.1,171.6M297.8,172.6L300.3,176.5M296.6,168.3L298.2,171.0M298.8,172.0L301.1,176.0M297.8,167.6L299.2,170.4M299.8,171.5L301.9,175.6M299.0,167.0L300.3,169.9M300.8,171.0L302.7,175.2M300.3,166.5L301.4,169.4M301.9,170.5L303.6,174.8M301.6,166.0L302.6,169.0M303.0,170.1L304.5,174.5M309.6,164.5L309.7,167.7M309.7,168.9L309.9,173.5M310.9,164.5L310.9,167.7M310.9,168.9L310.8,173.5M312.3,164.6L312.1,167.7M312.0,168.9L311.8,173.5M313.7,164.7L313.3,167.8M313.2,169.0L312.7,173.6M315.0,164.9L314.5,168.0M314.3,169.1L313.6,173.7M316.4,165.1L315.7,168.2M315.5,169.4L314.5,173.9M317.7,165.4L316.9,168.5M316.6,169.6L315.4,174.1M319.0,165.8L318.0,168.8M317.7,169.9L316.3,174.4M320.3,166.2L319.2,169.2M318.8,170.3L317.2,174.7M321.6,166.7L320.3,169.6M319.8,170.7L318.0,175.0M322.8,167.3L321.4,170.1M320.9,171.2L318.9,175.4M324.0,167.9L322.5,170.7M321.9,171.7L319.7,175.8M325.2,168.6L323.5,171.3M322.9,172.3L320.5,176.3M326.3,169.3L324.6,171.9M323.9,172.9L321.3,176.8M327.4,170.1L325.5,172.6M324.8,173.6L322.0,177.3M328.5,171.0L326.5,173.4M325.7,174.3L322.8,177.9M329.5,171.9L327.4,174.2M326.6,175.1L323.5,178.5M330.5,172.8L328.3,175.0M327.4,175.9L324.1,179.1M331.5,173.8L329.1,175.9M328.2,176.7L324.8,179.8M332.3,174.9L329.9,176.8M329.0,177.6L325.4,180.5M336.0,180.6L333.1,182.0M332.0,182.5L327.8,184.4M336.5,181.9L333.6,183.1M332.5,183.5L328.2,185.3M337.0,183.1L334.0,184.2M332.9,184.6L328.5,186.1M337.4,184.4L334.4,185.3M333.2,185.7L328.8,187.0M337.8,185.7L334.7,186.5M333.6,186.8L329.0,187.9M338.1,187.1L335.0,187.7M333.8,187.9L329.2,188.8M338.3,188.4L335.2,188.9M334.0,189.1L329.4,189.7M338.5,189.8L335.3,190.1M334.1,190.2L329.5,190.7M338.6,191.1L335.4,191.3M334.2,191.3L329.6,191.6" stroke="#b4b4b4" stroke-width="0.65" fill="none"/>
<circle cx="340.0" cy="192.5" r="1.45" fill="#f8bb82"/>
<circle cx="339.9" cy="195.1" r="1.45" fill="#f8bb82"/>
<circle cx="339.5" cy="197.7" r="1.45" fill="#f8bb82"/>
<circle cx="339.0" cy="200.2" r="1.45" fill="#f8bb82"/>
<circle cx="338.2" cy="202.7" r="1.45" fill="#f8bb82"/>
<circle cx="337.2" cy="205.1" r="1.45" fill="#f8bb82"/>
<circle cx="336.0" cy="207.4" r="1.45" fill="#f8bb82"/>
<circle cx="334.5" cy="209.6" r="1.45" fill="#f8bb82"/>
<circle cx="332.9" cy="211.6" r="1.45" fill="#f8bb82"/>
<circle cx="331.2" cy="213.5" r="1.45" fill="#f8bb82"/>
<circle cx="329.2" cy="215.3" r="1.45" fill="#f8bb82"/>
<circle cx="327.1" cy="216.8" r="1.45" fill="#f8bb82"/>
<circle cx="324.9" cy="218.2" r="1.45" fill="#f8bb82"/>
<circle cx="322.6" cy="219.3" r="1.45" fill="#f8bb82"/>
<circle cx="320.2" cy="220.3" r="1.45" fill="#f8bb82"/>
<circle cx="317.7" cy="221.0" r="1.45" fill="#f8bb82"/>
<circle cx="315.1" cy="221.5" r="1.45" fill="#f8bb82"/>
<circle cx="312.5" cy="221.8" r="1.45" fill="#f8bb82"/>
<circle cx="309.9" cy="221.9" r="1.45" fill="#f8bb82"/>
<circle cx="307.4" cy="221.7" r="1.45" fill="#f8bb82"/>
<circle cx="304.8" cy="221.3" r="1.45" fill="#f8bb82"/>
<circle cx="302.3" cy="220.7" r="1.45" fill="#f8bb82"/>
<circle cx="299.8" cy="219.8" r="1.45" fill="#f8bb82"/>
<circle cx="297.4" cy="218.8" r="1.45" fill="#f8bb82"/>
<circle cx="295.2" cy="217.5" r="1.45" fill="#f8bb82"/>
<circle cx="293.0" cy="216.1" r="1.45" fill="#f8bb82"/>
<circle cx="291.0" cy="214.4" r="1.45" fill="#f8bb82"/>
<circle cx="289.1" cy="212.6" r="1.45" fill="#f8bb82"/>
<circle cx="287.4" cy="210.6" r="1.45" fill="#f8bb82"/>
<circle cx="285.9" cy="208.5" r="1.45" fill="#f8bb82"/>
<circle cx="284.6" cy="206.3" r="1.45" fill="#f8bb82"/>
<circle cx="283.5" cy="203.9" r="1.45" fill="#f8bb82"/>
<circle cx="282.6" cy="201.5" r="1.45" fill="#f8bb82"/>
<circle cx="281.9" cy="199.0" r="1.45" fill="#f8bb82"/>
<circle cx="281.5" cy="196.4" r="1.45" fill="#f8bb82"/>
<circle cx="281.2" cy="193.8" r="1.45" fill="#f8bb82"/>
<circle cx="281.2" cy="191.2" r="1.45" fill="#f8bb82"/>
<circle cx="281.5" cy="188.6" r="1.45" fill="#f8bb82"/>
<circle cx="281.9" cy="186.0" r="1.45" fill="#f8bb82"/>
<circle cx="282.6" cy="183.5" r="1.45" fill="#f8bb82"/>
<circle cx="283.5" cy="181.1" r="1.45" fill="#f8bb82"/>
<circle cx="284.6" cy="178.7" r="1.45" fill="#f8bb82"/>
<circle cx="285.9" cy="176.5" r="1.45" fill="#f8bb82"/>
<circle cx="287.4" cy="174.4" r="1.45" fill="#f8bb82"/>
<circle cx="289.1" cy="172.4" r="1.45" fill="#f8bb82"/>
<circle cx="291.0" cy="170.6" r="1.45" fill="#f8bb82"/>
<circle cx="293.0" cy="168.9" r="1.45" fill="#f8bb82"/>
<circle cx="295.2" cy="167.5" r="1.45" fill="#f8bb82"/>
<circle cx="297.4" cy="166.2" r="1.45" fill="#f8bb82"/>
<circle cx="299.8" cy="165.2" r="1.45" fill="#f8bb82"/>
<circle cx="302.3" cy="164.3" r="1.45" fill="#f8bb82"/>
<circle cx="304.8" cy="163.7" r="1.45" fill="#f8bb82"/>
<circle cx="307.4" cy="163.3" r="1.45" fill="#f8bb82"/>
<circle cx="309.9" cy="163.1" r="1.45" fill="#f8bb82"/>
<circle cx="312.5" cy="163.2" r="1.45" fill="#f8bb82"/>
<circle cx="315.1" cy="163.5" r="1.45" fill="#f8bb82"/>
<circle cx="317.7" cy="164.0" r="1.45" fill="#f8bb82"/>
<circle cx="320.2" cy="164.7" r="1.45" fill="#f8bb82"/>
<circle cx="322.6" cy="165.7" r="1.45" fill="#f8bb82"/>
<circle cx="324.9" cy="166.8" r="1.45" fill="#f8bb82"/>
<circle cx="327.1" cy="168.2" r="1.45" fill="#f8bb82"/>
<circle cx="329.2" cy="169.7" r="1.45" fill="#f8bb82"/>
<circle cx="331.2" cy="171.5" r="1.45" fill="#f8bb82"/>
<circle cx="332.9" cy="173.4" r="1.45" fill="#f8bb82"/>
<circle cx="334.5" cy="175.4" r="1.45" fill="#f8bb82"/>
<circle cx="336.0" cy="177.6" r="1.45" fill="#f8bb82"/>
<circle cx="337.2" cy="179.9" r="1.45" fill="#f8bb82"/>
<circle cx="338.2" cy="182.3" r="1.45" fill="#f8bb82"/>
<circle cx="339.0" cy="184.8" r="1.45" fill="#f8bb82"/>
<circle cx="339.5" cy="187.3" r="1.45" fill="#f8bb82"/>
<circle cx="339.9" cy="189.9" r="1.45" fill="#f8bb82"/>
<circle cx="328.9" cy="192.5" r="0.85" fill="#d8d8d8"/>
<circle cx="328.7" cy="195.0" r="0.85" fill="#d8d8d8"/>
<circle cx="328.2" cy="197.5" r="0.85" fill="#d8d8d8"/>
<circle cx="327.3" cy="199.9" r="0.85" fill="#d8d8d8"/>
<circle cx="326.1" cy="202.2" r="0.85" fill="#d8d8d8"/>
<circle cx="324.6" cy="204.3" r="0.85" fill="#d8d8d8"/>
<circle cx="322.8" cy="206.1" r="0.85" fill="#d8d8d8"/>
<circle cx="320.8" cy="207.7" r="0.85" fill="#d8d8d8"/>
<circle cx="318.6" cy="208.9" r="0.85" fill="#d8d8d8"/>
<circle cx="316.3" cy="209.9" r="0.85" fill="#d8d8d8"/>
<circle cx="313.8" cy="210.5" r="0.85" fill="#d8d8d8"/>
<circle cx="311.2" cy="210.8" r="0.85" fill="#d8d8d8"/>
<circle cx="308.7" cy="210.7" r="0.85" fill="#d8d8d8"/>
<circle cx="306.2" cy="210.3" r="0.85" fill="#d8d8d8"/>
<circle cx="303.7" cy="209.5" r="0.85" fill="#d8d8d8"/>
<circle cx="301.5" cy="208.3" r="0.85" fill="#d8d8d8"/>
<circle cx="299.3" cy="206.9" r="0.85" fill="#d8d8d8"/>
<circle cx="297.4" cy="205.2" r="0.85" fill="#d8d8d8"/>
<circle cx="295.8" cy="203.3" r="0.85" fill="#d8d8d8"/>
<circle cx="294.4" cy="201.1" r="0.85" fill="#d8d8d8"/>
<circle cx="293.4" cy="198.8" r="0.85" fill="#d8d8d8"/>
<circle cx="292.7" cy="196.3" r="0.85" fill="#d8d8d8"/>
<circle cx="292.3" cy="193.8" r="0.85" fill="#d8d8d8"/>
<circle cx="292.3" cy="191.2" r="0.85" fill="#d8d8d8"/>
<circle cx="292.7" cy="188.7" r="0.85" fill="#d8d8d8"/>
<circle cx="293.4" cy="186.2" r="0.85" fill="#d8d8d8"/>
<circle cx="294.4" cy="183.9" r="0.85" fill="#d8d8d8"/>
<circle cx="295.8" cy="181.7" r="0.85" fill="#d8d8d8"/>
<circle cx="297.4" cy="179.8" r="0.85" fill="#d8d8d8"/>
<circle cx="299.3" cy="178.1" r="0.85" fill="#d8d8d8"/>
<circle cx="301.4" cy="176.7" r="0.85" fill="#d8d8d8"/>
<circle cx="303.7" cy="175.5" r="0.85" fill="#d8d8d8"/>
<circle cx="306.2" cy="174.7" r="0.85" fill="#d8d8d8"/>
<circle cx="308.7" cy="174.3" r="0.85" fill="#d8d8d8"/>
<circle cx="311.2" cy="174.2" r="0.85" fill="#d8d8d8"/>
<circle cx="313.8" cy="174.5" r="0.85" fill="#d8d8d8"/>
<circle cx="316.3" cy="175.1" r="0.85" fill="#d8d8d8"/>
<circle cx="318.6" cy="176.1" r="0.85" fill="#d8d8d8"/>
<circle cx="320.8" cy="177.3" r="0.85" fill="#d8d8d8"/>
<circle cx="322.8" cy="178.9" r="0.85" fill="#d8d8d8"/>
<circle cx="324.6" cy="180.7" r="0.85" fill="#d8d8d8"/>
<circle cx="326.1" cy="182.8" r="0.85" fill="#d8d8d8"/>
<circle cx="327.3" cy="185.1" r="0.85" fill="#d8d8d8"/>
<circle cx="328.2" cy="187.5" r="0.85" fill="#d8d8d8"/>
<circle cx="328.7" cy="190.0" r="0.85" fill="#d8d8d8"/>
<ellipse cx="305.6" cy="166.7" rx="5.1" ry="3.6" transform="rotate(-101 305.6 166.7)" fill="#8466b2"/>
<ellipse cx="332.9" cy="178.6" rx="5.1" ry="3.6" transform="rotate(-32 332.9 178.6)" fill="#8466b2"/>
<ellipse cx="299.9" cy="216.5" rx="5.1" ry="3.6" transform="rotate(114 299.9 216.5)" fill="#8466b2"/>
<path d="M294.7,167.1 L295.8,168.8 l2.0,0.2 M295.8,168.8 l-0.7,1.9" stroke="#c8302c" stroke-width="1.3" fill="none" stroke-linecap="round"/>
<path d="M340.6,190.9 L338.6,191.0 l-1.1,1.7 M338.6,191.0 l-1.3,-1.5" stroke="#c8302c" stroke-width="1.3" fill="none" stroke-linecap="round"/>
<path d="M289.4,213.7 L290.8,212.3 l-0.3,-2.0 M290.8,212.3 l2.0,0.3" stroke="#c8302c" stroke-width="1.3" fill="none" stroke-linecap="round"/>
<path d="M324.7,219.0 L323.7,217.2 l-2.0,-0.3 M323.7,217.2 l0.8,-1.8" stroke="#c8302c" stroke-width="1.3" fill="none" stroke-linecap="round"/>
<line x1="310.1" y1="186.5" x2="311.8" y2="183.9" stroke="#57287e" stroke-width="1.1"/><line x1="310.1" y1="186.5" x2="310.7" y2="189.6" stroke="#57287e" stroke-width="1.1"/><line x1="310.1" y1="186.5" x2="311.2" y2="189.4" stroke="#57287e" stroke-width="1.1"/><line x1="310.1" y1="186.5" x2="309.2" y2="183.5" stroke="#57287e" stroke-width="1.1"/><line x1="311.8" y1="183.9" x2="312.8" y2="180.9" stroke="#57287e" stroke-width="1.1"/><line x1="310.7" y1="189.6" x2="310.2" y2="186.5" stroke="#57287e" stroke-width="1.1"/><circle cx="310.1" cy="186.5" r="1.26" fill="#57287e"/><circle cx="311.8" cy="183.9" r="1.26" fill="#57287e"/><circle cx="310.7" cy="189.6" r="1.26" fill="#57287e"/><circle cx="311.2" cy="189.4" r="1.26" fill="#57287e"/><circle cx="309.2" cy="183.5" r="1.26" fill="#57287e"/><circle cx="312.8" cy="180.9" r="1.26" fill="#57287e"/><circle cx="310.2" cy="186.5" r="1.26" fill="#57287e"/>
<line x1="301.6" y1="194.5" x2="299.1" y2="195.5" stroke="#57287e" stroke-width="0.9"/><line x1="301.6" y1="194.5" x2="304.3" y2="195.0" stroke="#57287e" stroke-width="0.9"/><circle cx="301.6" cy="194.5" r="1.10" fill="#57287e"/><circle cx="299.1" cy="195.5" r="1.10" fill="#57287e"/><circle cx="304.3" cy="195.0" r="1.10" fill="#57287e"/>
<line x1="319.6" y1="191.5" x2="322.2" y2="190.8" stroke="#b9a6d3" stroke-width="0.9"/><line x1="322.2" y1="190.8" x2="321.1" y2="188.3" stroke="#b9a6d3" stroke-width="0.9"/><line x1="322.2" y1="190.8" x2="324.8" y2="190.0" stroke="#b9a6d3" stroke-width="0.9"/><line x1="319.6" y1="191.5" x2="318.5" y2="189.0" stroke="#b9a6d3" stroke-width="0.9"/><circle cx="319.6" cy="191.5" r="1.10" fill="#b9a6d3"/><circle cx="322.2" cy="190.8" r="1.10" fill="#b9a6d3"/><circle cx="321.1" cy="188.3" r="1.10" fill="#b9a6d3"/><circle cx="324.8" cy="190.0" r="1.10" fill="#b9a6d3"/><circle cx="318.5" cy="189.0" r="1.10" fill="#b9a6d3"/>
<line x1="311.6" y1="197.5" x2="313.0" y2="195.4" stroke="#b9a6d3" stroke-width="0.9"/><line x1="311.6" y1="197.5" x2="310.6" y2="195.3" stroke="#b9a6d3" stroke-width="0.9"/><line x1="313.0" y1="195.4" x2="315.2" y2="196.6" stroke="#b9a6d3" stroke-width="0.9"/><circle cx="311.6" cy="197.5" r="1.00" fill="#b9a6d3"/><circle cx="313.0" cy="195.4" r="1.00" fill="#b9a6d3"/><circle cx="310.6" cy="195.3" r="1.00" fill="#b9a6d3"/><circle cx="315.2" cy="196.6" r="1.00" fill="#b9a6d3"/>
<line x1="309.6" y1="205.5" x2="308.3" y2="203.4" stroke="#b9a6d3" stroke-width="0.9"/><line x1="309.6" y1="205.5" x2="311.8" y2="204.4" stroke="#b9a6d3" stroke-width="0.9"/><circle cx="309.6" cy="205.5" r="1.00" fill="#b9a6d3"/><circle cx="308.3" cy="203.4" r="1.00" fill="#b9a6d3"/><circle cx="311.8" cy="204.4" r="1.00" fill="#b9a6d3"/>
<line x1="300.6" y1="187.5" x2="299.3" y2="189.6" stroke="#b9a6d3" stroke-width="0.9"/><line x1="300.6" y1="187.5" x2="299.7" y2="189.8" stroke="#b9a6d3" stroke-width="0.9"/><circle cx="300.6" cy="187.5" r="1.00" fill="#b9a6d3"/><circle cx="299.3" cy="189.6" r="1.00" fill="#b9a6d3"/><circle cx="299.7" cy="189.8" r="1.00" fill="#b9a6d3"/>
</g><g opacity="0.38">
<path d="M256.1,276.0L254.3,276.0M253.1,276.0L249.8,276.0M256.1,277.3L254.3,277.2M253.1,277.1L249.8,276.9M255.9,278.6L254.1,278.4M253.0,278.2L249.7,277.8M255.7,279.9L253.9,279.5M252.8,279.3L249.5,278.6M255.4,281.2L253.7,280.7M252.5,280.4L249.3,279.5M255.0,282.4L253.3,281.8M252.2,281.4L249.1,280.3M254.5,283.6L252.9,282.9M251.8,282.4L248.7,281.1M250.1,290.0L248.9,288.7M248.0,287.8L245.8,285.4M249.1,290.9L248.0,289.5M247.2,288.5L245.1,286.0M248.1,291.7L247.0,290.2M246.3,289.2L244.4,286.5M247.0,292.4L246.1,290.9M245.4,289.8L243.7,287.0M245.9,293.0L245.0,291.4M244.5,290.4L242.9,287.5M244.7,293.6L244.0,292.0M243.5,290.9L242.1,287.9M243.5,294.1L242.9,292.4M242.5,291.3L241.3,288.2M237.1,295.3L237.1,293.5M237.1,292.3L237.0,289.0M235.8,295.3L235.9,293.5M236.0,292.3L236.1,289.0M234.5,295.2L234.7,293.4M234.9,292.2L235.3,288.9M233.2,295.0L233.6,293.2M233.8,292.0L234.4,288.8M232.0,294.7L232.4,292.9M232.7,291.8L233.5,288.6M225.0,291.3L226.1,289.8M226.8,288.9L228.8,286.3M224.0,290.4L225.2,289.1M226.0,288.2L228.2,285.7M223.0,289.5L224.3,288.3M225.2,287.4L227.5,285.1M222.2,288.6L223.5,287.4M224.4,286.6L226.9,284.5M221.3,287.6L222.8,286.5M223.7,285.8L226.4,283.8M218.4,281.8L220.1,281.2M221.2,280.9L224.4,279.9M218.0,280.5L219.8,280.1M221.0,279.8L224.2,279.0M217.8,279.2L219.5,278.9M220.7,278.7L224.0,278.2M217.6,278.0L219.4,277.8M220.6,277.6L223.9,277.3M217.5,276.7L219.3,276.6M220.5,276.6L223.8,276.4M218.8,269.0L220.5,269.6M221.6,270.1L224.7,271.3M219.3,267.8L221.0,268.6M222.0,269.1L225.0,270.5M219.9,266.6L221.5,267.5M222.5,268.1L225.4,269.7M220.6,265.5L222.1,266.5M223.1,267.1L225.9,268.9M226.0,260.0L227.0,261.5M227.7,262.5L229.6,265.2M227.2,259.3L228.1,260.8M228.7,261.9L230.3,264.7M228.3,258.7L229.1,260.3M229.6,261.4L231.1,264.3M229.5,258.1L230.2,259.8M230.6,260.9L231.9,264.0M237.1,256.7L237.1,258.5M237.1,259.7L237.0,263.0M238.4,256.8L238.3,258.6M238.2,259.8L237.9,263.0M239.7,256.9L239.4,258.7M239.3,259.9L238.8,263.1M241.0,257.2L240.6,258.9M240.4,260.1L239.6,263.3M248.1,260.3L247.0,261.8M246.3,262.8L244.4,265.5M249.1,261.1L248.0,262.5M247.2,263.5L245.1,266.0M250.1,262.0L248.9,263.3M248.0,264.2L245.8,266.6M251.0,262.9L249.7,264.2M248.8,265.0L246.4,267.2M255.0,269.6L253.3,270.2M252.2,270.6L249.1,271.7M255.4,270.8L253.7,271.3M252.5,271.6L249.3,272.5M255.7,272.1L253.9,272.5M252.8,272.7L249.5,273.4M255.9,273.4L254.1,273.6M253.0,273.8L249.7,274.2M256.1,274.7L254.3,274.8M253.1,274.9L249.8,275.1" stroke="#b4b4b4" stroke-width="0.65" fill="none"/>
<circle cx="257.5" cy="276.0" r="1.45" fill="#f8bb82"/>
<circle cx="257.3" cy="278.6" r="1.45" fill="#f8bb82"/>
<circle cx="256.8" cy="281.1" r="1.45" fill="#f8bb82"/>
<circle cx="256.0" cy="283.6" r="1.45" fill="#f8bb82"/>
<circle cx="254.9" cy="286.0" r="1.45" fill="#f8bb82"/>
<circle cx="253.5" cy="288.2" r="1.45" fill="#f8bb82"/>
<circle cx="251.9" cy="290.2" r="1.45" fill="#f8bb82"/>
<circle cx="250.0" cy="291.9" r="1.45" fill="#f8bb82"/>
<circle cx="247.9" cy="293.5" r="1.45" fill="#f8bb82"/>
<circle cx="245.6" cy="294.7" r="1.45" fill="#f8bb82"/>
<circle cx="243.2" cy="295.7" r="1.45" fill="#f8bb82"/>
<circle cx="240.7" cy="296.3" r="1.45" fill="#f8bb82"/>
<circle cx="238.1" cy="296.7" r="1.45" fill="#f8bb82"/>
<circle cx="235.5" cy="296.7" r="1.45" fill="#f8bb82"/>
<circle cx="232.9" cy="296.3" r="1.45" fill="#f8bb82"/>
<circle cx="230.4" cy="295.7" r="1.45" fill="#f8bb82"/>
<circle cx="228.0" cy="294.7" r="1.45" fill="#f8bb82"/>
<circle cx="225.7" cy="293.5" r="1.45" fill="#f8bb82"/>
<circle cx="223.6" cy="291.9" r="1.45" fill="#f8bb82"/>
<circle cx="221.7" cy="290.2" r="1.45" fill="#f8bb82"/>
<circle cx="220.1" cy="288.2" r="1.45" fill="#f8bb82"/>
<circle cx="218.7" cy="286.0" r="1.45" fill="#f8bb82"/>
<circle cx="217.6" cy="283.6" r="1.45" fill="#f8bb82"/>
<circle cx="216.8" cy="281.1" r="1.45" fill="#f8bb82"/>
<circle cx="216.3" cy="278.6" r="1.45" fill="#f8bb82"/>
<circle cx="216.1" cy="276.0" r="1.45" fill="#f8bb82"/>
<circle cx="216.3" cy="273.4" r="1.45" fill="#f8bb82"/>
<circle cx="216.8" cy="270.9" r="1.45" fill="#f8bb82"/>
<circle cx="217.6" cy="268.4" r="1.45" fill="#f8bb82"/>
<circle cx="218.7" cy="266.0" r="1.45" fill="#f8bb82"/>
<circle cx="220.1" cy="263.8" r="1.45" fill="#f8bb82"/>
<circle cx="221.7" cy="261.8" r="1.45" fill="#f8bb82"/>
<circle cx="223.6" cy="260.1" r="1.45" fill="#f8bb82"/>
<circle cx="225.7" cy="258.5" r="1.45" fill="#f8bb82"/>
<circle cx="228.0" cy="257.3" r="1.45" fill="#f8bb82"/>
<circle cx="230.4" cy="256.3" r="1.45" fill="#f8bb82"/>
<circle cx="232.9" cy="255.7" r="1.45" fill="#f8bb82"/>
<circle cx="235.5" cy="255.3" r="1.45" fill="#f8bb82"/>
<circle cx="238.1" cy="255.3" r="1.45" fill="#f8bb82"/>
<circle cx="240.7" cy="255.7" r="1.45" fill="#f8bb82"/>
<circle cx="243.2" cy="256.3" r="1.45" fill="#f8bb82"/>
<circle cx="245.6" cy="257.3" r="1.45" fill="#f8bb82"/>
<circle cx="247.9" cy="258.5" r="1.45" fill="#f8bb82"/>
<circle cx="250.0" cy="260.1" r="1.45" fill="#f8bb82"/>
<circle cx="251.9" cy="261.8" r="1.45" fill="#f8bb82"/>
<circle cx="253.5" cy="263.8" r="1.45" fill="#f8bb82"/>
<circle cx="254.9" cy="266.0" r="1.45" fill="#f8bb82"/>
<circle cx="256.0" cy="268.4" r="1.45" fill="#f8bb82"/>
<circle cx="256.8" cy="270.9" r="1.45" fill="#f8bb82"/>
<circle cx="257.3" cy="273.4" r="1.45" fill="#f8bb82"/>
<circle cx="249.1" cy="276.0" r="0.85" fill="#d8d8d8"/>
<circle cx="248.8" cy="278.6" r="0.85" fill="#d8d8d8"/>
<circle cx="248.0" cy="281.0" r="0.85" fill="#d8d8d8"/>
<circle cx="246.8" cy="283.2" r="0.85" fill="#d8d8d8"/>
<circle cx="245.0" cy="285.1" r="0.85" fill="#d8d8d8"/>
<circle cx="243.0" cy="286.7" r="0.85" fill="#d8d8d8"/>
<circle cx="240.6" cy="287.7" r="0.85" fill="#d8d8d8"/>
<circle cx="238.1" cy="288.2" r="0.85" fill="#d8d8d8"/>
<circle cx="235.5" cy="288.2" r="0.85" fill="#d8d8d8"/>
<circle cx="233.0" cy="287.7" r="0.85" fill="#d8d8d8"/>
<circle cx="230.7" cy="286.7" r="0.85" fill="#d8d8d8"/>
<circle cx="228.6" cy="285.1" r="0.85" fill="#d8d8d8"/>
<circle cx="226.8" cy="283.2" r="0.85" fill="#d8d8d8"/>
<circle cx="225.6" cy="281.0" r="0.85" fill="#d8d8d8"/>
<circle cx="224.8" cy="278.6" r="0.85" fill="#d8d8d8"/>
<circle cx="224.5" cy="276.0" r="0.85" fill="#d8d8d8"/>
<circle cx="224.8" cy="273.4" r="0.85" fill="#d8d8d8"/>
<circle cx="225.6" cy="271.0" r="0.85" fill="#d8d8d8"/>
<circle cx="226.8" cy="268.8" r="0.85" fill="#d8d8d8"/>
<circle cx="228.6" cy="266.9" r="0.85" fill="#d8d8d8"/>
<circle cx="230.7" cy="265.3" r="0.85" fill="#d8d8d8"/>
<circle cx="233.0" cy="264.3" r="0.85" fill="#d8d8d8"/>
<circle cx="235.5" cy="263.8" r="0.85" fill="#d8d8d8"/>
<circle cx="238.1" cy="263.8" r="0.85" fill="#d8d8d8"/>
<circle cx="240.6" cy="264.3" r="0.85" fill="#d8d8d8"/>
<circle cx="243.0" cy="265.3" r="0.85" fill="#d8d8d8"/>
<circle cx="245.0" cy="266.9" r="0.85" fill="#d8d8d8"/>
<circle cx="246.8" cy="268.8" r="0.85" fill="#d8d8d8"/>
<circle cx="248.0" cy="271.0" r="0.85" fill="#d8d8d8"/>
<circle cx="248.8" cy="273.4" r="0.85" fill="#d8d8d8"/>
<ellipse cx="233.2" cy="257.6" rx="3.9" ry="2.8" transform="rotate(-101 233.2 257.6)" fill="#8466b2"/>
<ellipse cx="244.4" cy="258.9" rx="3.9" ry="2.8" transform="rotate(-66 244.4 258.9)" fill="#8466b2"/>
<ellipse cx="252.8" cy="266.4" rx="3.9" ry="2.8" transform="rotate(-31 252.8 266.4)" fill="#8466b2"/>
<ellipse cx="252.1" cy="286.7" rx="3.9" ry="2.8" transform="rotate(35 252.1 286.7)" fill="#8466b2"/>
<ellipse cx="240.4" cy="294.4" rx="3.9" ry="2.8" transform="rotate(79 240.4 294.4)" fill="#8466b2"/>
<ellipse cx="228.9" cy="292.9" rx="3.9" ry="2.8" transform="rotate(115 228.9 292.9)" fill="#8466b2"/>
<ellipse cx="220.1" cy="284.5" rx="3.9" ry="2.8" transform="rotate(153 220.1 284.5)" fill="#8466b2"/>
<ellipse cx="218.4" cy="272.8" rx="3.9" ry="2.8" transform="rotate(190 218.4 272.8)" fill="#8466b2"/>
<ellipse cx="223.6" cy="262.8" rx="3.9" ry="2.8" transform="rotate(225 223.6 262.8)" fill="#8466b2"/>
<path d="M227.8,256.7 L228.6,258.5 l2.0,0.4 M228.6,258.5 l-0.9,1.8" stroke="#c8302c" stroke-width="1.3" fill="none" stroke-linecap="round"/>
<path d="M258.0,274.5 L256.1,274.7 l-1.1,1.7 M256.1,274.7 l-1.3,-1.5" stroke="#c8302c" stroke-width="1.3" fill="none" stroke-linecap="round"/>
<path d="M222.3,291.6 L223.6,290.1 l-0.4,-2.0 M223.6,290.1 l2.0,0.2" stroke="#c8302c" stroke-width="1.3" fill="none" stroke-linecap="round"/>
<path d="M249.0,293.4 L247.9,291.8 l-2.0,-0.1 M247.9,291.8 l0.6,-1.9" stroke="#c8302c" stroke-width="1.3" fill="none" stroke-linecap="round"/>
<line x1="239.8" y1="273.0" x2="240.1" y2="270.3" stroke="#57287e" stroke-width="0.9"/><line x1="239.8" y1="273.0" x2="240.4" y2="275.7" stroke="#57287e" stroke-width="0.9"/><line x1="240.1" y1="270.3" x2="238.3" y2="268.2" stroke="#57287e" stroke-width="0.9"/><line x1="239.8" y1="273.0" x2="241.5" y2="270.9" stroke="#57287e" stroke-width="0.9"/><line x1="240.4" y1="275.7" x2="243.1" y2="276.3" stroke="#57287e" stroke-width="0.9"/><circle cx="239.8" cy="273.0" r="1.10" fill="#57287e"/><circle cx="240.1" cy="270.3" r="1.10" fill="#57287e"/><circle cx="240.4" cy="275.7" r="1.10" fill="#57287e"/><circle cx="238.3" cy="268.2" r="1.10" fill="#57287e"/><circle cx="241.5" cy="270.9" r="1.10" fill="#57287e"/><circle cx="243.1" cy="276.3" r="1.10" fill="#57287e"/>
<line x1="231.8" y1="270.0" x2="233.8" y2="271.4" stroke="#57287e" stroke-width="0.9"/><line x1="231.8" y1="270.0" x2="229.6" y2="268.9" stroke="#57287e" stroke-width="0.9"/><circle cx="231.8" cy="270.0" r="1.00" fill="#57287e"/><circle cx="233.8" cy="271.4" r="1.00" fill="#57287e"/><circle cx="229.6" cy="268.9" r="1.00" fill="#57287e"/>
<line x1="228.8" y1="279.0" x2="226.3" y2="278.8" stroke="#b9a6d3" stroke-width="0.9"/><line x1="226.3" y1="278.8" x2="227.5" y2="276.6" stroke="#b9a6d3" stroke-width="0.9"/><line x1="228.8" y1="279.0" x2="226.4" y2="278.3" stroke="#b9a6d3" stroke-width="0.9"/><circle cx="228.8" cy="279.0" r="1.00" fill="#b9a6d3"/><circle cx="226.3" cy="278.8" r="1.00" fill="#b9a6d3"/><circle cx="227.5" cy="276.6" r="1.00" fill="#b9a6d3"/><circle cx="226.4" cy="278.3" r="1.00" fill="#b9a6d3"/>
<line x1="241.8" y1="282.0" x2="239.4" y2="281.6" stroke="#b9a6d3" stroke-width="0.9"/><line x1="241.8" y1="282.0" x2="239.8" y2="280.5" stroke="#b9a6d3" stroke-width="0.9"/><line x1="239.4" y1="281.6" x2="237.2" y2="282.9" stroke="#b9a6d3" stroke-width="0.9"/><circle cx="241.8" cy="282.0" r="1.00" fill="#b9a6d3"/><circle cx="239.4" cy="281.6" r="1.00" fill="#b9a6d3"/><circle cx="239.8" cy="280.5" r="1.00" fill="#b9a6d3"/><circle cx="237.2" cy="282.9" r="1.00" fill="#b9a6d3"/>
<line x1="235.8" y1="266.0" x2="234.8" y2="264.0" stroke="#b9a6d3" stroke-width="0.8"/><line x1="234.8" y1="264.0" x2="236.8" y2="265.0" stroke="#b9a6d3" stroke-width="0.8"/><circle cx="235.8" cy="266.0" r="0.89" fill="#b9a6d3"/><circle cx="234.8" cy="264.0" r="0.89" fill="#b9a6d3"/><circle cx="236.8" cy="265.0" r="0.89" fill="#b9a6d3"/>
</g>
<g opacity="0.38">
<path d="M338.6,273.5L335.5,273.5M334.2,273.5L329.6,273.5M338.6,274.9L335.4,274.7M334.2,274.7L329.6,274.4M338.5,276.2L335.3,275.9M334.1,275.8L329.5,275.3M338.3,277.6L335.2,277.1M334.0,276.9L329.4,276.3M338.1,278.9L335.0,278.3M333.8,278.1L329.2,277.2M337.8,280.3L334.7,279.5M333.6,279.2L329.0,278.1M337.4,281.6L334.4,280.7M333.2,280.3L328.8,279.0M337.0,282.9L334.0,281.8M332.9,281.4L328.5,279.9M336.5,284.1L333.6,282.9M332.5,282.5L328.2,280.7M336.0,285.4L333.1,284.0M332.0,283.5L327.8,281.6M335.3,286.6L332.6,285.1M331.5,284.6L327.4,282.4M334.7,287.8L332.0,286.2M330.9,285.6L326.9,283.2M334.0,288.9L331.3,287.2M330.3,286.5L326.4,284.0M333.2,290.1L330.6,288.2M329.7,287.5L325.9,284.7M332.3,291.1L329.9,289.2M329.0,288.4L325.4,285.5M331.5,292.2L329.1,290.1M328.2,289.3L324.8,286.2M330.5,293.2L328.3,291.0M327.4,290.1L324.1,286.9M329.5,294.1L327.4,291.8M326.6,290.9L323.5,287.5M328.5,295.0L326.5,292.6M325.7,291.7L322.8,288.1M327.4,295.9L325.5,293.4M324.8,292.4L322.0,288.7M326.3,296.7L324.6,294.1M323.9,293.1L321.3,289.2M325.2,297.4L323.5,294.7M322.9,293.7L320.5,289.7M324.0,298.1L322.5,295.3M321.9,294.3L319.7,290.2M322.8,298.7L321.4,295.9M320.9,294.8L318.9,290.6M321.6,299.3L320.3,296.4M319.8,295.3L318.0,291.0M320.3,299.8L319.2,296.8M318.8,295.7L317.2,291.3M319.0,300.2L318.0,297.2M317.7,296.1L316.3,291.6M317.7,300.6L316.9,297.5M316.6,296.4L315.4,291.9M316.4,300.9L315.7,297.8M315.5,296.6L314.5,292.1M315.0,301.1L314.5,298.0M314.3,296.9L313.6,292.3M313.7,301.3L313.3,298.2M313.2,297.0L312.7,292.4M312.3,301.4L312.1,298.3M312.0,297.1L311.8,292.5M310.9,301.5L310.9,298.3M310.9,297.1L310.8,292.5M309.6,301.5L309.7,298.3M309.7,297.1L309.9,292.5M308.2,301.4L308.5,298.3M308.6,297.1L309.0,292.4M306.9,301.2L307.3,298.1M307.4,296.9L308.1,292.3M305.5,301.0L306.1,297.9M306.3,296.8L307.1,292.2M304.2,300.8L304.9,297.7M305.2,296.5L306.2,292.0M302.9,300.4L303.7,297.4M304.1,296.2L305.3,291.8M295.4,297.0L297.1,294.4M297.8,293.4L300.3,289.5M294.3,296.3L296.1,293.7M296.8,292.7L299.5,289.0M293.2,295.5L295.2,293.0M295.9,292.0L298.8,288.4M292.2,294.6L294.2,292.2M295.0,291.3L298.1,287.8M291.2,293.7L293.4,291.4M294.2,290.5L297.4,287.2M290.2,292.7L292.5,290.5M293.4,289.7L296.8,286.5M289.3,291.7L291.7,289.6M292.6,288.8L296.1,285.8M288.4,290.6L290.9,288.7M291.9,288.0L295.6,285.1M287.6,289.5L290.2,287.7M291.2,287.0L295.0,284.4M286.9,288.4L289.5,286.7M290.6,286.1L294.5,283.6M286.2,287.2L288.9,285.7M290.0,285.1L294.0,282.8M285.5,286.0L288.4,284.6M289.4,284.1L293.6,282.0M285.0,284.8L287.8,283.5M288.9,283.0L293.2,281.1M284.4,283.5L287.4,282.4M288.5,281.9L292.9,280.3M284.0,282.2L287.0,281.2M288.1,280.9L292.5,279.4M283.6,280.9L286.6,280.1M287.8,279.8L292.3,278.5M283.3,279.6L286.3,278.9M287.5,278.6L292.1,277.6M283.0,278.3L286.1,277.7M287.3,277.5L291.9,276.7M282.8,276.9L285.9,276.5M287.1,276.4L291.7,275.8M282.7,275.5L285.8,275.3M287.0,275.2L291.7,274.9M282.6,274.2L285.8,274.1M287.0,274.1L291.6,274.0M282.6,272.8L285.8,272.9M287.0,272.9L291.6,273.0M282.7,271.5L285.8,271.7M287.0,271.8L291.7,272.1M282.8,270.1L285.9,270.5M287.1,270.6L291.7,271.2M283.0,268.7L286.1,269.3M287.3,269.5L291.9,270.3M283.3,267.4L286.3,268.1M287.5,268.4L292.1,269.4M283.6,266.1L286.6,266.9M287.8,267.2L292.3,268.5M284.0,264.8L287.0,265.8M288.1,266.1L292.5,267.6M284.4,263.5L287.4,264.6M288.5,265.1L292.9,266.7M285.0,262.2L287.8,263.5M288.9,264.0L293.2,265.9M285.5,261.0L288.4,262.4M289.4,262.9L293.6,265.0M286.2,259.8L288.9,261.3M290.0,261.9L294.0,264.2M286.9,258.6L289.5,260.3M290.6,260.9L294.5,263.4M287.6,257.5L290.2,259.3M291.2,260.0L295.0,262.6M288.4,256.4L290.9,258.3M291.9,259.0L295.6,261.9M289.3,255.3L291.7,257.4M292.6,258.2L296.1,261.2M290.2,254.3L292.5,256.5M293.4,257.3L296.8,260.5M291.2,253.3L293.4,255.6M294.2,256.5L297.4,259.8M292.2,252.4L294.2,254.8M295.0,255.7L298.1,259.2M293.2,251.5L295.2,254.0M295.9,255.0L298.8,258.6M294.3,250.7L296.1,253.3M296.8,254.3L299.5,258.0M295.4,250.0L297.1,252.6M297.8,253.6L300.3,257.5M296.6,249.3L298.2,252.0M298.8,253.0L301.1,257.0M297.8,248.6L299.2,251.4M299.8,252.5L301.9,256.6M299.0,248.0L300.3,250.9M300.8,252.0L302.7,256.2M300.3,247.5L301.4,250.4M301.9,251.5L303.6,255.8M301.6,247.0L302.6,250.0M303.0,251.1L304.5,255.5M309.6,245.5L309.7,248.7M309.7,249.9L309.9,254.5M310.9,245.5L310.9,248.7M310.9,249.9L310.8,254.5M312.3,245.6L312.1,248.7M312.0,249.9L311.8,254.5M313.7,245.7L313.3,248.8M313.2,250.0L312.7,254.6M315.0,245.9L314.5,249.0M314.3,250.1L313.6,254.7M316.4,246.1L315.7,249.2M315.5,250.4L314.5,254.9M317.7,246.4L316.9,249.5M316.6,250.6L315.4,255.1M319.0,246.8L318.0,249.8M317.7,250.9L316.3,255.4M320.3,247.2L319.2,250.2M318.8,251.3L317.2,255.7M321.6,247.7L320.3,250.6M319.8,251.7L318.0,256.0M322.8,248.3L321.4,251.1M320.9,252.2L318.9,256.4M324.0,248.9L322.5,251.7M321.9,252.7L319.7,256.8M325.2,249.6L323.5,252.3M322.9,253.3L320.5,257.3M326.3,250.3L324.6,252.9M323.9,253.9L321.3,257.8M327.4,251.1L325.5,253.6M324.8,254.6L322.0,258.3M328.5,252.0L326.5,254.4M325.7,255.3L322.8,258.9M329.5,252.9L327.4,255.2M326.6,256.1L323.5,259.5M330.5,253.8L328.3,256.0M327.4,256.9L324.1,260.1M331.5,254.8L329.1,256.9M328.2,257.7L324.8,260.8M332.3,255.9L329.9,257.8M329.0,258.6L325.4,261.5M336.0,261.6L333.1,263.0M332.0,263.5L327.8,265.4M336.5,262.9L333.6,264.1M332.5,264.5L328.2,266.3M337.0,264.1L334.0,265.2M332.9,265.6L328.5,267.1M337.4,265.4L334.4,266.3M333.2,266.7L328.8,268.0M337.8,266.7L334.7,267.5M333.6,267.8L329.0,268.9M338.1,268.1L335.0,268.7M333.8,268.9L329.2,269.8M338.3,269.4L335.2,269.9M334.0,270.1L329.4,270.7M338.5,270.8L335.3,271.1M334.1,271.2L329.5,271.7M338.6,272.1L335.4,272.3M334.2,272.3L329.6,272.6" stroke="#b4b4b4" stroke-width="0.65" fill="none"/>
<circle cx="340.0" cy="273.5" r="1.45" fill="#f8bb82"/>
<circle cx="339.9" cy="276.1" r="1.45" fill="#f8bb82"/>
<circle cx="339.5" cy="278.7" r="1.45" fill="#f8bb82"/>
<circle cx="339.0" cy="281.2" r="1.45" fill="#f8bb82"/>
<circle cx="338.2" cy="283.7" r="1.45" fill="#f8bb82"/>
<circle cx="337.2" cy="286.1" r="1.45" fill="#f8bb82"/>
<circle cx="336.0" cy="288.4" r="1.45" fill="#f8bb82"/>
<circle cx="334.5" cy="290.6" r="1.45" fill="#f8bb82"/>
<circle cx="332.9" cy="292.6" r="1.45" fill="#f8bb82"/>
<circle cx="331.2" cy="294.5" r="1.45" fill="#f8bb82"/>
<circle cx="329.2" cy="296.3" r="1.45" fill="#f8bb82"/>
<circle cx="327.1" cy="297.8" r="1.45" fill="#f8bb82"/>
<circle cx="324.9" cy="299.2" r="1.45" fill="#f8bb82"/>
<circle cx="322.6" cy="300.3" r="1.45" fill="#f8bb82"/>
<circle cx="320.2" cy="301.3" r="1.45" fill="#f8bb82"/>
<circle cx="317.7" cy="302.0" r="1.45" fill="#f8bb82"/>
<circle cx="315.1" cy="302.5" r="1.45" fill="#f8bb82"/>
<circle cx="312.5" cy="302.8" r="1.45" fill="#f8bb82"/>
<circle cx="309.9" cy="302.9" r="1.45" fill="#f8bb82"/>
<circle cx="307.4" cy="302.7" r="1.45" fill="#f8bb82"/>
<circle cx="304.8" cy="302.3" r="1.45" fill="#f8bb82"/>
<circle cx="302.3" cy="301.7" r="1.45" fill="#f8bb82"/>
<circle cx="299.8" cy="300.8" r="1.45" fill="#f8bb82"/>
<circle cx="297.4" cy="299.8" r="1.45" fill="#f8bb82"/>
<circle cx="295.2" cy="298.5" r="1.45" fill="#f8bb82"/>
<circle cx="293.0" cy="297.1" r="1.45" fill="#f8bb82"/>
<circle cx="291.0" cy="295.4" r="1.45" fill="#f8bb82"/>
<circle cx="289.1" cy="293.6" r="1.45" fill="#f8bb82"/>
<circle cx="287.4" cy="291.6" r="1.45" fill="#f8bb82"/>
<circle cx="285.9" cy="289.5" r="1.45" fill="#f8bb82"/>
<circle cx="284.6" cy="287.3" r="1.45" fill="#f8bb82"/>
<circle cx="283.5" cy="284.9" r="1.45" fill="#f8bb82"/>
<circle cx="282.6" cy="282.5" r="1.45" fill="#f8bb82"/>
<circle cx="281.9" cy="280.0" r="1.45" fill="#f8bb82"/>
<circle cx="281.5" cy="277.4" r="1.45" fill="#f8bb82"/>
<circle cx="281.2" cy="274.8" r="1.45" fill="#f8bb82"/>
<circle cx="281.2" cy="272.2" r="1.45" fill="#f8bb82"/>
<circle cx="281.5" cy="269.6" r="1.45" fill="#f8bb82"/>
<circle cx="281.9" cy="267.0" r="1.45" fill="#f8bb82"/>
<circle cx="282.6" cy="264.5" r="1.45" fill="#f8bb82"/>
<circle cx="283.5" cy="262.1" r="1.45" fill="#f8bb82"/>
<circle cx="284.6" cy="259.7" r="1.45" fill="#f8bb82"/>
<circle cx="285.9" cy="257.5" r="1.45" fill="#f8bb82"/>
<circle cx="287.4" cy="255.4" r="1.45" fill="#f8bb82"/>
<circle cx="289.1" cy="253.4" r="1.45" fill="#f8bb82"/>
<circle cx="291.0" cy="251.6" r="1.45" fill="#f8bb82"/>
<circle cx="293.0" cy="249.9" r="1.45" fill="#f8bb82"/>
<circle cx="295.2" cy="248.5" r="1.45" fill="#f8bb82"/>
<circle cx="297.4" cy="247.2" r="1.45" fill="#f8bb82"/>
<circle cx="299.8" cy="246.2" r="1.45" fill="#f8bb82"/>
<circle cx="302.3" cy="245.3" r="1.45" fill="#f8bb82"/>
<circle cx="304.8" cy="244.7" r="1.45" fill="#f8bb82"/>
<circle cx="307.4" cy="244.3" r="1.45" fill="#f8bb82"/>
<circle cx="309.9" cy="244.1" r="1.45" fill="#f8bb82"/>
<circle cx="312.5" cy="244.2" r="1.45" fill="#f8bb82"/>
<circle cx="315.1" cy="244.5" r="1.45" fill="#f8bb82"/>
<circle cx="317.7" cy="245.0" r="1.45" fill="#f8bb82"/>
<circle cx="320.2" cy="245.7" r="1.45" fill="#f8bb82"/>
<circle cx="322.6" cy="246.7" r="1.45" fill="#f8bb82"/>
<circle cx="324.9" cy="247.8" r="1.45" fill="#f8bb82"/>
<circle cx="327.1" cy="249.2" r="1.45" fill="#f8bb82"/>
<circle cx="329.2" cy="250.7" r="1.45" fill="#f8bb82"/>
<circle cx="331.2" cy="252.5" r="1.45" fill="#f8bb82"/>
<circle cx="332.9" cy="254.4" r="1.45" fill="#f8bb82"/>
<circle cx="334.5" cy="256.4" r="1.45" fill="#f8bb82"/>
<circle cx="336.0" cy="258.6" r="1.45" fill="#f8bb82"/>
<circle cx="337.2" cy="260.9" r="1.45" fill="#f8bb82"/>
<circle cx="338.2" cy="263.3" r="1.45" fill="#f8bb82"/>
<circle cx="339.0" cy="265.8" r="1.45" fill="#f8bb82"/>
<circle cx="339.5" cy="268.3" r="1.45" fill="#f8bb82"/>
<circle cx="339.9" cy="270.9" r="1.45" fill="#f8bb82"/>
<circle cx="328.9" cy="273.5" r="0.85" fill="#d8d8d8"/>
<circle cx="328.7" cy="276.0" r="0.85" fill="#d8d8d8"/>
<circle cx="328.2" cy="278.5" r="0.85" fill="#d8d8d8"/>
<circle cx="327.3" cy="280.9" r="0.85" fill="#d8d8d8"/>
<circle cx="326.1" cy="283.2" r="0.85" fill="#d8d8d8"/>
<circle cx="324.6" cy="285.3" r="0.85" fill="#d8d8d8"/>
<circle cx="322.8" cy="287.1" r="0.85" fill="#d8d8d8"/>
<circle cx="320.8" cy="288.7" r="0.85" fill="#d8d8d8"/>
<circle cx="318.6" cy="289.9" r="0.85" fill="#d8d8d8"/>
<circle cx="316.3" cy="290.9" r="0.85" fill="#d8d8d8"/>
<circle cx="313.8" cy="291.5" r="0.85" fill="#d8d8d8"/>
<circle cx="311.2" cy="291.8" r="0.85" fill="#d8d8d8"/>
<circle cx="308.7" cy="291.7" r="0.85" fill="#d8d8d8"/>
<circle cx="306.2" cy="291.3" r="0.85" fill="#d8d8d8"/>
<circle cx="303.7" cy="290.5" r="0.85" fill="#d8d8d8"/>
<circle cx="301.5" cy="289.3" r="0.85" fill="#d8d8d8"/>
<circle cx="299.3" cy="287.9" r="0.85" fill="#d8d8d8"/>
<circle cx="297.4" cy="286.2" r="0.85" fill="#d8d8d8"/>
<circle cx="295.8" cy="284.3" r="0.85" fill="#d8d8d8"/>
<circle cx="294.4" cy="282.1" r="0.85" fill="#d8d8d8"/>
<circle cx="293.4" cy="279.8" r="0.85" fill="#d8d8d8"/>
<circle cx="292.7" cy="277.3" r="0.85" fill="#d8d8d8"/>
<circle cx="292.3" cy="274.8" r="0.85" fill="#d8d8d8"/>
<circle cx="292.3" cy="272.2" r="0.85" fill="#d8d8d8"/>
<circle cx="292.7" cy="269.7" r="0.85" fill="#d8d8d8"/>
<circle cx="293.4" cy="267.2" r="0.85" fill="#d8d8d8"/>
<circle cx="294.4" cy="264.9" r="0.85" fill="#d8d8d8"/>
<circle cx="295.8" cy="262.7" r="0.85" fill="#d8d8d8"/>
<circle cx="297.4" cy="260.8" r="0.85" fill="#d8d8d8"/>
<circle cx="299.3" cy="259.1" r="0.85" fill="#d8d8d8"/>
<circle cx="301.4" cy="257.7" r="0.85" fill="#d8d8d8"/>
<circle cx="303.7" cy="256.5" r="0.85" fill="#d8d8d8"/>
<circle cx="306.2" cy="255.7" r="0.85" fill="#d8d8d8"/>
<circle cx="308.7" cy="255.3" r="0.85" fill="#d8d8d8"/>
<circle cx="311.2" cy="255.2" r="0.85" fill="#d8d8d8"/>
<circle cx="313.8" cy="255.5" r="0.85" fill="#d8d8d8"/>
<circle cx="316.3" cy="256.1" r="0.85" fill="#d8d8d8"/>
<circle cx="318.6" cy="257.1" r="0.85" fill="#d8d8d8"/>
<circle cx="320.8" cy="258.3" r="0.85" fill="#d8d8d8"/>
<circle cx="322.8" cy="259.9" r="0.85" fill="#d8d8d8"/>
<circle cx="324.6" cy="261.7" r="0.85" fill="#d8d8d8"/>
<circle cx="326.1" cy="263.8" r="0.85" fill="#d8d8d8"/>
<circle cx="327.3" cy="266.1" r="0.85" fill="#d8d8d8"/>
<circle cx="328.2" cy="268.5" r="0.85" fill="#d8d8d8"/>
<circle cx="328.7" cy="271.0" r="0.85" fill="#d8d8d8"/>
<ellipse cx="305.6" cy="247.7" rx="5.1" ry="3.6" transform="rotate(-101 305.6 247.7)" fill="#8466b2"/>
<ellipse cx="332.9" cy="259.6" rx="5.1" ry="3.6" transform="rotate(-32 332.9 259.6)" fill="#8466b2"/>
<ellipse cx="299.9" cy="297.5" rx="5.1" ry="3.6" transform="rotate(114 299.9 297.5)" fill="#8466b2"/>
<path d="M294.7,248.1 L295.8,249.8 l2.0,0.2 M295.8,249.8 l-0.7,1.9" stroke="#c8302c" stroke-width="1.3" fill="none" stroke-linecap="round"/>
<path d="M340.6,271.9 L338.6,272.0 l-1.1,1.7 M338.6,272.0 l-1.3,-1.5" stroke="#c8302c" stroke-width="1.3" fill="none" stroke-linecap="round"/>
<path d="M289.4,294.7 L290.8,293.3 l-0.3,-2.0 M290.8,293.3 l2.0,0.3" stroke="#c8302c" stroke-width="1.3" fill="none" stroke-linecap="round"/>
<path d="M324.7,300.0 L323.7,298.2 l-2.0,-0.3 M323.7,298.2 l0.8,-1.8" stroke="#c8302c" stroke-width="1.3" fill="none" stroke-linecap="round"/>
<line x1="310.1" y1="267.5" x2="308.4" y2="264.9" stroke="#57287e" stroke-width="1.1"/><line x1="308.4" y1="264.9" x2="305.9" y2="263.0" stroke="#57287e" stroke-width="1.1"/><line x1="310.1" y1="267.5" x2="312.3" y2="269.7" stroke="#57287e" stroke-width="1.1"/><line x1="312.3" y1="269.7" x2="315.3" y2="270.6" stroke="#57287e" stroke-width="1.1"/><line x1="315.3" y1="270.6" x2="312.2" y2="270.5" stroke="#57287e" stroke-width="1.1"/><line x1="312.2" y1="270.5" x2="309.3" y2="271.8" stroke="#57287e" stroke-width="1.1"/><circle cx="310.1" cy="267.5" r="1.26" fill="#57287e"/><circle cx="308.4" cy="264.9" r="1.26" fill="#57287e"/><circle cx="305.9" cy="263.0" r="1.26" fill="#57287e"/><circle cx="312.3" cy="269.7" r="1.26" fill="#57287e"/><circle cx="315.3" cy="270.6" r="1.26" fill="#57287e"/><circle cx="312.2" cy="270.5" r="1.26" fill="#57287e"/><circle cx="309.3" cy="271.8" r="1.26" fill="#57287e"/>
<line x1="301.6" y1="275.5" x2="304.3" y2="275.3" stroke="#57287e" stroke-width="0.9"/><line x1="304.3" y1="275.3" x2="303.8" y2="272.6" stroke="#57287e" stroke-width="0.9"/><circle cx="301.6" cy="275.5" r="1.10" fill="#57287e"/><circle cx="304.3" cy="275.3" r="1.10" fill="#57287e"/><circle cx="303.8" cy="272.6" r="1.10" fill="#57287e"/>
<line x1="319.6" y1="272.5" x2="320.2" y2="269.8" stroke="#b9a6d3" stroke-width="0.9"/><line x1="319.6" y1="272.5" x2="318.2" y2="270.1" stroke="#b9a6d3" stroke-width="0.9"/><line x1="319.6" y1="272.5" x2="321.3" y2="274.6" stroke="#b9a6d3" stroke-width="0.9"/><line x1="320.2" y1="269.8" x2="318.0" y2="268.3" stroke="#b9a6d3" stroke-width="0.9"/><circle cx="319.6" cy="272.5" r="1.10" fill="#b9a6d3"/><circle cx="320.2" cy="269.8" r="1.10" fill="#b9a6d3"/><circle cx="318.2" cy="270.1" r="1.10" fill="#b9a6d3"/><circle cx="321.3" cy="274.6" r="1.10" fill="#b9a6d3"/><circle cx="318.0" cy="268.3" r="1.10" fill="#b9a6d3"/>
<line x1="311.6" y1="278.5" x2="310.0" y2="280.4" stroke="#b9a6d3" stroke-width="0.9"/><line x1="311.6" y1="278.5" x2="314.0" y2="279.0" stroke="#b9a6d3" stroke-width="0.9"/><line x1="314.0" y1="279.0" x2="313.4" y2="281.3" stroke="#b9a6d3" stroke-width="0.9"/><circle cx="311.6" cy="278.5" r="1.00" fill="#b9a6d3"/><circle cx="310.0" cy="280.4" r="1.00" fill="#b9a6d3"/><circle cx="314.0" cy="279.0" r="1.00" fill="#b9a6d3"/><circle cx="313.4" cy="281.3" r="1.00" fill="#b9a6d3"/>
<line x1="309.6" y1="286.5" x2="307.1" y2="286.4" stroke="#b9a6d3" stroke-width="0.9"/><line x1="309.6" y1="286.5" x2="307.2" y2="287.1" stroke="#b9a6d3" stroke-width="0.9"/><circle cx="309.6" cy="286.5" r="1.00" fill="#b9a6d3"/><circle cx="307.1" cy="286.4" r="1.00" fill="#b9a6d3"/><circle cx="307.2" cy="287.1" r="1.00" fill="#b9a6d3"/>
<line x1="300.6" y1="268.5" x2="301.6" y2="266.2" stroke="#b9a6d3" stroke-width="0.9"/><line x1="301.6" y1="266.2" x2="299.3" y2="267.3" stroke="#b9a6d3" stroke-width="0.9"/><circle cx="300.6" cy="268.5" r="1.00" fill="#b9a6d3"/><circle cx="301.6" cy="266.2" r="1.00" fill="#b9a6d3"/><circle cx="299.3" cy="267.3" r="1.00" fill="#b9a6d3"/>
</g>
<path d="M427.0,88.0L426.0,80.5M426.0,80.5L420.5,78.0M426.0,80.5L431.0,76.5M426.0,80.5L425.0,75.0M427.0,88.0L419.5,93.0M419.5,93.0L414.5,91.0M419.5,93.0L421.5,101.0M421.5,101.0L416.5,105.5M416.5,105.5L412.5,103.0M416.5,105.5L415.5,110.0M416.5,105.5L420.0,109.5M421.5,101.0L430.5,104.0M430.5,104.0L433.0,109.5M430.5,104.0L437.0,98.0M437.0,98.0L435.0,90.0M435.0,90.0L427.0,88.0M435.0,90.0L441.0,84.5M441.0,84.5L447.5,88.5M447.5,88.5L452.5,86.5M447.5,88.5L446.0,96.5M446.0,96.5L437.0,98.0M446.0,96.5L449.0,103.5M449.0,103.5L454.0,103.0M449.0,103.5L448.5,108.5M449.0,103.5L453.0,99.0M472.0,88.0L467.5,85.5M472.0,88.0L474.5,92.5M413.5,124.7L419.4,128.1M419.4,128.1L419.4,134.9M419.4,134.9L413.5,138.3M413.5,138.3L407.6,134.9M407.6,134.9L407.6,128.1M407.6,128.1L413.5,124.7M419.4,128.1L426.0,127.0M426.0,127.0L428.5,134.5M428.5,134.5L422.5,140.5M422.5,140.5L419.4,134.9M422.5,140.5L421.0,146.0M428.5,134.5L433.0,138.0M413.5,124.7L413.0,117.0M413.0,117.0L417.5,114.0M407.6,128.1L405.0,127.0M407.6,134.9L405.0,137.0M413.5,138.3L413.0,144.5M426.0,127.0L434.0,122.5M434.0,122.5L441.5,127.5M441.5,127.5L448.0,124.5M448.0,124.5L452.5,121.0M448.0,124.5L453.0,128.0M448.0,124.5L447.0,119.0M434.0,122.5L434.0,117.0M441.5,127.5L441.0,133.0M462.0,110.0L468.0,107.0M480.0,107.0L486.0,104.5M468.0,107.0L474.0,111.0M486.0,104.5L492.0,108.0M474.0,111.0L474.0,118.0M492.0,108.0L492.0,115.0M474.0,118.0L468.0,121.0M492.0,115.0L486.0,118.0M468.0,121.0L462.0,117.0M486.0,118.0L480.0,114.5M462.0,117.0L462.0,110.0M480.0,114.5L480.0,107.0M474.0,118.0L477.0,112.0M477.0,112.0L480.0,114.5M462.0,110.0L466.0,104.0M462.0,117.0L458.0,121.0M468.0,121.0L467.0,126.0M480.0,107.0L482.0,103.0M492.0,115.0L496.0,119.0M474.0,118.0L475.0,123.0M462.0,110.0L457.0,107.0M474.0,111.0L472.0,103.0M486.0,104.5L490.0,100.5M492.0,108.0L497.0,106.0M458.0,121.0L462.0,125.0M480.0,114.5L480.0,120.0M467.0,126.0L470.0,128.0" stroke="#7c7c7c" stroke-width="3.2" stroke-linecap="round" fill="none"/>
<path d="M427.0,88.0L426.0,80.5M426.0,80.5L420.5,78.0M426.0,80.5L431.0,76.5M426.0,80.5L425.0,75.0M427.0,88.0L419.5,93.0M419.5,93.0L414.5,91.0M419.5,93.0L421.5,101.0M421.5,101.0L416.5,105.5M416.5,105.5L412.5,103.0M416.5,105.5L415.5,110.0M416.5,105.5L420.0,109.5M421.5,101.0L430.5,104.0M430.5,104.0L433.0,109.5M430.5,104.0L437.0,98.0M437.0,98.0L435.0,90.0M435.0,90.0L427.0,88.0M435.0,90.0L441.0,84.5M441.0,84.5L447.5,88.5M447.5,88.5L452.5,86.5M447.5,88.5L446.0,96.5M446.0,96.5L437.0,98.0M446.0,96.5L449.0,103.5M449.0,103.5L454.0,103.0M449.0,103.5L448.5,108.5M449.0,103.5L453.0,99.0M472.0,88.0L467.5,85.5M472.0,88.0L474.5,92.5M413.5,124.7L419.4,128.1M419.4,128.1L419.4,134.9M419.4,134.9L413.5,138.3M413.5,138.3L407.6,134.9M407.6,134.9L407.6,128.1M407.6,128.1L413.5,124.7M419.4,128.1L426.0,127.0M426.0,127.0L428.5,134.5M428.5,134.5L422.5,140.5M422.5,140.5L419.4,134.9M422.5,140.5L421.0,146.0M428.5,134.5L433.0,138.0M413.5,124.7L413.0,117.0M413.0,117.0L417.5,114.0M407.6,128.1L405.0,127.0M407.6,134.9L405.0,137.0M413.5,138.3L413.0,144.5M426.0,127.0L434.0,122.5M434.0,122.5L441.5,127.5M441.5,127.5L448.0,124.5M448.0,124.5L452.5,121.0M448.0,124.5L453.0,128.0M448.0,124.5L447.0,119.0M434.0,122.5L434.0,117.0M441.5,127.5L441.0,133.0M462.0,110.0L468.0,107.0M480.0,107.0L486.0,104.5M468.0,107.0L474.0,111.0M486.0,104.5L492.0,108.0M474.0,111.0L474.0,118.0M492.0,108.0L492.0,115.0M474.0,118.0L468.0,121.0M492.0,115.0L486.0,118.0M468.0,121.0L462.0,117.0M486.0,118.0L480.0,114.5M462.0,117.0L462.0,110.0M480.0,114.5L480.0,107.0M474.0,118.0L477.0,112.0M477.0,112.0L480.0,114.5M462.0,110.0L466.0,104.0M462.0,117.0L458.0,121.0M468.0,121.0L467.0,126.0M480.0,107.0L482.0,103.0M492.0,115.0L496.0,119.0M474.0,118.0L475.0,123.0M462.0,110.0L457.0,107.0M474.0,111.0L472.0,103.0M486.0,104.5L490.0,100.5M492.0,108.0L497.0,106.0M458.0,121.0L462.0,125.0M480.0,114.5L480.0,120.0M467.0,126.0L470.0,128.0" stroke="#cfcfcf" stroke-width="1.1" stroke-linecap="round" fill="none"/>
<circle cx="427.0" cy="88.0" r="2.7" fill="#4b5ac4"/>
<circle cx="426.0" cy="80.5" r="2.2" fill="#727272"/>
<circle cx="420.5" cy="78.0" r="2.3" fill="#f4f4f4" stroke="#b0b0b0" stroke-width="0.5"/>
<circle cx="431.0" cy="76.5" r="2.3" fill="#f4f4f4" stroke="#b0b0b0" stroke-width="0.5"/>
<circle cx="425.0" cy="75.0" r="2.3" fill="#f4f4f4" stroke="#b0b0b0" stroke-width="0.5"/>
<circle cx="419.5" cy="93.0" r="2.2" fill="#727272"/>
<circle cx="414.5" cy="91.0" r="2.7" fill="#e1261f"/>
<circle cx="421.5" cy="101.0" r="2.7" fill="#4b5ac4"/>
<circle cx="416.5" cy="105.5" r="2.2" fill="#727272"/>
<circle cx="412.5" cy="103.0" r="2.3" fill="#f4f4f4" stroke="#b0b0b0" stroke-width="0.5"/>
<circle cx="415.5" cy="110.0" r="2.3" fill="#f4f4f4" stroke="#b0b0b0" stroke-width="0.5"/>
<circle cx="420.0" cy="109.5" r="2.3" fill="#f4f4f4" stroke="#b0b0b0" stroke-width="0.5"/>
<circle cx="430.5" cy="104.0" r="2.2" fill="#727272"/>
<circle cx="433.0" cy="109.5" r="2.7" fill="#e1261f"/>
<circle cx="437.0" cy="98.0" r="2.2" fill="#727272"/>
<circle cx="435.0" cy="90.0" r="2.2" fill="#727272"/>
<circle cx="441.0" cy="84.5" r="2.7" fill="#4b5ac4"/>
<circle cx="447.5" cy="88.5" r="2.2" fill="#727272"/>
<circle cx="452.5" cy="86.5" r="2.3" fill="#f4f4f4" stroke="#b0b0b0" stroke-width="0.5"/>
<circle cx="446.0" cy="96.5" r="2.7" fill="#4b5ac4"/>
<circle cx="449.0" cy="103.5" r="2.2" fill="#727272"/>
<circle cx="454.0" cy="103.0" r="2.3" fill="#f4f4f4" stroke="#b0b0b0" stroke-width="0.5"/>
<circle cx="448.5" cy="108.5" r="2.3" fill="#f4f4f4" stroke="#b0b0b0" stroke-width="0.5"/>
<circle cx="453.0" cy="99.0" r="2.3" fill="#f4f4f4" stroke="#b0b0b0" stroke-width="0.5"/>
<circle cx="472.0" cy="88.0" r="2.7" fill="#e1261f"/>
<circle cx="467.5" cy="85.5" r="2.3" fill="#f4f4f4" stroke="#b0b0b0" stroke-width="0.5"/>
<circle cx="474.5" cy="92.5" r="2.3" fill="#f4f4f4" stroke="#b0b0b0" stroke-width="0.5"/>
<circle cx="413.5" cy="124.7" r="2.2" fill="#727272"/>
<circle cx="419.4" cy="128.1" r="2.2" fill="#727272"/>
<circle cx="419.4" cy="134.9" r="2.2" fill="#727272"/>
<circle cx="413.5" cy="138.3" r="2.2" fill="#727272"/>
<circle cx="407.6" cy="134.9" r="2.2" fill="#727272"/>
<circle cx="407.6" cy="128.1" r="2.2" fill="#727272"/>
<circle cx="426.0" cy="127.0" r="2.2" fill="#727272"/>
<circle cx="428.5" cy="134.5" r="2.2" fill="#727272"/>
<circle cx="422.5" cy="140.5" r="2.7" fill="#4b5ac4"/>
<circle cx="421.0" cy="146.0" r="2.3" fill="#f4f4f4" stroke="#b0b0b0" stroke-width="0.5"/>
<circle cx="433.0" cy="138.0" r="2.3" fill="#f4f4f4" stroke="#b0b0b0" stroke-width="0.5"/>
<circle cx="413.0" cy="117.0" r="2.7" fill="#e1261f"/>
<circle cx="417.5" cy="114.0" r="2.3" fill="#f4f4f4" stroke="#b0b0b0" stroke-width="0.5"/>
<circle cx="405.0" cy="127.0" r="2.3" fill="#f4f4f4" stroke="#b0b0b0" stroke-width="0.5"/>
<circle cx="405.0" cy="137.0" r="2.3" fill="#f4f4f4" stroke="#b0b0b0" stroke-width="0.5"/>
<circle cx="413.0" cy="144.5" r="2.3" fill="#f4f4f4" stroke="#b0b0b0" stroke-width="0.5"/>
<circle cx="434.0" cy="122.5" r="2.2" fill="#727272"/>
<circle cx="441.5" cy="127.5" r="2.2" fill="#727272"/>
<circle cx="448.0" cy="124.5" r="2.7" fill="#4b5ac4"/>
<circle cx="452.5" cy="121.0" r="2.3" fill="#f4f4f4" stroke="#b0b0b0" stroke-width="0.5"/>
<circle cx="453.0" cy="128.0" r="2.3" fill="#f4f4f4" stroke="#b0b0b0" stroke-width="0.5"/>
<circle cx="447.0" cy="119.0" r="2.3" fill="#f4f4f4" stroke="#b0b0b0" stroke-width="0.5"/>
<circle cx="434.0" cy="117.0" r="2.3" fill="#f4f4f4" stroke="#b0b0b0" stroke-width="0.5"/>
<circle cx="441.0" cy="133.0" r="2.3" fill="#f4f4f4" stroke="#b0b0b0" stroke-width="0.5"/>
<circle cx="462.0" cy="110.0" r="2.2" fill="#727272"/>
<circle cx="468.0" cy="107.0" r="2.7" fill="#e1261f"/>
<circle cx="474.0" cy="111.0" r="2.2" fill="#727272"/>
<circle cx="474.0" cy="118.0" r="2.2" fill="#727272"/>
<circle cx="468.0" cy="121.0" r="2.2" fill="#727272"/>
<circle cx="462.0" cy="117.0" r="2.2" fill="#727272"/>
<circle cx="480.0" cy="107.0" r="2.2" fill="#727272"/>
<circle cx="486.0" cy="104.5" r="2.2" fill="#727272"/>
<circle cx="492.0" cy="108.0" r="2.2" fill="#727272"/>
<circle cx="492.0" cy="115.0" r="2.2" fill="#727272"/>
<circle cx="486.0" cy="118.0" r="2.7" fill="#e1261f"/>
<circle cx="480.0" cy="114.5" r="2.2" fill="#727272"/>
<circle cx="477.0" cy="112.0" r="2.7" fill="#e1261f"/>
<circle cx="466.0" cy="104.0" r="2.7" fill="#e1261f"/>
<circle cx="458.0" cy="121.0" r="2.7" fill="#e1261f"/>
<circle cx="467.0" cy="126.0" r="2.7" fill="#e1261f"/>
<circle cx="482.0" cy="103.0" r="2.7" fill="#e1261f"/>
<circle cx="496.0" cy="119.0" r="2.7" fill="#e1261f"/>
<circle cx="475.0" cy="123.0" r="2.7" fill="#e1261f"/>
<circle cx="457.0" cy="107.0" r="2.3" fill="#f4f4f4" stroke="#b0b0b0" stroke-width="0.5"/>
<circle cx="472.0" cy="103.0" r="2.3" fill="#f4f4f4" stroke="#b0b0b0" stroke-width="0.5"/>
<circle cx="490.0" cy="100.5" r="2.3" fill="#f4f4f4" stroke="#b0b0b0" stroke-width="0.5"/>
<circle cx="497.0" cy="106.0" r="2.3" fill="#f4f4f4" stroke="#b0b0b0" stroke-width="0.5"/>
<circle cx="462.0" cy="125.0" r="2.3" fill="#f4f4f4" stroke="#b0b0b0" stroke-width="0.5"/>
<circle cx="480.0" cy="120.0" r="2.3" fill="#f4f4f4" stroke="#b0b0b0" stroke-width="0.5"/>
<circle cx="470.0" cy="128.0" r="2.3" fill="#f4f4f4" stroke="#b0b0b0" stroke-width="0.5"/><path d="M427.0,168.0L426.0,160.5M426.0,160.5L420.5,158.0M426.0,160.5L431.0,156.5M426.0,160.5L425.0,155.0M427.0,168.0L419.5,173.0M419.5,173.0L414.5,171.0M419.5,173.0L421.5,181.0M421.5,181.0L416.5,185.5M416.5,185.5L412.5,183.0M416.5,185.5L415.5,190.0M416.5,185.5L420.0,189.5M421.5,181.0L430.5,184.0M430.5,184.0L433.0,189.5M430.5,184.0L437.0,178.0M437.0,178.0L435.0,170.0M435.0,170.0L427.0,168.0M435.0,170.0L441.0,164.5M441.0,164.5L447.5,168.5M447.5,168.5L452.5,166.5M447.5,168.5L446.0,176.5M446.0,176.5L437.0,178.0M446.0,176.5L449.0,183.5M449.0,183.5L454.0,183.0M449.0,183.5L448.5,188.5M449.0,183.5L453.0,179.0M472.0,168.0L467.5,165.5M472.0,168.0L474.5,172.5M413.5,204.7L419.4,208.1M419.4,208.1L419.4,214.9M419.4,214.9L413.5,218.3M413.5,218.3L407.6,214.9M407.6,214.9L407.6,208.1M407.6,208.1L413.5,204.7M419.4,208.1L426.0,207.0M426.0,207.0L428.5,214.5M428.5,214.5L422.5,220.5M422.5,220.5L419.4,214.9M422.5,220.5L421.0,226.0M428.5,214.5L433.0,218.0M413.5,204.7L413.0,197.0M413.0,197.0L417.5,194.0M407.6,208.1L405.0,207.0M407.6,214.9L405.0,217.0M413.5,218.3L413.0,224.5M426.0,207.0L434.0,202.5M434.0,202.5L441.5,207.5M441.5,207.5L448.0,204.5M448.0,204.5L452.5,201.0M448.0,204.5L453.0,208.0M448.0,204.5L447.0,199.0M434.0,202.5L434.0,197.0M441.5,207.5L441.0,213.0M462.0,190.0L468.0,187.0M480.0,187.0L486.0,184.5M468.0,187.0L474.0,191.0M486.0,184.5L492.0,188.0M474.0,191.0L474.0,198.0M492.0,188.0L492.0,195.0M474.0,198.0L468.0,201.0M492.0,195.0L486.0,198.0M468.0,201.0L462.0,197.0M486.0,198.0L480.0,194.5M462.0,197.0L462.0,190.0M480.0,194.5L480.0,187.0M474.0,198.0L477.0,192.0M477.0,192.0L480.0,194.5M462.0,190.0L466.0,184.0M462.0,197.0L458.0,201.0M468.0,201.0L467.0,206.0M480.0,187.0L482.0,183.0M492.0,195.0L496.0,199.0M474.0,198.0L475.0,203.0M462.0,190.0L457.0,187.0M474.0,191.0L472.0,183.0M486.0,184.5L490.0,180.5M492.0,188.0L497.0,186.0M458.0,201.0L462.0,205.0M480.0,194.5L480.0,200.0M467.0,206.0L470.0,208.0" stroke="#dadada" stroke-width="3.2" stroke-linecap="round" fill="none"/>
<path d="M427.0,168.0L426.0,160.5M426.0,160.5L420.5,158.0M426.0,160.5L431.0,156.5M426.0,160.5L425.0,155.0M427.0,168.0L419.5,173.0M419.5,173.0L414.5,171.0M419.5,173.0L421.5,181.0M421.5,181.0L416.5,185.5M416.5,185.5L412.5,183.0M416.5,185.5L415.5,190.0M416.5,185.5L420.0,189.5M421.5,181.0L430.5,184.0M430.5,184.0L433.0,189.5M430.5,184.0L437.0,178.0M437.0,178.0L435.0,170.0M435.0,170.0L427.0,168.0M435.0,170.0L441.0,164.5M441.0,164.5L447.5,168.5M447.5,168.5L452.5,166.5M447.5,168.5L446.0,176.5M446.0,176.5L437.0,178.0M446.0,176.5L449.0,183.5M449.0,183.5L454.0,183.0M449.0,183.5L448.5,188.5M449.0,183.5L453.0,179.0M472.0,168.0L467.5,165.5M472.0,168.0L474.5,172.5M413.5,204.7L419.4,208.1M419.4,208.1L419.4,214.9M419.4,214.9L413.5,218.3M413.5,218.3L407.6,214.9M407.6,214.9L407.6,208.1M407.6,208.1L413.5,204.7M419.4,208.1L426.0,207.0M426.0,207.0L428.5,214.5M428.5,214.5L422.5,220.5M422.5,220.5L419.4,214.9M422.5,220.5L421.0,226.0M428.5,214.5L433.0,218.0M413.5,204.7L413.0,197.0M413.0,197.0L417.5,194.0M407.6,208.1L405.0,207.0M407.6,214.9L405.0,217.0M413.5,218.3L413.0,224.5M426.0,207.0L434.0,202.5M434.0,202.5L441.5,207.5M441.5,207.5L448.0,204.5M448.0,204.5L452.5,201.0M448.0,204.5L453.0,208.0M448.0,204.5L447.0,199.0M434.0,202.5L434.0,197.0M441.5,207.5L441.0,213.0M462.0,190.0L468.0,187.0M480.0,187.0L486.0,184.5M468.0,187.0L474.0,191.0M486.0,184.5L492.0,188.0M474.0,191.0L474.0,198.0M492.0,188.0L492.0,195.0M474.0,198.0L468.0,201.0M492.0,195.0L486.0,198.0M468.0,201.0L462.0,197.0M486.0,198.0L480.0,194.5M462.0,197.0L462.0,190.0M480.0,194.5L480.0,187.0M474.0,198.0L477.0,192.0M477.0,192.0L480.0,194.5M462.0,190.0L466.0,184.0M462.0,197.0L458.0,201.0M468.0,201.0L467.0,206.0M480.0,187.0L482.0,183.0M492.0,195.0L496.0,199.0M474.0,198.0L475.0,203.0M462.0,190.0L457.0,187.0M474.0,191.0L472.0,183.0M486.0,184.5L490.0,180.5M492.0,188.0L497.0,186.0M458.0,201.0L462.0,205.0M480.0,194.5L480.0,200.0M467.0,206.0L470.0,208.0" stroke="#f2f2f2" stroke-width="1.1" stroke-linecap="round" fill="none"/>
<circle cx="427.0" cy="168.0" r="2.7" fill="#cfcfee"/>
<circle cx="426.0" cy="160.5" r="2.2" fill="#d6d6d6"/>
<circle cx="420.5" cy="158.0" r="2.3" fill="#fbfbfb" stroke="#e0e0e0" stroke-width="0.5"/>
<circle cx="431.0" cy="156.5" r="2.3" fill="#fbfbfb" stroke="#e0e0e0" stroke-width="0.5"/>
<circle cx="425.0" cy="155.0" r="2.3" fill="#fbfbfb" stroke="#e0e0e0" stroke-width="0.5"/>
<circle cx="419.5" cy="173.0" r="2.2" fill="#d6d6d6"/>
<circle cx="414.5" cy="171.0" r="2.7" fill="#f9c4a2"/>
<circle cx="421.5" cy="181.0" r="2.7" fill="#cfcfee"/>
<circle cx="416.5" cy="185.5" r="2.2" fill="#d6d6d6"/>
<circle cx="412.5" cy="183.0" r="2.3" fill="#fbfbfb" stroke="#e0e0e0" stroke-width="0.5"/>
<circle cx="415.5" cy="190.0" r="2.3" fill="#fbfbfb" stroke="#e0e0e0" stroke-width="0.5"/>
<circle cx="420.0" cy="189.5" r="2.3" fill="#fbfbfb" stroke="#e0e0e0" stroke-width="0.5"/>
<circle cx="430.5" cy="184.0" r="2.2" fill="#d6d6d6"/>
<circle cx="433.0" cy="189.5" r="2.7" fill="#f9c4a2"/>
<circle cx="437.0" cy="178.0" r="2.2" fill="#d6d6d6"/>
<circle cx="435.0" cy="170.0" r="2.2" fill="#d6d6d6"/>
<circle cx="441.0" cy="164.5" r="2.7" fill="#cfcfee"/>
<circle cx="447.5" cy="168.5" r="2.2" fill="#d6d6d6"/>
<circle cx="452.5" cy="166.5" r="2.3" fill="#fbfbfb" stroke="#e0e0e0" stroke-width="0.5"/>
<circle cx="446.0" cy="176.5" r="2.7" fill="#cfcfee"/>
<circle cx="449.0" cy="183.5" r="2.2" fill="#d6d6d6"/>
<circle cx="454.0" cy="183.0" r="2.3" fill="#fbfbfb" stroke="#e0e0e0" stroke-width="0.5"/>
<circle cx="448.5" cy="188.5" r="2.3" fill="#fbfbfb" stroke="#e0e0e0" stroke-width="0.5"/>
<circle cx="453.0" cy="179.0" r="2.3" fill="#fbfbfb" stroke="#e0e0e0" stroke-width="0.5"/>
<circle cx="472.0" cy="168.0" r="2.7" fill="#f9c4a2"/>
<circle cx="467.5" cy="165.5" r="2.3" fill="#fbfbfb" stroke="#e0e0e0" stroke-width="0.5"/>
<circle cx="474.5" cy="172.5" r="2.3" fill="#fbfbfb" stroke="#e0e0e0" stroke-width="0.5"/>
<circle cx="413.5" cy="204.7" r="2.2" fill="#d6d6d6"/>
<circle cx="419.4" cy="208.1" r="2.2" fill="#d6d6d6"/>
<circle cx="419.4" cy="214.9" r="2.2" fill="#d6d6d6"/>
<circle cx="413.5" cy="218.3" r="2.2" fill="#d6d6d6"/>
<circle cx="407.6" cy="214.9" r="2.2" fill="#d6d6d6"/>
<circle cx="407.6" cy="208.1" r="2.2" fill="#d6d6d6"/>
<circle cx="426.0" cy="207.0" r="2.2" fill="#d6d6d6"/>
<circle cx="428.5" cy="214.5" r="2.2" fill="#d6d6d6"/>
<circle cx="422.5" cy="220.5" r="2.7" fill="#cfcfee"/>
<circle cx="421.0" cy="226.0" r="2.3" fill="#fbfbfb" stroke="#e0e0e0" stroke-width="0.5"/>
<circle cx="433.0" cy="218.0" r="2.3" fill="#fbfbfb" stroke="#e0e0e0" stroke-width="0.5"/>
<circle cx="413.0" cy="197.0" r="2.7" fill="#f9c4a2"/>
<circle cx="417.5" cy="194.0" r="2.3" fill="#fbfbfb" stroke="#e0e0e0" stroke-width="0.5"/>
<circle cx="405.0" cy="207.0" r="2.3" fill="#fbfbfb" stroke="#e0e0e0" stroke-width="0.5"/>
<circle cx="405.0" cy="217.0" r="2.3" fill="#fbfbfb" stroke="#e0e0e0" stroke-width="0.5"/>
<circle cx="413.0" cy="224.5" r="2.3" fill="#fbfbfb" stroke="#e0e0e0" stroke-width="0.5"/>
<circle cx="434.0" cy="202.5" r="2.2" fill="#d6d6d6"/>
<circle cx="441.5" cy="207.5" r="2.2" fill="#d6d6d6"/>
<circle cx="448.0" cy="204.5" r="2.7" fill="#cfcfee"/>
<circle cx="452.5" cy="201.0" r="2.3" fill="#fbfbfb" stroke="#e0e0e0" stroke-width="0.5"/>
<circle cx="453.0" cy="208.0" r="2.3" fill="#fbfbfb" stroke="#e0e0e0" stroke-width="0.5"/>
<circle cx="447.0" cy="199.0" r="2.3" fill="#fbfbfb" stroke="#e0e0e0" stroke-width="0.5"/>
<circle cx="434.0" cy="197.0" r="2.3" fill="#fbfbfb" stroke="#e0e0e0" stroke-width="0.5"/>
<circle cx="441.0" cy="213.0" r="2.3" fill="#fbfbfb" stroke="#e0e0e0" stroke-width="0.5"/>
<circle cx="462.0" cy="190.0" r="2.2" fill="#d6d6d6"/>
<circle cx="468.0" cy="187.0" r="2.7" fill="#f9c4a2"/>
<circle cx="474.0" cy="191.0" r="2.2" fill="#d6d6d6"/>
<circle cx="474.0" cy="198.0" r="2.2" fill="#d6d6d6"/>
<circle cx="468.0" cy="201.0" r="2.2" fill="#d6d6d6"/>
<circle cx="462.0" cy="197.0" r="2.2" fill="#d6d6d6"/>
<circle cx="480.0" cy="187.0" r="2.2" fill="#d6d6d6"/>
<circle cx="486.0" cy="184.5" r="2.2" fill="#d6d6d6"/>
<circle cx="492.0" cy="188.0" r="2.2" fill="#d6d6d6"/>
<circle cx="492.0" cy="195.0" r="2.2" fill="#d6d6d6"/>
<circle cx="486.0" cy="198.0" r="2.7" fill="#f9c4a2"/>
<circle cx="480.0" cy="194.5" r="2.2" fill="#d6d6d6"/>
<circle cx="477.0" cy="192.0" r="2.7" fill="#f9c4a2"/>
<circle cx="466.0" cy="184.0" r="2.7" fill="#f9c4a2"/>
<circle cx="458.0" cy="201.0" r="2.7" fill="#f9c4a2"/>
<circle cx="467.0" cy="206.0" r="2.7" fill="#f9c4a2"/>
<circle cx="482.0" cy="183.0" r="2.7" fill="#f9c4a2"/>
<circle cx="496.0" cy="199.0" r="2.7" fill="#f9c4a2"/>
<circle cx="475.0" cy="203.0" r="2.7" fill="#f9c4a2"/>
<circle cx="457.0" cy="187.0" r="2.3" fill="#fbfbfb" stroke="#e0e0e0" stroke-width="0.5"/>
<circle cx="472.0" cy="183.0" r="2.3" fill="#fbfbfb" stroke="#e0e0e0" stroke-width="0.5"/>
<circle cx="490.0" cy="180.5" r="2.3" fill="#fbfbfb" stroke="#e0e0e0" stroke-width="0.5"/>
<circle cx="497.0" cy="186.0" r="2.3" fill="#fbfbfb" stroke="#e0e0e0" stroke-width="0.5"/>
<circle cx="462.0" cy="205.0" r="2.3" fill="#fbfbfb" stroke="#e0e0e0" stroke-width="0.5"/>
<circle cx="480.0" cy="200.0" r="2.3" fill="#fbfbfb" stroke="#e0e0e0" stroke-width="0.5"/>
<circle cx="470.0" cy="208.0" r="2.3" fill="#fbfbfb" stroke="#e0e0e0" stroke-width="0.5"/>
<path d="M12.0,446.8L40.7,459.5M15.7,448.7L33.3,457.3M10.6,445.2L53.9,448.7M23.1,447.8L49.3,452.6M10.5,443.1L54.2,409.2M21.6,451.4L46.3,462.9M9.4,444.3L40.1,429.8M11.4,446.4L48.0,461.4M11.3,443.5L32.5,433.8M20.6,446.1L47.6,448.3M22.7,435.1L53.0,414.8M22.4,450.0L55.9,461.7M9.2,444.2L42.3,423.2M9.8,445.7L48.1,461.6M47.3,436.0L77.9,419.1M40.5,439.3L69.9,402.4M51.3,439.8L89.2,439.2M43.3,440.4L75.7,443.9M50.3,434.8L77.6,420.9M40.4,439.7L80.6,413.6M44.9,437.7L59.2,430.9M54.6,442.4L63.2,443.8M40.8,440.0L80.6,442.4M41.3,439.4L76.3,421.5M128.0,433.6L134.3,424.5M131.3,439.9L167.9,423.5M126.0,439.8L138.1,429.2M120.4,444.8L159.8,420.1M125.3,430.7L128.7,421.7M123.4,437.9L135.1,413.6M123.9,443.1L143.8,433.5M122.3,443.6L141.2,432.1M121.4,441.4L139.4,395.0M131.5,433.6L144.4,420.6M171.3,433.8L197.6,408.1M165.7,438.3L186.5,390.2M168.3,436.3L187.8,413.9M170.8,431.0L181.6,414.1M165.6,437.5L170.8,416.0M167.3,431.1L178.9,386.2M167.1,437.9L201.1,402.5M172.0,435.6L196.9,419.7M172.8,428.6L192.7,399.6M167.6,432.7L183.1,389.3M171.0,425.5L186.1,389.1M178.1,430.1L193.4,418.5M175.2,431.0L209.3,401.2M176.7,433.3L200.7,419.4M256.4,438.5L280.0,407.0M251.9,439.3L265.6,384.4M258.5,434.8L279.4,404.6M252.1,433.0L254.7,416.0M249.6,430.6L249.0,403.9M248.5,434.7L241.9,381.2M250.5,445.9L272.7,395.3M248.1,434.8L241.2,389.4M252.7,442.0L279.7,391.9M250.0,445.7L249.6,378.3M257.2,428.3L269.4,396.4M249.9,445.4L245.2,389.7M255.3,430.0L266.0,395.4M249.6,443.9L242.6,388.0M279.9,438.3L308.3,404.7M270.2,449.5L279.8,427.9M282.1,442.7L291.8,436.9M284.7,441.7L316.4,423.6M277.7,443.9L312.1,416.7M278.0,444.1L291.3,434.2M282.1,445.5L305.6,436.7M274.7,441.5L290.0,413.8M277.2,445.6L300.4,431.4M278.3,435.3L292.1,411.0M339.9,437.6L339.5,406.2M339.4,442.9L332.7,405.8M340.9,441.5L349.2,397.0M342.2,436.6L347.0,416.6M337.9,434.4L333.7,411.6M339.5,442.7L335.0,415.8M337.4,433.8L331.6,406.8M340.5,441.5L343.7,412.8M339.0,438.9L333.3,398.2M340.6,443.5L346.9,418.5M354.3,442.1L333.6,424.5M354.4,435.9L339.4,405.7M357.7,434.8L350.3,395.0M358.0,438.7L349.6,404.7M358.9,440.1L351.4,391.5M357.4,433.7L352.5,408.3M347.2,435.8L325.8,417.2M353.8,436.4L332.1,399.2M355.5,443.1L339.8,429.5M358.8,436.3L354.8,399.6M422.1,445.4L449.2,425.0M421.6,444.5L450.3,399.1M423.7,441.7L439.7,418.5M421.2,442.5L434.3,392.2M425.8,442.0L443.0,427.4M421.8,438.0L428.8,402.7M426.0,437.2L436.3,420.4M421.8,438.5L431.8,390.6M420.3,446.7L445.5,417.2M421.7,438.4L430.0,397.9M465.8,429.2L458.3,397.8M470.1,434.7L470.5,397.2M475.3,434.1L481.2,419.9M470.3,443.5L474.6,389.1M472.0,441.5L490.7,389.3M475.2,436.8L483.7,420.1M464.4,434.8L454.9,414.4M471.1,442.0L480.3,400.0M470.4,439.0L472.2,400.2M469.3,439.3L465.6,399.8M467.7,441.5L451.2,401.9M474.7,432.1L490.6,382.1M467.2,431.7L461.5,399.7M469.7,446.1L452.8,387.9M497.2,433.4L491.1,403.9M496.2,440.4L472.7,399.7M488.9,439.4L474.1,429.2M498.4,438.4L494.0,415.4M498.5,443.0L487.5,414.3M497.8,441.4L489.5,420.8M491.4,432.2L478.9,410.8M498.0,444.3L477.3,415.6M499.9,446.7L491.5,422.6M496.9,443.6L464.7,407.5M497.0,443.0L483.7,425.1M499.6,445.3L487.6,393.5M499.5,444.6L491.3,407.1M497.8,444.5L461.1,403.2M531.9,432.7L511.6,396.8M539.0,445.2L511.6,397.3M535.0,439.1L508.7,397.4M533.2,442.9L510.4,429.5M537.8,444.7L505.5,410.7M524.6,438.0L498.8,423.0M531.7,437.3L508.4,410.2M539.7,446.5L511.2,403.0M536.3,441.1L519.0,413.3M532.3,432.4L526.6,421.7M532.4,432.3L515.0,399.1M527.3,436.8L504.6,418.6M538.8,445.5L509.9,408.9M534.9,439.3L526.3,426.2M30.9,445.6L45.1,422.0M36.7,439.3L45.7,429.0M39.5,439.4L63.6,419.9M36.7,442.9L62.4,427.0M35.0,444.2L58.8,430.9M32.3,444.8L44.9,432.6M35.2,443.3L56.0,428.7M37.3,436.1L43.7,426.6M42.1,440.6L57.1,432.6M31.8,445.6L63.8,421.4M31.9,446.2L61.2,434.6M30.0,447.0L41.8,428.6M381.6,442.9L397.3,402.0M380.1,443.2L381.6,394.9M383.0,440.9L401.6,402.8M380.9,441.1L385.1,412.0M385.1,431.4L393.8,404.8M379.2,438.3L377.1,414.9M385.0,434.4L400.2,396.1M379.6,443.4L374.9,400.1M380.1,446.6L383.1,422.7M380.6,442.3L386.4,396.4M379.3,442.4L373.1,402.7M378.3,432.5L376.7,418.5M444.0,396.1L420.7,381.0M444.5,398.2L421.2,390.5M437.9,394.5L413.6,383.3M437.7,397.8L405.9,392.3M441.9,401.9L411.8,409.1M444.4,401.9L424.8,408.6M438.3,391.4L433.1,387.6M442.5,394.4L424.2,380.9M449.7,400.0L429.0,403.3M442.9,397.2L424.9,390.3M151.5,441.3L155.0,427.3M153.0,439.9L169.1,402.0M159.5,438.6L174.0,425.8M156.0,434.6L159.0,428.4M153.7,441.6L171.1,416.2M150.0,446.2L150.3,400.8M150.4,442.6L154.1,403.9M152.0,440.3L158.2,420.0M151.2,445.5L169.0,423.8M156.2,435.1L164.1,419.9M150.3,440.7L151.8,414.5M157.7,438.0L166.6,427.5M289.7,413.6L262.0,396.2M298.2,419.0L264.0,399.1M293.6,414.6L279.9,403.0M294.2,418.3L253.6,406.1M291.7,413.9L271.6,399.2M294.4,418.2L258.9,406.8M292.0,414.2L261.0,392.0M294.6,415.4L273.5,397.6M199.6,399.9L173.7,392.6M199.8,400.0L173.4,406.8M198.1,400.9L173.1,412.6M196.5,398.9L181.9,394.4M199.9,400.0L177.2,410.8M198.7,400.0L180.7,399.8M197.0,400.6L181.7,404.0M192.0,397.5L177.4,393.1M64.7,384.9L87.8,409.0M61.7,381.3L91.3,404.1M60.4,380.1L81.5,388.6M65.3,384.2L77.8,394.2M67.4,386.9L79.9,398.5M66.0,385.1L82.5,399.1M99.6,444.5L94.9,410.9M105.8,441.6L126.7,422.0M100.1,444.6L101.1,424.6M102.5,433.9L104.8,422.2M100.8,441.3L104.5,414.6M102.1,437.0L105.3,422.2M102.2,444.3L123.8,418.7M106.1,438.7L112.4,430.0M104.1,432.9L107.2,422.3M99.0,437.1L97.1,417.5M100.0,447.0L94.5,404.5M100.0,446.4L100.5,400.7M213.5,441.1L225.3,421.4M208.2,435.8L202.5,400.1M207.3,438.6L199.6,415.2M216.5,437.3L233.0,412.8M216.8,433.3L231.5,403.7M209.9,445.2L207.1,396.8M205.9,432.2L202.9,421.7M208.2,441.3L197.5,408.0M208.6,439.2L204.8,418.7M211.0,434.8L213.4,404.1M215.1,438.6L232.5,410.0M208.3,441.7L198.7,411.2M212.8,439.0L219.4,420.1M209.2,443.9L196.6,392.5M306.2,439.3L320.3,421.7M300.9,442.3L309.2,400.3M307.6,433.7L320.7,410.9M300.9,445.9L324.3,416.1M304.4,433.6L308.7,420.5M301.0,441.6L309.3,399.1M311.3,437.0L328.0,422.2M303.0,441.8L313.5,423.1M306.8,438.9L317.2,426.3M312.7,437.0L317.5,433.3M306.9,433.4L318.6,410.3M308.0,437.9L335.1,407.2M25.6,422.4L51.6,433.7M29.6,417.3L50.1,411.4M24.4,417.8L51.6,404.1M28.6,417.3L37.5,414.5M22.8,419.8L36.9,418.7M21.7,419.1L40.2,409.6M20.1,420.0L37.8,418.4M28.5,421.6L58.0,427.0M29.3,416.1L56.1,404.9M25.6,422.8L42.5,431.4M153.8,403.0L188.7,410.7M148.8,398.9L160.5,397.4M152.3,405.1L160.4,408.5M150.7,395.2L177.1,383.4M145.9,404.6L162.4,417.5M153.3,394.5L177.9,384.2M141.5,401.1L156.7,411.8M148.6,407.1L177.0,430.6M148.6,403.8L170.0,413.2M144.9,403.2L167.9,418.4M238.8,399.5L263.6,398.2M233.3,399.6L254.2,397.3M236.2,398.6L253.8,394.7M239.1,404.4L258.7,413.9M243.7,402.4L265.6,406.2M234.4,399.2L268.9,392.5M244.9,399.7L268.6,399.2M242.9,395.7L257.5,390.9M233.5,399.5L263.3,394.8M242.9,397.3L270.2,391.5M401.0,442.3L409.7,402.6M401.4,443.6L412.8,416.4M402.4,433.5L405.0,419.4M400.0,436.4L400.0,396.2M402.0,443.4L413.2,422.8M401.6,437.9L405.3,417.5M398.3,434.0L394.4,403.2M401.4,444.1L419.7,405.8M398.6,436.4L393.3,395.3M398.8,442.3L389.1,404.3M404.2,433.9L407.4,423.8M398.6,431.4L395.1,392.8" stroke="#f3bb8a" stroke-opacity="0.2" stroke-width="1.6" stroke-linecap="round" fill="none"/>
<path d="M45.3,417.2L48.4,413.5L53.1,414.3L54.7,418.8L51.6,422.5L46.9,421.7ZM46.7,409.0L49.8,405.3L54.5,406.1L56.2,410.6L53.1,414.3L48.4,413.5ZM40.3,403.6L43.4,400.0L48.2,400.8L49.8,405.3L46.7,409.0L42.0,408.1ZM43.4,400.0L42.6,395.2L47.3,393.1L51.1,396.7L48.2,400.8M48.4,413.5L44.1,412.7M46.7,409.0L42.5,408.2M141.2,390.2L146.0,387.5L150.8,390.2L150.8,395.8L146.0,398.5L141.2,395.8ZM146.0,382.0L150.8,379.2L155.5,382.0L155.5,387.5L150.8,390.2L146.0,387.5ZM141.2,373.8L146.0,371.0L150.8,373.8L150.8,379.2L146.0,382.0L141.2,379.2ZM146.0,371.0L146.9,365.5L152.9,365.1L155.5,370.5L150.8,373.8M146.0,387.5L141.7,385.0M146.0,382.0L141.7,379.5M165.0,391.0L169.3,393.5L169.3,398.5L165.0,401.0L160.7,398.5L160.7,393.5ZM173.7,391.0L178.0,393.5L178.0,398.5L173.7,401.0L169.3,398.5L169.3,393.5ZM178.0,383.5L182.3,386.0L182.3,391.0L178.0,393.5L173.7,391.0L173.7,386.0ZM182.3,386.0L187.1,384.2L190.1,388.8L187.1,393.2L182.3,391.0M169.3,393.5L169.3,389.0M173.7,391.0L173.7,386.5M230.3,383.3L235.2,384.2L236.9,388.9L233.7,392.7L228.8,391.8L227.1,387.1ZM238.4,380.3L243.4,381.2L245.1,385.9L241.8,389.7L236.9,388.9L235.2,384.2ZM239.9,371.8L244.9,372.7L246.6,377.4L243.4,381.2L238.4,380.3L236.7,375.6ZM244.9,372.7L248.7,369.4L253.1,372.6L251.8,377.9L246.6,377.4M235.2,384.2L233.7,379.9M238.4,380.3L236.9,376.1M276.1,383.1L280.8,384.8L281.7,389.7L277.9,392.9L273.2,391.2L272.3,386.3ZM284.7,381.6L289.4,383.3L290.2,388.2L286.4,391.4L281.7,389.7L280.8,384.8ZM287.6,373.4L292.3,375.1L293.2,380.1L289.4,383.3L284.7,381.6L283.8,376.6ZM292.3,375.1L296.7,372.6L300.4,376.5L298.3,381.5L293.2,380.1M280.8,384.8L280.0,380.4M284.7,381.6L283.9,377.1M452.0,388.5L456.6,387.7L459.5,391.2L458.0,395.5L453.4,396.3L450.5,392.8ZM458.1,383.4L462.7,382.6L465.6,386.1L464.1,390.4L459.5,391.2L456.6,387.7ZM456.8,375.5L461.3,374.7L464.2,378.2L462.7,382.6L458.1,383.4L455.2,379.8ZM461.3,374.7L463.6,370.7L468.4,372.1L468.9,377.0L464.2,378.2M456.6,387.7L453.9,384.5M458.1,383.4L455.5,380.2M509.2,387.3L513.7,388.9L514.5,393.6L510.8,396.7L506.3,395.1L505.5,390.4ZM517.4,385.8L521.9,387.5L522.7,392.2L519.0,395.3L514.5,393.6L513.7,388.9ZM520.2,378.0L524.7,379.7L525.5,384.4L521.9,387.5L517.4,385.8L516.5,381.1ZM524.7,379.7L528.9,377.2L532.5,381.0L530.4,385.7L525.5,384.4M513.7,388.9L512.9,384.7M517.4,385.8L516.6,381.6M420.0,385.0L423.8,388.2L428.5,386.5L432.4,389.7L437.1,388.0L440.9,391.2L445.6,389.5M470.0,376.0L474.3,378.5L478.7,376.0L483.0,378.5L487.3,376.0L491.7,378.5L496.0,376.0M108,379.5L119,385L127,380M118,385L119.5,397.5M120.6,385L122.1,397.5M347,388L346,380M347,388L357,391M365,382L372,376L380,380L388,376M185,380L190,372L200,380L210,372L220,378M289.7,388.0L294.3,388.0L296.6,392.0L294.3,396.0L289.7,396.0L287.4,392.0ZM296.6,384.0L301.2,384.0L303.5,388.0L301.2,392.0L296.6,392.0L294.3,388.0ZM296.6,376.1L301.2,376.1L303.5,380.0L301.2,384.0L296.6,384.0L294.3,380.0ZM301.2,376.1L304.2,372.5L308.6,374.7L308.3,379.7L303.5,380.0M294.3,388.0L292.2,384.4M296.6,384.0L294.5,380.4M532.8,436.2L537.2,436.2L539.4,440.0L537.2,443.8L532.8,443.8L530.6,440.0ZM539.4,432.4L543.8,432.4L546.0,436.2L543.8,440.0L539.4,440.0L537.2,436.2ZM539.4,424.8L543.8,424.8L546.0,428.6L543.8,432.4L539.4,432.4L537.2,428.6ZM543.8,424.8L546.6,421.3L550.9,423.4L550.6,428.2L546.0,428.6M537.2,436.2L535.2,432.8M539.4,432.4L537.4,428.9M66,385L72,378L78,382M70,378L69,372M71.5,378L70.5,372M250.0,372.0L253.7,374.6L257.8,372.7L261.5,375.3L265.5,373.4L269.2,375.9L273.3,374.0M300.0,374.0L304.1,375.9L307.8,373.3L311.8,375.2L315.5,372.6L319.6,374.5M380.0,372.0L383.9,374.2L387.8,372.0L391.7,374.2L395.6,372.0L399.5,374.2M160.0,438.0L163.9,435.8L163.9,431.2L167.8,429.0L167.8,424.5L171.7,422.2L171.7,417.8M365.0,445.0L369.4,445.8L372.3,442.3L376.8,443.1L379.6,439.7L384.1,440.4L387.0,437.0M418,380L424,376L430,381L436,377M490,380L497,385L505,380M476,372L486,376M135.0,372.0L138.7,374.6L142.8,372.7L146.5,375.3L150.5,373.4L154.2,375.9M225.0,370.0L228.7,372.6L232.8,370.7L236.5,373.3L240.5,371.4L244.2,373.9L248.3,372.0M83.6,381.1L87.7,381.8L89.1,385.7L86.4,388.9L82.3,388.2L80.9,384.3ZM90.4,378.6L94.5,379.3L96.0,383.2L93.3,386.5L89.1,385.7L87.7,381.8ZM91.7,371.4L95.8,372.1L97.2,376.1L94.5,379.3L90.4,378.6L89.0,374.6ZM95.8,372.1L99.0,369.4L102.7,372.1L101.6,376.5L97.2,376.1M87.7,381.8L86.4,378.2M90.4,378.6L89.1,375.0M255.7,390.9L258.9,393.6L258.2,397.7L254.3,399.1L251.1,396.4L251.8,392.3ZM262.9,392.1L266.1,394.8L265.4,399.0L261.4,400.4L258.2,397.7L258.9,393.6ZM267.6,386.6L270.8,389.3L270.1,393.4L266.1,394.8L262.9,392.1L263.6,388.0ZM270.8,389.3L275.0,388.5L276.8,392.7L273.7,395.9L270.1,393.4M258.9,393.6L259.6,389.8M262.9,392.1L263.5,388.4M440.0,371.0L443.5,373.0L443.5,377.0L440.0,379.0L436.5,377.0L436.5,373.0ZM446.9,371.0L450.4,373.0L450.4,377.0L446.9,379.0L443.5,377.0L443.5,373.0ZM450.4,365.0L453.9,367.0L453.9,371.0L450.4,373.0L446.9,371.0L446.9,367.0ZM453.9,367.0L457.7,365.6L460.1,369.2L457.7,372.8L453.9,371.0M443.5,373.0L443.5,369.4M446.9,371.0L446.9,367.4" stroke="#c4c4c4" stroke-width="0.8" fill="none"/>
<g stroke="#c0c0c0" stroke-width="0.9" fill="none"><circle cx="105.4" cy="377.9" r="3.2"/><circle cx="120.6" cy="401" r="3.0"/><circle cx="9.4" cy="377.2" r="2.6"/><circle cx="344.8" cy="377.2" r="2.6"/><circle cx="359.3" cy="390.9" r="2.6"/><circle cx="381.5" cy="396" r="2.8"/><circle cx="396" cy="409.5" r="2.8"/><circle cx="177" cy="385" r="2.6"/><circle cx="230" cy="383" r="2.6"/><circle cx="264" cy="377" r="3.2"/><circle cx="249" cy="386" r="2.4"/><circle cx="421" cy="380" r="2.3"/><circle cx="431" cy="390" r="2.3"/><circle cx="497" cy="385" r="2.3"/><circle cx="490" cy="376" r="2.3"/></g>
<g font-size="7" fill="#b8b8b8"><text x="127" y="382">H</text><text x="172" y="404" font-size="7.5">R²</text><text x="338" y="400" font-size="8">R</text><text x="396" y="382">OH</text><text x="40" y="390" font-size="6">OH</text><text x="404" y="395" font-size="6">R²</text></g>
<path d="M50.1,426.8L55.1,428.6L56.0,433.8L51.9,437.2L46.9,435.4L46.0,430.2ZM59.1,425.2L64.1,427.0L65.0,432.2L61.0,435.6L56.0,433.8L55.1,428.6ZM62.3,416.6L67.2,418.4L68.2,423.6L64.1,427.0L59.1,425.2L58.2,420.0ZM67.2,418.4L71.9,415.7L75.8,419.8L73.5,425.1L68.2,423.6M55.1,428.6L54.2,423.9M59.1,425.2L58.3,420.5M276.6,433.6L282.1,432.8L285.5,437.2L283.4,442.4L277.9,443.2L274.5,438.8ZM284.2,427.6L289.7,426.8L293.2,431.2L291.1,436.4L285.5,437.2L282.1,432.8ZM282.8,418.0L288.4,417.2L291.8,421.6L289.7,426.8L284.2,427.6L280.7,423.2ZM288.4,417.2L291.4,412.4L297.1,414.3L297.6,420.4L291.8,421.6M282.1,432.8L279.0,428.8M284.2,427.6L281.1,423.6M326.5,424.5L332.6,428.0L332.6,435.0L326.5,438.5L320.4,435.0L320.4,428.0ZM338.6,424.5L344.7,428.0L344.7,435.0L338.6,438.5L332.6,435.0L332.6,428.0ZM344.7,414.0L350.7,417.5L350.7,424.5L344.7,428.0L338.6,424.5L338.6,417.5ZM350.7,417.5L357.4,415.1L361.6,421.4L357.4,427.6L350.7,424.5M332.6,428.0L332.6,421.7M338.6,424.5L338.6,418.2M522.3,411.3L526.1,408.1L530.8,409.8L531.7,414.7L527.9,417.9L523.2,416.2ZM525.3,403.2L529.1,399.9L533.8,401.6L534.7,406.6L530.8,409.8L526.1,408.1ZM519.7,396.5L523.5,393.3L528.2,395.0L529.1,399.9L525.3,403.2L520.6,401.4ZM523.5,393.3L523.5,388.2L528.8,387.0L532.0,391.3L528.2,395.0M526.1,408.1L521.9,406.5M525.3,403.2L521.0,401.6M9.4,379.8L17.4,380.8L23.9,375.7M17.4,380.8L18.8,388.8M21.7,391L28.2,393.1L35.4,388L43,389M35.4,388L34.7,379.4L36.9,375.7M28.2,393.1L28.9,402.5L23.1,407.3M23.1,411L23.1,417L30,425M23.1,417L34,416.3M23.1,417L17.4,424.2M17.4,427L18.1,430L13,435.8L13.7,444.5M43.4,434.3L36.2,437.2L28.9,443L17.4,445.2M75,396.7L89.5,398.2L93.8,411.2L108.3,414.1L111.2,421.3M93.8,411.2L86,418M150.0,418.0L154.4,421.3L159.3,418.8L163.7,422.1L168.6,419.6L173.0,422.9L177.9,420.4L182.3,423.7L187.2,421.3L191.6,424.6L196.5,422.1L200.9,425.4L205.8,422.9L210.2,426.2L215.1,423.7M305.8,396.7L309.0,401.8L315.0,401.6L318.2,406.7L324.2,406.5L327.3,411.5L333.3,411.3L336.5,416.4L342.5,416.2M372,412L378,418L381,426L383,432M387,436L399,436M404,433L408,426L402,419L392,421L381,426M408,426L415,433M393,421L394,414M440.1,396.7L445.9,403.2L445.9,414.1L451.7,419.9L456,430L452,440L458,447M445.9,414.1L440,419M513.8,408.5L514.3,414.0L519.3,416.3L519.7,421.8L524.7,424.1L525.2,429.6L530.2,431.9L530.7,437.4L535.7,439.7L536.1,445.2L541.1,447.5M455.0,398.0L453.3,402.7L456.5,406.5L454.8,411.2L458.0,415.1L456.3,419.8L459.5,423.6M190,425L205,435L215,428M198.3,403.3L203.2,404.2L204.9,408.9L201.7,412.7L196.8,411.8L195.1,407.1ZM206.4,400.3L211.4,401.2L213.1,405.9L209.8,409.7L204.9,408.9L203.2,404.2ZM207.9,391.8L212.9,392.7L214.6,397.4L211.4,401.2L206.4,400.3L204.7,395.6ZM212.9,392.7L216.7,389.4L221.1,392.6L219.8,397.9L214.6,397.4M203.2,404.2L201.7,399.9M206.4,400.3L204.9,396.1M152.7,431.2L151.1,435.7L146.4,436.5L143.3,432.8L144.9,428.3L149.6,427.5ZM154.2,439.4L152.5,443.9L147.8,444.7L144.7,441.0L146.4,436.5L151.1,435.7ZM162.0,442.2L160.3,446.7L155.6,447.5L152.5,443.9L154.2,439.4L158.9,438.5ZM160.3,446.7L162.8,450.9L159.0,454.5L154.3,452.4L155.6,447.5M151.1,435.7L155.3,434.9M154.2,439.4L158.4,438.6M186.0,420.0L183.1,424.1L185.2,428.6L182.4,432.7L184.5,437.3L181.6,441.4M60.0,438.0L55.7,435.5L51.3,438.0L47.0,435.5L42.7,438.0L38.3,435.5M215.0,414.0L219.6,416.4L224.0,413.5L228.6,415.9L233.0,413.1L237.6,415.4L242.0,412.6L246.6,414.9L251.0,412.1L255.6,414.5L260.0,411.6M40.0,418.0L44.4,420.3L48.7,417.7L53.1,420.0L57.3,417.4L61.7,419.7L66.0,417.1L70.4,419.4L74.6,416.8L79.0,419.1L83.3,416.5M125.0,420.0L129.3,422.5L133.7,420.0L138.0,422.5L142.3,420.0L146.7,422.5M118.4,433.7L123.0,434.5L124.5,438.8L121.6,442.3L117.0,441.5L115.5,437.2ZM125.9,431.0L130.4,431.8L132.0,436.1L129.1,439.6L124.5,438.8L123.0,434.5ZM127.3,423.1L131.8,423.9L133.4,428.2L130.4,431.8L125.9,431.0L124.3,426.6ZM131.8,423.9L135.4,420.9L139.4,423.8L138.2,428.7L133.4,428.2M123.0,434.5L121.5,430.6M125.9,431.0L124.5,427.1M112.0,446.0L116.7,447.7L120.5,444.5L125.2,446.2L129.1,443.0M160,423l3,6M176,432l-2,7M292,420l3,7M333,421l0,-6M300,440l-4,3" stroke="#6e6e6e" stroke-width="0.95" fill="none"/>
<g stroke="#7a7a7a" stroke-width="1" fill="none"><circle cx="22.4" cy="409" r="2.2"/><circle cx="34" cy="416.3" r="2.1"/><circle cx="30.4" cy="425" r="2.1"/><circle cx="17.4" cy="424.2" r="2.1"/><circle cx="75.5" cy="396" r="2.0"/><circle cx="384.4" cy="435" r="2.5"/><circle cx="401.8" cy="435" r="2.3"/><circle cx="470.5" cy="398.5" r="2.2"/><circle cx="243.8" cy="395.3" r="3.0"/></g>
<g font-size="7" fill="#7a7a7a" font-weight="bold"><text x="309" y="439" font-size="7">HO</text><text x="381" y="418" transform="rotate(-75 385 415)">OH</text><text x="433" y="421" transform="rotate(-80 437 419)">OH</text><text x="180" y="408" transform="rotate(-90 184 405)">OH</text><text x="12" y="395" transform="rotate(-80 17 392)" font-size="6">HN</text></g>
<path d="M246.7,400.3L252.5,408.3L245.3,424.2L233.7,424.2M245.3,424.2L253.9,437.2L249.6,446M207,441L218,441M207,438.6L218,438.6M219,440.5L226.5,428.5M219,440.5L225,448M482,437L490.5,446L510.8,446L515,434M500,417L507,418L512,410L515,401.8M507,418L514,426M509,406L513,414M511.5,405L515.5,413M82,440L92,432M84,442L94,434M93,433L103,438" stroke="#3a3a3a" stroke-width="1.2" fill="none"/>
<g stroke="#333" stroke-width="1.25" fill="none"><circle cx="243.8" cy="395.3" r="3.0"/><circle cx="228.6" cy="424.9" r="3.0"/><circle cx="203.5" cy="440.8" r="3.0"/><circle cx="513.2" cy="398.4" r="3.6"/><circle cx="517.6" cy="429.8" r="3.6"/></g>
<g font-size="9.5" fill="#383838"><text x="110" y="432" transform="rotate(30 114 428)">OH</text><text x="80" y="426" font-size="8.5">OR</text><text x="99" y="442" font-size="8.5">R²</text><text x="468" y="435" font-size="11" transform="rotate(20 477 431)">HO</text><text x="480" y="422" font-size="9.5" transform="rotate(190 488 418)">R²</text></g>
<path d="M105.4,537.7L105.7,537.6L106.1,537.6L106.4,537.5L106.7,537.5L107.1,537.8L107.4,537.8L107.7,537.4L108.1,537.7L108.4,537.7L108.7,537.3L109.1,537.6L109.4,537.4L109.7,537.6L110.1,537.5L110.4,537.7L110.7,537.5L111.1,537.4L111.4,537.6L111.7,537.4L112.1,537.5L112.4,537.8L112.7,537.4L113.1,537.5L113.4,537.7L113.7,537.8L114.1,537.4L114.4,537.6L114.7,537.4L115.1,537.4L115.4,537.4L115.7,537.3L116.1,537.6L116.4,537.4L116.7,537.6L117.1,537.3L117.4,537.4L117.7,537.7L118.1,537.7L118.4,537.7L118.7,537.3L119.1,537.6L119.4,537.5L119.7,537.6L120.1,537.5L120.4,537.6L120.7,537.6L121.1,537.5L121.4,537.5L121.7,537.3L122.1,537.4L122.4,537.3L122.8,537.4L123.1,537.3L123.4,537.4L123.8,537.7L124.1,537.3L124.4,537.3L124.8,537.3L125.1,537.5L125.4,537.4L125.8,537.7L126.1,537.4L126.4,537.5L126.8,537.6L127.1,537.7L127.4,537.3L127.8,537.3L128.1,537.7L128.4,537.4L128.8,537.6L129.1,537.7L129.4,537.6L129.8,537.4L130.1,537.3L130.4,537.7L130.8,537.4L131.1,537.7L131.4,537.4L131.8,537.6L132.1,537.3L132.4,537.3L132.8,537.5L133.1,537.2L133.4,537.6L133.8,537.7L134.1,537.4L134.4,537.7L134.8,537.6L135.1,537.5L135.4,537.4L135.8,537.7L136.1,537.7L136.4,537.3L136.8,537.6L137.1,537.2L137.4,537.3L137.8,537.5L138.1,537.5L138.4,537.5L138.8,537.4L139.1,537.4L139.4,537.4L139.8,537.4L140.1,537.2L140.4,537.5L140.8,537.5L141.1,537.3L141.4,537.6L141.8,537.5L142.1,537.2L142.4,537.4L142.8,537.4L143.1,537.7L143.4,537.5L143.8,537.4L144.1,537.7L144.4,537.4L144.8,537.4L145.1,537.6L145.4,537.4L145.8,537.4L146.1,537.3L146.4,537.5L146.8,537.3L147.1,537.3L147.4,537.6L147.8,537.6L148.1,537.3L148.4,537.1L148.8,537.5L149.1,537.4L149.4,537.3L149.8,537.5L150.1,537.4L150.4,537.4L150.8,537.4L151.1,537.3L151.4,537.4L151.8,537.4L152.1,537.2L152.4,537.5L152.8,537.3L153.1,537.2L153.4,537.4L153.8,537.4L154.1,537.1L154.4,537.4L154.8,537.4L155.1,537.3L155.4,537.1L155.8,537.4L156.1,537.3L156.4,537.2L156.8,537.0L157.1,537.1L157.4,536.9L157.8,537.2L158.1,537.1L158.4,536.9L158.8,536.7L159.1,536.9L159.4,536.9L159.8,536.9L160.1,536.6L160.4,536.7L160.8,536.3L161.1,536.1L161.4,536.3L161.8,536.0L162.1,535.6L162.4,535.5L162.8,535.3L163.0,535.4L163.1,535.5L163.4,535.4L163.4,535.2L163.7,535.5L163.8,535.4L164.1,535.5L164.4,535.7L164.8,535.8L165.1,535.8L165.4,536.3L165.8,536.5L166.1,536.2L166.4,536.3L166.8,536.4L167.1,536.7L167.4,536.5L167.8,536.6L168.1,537.0L168.4,536.8L168.8,536.8L169.1,536.9L169.4,537.0L169.8,537.1L170.1,537.1L170.4,537.2L170.8,537.3L171.1,537.0L171.4,537.2L171.8,536.9L172.1,537.3L172.4,536.9L172.8,537.0L173.1,536.9L173.4,536.9L173.8,536.9L174.1,537.1L174.4,537.3L174.8,537.0L175.1,537.3L175.4,537.2L175.8,537.0L176.1,537.1L176.4,537.1L176.8,536.9L177.1,537.0L177.4,537.2L177.8,537.2L178.1,536.9L178.4,537.1L178.8,536.9L179.1,537.1L179.4,537.2L179.8,537.0L180.1,536.9L180.4,537.2L180.8,536.9L181.1,536.8L181.4,536.9L181.8,536.9L182.1,537.3L182.4,536.9L182.8,536.8L183.1,537.2L183.5,537.1L183.8,537.1L184.1,536.9L184.5,537.0L184.8,536.9L185.1,536.8L185.5,537.2L185.8,537.1L186.1,537.1L186.5,537.0L186.8,537.0L187.1,536.6L187.5,536.6L187.8,537.0L188.1,536.7L188.5,536.8L188.8,536.7L189.1,536.6L189.5,536.4L189.8,536.4L190.1,536.4L190.5,536.3L190.8,536.1L191.1,535.9L191.5,535.4L191.8,534.8L192.1,534.1L192.5,532.9L192.8,530.1L193.1,524.3L193.5,509.3L193.6,498.6L193.8,472.1L193.9,463.8L194.1,480.6L194.3,498.8L194.5,513.3L194.8,525.9L195.1,530.6L195.5,533.0L195.8,534.1L196.1,534.9L196.5,535.5L196.8,535.7L197.1,535.8L197.5,536.3L197.8,536.2L198.1,536.3L198.5,536.2L198.8,536.2L199.1,536.5L199.5,536.3L199.8,536.4L200.1,536.7L200.5,536.6L200.8,536.8L201.1,536.4L201.5,536.5L201.8,536.4L202.1,536.5L202.5,536.5L202.8,536.5L203.1,536.6L203.5,536.8L203.8,536.6L204.1,536.9L204.5,536.8L204.8,536.5L205.1,536.8L205.5,536.8L205.8,536.8L206.1,536.4L206.5,536.8L206.8,536.8L207.1,536.4L207.5,536.8L207.8,536.4L208.1,536.5L208.5,536.4L208.8,536.3L209.1,536.5L209.5,536.4L209.8,536.8L210.1,536.4L210.5,536.5L210.8,536.4L211.1,536.7L211.5,536.4L211.8,536.3L212.1,536.7L212.5,536.6L212.8,536.5L213.1,536.3L213.5,536.6L213.8,536.6L214.1,536.6L214.5,536.4L214.8,536.3L215.1,536.5L215.5,536.5L215.8,536.5L216.2,536.5L216.5,536.5L216.8,536.6L217.2,536.4L217.5,536.2L217.8,536.4L218.2,536.3L218.5,536.5L218.8,536.3L219.2,536.2L219.5,536.3L219.8,536.3L220.2,536.3L220.5,536.3L220.8,536.1L221.2,536.5L221.5,536.5L221.8,536.2L222.2,536.1L222.5,536.3L222.8,536.3L223.2,536.1L223.5,536.4L223.8,536.4L224.2,536.4L224.5,536.2L224.8,536.3L225.2,536.3L225.5,536.1L225.8,536.0L226.2,536.3L226.5,536.1L226.8,536.2L227.2,536.0L227.5,536.1L227.8,536.3L228.2,536.3L228.5,536.4L228.8,536.1L229.2,536.2L229.5,536.3L229.8,536.2L230.2,536.2L230.5,535.9L230.8,536.2L231.2,535.8L231.5,536.0L231.8,536.0L232.2,536.0L232.5,535.8L232.8,535.8L233.2,536.0L233.5,536.0L233.8,535.9L234.2,535.8L234.5,536.0L234.8,535.8L235.2,535.7L235.5,535.9L235.8,536.0L236.2,536.0L236.5,535.8L236.8,535.8L237.2,535.6L237.5,535.7L237.8,536.0L238.2,536.0L238.5,535.9L238.8,536.0L239.2,535.7L239.5,535.6L239.8,535.6L240.2,535.9L240.5,535.6L240.8,535.8L241.2,535.8L241.5,535.6L241.8,535.9L242.2,535.9L242.5,535.5L242.8,535.8L243.2,535.7L243.5,535.6L243.8,535.5L244.2,535.8L244.5,535.6L244.8,535.5L245.2,535.4L245.5,535.5L245.8,535.2L246.2,534.9L246.5,534.9L246.8,534.5L247.2,534.3L247.3,533.9L247.5,533.6L247.7,533.7L247.8,533.4L248.1,533.6L248.2,534.1L248.5,534.1L248.8,534.7L249.2,534.8L249.5,534.9L249.8,535.2L250.2,535.0L250.5,535.0L250.8,534.9L251.2,535.0L251.5,534.6L251.8,534.2L252.2,534.0L252.2,534.0L252.5,534.1L252.6,533.9L252.8,534.1L252.9,534.0L253.2,534.2L253.5,534.6L253.8,535.0L254.2,534.9L254.5,535.0L254.8,535.3L255.2,534.9L255.5,535.1L255.8,535.3L256.2,534.9L256.5,535.3L256.8,535.2L257.2,535.0L257.5,535.0L257.8,534.9L258.2,534.8L258.5,534.7L258.8,534.6L259.2,534.3L259.5,533.9L259.6,533.5L259.8,533.3L259.9,533.4L260.2,533.4L260.3,533.7L260.5,534.0L260.8,534.3L261.2,534.3L261.5,534.8L261.8,534.7L262.2,534.8L262.5,534.5L262.8,534.6L263.2,534.4L263.5,534.1L263.9,533.7L264.2,533.4L264.2,533.6L264.5,533.5L264.6,533.9L264.9,534.2L265.2,534.5L265.5,534.7L265.9,534.5L266.2,534.6L266.5,534.9L266.9,534.9L267.2,534.8L267.5,534.6L267.9,534.6L268.2,534.5L268.5,534.5L268.9,534.6L269.2,534.2L269.5,533.9L269.9,533.3L269.9,533.2L270.2,533.1L270.3,533.0L270.5,532.9L270.7,533.4L270.9,533.3L271.2,533.6L271.5,533.9L271.9,534.3L272.2,534.4L272.5,534.4L272.9,534.3L273.2,534.1L273.5,534.0L273.9,534.0L274.2,533.4L274.2,533.5L274.5,533.3L274.6,533.2L274.9,533.7L274.9,533.4L275.2,533.7L275.5,534.1L275.9,534.3L276.2,534.4L276.5,534.7L276.9,534.5L277.2,534.8L277.5,534.6L277.9,534.5L278.2,534.6L278.5,534.6L278.9,534.3L279.2,534.3L279.5,534.7L279.9,534.3L280.2,534.3L280.5,534.4L280.9,534.1L281.2,533.8L281.5,533.2L281.9,531.2L282.2,526.3L282.2,526.0L282.5,515.3L282.5,515.4L282.9,526.1L282.9,526.2L283.2,531.1L283.5,532.6L283.9,533.3L284.2,533.6L284.5,533.9L284.9,533.7L285.2,533.7L285.5,533.7L285.9,533.8L286.2,533.6L286.5,533.6L286.9,533.6L287.2,533.4L287.5,533.2L287.9,532.8L288.2,532.4L288.5,531.7L288.9,530.8L289.2,529.5L289.5,528.0L289.5,527.7L289.9,526.9L290.2,527.9L290.2,527.8L290.5,529.7L290.9,531.1L291.2,531.6L291.5,532.2L291.9,532.8L292.2,533.1L292.5,533.2L292.9,533.4L293.2,533.8L293.5,534.0L293.9,534.0L294.2,533.8L294.5,534.2L294.9,534.2L295.2,534.4L295.5,534.4L295.9,534.5L296.2,534.4L296.5,534.6L296.9,534.7L297.2,534.6L297.5,534.6L297.9,534.5L298.2,534.7L298.5,534.8L298.9,534.6L299.2,534.6L299.5,534.5L299.9,534.8L300.2,534.7L300.5,534.7L300.9,534.9L301.2,534.4L301.5,534.8L301.9,534.9L302.2,534.7L302.5,534.8L302.9,534.6L303.2,534.8L303.5,534.9L303.9,534.9L304.2,534.6L304.5,534.8L304.9,534.6L305.2,534.7L305.5,534.5L305.9,534.8L306.2,534.9L306.5,534.9L306.9,534.6L307.2,534.7L307.5,534.8L307.9,534.9L308.2,534.7L308.5,534.5L308.9,534.7L309.2,535.0L309.5,535.0L309.9,535.0L310.2,534.9L310.6,535.0L310.9,535.0L311.2,534.7L311.6,534.6L311.9,534.9L312.2,534.5L312.6,534.8L312.9,534.6L313.2,534.5L313.6,534.5L313.9,535.0L314.2,534.8L314.6,534.6L314.9,534.5L315.2,534.9L315.6,534.7L315.9,534.4L316.2,534.7L316.6,534.5L316.9,534.5L317.2,534.2L317.6,534.0L317.9,534.3L318.2,533.8L318.6,533.7L318.8,533.6L318.9,533.7L319.2,533.5L319.2,533.8L319.5,533.8L319.6,533.9L319.9,533.7L320.2,534.0L320.6,534.3L320.9,534.5L321.2,534.3L321.6,534.4L321.9,534.5L322.2,534.7L322.6,534.7L322.9,534.9L323.2,534.7L323.6,535.0L323.9,534.8L324.2,534.7L324.6,534.8L324.9,535.1L325.2,535.0L325.6,534.7L325.9,534.9L326.2,534.8L326.6,534.8L326.9,535.0L327.2,534.8L327.6,534.9L327.9,535.1L328.2,535.1L328.6,535.2L328.9,535.1L329.2,534.8L329.6,535.2L329.9,535.0L330.2,535.2L330.6,535.3L330.9,535.0L331.2,535.2L331.6,535.3L331.9,535.2L332.2,535.0L332.6,535.0L332.9,535.3L333.2,535.2L333.6,534.8L333.9,535.2L334.2,535.0L334.6,535.1L334.9,534.9L335.2,535.0L335.6,534.9L335.9,535.0L336.2,535.1L336.6,535.1L336.9,535.1L337.2,534.6L337.6,534.9L337.9,534.9L338.2,534.3L338.6,534.6L338.9,534.1L339.0,534.5L339.2,534.3L339.4,534.4L339.6,534.1L339.7,534.3L339.9,534.3L340.2,534.3L340.6,534.4L340.9,534.8L341.2,534.8L341.6,534.9L341.9,535.2L342.2,534.9L342.6,535.0L342.9,535.0L343.2,535.3L343.6,535.2L343.9,535.2L344.2,535.1L344.6,535.5L344.9,535.3L345.2,535.3L345.6,535.5L345.9,535.3L346.2,535.2L346.6,535.4L346.9,535.3L347.2,535.3L347.6,535.5L347.9,535.4L348.2,535.1L348.6,535.5L348.9,535.4L349.2,535.6L349.6,535.5L349.9,535.6L350.2,535.2L350.6,535.3L350.9,535.2L351.2,535.2L351.6,535.3L351.9,535.2L352.2,535.4L352.6,535.4L352.9,535.2L353.2,535.2L353.6,535.1L353.9,535.4L354.2,535.2L354.6,535.4L354.9,535.1L355.2,535.1L355.6,535.4L355.9,535.0L356.2,535.4L356.6,535.4L356.9,535.0L357.2,535.2L357.6,535.0L357.9,534.9L358.2,535.1L358.6,534.6L358.9,534.7L359.2,534.5L359.6,534.3L359.9,533.9L360.2,533.6L360.6,533.5L360.9,533.1L361.2,532.3L361.6,531.3L361.9,530.2L362.2,528.8L362.2,528.4L362.6,527.8L362.6,527.6L362.9,528.4L363.2,529.9L363.6,531.4L363.9,532.5L364.2,533.1L364.6,533.5L364.9,533.9L365.2,534.1L365.6,534.5L365.9,534.4L366.2,534.9L366.6,534.9L366.9,534.9L367.2,535.0L367.6,535.3L367.9,535.4L368.2,535.2L368.6,535.7L368.9,535.7L369.2,535.5L369.6,535.6L369.9,535.8L370.2,535.9L370.6,535.9L370.9,535.6L371.2,535.8L371.6,535.6L371.9,535.7L372.3,535.6L372.6,536.1L372.9,536.0L373.3,536.1L373.6,535.9L373.9,536.0L374.3,536.2L374.6,535.9L374.9,536.2L375.3,536.1L375.6,536.1L375.9,535.9L376.3,536.1L376.6,536.2L376.9,536.3L377.3,536.1L377.6,536.0L377.9,536.0L378.3,535.9L378.6,535.9L378.9,536.2L379.3,536.3L379.6,536.0L379.9,536.0L380.3,536.1L380.6,536.0L380.9,536.1L381.3,536.3L381.6,536.3L381.9,536.4L382.3,536.1L382.6,536.0L382.9,536.0L383.3,536.2L383.6,536.1L383.9,536.0L384.3,536.0L384.6,536.1L384.9,536.2L385.3,536.2L385.6,536.4L385.9,536.4L386.3,536.1L386.6,536.0L386.9,536.2L387.3,536.3L387.6,536.3L387.9,536.2L388.3,536.1L388.6,536.2L388.9,536.0L389.3,536.4L389.6,536.3L389.9,536.2L390.3,536.2L390.6,536.0L390.9,536.0L391.3,535.9L391.6,536.1L391.9,536.4L392.3,536.1L392.6,536.1L392.9,536.1L393.3,536.2L393.6,535.9L393.9,535.8L394.3,536.2L394.6,535.8L394.9,535.9L395.3,535.8L395.6,535.5L395.9,535.3L396.3,535.2L396.6,534.8L396.9,533.4L397.0,533.3L397.3,532.0L397.4,531.5L397.6,532.4L397.7,533.1L397.9,533.5L398.3,534.3L398.6,534.9L398.9,534.9L399.3,534.9L399.6,534.9L399.9,534.6L400.3,534.0L400.6,534.1L400.9,533.6L401.3,533.0L401.6,532.3L401.9,531.1L402.3,529.6L402.6,527.7L402.9,525.8L403.1,524.4L403.3,524.2L403.5,523.4L403.6,522.9L403.9,523.5L403.9,523.6L404.3,524.2L404.6,524.6L404.9,524.0L405.3,523.1L405.6,521.7L405.6,521.4L405.9,521.2L406.3,521.6L406.3,522.0L406.6,523.1L406.9,524.9L407.3,526.1L407.6,527.1L407.9,527.6L408.3,527.4L408.6,527.8L408.6,527.8L408.9,527.6L409.0,527.6L409.3,528.3L409.4,527.9L409.6,528.4L409.9,528.9L410.3,529.5L410.6,529.8L410.9,529.9L411.3,530.6L411.6,530.9L411.9,531.0L412.3,531.2L412.3,531.1L412.6,531.1L412.7,531.5L412.9,531.7L413.0,531.4L413.3,531.7L413.6,532.1L413.9,532.9L414.3,533.3L414.6,533.3L414.9,533.9L415.3,534.1L415.6,534.5L415.9,534.9L416.3,534.9L416.6,534.9L416.9,535.0L417.3,535.2L417.6,535.3L417.9,535.4L418.3,535.5L418.6,535.5L419.0,535.4L419.3,535.7L419.6,535.6L420.0,535.4L420.3,535.4L420.6,535.8L421.0,535.4L421.3,535.4L421.6,535.7L422.0,535.6L422.3,535.5L422.6,535.5L423.0,534.9L423.3,535.0L423.6,534.6L424.0,534.8L424.3,534.6L424.6,533.9L425.0,533.7L425.3,533.4L425.6,533.3L425.8,533.3L426.0,533.1L426.1,533.4L426.3,533.1L426.5,533.2L426.6,533.3L427.0,533.1L427.3,533.3L427.6,533.3L428.0,533.3L428.3,533.3L428.6,533.2L429.0,532.8L429.3,532.3L429.6,531.8L430.0,531.2L430.3,530.4L430.6,529.7L431.0,528.2L431.3,527.2L431.6,526.1L431.9,525.1L432.0,524.8L432.2,524.5L432.3,524.3L432.6,524.5L432.6,524.2L433.0,524.9L433.3,525.4L433.6,525.9L434.0,526.1L434.3,526.4L434.3,526.6L434.6,527.2L434.7,527.1L435.0,528.1L435.0,528.1L435.3,528.7L435.6,529.8L436.0,531.2L436.3,531.7L436.6,532.7L437.0,533.1L437.3,533.9L437.6,534.4L438.0,534.6L438.3,534.7L438.6,535.2L439.0,535.2L439.3,535.4L439.6,535.8L440.0,535.9L440.3,535.9L440.6,536.1L441.0,536.2L441.3,536.1L441.6,536.1L442.0,536.3L442.3,536.6L442.6,536.6L443.0,536.6L443.3,536.5L443.6,536.8L444.0,536.8L444.3,536.7L444.6,536.8L445.0,536.9L445.3,536.7L445.6,536.5L446.0,536.7L446.3,536.7L446.6,536.6L447.0,536.7L447.3,536.6L447.6,536.9L448.0,536.8L448.3,537.1L448.6,536.7L449.0,537.0L449.3,536.9L449.6,536.7L450.0,537.1L450.3,537.1L450.6,536.8L451.0,536.9L451.3,537.2L451.6,537.2L452.0,537.1L452.3,537.3L452.6,536.8L453.0,537.2L453.3,537.1L453.6,537.1L454.0,537.0L454.3,537.1L454.6,537.0L455.0,537.0L455.3,537.1L455.6,537.3L456.0,536.8L456.3,537.0L456.6,537.3L457.0,537.1L457.3,537.0L457.6,536.9L458.0,537.3L458.3,537.3L458.6,537.1L459.0,537.2L459.3,536.9L459.6,537.0L460.0,537.2L460.3,537.2L460.6,537.1L461.0,536.9L461.3,537.3L461.6,537.2L462.0,537.3L462.3,537.1L462.6,537.4L463.0,536.9L463.3,537.1L463.6,537.1L464.0,537.4L464.3,537.3L464.6,537.2L465.0,537.0L465.3,537.1L465.7,537.3L466.0,536.9L466.3,537.1L466.7,537.2L467.0,537.3L467.3,537.3L467.7,537.0L468.0,537.4L468.3,537.2L468.7,537.1L469.0,537.3L469.3,537.1L469.7,537.0L470.0,537.0L470.3,537.1L470.7,537.3L471.0,537.4L471.3,537.2L471.7,537.3L472.0,537.4L472.3,537.0L472.7,537.3L473.0,537.0L473.3,537.0L473.7,537.4L474.0,537.0L474.3,537.3L474.7,537.4L475.0,537.4L475.3,537.4L475.7,537.2L476.0,537.3L476.3,537.0L476.7,537.0L477.0,537.4L477.3,537.3L477.7,537.3L478.0,537.4L478.3,537.3L478.7,537.3L479.0,537.1L479.3,537.3L479.7,537.4L480.0,537.4L480.3,537.3L480.7,537.2L481.0,537.4L481.3,537.1L481.7,537.4L482.0,537.1" fill="none" stroke="#cc2d2d" stroke-width="1.8" stroke-linejoin="round"/>
<path d="M105.4,586.9L105.7,586.9L106.1,586.8L106.4,586.8L106.7,586.9L107.1,586.8L107.4,587.2L107.7,587.0L108.1,586.8L108.4,586.9L108.7,586.8L109.1,587.2L109.4,587.0L109.7,587.1L110.1,586.9L110.4,586.9L110.7,587.2L111.1,587.1L111.4,587.1L111.7,586.8L112.1,586.8L112.4,587.1L112.7,586.8L113.1,587.1L113.4,586.9L113.7,587.1L114.1,587.2L114.4,586.8L114.7,587.1L115.1,587.1L115.4,586.7L115.7,586.8L116.1,587.1L116.4,586.7L116.7,586.9L117.1,586.9L117.4,587.1L117.7,586.7L118.1,586.9L118.4,586.7L118.7,586.8L119.1,587.0L119.4,587.0L119.7,587.1L120.1,587.1L120.4,587.2L120.7,587.0L121.1,586.9L121.4,587.2L121.7,586.9L122.1,587.0L122.4,587.0L122.8,586.8L123.1,586.9L123.4,587.0L123.8,586.9L124.1,586.8L124.4,587.2L124.8,586.7L125.1,587.2L125.4,586.8L125.8,586.8L126.1,587.2L126.4,586.8L126.8,587.0L127.1,586.9L127.4,587.2L127.8,587.1L128.1,587.1L128.4,586.7L128.8,587.1L129.1,586.8L129.4,586.7L129.8,586.7L130.1,587.0L130.4,587.0L130.8,586.9L131.1,586.8L131.4,587.1L131.8,586.8L132.1,586.8L132.4,586.7L132.8,587.1L133.1,586.7L133.4,587.1L133.8,587.0L134.1,586.8L134.4,586.7L134.8,587.0L135.1,586.7L135.4,586.9L135.8,587.0L136.1,587.0L136.4,587.0L136.8,587.1L137.1,587.0L137.4,586.8L137.8,586.6L138.1,587.0L138.4,587.1L138.8,586.6L139.1,586.8L139.4,586.9L139.8,587.0L140.1,586.8L140.4,586.7L140.8,586.9L141.1,586.9L141.4,587.1L141.8,586.6L142.1,587.1L142.4,586.8L142.8,586.6L143.1,587.0L143.4,586.7L143.8,586.6L144.1,586.7L144.4,586.6L144.8,587.0L145.1,586.8L145.4,586.9L145.8,586.6L146.1,586.9L146.4,586.8L146.8,586.5L147.1,586.5L147.4,586.5L147.8,586.7L148.1,586.7L148.4,586.6L148.8,586.7L149.1,586.7L149.4,586.7L149.8,586.8L150.1,586.6L150.4,586.3L150.8,586.3L151.1,586.4L151.4,586.4L151.8,586.5L152.1,586.5L152.4,586.4L152.8,586.0L153.1,585.9L153.4,586.1L153.8,585.7L154.1,585.6L154.4,585.5L154.8,585.3L155.1,585.0L155.4,585.0L155.8,584.6L156.1,584.5L156.4,584.1L156.8,583.8L156.9,583.8L157.1,583.9L157.3,583.6L157.4,583.8L157.6,583.8L157.8,584.2L158.1,584.1L158.4,584.5L158.8,584.5L159.1,584.9L159.4,584.9L159.8,585.1L160.1,585.2L160.4,585.4L160.8,585.0L161.1,583.8L161.2,583.0L161.4,579.0L161.6,577.4L161.8,581.3L161.9,583.3L162.1,584.6L162.4,585.4L162.8,586.0L163.1,586.1L163.4,586.4L163.8,586.2L164.1,586.2L164.4,586.4L164.8,586.4L165.1,586.4L165.4,586.4L165.8,586.7L166.1,586.4L166.4,586.5L166.8,586.5L167.1,586.6L167.4,586.5L167.8,586.5L168.1,586.5L168.4,586.5L168.8,586.9L169.1,586.8L169.4,586.7L169.8,586.5L170.1,586.8L170.4,586.5L170.8,586.6L171.1,586.9L171.4,586.6L171.8,586.8L172.1,586.8L172.4,586.8L172.8,586.7L173.1,586.8L173.4,586.8L173.8,586.8L174.1,586.6L174.4,586.6L174.8,586.5L175.1,586.5L175.4,586.7L175.8,586.3L176.1,586.8L176.4,586.6L176.8,586.6L177.1,586.5L177.4,586.7L177.8,586.3L178.1,586.5L178.4,586.6L178.8,586.3L179.1,586.6L179.4,586.3L179.8,586.4L180.1,586.2L180.4,586.0L180.8,586.0L181.1,586.2L181.4,585.9L181.8,586.0L182.1,586.0L182.4,586.1L182.8,585.8L183.1,585.7L183.5,585.4L183.8,585.3L184.1,585.3L184.5,585.3L184.8,584.8L185.1,585.1L185.5,584.7L185.8,584.2L186.1,583.8L186.5,583.6L186.8,582.8L187.1,581.9L187.5,581.2L187.8,579.8L188.1,577.9L188.5,574.7L188.8,568.8L189.1,558.7L189.3,551.1L189.5,544.4L189.7,540.8L189.8,542.9L190.0,550.9L190.1,556.8L190.5,567.8L190.8,574.0L191.1,577.2L191.5,579.5L191.8,581.0L192.1,582.0L192.5,582.9L192.8,583.3L193.1,583.8L193.5,584.2L193.8,584.3L194.1,584.5L194.5,585.2L194.8,585.1L195.1,585.3L195.5,585.1L195.8,585.2L196.1,585.5L196.5,585.3L196.8,584.9L197.1,582.9L197.2,581.8L197.5,575.7L197.6,573.1L197.8,578.3L197.9,581.9L198.1,583.8L198.5,585.4L198.8,585.6L199.1,586.0L199.5,586.1L199.8,586.2L200.1,586.3L200.5,586.3L200.8,586.3L201.1,586.4L201.5,586.3L201.8,586.4L202.1,586.7L202.5,586.6L202.8,586.5L203.1,586.3L203.5,586.3L203.8,586.5L204.1,586.8L204.5,586.4L204.8,586.6L205.1,586.5L205.5,586.5L205.8,586.5L206.1,586.6L206.5,586.4L206.8,586.7L207.1,586.7L207.5,586.4L207.8,586.8L208.1,586.7L208.5,586.5L208.8,586.9L209.1,586.5L209.5,586.5L209.8,586.7L210.1,586.8L210.5,586.5L210.8,586.5L211.1,586.8L211.5,586.7L211.8,586.6L212.1,586.7L212.5,586.8L212.8,586.8L213.1,586.6L213.5,586.5L213.8,586.9L214.1,586.8L214.5,586.5L214.8,586.5L215.1,586.6L215.5,586.9L215.8,586.6L216.2,586.4L216.5,586.4L216.8,586.6L217.2,586.9L217.5,586.5L217.8,586.8L218.2,586.6L218.5,586.5L218.8,586.6L219.2,586.9L219.5,586.8L219.8,586.5L220.2,586.9L220.5,586.6L220.8,586.7L221.2,586.8L221.5,586.6L221.8,586.9L222.2,586.9L222.5,586.7L222.8,586.9L223.2,586.9L223.5,586.6L223.8,586.5L224.2,586.4L224.5,586.8L224.8,586.6L225.2,586.7L225.5,586.5L225.8,586.6L226.2,586.3L226.5,586.6L226.8,586.7L227.2,586.3L227.5,586.5L227.8,586.2L228.2,586.1L228.5,585.7L228.8,585.5L229.2,585.0L229.5,584.5L229.6,584.0L229.8,583.9L230.0,583.6L230.2,583.8L230.3,584.2L230.5,584.5L230.8,585.1L231.2,585.4L231.5,586.0L231.8,586.0L232.2,586.1L232.5,586.5L232.8,586.3L233.2,586.6L233.5,586.6L233.8,586.4L234.2,586.6L234.5,586.3L234.8,586.5L235.2,586.6L235.5,586.3L235.8,586.7L236.2,586.4L236.5,586.7L236.8,586.6L237.2,586.2L237.5,586.3L237.8,586.6L238.2,586.6L238.5,586.1L238.8,586.3L239.2,586.1L239.5,586.5L239.8,586.2L240.2,586.2L240.5,586.2L240.8,586.1L241.2,585.9L241.5,585.9L241.8,585.6L242.2,585.4L242.5,584.4L242.8,582.9L243.1,580.3L243.2,579.0L243.4,575.3L243.5,575.8L243.8,579.7L243.8,580.3L244.2,581.5L244.3,581.1L244.5,579.6L244.6,579.0L244.8,580.2L245.0,581.9L245.2,582.6L245.5,583.5L245.8,582.8L246.1,581.1L246.2,580.4L246.5,577.0L246.5,577.1L246.8,581.0L247.2,583.4L247.5,584.3L247.8,584.4L248.2,584.2L248.5,583.2L248.6,582.8L248.8,580.9L248.9,581.0L249.2,582.2L249.3,582.8L249.5,583.8L249.8,584.3L250.2,584.5L250.5,584.3L250.8,584.5L251.2,583.9L251.5,584.0L251.8,583.4L252.2,582.8L252.5,581.5L252.8,578.4L252.8,578.0L253.2,574.4L253.2,574.0L253.5,577.4L253.6,577.9L253.8,580.5L254.2,581.6L254.5,580.8L254.7,579.5L254.8,577.4L255.0,575.8L255.2,576.7L255.4,579.3L255.5,580.9L255.8,582.5L256.2,582.9L256.5,583.1L256.8,582.5L257.1,581.6L257.2,581.5L257.5,579.9L257.5,579.8L257.8,581.5L257.8,581.8L258.2,583.0L258.5,583.2L258.8,583.9L259.2,584.0L259.5,583.7L259.8,583.9L260.2,584.1L260.5,583.8L260.8,583.6L261.2,583.7L261.5,583.5L261.8,583.0L262.0,582.2L262.2,580.7L262.4,580.1L262.5,580.4L262.7,582.2L262.8,582.7L263.2,583.5L263.5,583.4L263.9,583.3L264.2,582.1L264.5,579.7L264.5,579.0L264.8,575.6L264.9,575.8L265.2,579.5L265.2,580.2L265.5,582.5L265.9,583.4L266.2,583.5L266.5,583.4L266.9,582.0L266.9,581.8L267.2,579.3L267.2,578.8L267.5,580.3L267.6,580.7L267.9,581.2L268.1,578.9L268.2,577.5L268.5,571.5L268.5,571.8L268.8,579.0L268.9,579.4L269.2,582.4L269.5,582.9L269.9,582.4L269.9,581.7L270.2,579.3L270.3,579.1L270.5,580.7L270.7,582.0L270.9,583.4L271.2,584.0L271.5,584.2L271.9,584.2L272.2,583.1L272.4,581.1L272.5,578.9L272.8,575.3L272.9,576.0L273.1,580.3L273.2,581.3L273.5,581.7L273.6,580.6L273.9,577.3L274.0,576.1L274.2,579.3L274.3,581.3L274.5,583.2L274.9,584.0L275.2,583.9L275.5,582.7L275.9,578.9L276.1,570.5L276.2,557.0L276.4,513.4L276.5,531.4L276.8,570.1L276.9,575.0L277.2,582.2L277.5,584.0L277.9,584.9L278.2,585.3L278.5,585.7L278.9,585.6L279.2,585.9L279.5,586.0L279.9,586.1L280.2,586.0L280.5,585.8L280.9,585.5L281.2,585.4L281.5,584.9L281.9,583.2L282.2,580.2L282.2,580.2L282.5,575.1L282.5,575.0L282.9,578.4L282.9,578.3L283.2,578.5L283.4,575.6L283.5,572.4L283.8,568.2L283.9,569.8L284.1,576.5L284.2,578.5L284.5,581.7L284.9,581.9L285.2,580.3L285.2,580.3L285.5,577.8L285.6,577.9L285.9,579.8L285.9,580.7L286.2,582.7L286.5,584.3L286.9,585.4L287.2,585.7L287.5,585.6L287.9,586.0L288.2,586.1L288.5,586.2L288.9,586.1L289.2,586.1L289.5,586.3L289.9,586.1L290.2,586.3L290.5,586.5L290.9,586.2L291.2,586.4L291.5,586.6L291.9,586.1L292.2,586.6L292.5,586.3L292.9,586.3L293.2,586.0L293.5,586.2L293.9,586.3L294.2,586.1L294.5,586.0L294.9,585.7L295.2,585.5L295.5,585.0L295.9,584.8L296.2,584.3L296.2,584.4L296.5,583.8L296.6,583.9L296.9,584.0L296.9,584.2L297.2,584.6L297.5,585.2L297.9,585.2L298.2,585.7L298.5,586.1L298.9,586.2L299.2,586.3L299.5,586.1L299.9,586.1L300.2,586.5L300.5,586.2L300.9,586.5L301.2,586.3L301.5,586.2L301.9,586.4L302.2,586.3L302.5,586.5L302.9,586.7L303.2,586.5L303.5,586.4L303.9,586.6L304.2,586.5L304.5,586.6L304.9,586.7L305.2,586.6L305.5,586.6L305.9,586.5L306.2,586.4L306.5,586.5L306.9,586.3L307.2,586.3L307.5,586.3L307.9,586.4L308.2,586.4L308.5,586.5L308.9,586.3L309.2,586.5L309.5,586.4L309.9,586.4L310.2,586.4L310.6,586.5L310.9,586.6L311.2,586.6L311.6,586.5L311.9,586.3L312.2,586.2L312.6,586.2L312.9,586.3L313.2,586.0L313.6,586.2L313.9,585.9L314.2,586.0L314.6,585.5L314.9,585.2L315.2,584.7L315.6,584.3L315.8,584.1L315.9,584.0L316.1,583.9L316.2,584.0L316.5,584.4L316.6,584.3L316.9,584.5L317.2,585.3L317.6,585.2L317.9,585.7L318.2,585.9L318.6,586.3L318.9,586.2L319.2,586.3L319.6,586.2L319.9,586.1L320.2,586.1L320.6,586.3L320.9,586.4L321.2,586.6L321.6,586.3L321.9,586.4L322.2,586.3L322.6,586.5L322.9,586.2L323.2,586.5L323.6,586.5L323.9,586.5L324.2,586.3L324.6,586.1L324.9,586.5L325.2,586.2L325.6,586.1L325.9,586.3L326.2,586.3L326.6,586.0L326.9,585.7L327.2,585.5L327.6,585.3L327.9,585.2L328.0,585.1L328.2,585.0L328.4,584.8L328.6,585.1L328.7,585.2L328.9,585.2L329.2,585.3L329.6,585.9L329.9,586.2L330.2,586.2L330.6,586.1L330.9,586.2L331.2,586.4L331.6,586.5L331.9,586.3L332.2,586.3L332.6,586.3L332.9,586.3L333.2,586.6L333.6,586.4L333.9,586.2L334.2,586.2L334.6,586.5L334.9,586.3L335.2,586.4L335.6,586.2L335.9,586.6L336.2,586.3L336.6,586.3L336.9,586.4L337.2,586.6L337.6,586.6L337.9,586.6L338.2,586.6L338.6,586.6L338.9,586.4L339.2,586.6L339.6,586.3L339.9,586.3L340.2,586.3L340.6,586.3L340.9,586.3L341.2,586.2L341.6,586.2L341.9,586.3L342.2,586.2L342.6,586.6L342.9,586.6L343.2,586.6L343.6,586.5L343.9,586.4L344.2,586.4L344.6,586.3L344.9,586.2L345.2,586.5L345.6,586.4L345.9,586.3L346.2,586.3L346.6,586.5L346.9,586.2L347.2,586.3L347.6,586.1L347.9,586.2L348.2,585.9L348.6,585.9L348.9,586.3L349.2,586.0L349.6,586.0L349.9,586.1L350.2,586.2L350.6,585.9L350.9,586.0L351.2,585.7L351.6,585.5L351.9,585.7L352.2,585.7L352.6,585.5L352.9,585.2L353.2,585.0L353.6,584.9L353.9,584.8L354.2,584.5L354.6,583.9L354.9,583.6L355.2,583.2L355.6,582.2L355.9,581.0L356.2,579.0L356.6,576.9L356.7,575.9L356.9,575.0L357.1,574.5L357.2,574.6L357.4,575.8L357.6,577.0L357.9,579.0L358.2,581.2L358.6,582.3L358.9,582.9L359.2,583.9L359.6,584.0L359.9,584.5L360.2,585.0L360.6,585.1L360.9,585.2L361.2,585.4L361.6,585.4L361.9,585.8L362.2,585.8L362.6,585.5L362.9,585.8L363.2,585.9L363.6,586.1L363.9,586.1L364.2,585.8L364.6,585.9L364.9,586.0L365.2,586.3L365.6,586.2L365.9,586.0L366.2,586.2L366.6,586.1L366.9,586.0L367.2,586.1L367.6,586.1L367.9,586.4L368.2,586.5L368.6,586.1L368.9,586.3L369.2,586.1L369.6,586.1L369.9,586.1L370.2,586.3L370.6,586.0L370.9,586.1L371.2,586.1L371.6,586.5L371.9,586.1L372.3,586.3L372.6,586.1L372.9,586.0L373.3,586.4L373.6,586.3L373.9,586.4L374.3,586.3L374.6,586.4L374.9,586.2L375.3,586.5L375.6,586.5L375.9,586.3L376.3,586.5L376.6,586.4L376.9,586.1L377.3,586.1L377.6,586.4L377.9,586.5L378.3,586.1L378.6,586.1L378.9,586.2L379.3,586.5L379.6,586.4L379.9,586.1L380.3,586.0L380.6,586.5L380.9,586.4L381.3,586.3L381.6,586.4L381.9,586.1L382.3,586.3L382.6,586.1L382.9,586.4L383.3,586.2L383.6,586.0L383.9,586.1L384.3,586.4L384.6,586.4L384.9,586.1L385.3,586.2L385.6,586.2L385.9,586.1L386.3,586.1L386.6,585.9L386.9,586.2L387.3,586.0L387.6,586.2L387.9,586.0L388.3,585.9L388.6,586.1L388.9,585.9L389.3,585.8L389.6,586.0L389.9,585.6L390.3,585.5L390.6,585.1L390.9,583.5L390.9,583.3L391.3,579.0L391.3,578.8L391.6,583.3L391.6,583.5L391.9,584.9L392.3,585.5L392.6,585.4L392.9,585.4L393.3,585.2L393.6,585.0L393.9,585.2L394.3,585.1L394.6,584.9L394.9,584.6L395.3,584.4L395.6,584.2L395.9,584.3L396.3,584.1L396.6,583.3L396.9,583.2L397.3,582.5L397.6,581.5L397.9,580.5L398.3,579.0L398.6,576.3L398.9,573.3L399.3,568.5L399.5,565.1L399.6,563.9L399.8,562.3L399.9,562.3L400.2,564.1L400.3,565.3L400.6,569.1L400.9,571.9L401.3,573.2L401.3,573.2L401.6,573.3L401.7,572.7L401.9,572.1L402.0,571.7L402.3,569.5L402.5,567.4L402.6,567.2L402.9,566.1L402.9,566.3L403.2,568.8L403.3,569.1L403.6,573.2L403.9,576.4L404.3,578.5L404.6,580.3L404.9,581.2L405.3,582.4L405.6,583.0L405.9,583.5L406.3,583.6L406.6,584.0L406.9,584.5L407.3,584.7L407.6,584.5L407.9,584.8L408.3,584.8L408.6,585.3L408.9,585.1L409.3,585.4L409.6,585.2L409.9,585.3L410.3,585.4L410.6,585.6L410.9,585.3L411.3,585.8L411.6,585.8L411.9,585.6L412.3,585.9L412.6,585.9L412.9,585.7L413.3,585.7L413.6,585.6L413.9,585.7L414.3,586.0L414.6,585.7L414.9,585.6L415.3,586.0L415.6,585.6L415.9,585.9L416.3,585.8L416.6,586.0L416.9,585.6L417.3,585.6L417.6,585.4L417.9,585.5L418.3,585.6L418.6,585.4L419.0,585.0L419.3,584.2L419.6,583.6L419.6,583.6L420.0,582.6L420.0,582.8L420.3,583.1L420.4,583.2L420.6,583.8L421.0,584.6L421.3,584.7L421.6,584.5L422.0,584.1L422.3,583.6L422.6,582.4L422.7,581.9L423.0,581.3L423.1,581.1L423.3,581.5L423.4,581.9L423.6,582.5L424.0,583.4L424.3,583.6L424.6,583.7L425.0,583.4L425.3,583.1L425.6,583.0L426.0,582.5L426.3,581.7L426.6,580.7L427.0,579.2L427.3,578.0L427.6,576.0L428.0,574.1L428.2,572.7L428.3,572.7L428.6,571.6L428.6,571.8L428.9,571.9L429.0,571.7L429.3,572.5L429.4,573.1L429.6,574.2L429.8,574.3L430.0,575.4L430.1,576.1L430.3,576.8L430.6,578.4L431.0,579.6L431.3,580.8L431.6,581.8L432.0,582.6L432.3,582.9L432.6,583.5L433.0,583.7L433.3,584.4L433.6,584.6L434.0,584.8L434.3,584.6L434.6,584.9L435.0,585.0L435.3,585.3L435.6,585.6L436.0,585.5L436.3,585.7L436.6,585.8L437.0,585.6L437.3,585.8L437.6,586.0L438.0,585.8L438.3,585.6L438.6,585.6L439.0,585.9L439.3,586.1L439.6,585.8L440.0,586.2L440.3,586.0L440.6,586.2L441.0,585.8L441.3,586.0L441.6,586.1L442.0,586.2L442.3,586.1L442.6,585.9L443.0,586.1L443.3,586.3L443.6,586.1L444.0,585.9L444.3,586.2L444.6,586.1L445.0,585.9L445.3,586.3L445.6,586.0L446.0,586.2L446.3,586.4L446.6,586.4L447.0,586.0L447.3,586.2L447.6,586.2L448.0,586.0L448.3,586.2L448.6,586.2L449.0,586.3L449.3,586.1L449.6,586.3L450.0,586.2L450.3,586.1L450.6,586.2L451.0,586.4L451.3,586.4L451.6,586.1L452.0,586.1L452.3,586.4L452.6,586.0L453.0,586.4L453.3,586.4L453.6,586.5L454.0,586.3L454.3,586.2L454.6,586.1L455.0,586.4L455.3,586.2L455.6,586.5L456.0,586.2L456.3,586.4L456.6,586.3L457.0,586.5L457.3,586.2L457.6,586.5L458.0,586.1L458.3,586.3L458.6,586.2L459.0,586.2L459.3,586.3L459.6,586.1L460.0,586.1L460.3,586.4L460.6,586.4L461.0,586.1L461.3,586.5L461.6,586.3L462.0,586.3L462.3,586.0L462.6,586.5L463.0,586.2L463.3,586.1L463.6,586.2L464.0,586.5L464.3,586.1L464.6,586.4L465.0,586.1L465.3,586.2L465.7,586.3L466.0,586.1L466.3,586.2L466.7,586.4L467.0,586.2L467.3,586.3L467.7,586.2L468.0,586.2L468.3,586.1L468.7,586.4L469.0,586.3L469.3,586.5L469.7,586.1L470.0,586.1L470.3,586.1L470.7,586.5L471.0,586.3L471.3,586.3L471.7,586.5L472.0,586.4L472.3,586.0L472.7,586.1L473.0,586.4L473.3,586.1L473.7,586.2L474.0,586.3L474.3,586.2L474.7,586.4L475.0,586.4L475.3,586.5L475.7,586.2L476.0,586.2L476.3,586.2L476.7,586.3L477.0,586.3L477.3,586.4L477.7,586.2L478.0,586.3L478.3,586.2L478.7,586.1L479.0,586.3L479.3,586.2L479.7,586.5L480.0,586.4L480.3,586.1L480.7,586.4L481.0,586.5L481.3,586.5L481.7,586.1L482.0,586.5" fill="none" stroke="#463f8e" stroke-width="1.8" stroke-linejoin="round"/>
<path d="M105.4,638.0L105.7,638.1L106.1,637.8L106.4,638.1L106.7,637.9L107.1,638.0L107.4,638.1L107.7,637.9L108.1,638.1L108.4,637.9L108.7,638.1L109.1,638.1L109.4,637.9L109.7,637.7L110.1,638.1L110.4,638.0L110.7,637.8L111.1,637.7L111.4,637.8L111.7,637.9L112.1,637.6L112.4,638.1L112.7,637.7L113.1,638.0L113.4,638.1L113.7,638.1L114.1,638.0L114.4,637.7L114.7,638.0L115.1,637.8L115.4,637.8L115.7,637.9L116.1,637.9L116.4,638.1L116.7,638.1L117.1,638.0L117.4,637.8L117.7,637.9L118.1,638.0L118.4,637.8L118.7,637.9L119.1,638.0L119.4,637.7L119.7,637.8L120.1,638.0L120.4,637.8L120.7,637.9L121.1,637.7L121.4,637.8L121.7,638.0L122.1,637.6L122.4,638.1L122.8,637.9L123.1,637.7L123.4,638.0L123.8,637.9L124.1,638.1L124.4,637.8L124.8,637.7L125.1,637.8L125.4,637.7L125.8,638.0L126.1,637.8L126.4,637.8L126.8,637.8L127.1,637.9L127.4,637.7L127.8,637.6L128.1,637.9L128.4,637.8L128.8,638.1L129.1,637.8L129.4,637.8L129.8,637.6L130.1,637.7L130.4,638.0L130.8,637.9L131.1,637.8L131.4,638.1L131.8,637.9L132.1,638.0L132.4,638.0L132.8,638.1L133.1,637.7L133.4,638.0L133.8,638.0L134.1,637.9L134.4,637.7L134.8,638.1L135.1,637.9L135.4,637.8L135.8,637.6L136.1,637.7L136.4,637.7L136.8,637.9L137.1,637.9L137.4,637.9L137.8,637.6L138.1,637.6L138.4,638.0L138.8,638.0L139.1,638.0L139.4,637.9L139.8,637.8L140.1,637.8L140.4,637.9L140.8,638.1L141.1,637.8L141.4,637.9L141.8,637.8L142.1,637.6L142.4,637.7L142.8,637.8L143.1,637.7L143.4,637.7L143.8,638.0L144.1,637.6L144.4,637.6L144.8,637.6L145.1,637.6L145.4,637.8L145.8,637.8L146.1,637.9L146.4,637.6L146.8,637.9L147.1,637.9L147.4,637.8L147.8,637.8L148.1,637.7L148.4,637.8L148.8,637.8L149.1,637.7L149.4,637.7L149.8,637.6L150.1,637.7L150.4,637.3L150.8,637.3L151.1,637.5L151.4,637.4L151.8,637.3L152.1,637.2L152.4,637.2L152.8,636.8L153.1,636.6L153.4,636.7L153.8,636.5L154.1,636.5L154.4,636.3L154.8,635.9L155.1,635.7L155.4,635.1L155.8,635.2L156.1,635.1L156.3,634.5L156.4,634.7L156.7,634.8L156.8,634.6L157.0,635.0L157.1,634.7L157.4,634.7L157.8,635.0L158.1,635.4L158.4,635.9L158.8,636.1L159.1,636.4L159.4,636.3L159.8,636.6L160.1,636.6L160.4,637.0L160.8,637.1L161.1,636.9L161.4,636.9L161.8,637.1L162.1,637.2L162.4,637.2L162.8,637.3L163.1,637.6L163.4,637.5L163.8,637.6L164.1,637.8L164.4,637.8L164.8,637.7L165.1,637.7L165.4,637.5L165.8,637.4L166.1,637.7L166.4,637.4L166.8,637.4L167.1,637.4L167.4,637.7L167.8,637.8L168.1,637.8L168.4,637.8L168.8,637.8L169.1,637.6L169.4,637.5L169.8,637.5L170.1,637.7L170.4,637.6L170.8,637.6L171.1,637.9L171.4,637.6L171.8,637.5L172.1,637.6L172.4,637.6L172.8,637.7L173.1,637.9L173.4,637.6L173.8,637.8L174.1,637.6L174.4,637.5L174.8,637.8L175.1,637.8L175.4,637.5L175.8,637.6L176.1,637.9L176.4,637.9L176.8,637.9L177.1,637.5L177.4,637.6L177.8,637.9L178.1,637.6L178.4,637.5L178.8,637.7L179.1,637.8L179.4,637.7L179.8,637.9L180.1,638.0L180.4,637.5L180.8,637.7L181.1,637.7L181.4,637.5L181.8,637.8L182.1,637.5L182.4,637.6L182.8,637.9L183.1,637.8L183.5,637.8L183.8,637.8L184.1,637.7L184.5,637.8L184.8,637.7L185.1,637.9L185.5,637.5L185.8,637.7L186.1,637.7L186.5,637.6L186.8,637.4L187.1,637.6L187.5,637.2L187.8,637.3L188.1,637.1L188.5,636.7L188.7,636.4L188.8,636.0L189.0,635.9L189.1,636.0L189.4,636.0L189.5,636.5L189.8,636.9L190.1,637.1L190.5,637.4L190.8,637.6L191.1,637.5L191.5,637.5L191.8,637.5L192.1,637.8L192.5,637.6L192.8,637.8L193.1,637.7L193.5,637.5L193.8,637.6L194.1,637.6L194.5,637.5L194.8,637.4L195.1,637.7L195.5,637.6L195.8,637.6L196.1,637.6L196.5,637.5L196.8,637.7L197.1,637.6L197.5,637.6L197.8,637.4L198.1,637.5L198.5,637.4L198.8,637.4L199.1,637.7L199.5,637.6L199.8,637.4L200.1,637.4L200.5,637.8L200.8,637.8L201.1,637.6L201.5,637.8L201.8,637.7L202.1,637.8L202.5,637.5L202.8,637.5L203.1,637.4L203.5,637.8L203.8,637.5L204.1,637.5L204.5,637.8L204.8,637.4L205.1,637.3L205.5,637.7L205.8,637.3L206.1,637.6L206.5,637.6L206.8,637.3L207.1,637.4L207.5,637.7L207.8,637.6L208.1,637.5L208.5,637.6L208.8,637.7L209.1,637.6L209.5,637.4L209.8,637.8L210.1,637.5L210.5,637.5L210.8,637.7L211.1,637.6L211.5,637.4L211.8,637.5L212.1,637.7L212.5,637.2L212.8,637.3L213.1,637.2L213.5,637.7L213.8,637.6L214.1,637.7L214.5,637.3L214.8,637.6L215.1,637.6L215.5,637.5L215.8,637.2L216.2,637.3L216.5,637.5L216.8,637.6L217.2,637.2L217.5,637.4L217.8,637.3L218.2,637.6L218.5,637.6L218.8,637.3L219.2,637.4L219.5,637.6L219.8,637.2L220.2,637.3L220.5,637.2L220.8,637.6L221.2,637.2L221.5,637.6L221.8,637.2L222.2,637.4L222.5,637.4L222.8,637.3L223.2,637.1L223.5,637.4L223.8,637.5L224.2,637.3L224.5,637.4L224.8,637.5L225.2,637.4L225.5,637.5L225.8,637.4L226.2,637.4L226.5,637.4L226.8,637.1L227.2,637.3L227.5,637.2L227.8,637.4L228.2,637.3L228.5,637.5L228.8,637.3L229.2,637.4L229.5,637.1L229.8,637.2L230.2,637.3L230.5,637.2L230.8,637.0L231.2,637.4L231.5,637.0L231.8,637.2L232.2,637.1L232.5,637.0L232.8,637.2L233.2,637.1L233.5,637.0L233.8,636.9L234.2,637.2L234.5,636.9L234.8,637.0L235.2,637.0L235.5,637.1L235.8,637.1L236.2,637.3L236.5,637.2L236.8,637.2L237.2,636.9L237.5,637.1L237.8,637.2L238.2,637.2L238.5,636.8L238.8,636.8L239.2,636.9L239.5,637.1L239.8,637.1L240.2,637.0L240.5,637.0L240.8,637.1L241.2,636.9L241.5,637.0L241.8,636.7L242.2,636.6L242.5,636.8L242.8,637.0L243.2,636.6L243.5,636.9L243.8,636.9L244.2,637.1L244.5,636.9L244.8,636.8L245.2,636.8L245.5,636.9L245.8,636.7L246.2,637.0L246.5,636.8L246.8,636.9L247.2,636.7L247.5,636.9L247.8,636.9L248.2,636.7L248.5,636.7L248.8,636.5L249.2,636.5L249.5,636.4L249.8,636.4L250.2,636.3L250.5,636.2L250.8,636.4L251.2,636.4L251.5,636.1L251.8,636.4L252.2,636.1L252.5,636.1L252.8,636.3L253.2,635.9L253.5,635.8L253.8,635.8L254.2,635.7L254.5,635.5L254.8,635.8L255.2,635.5L255.5,635.3L255.8,635.1L256.2,634.9L256.5,634.8L256.8,634.8L257.2,634.6L257.5,634.6L257.7,634.6L257.8,634.8L258.1,634.9L258.2,634.8L258.4,634.7L258.5,634.8L258.8,634.5L259.2,634.7L259.5,634.8L259.8,634.9L260.2,635.0L260.5,635.2L260.8,635.5L261.2,635.2L261.5,635.4L261.8,635.6L262.2,635.6L262.5,635.6L262.8,636.0L263.2,635.7L263.5,636.0L263.9,636.1L264.2,636.1L264.5,635.9L264.9,636.2L265.2,635.9L265.5,635.8L265.9,636.1L266.2,636.2L266.5,636.1L266.9,636.0L267.2,636.0L267.5,636.1L267.9,636.1L268.2,636.4L268.5,636.3L268.9,636.3L269.2,636.1L269.5,636.3L269.9,636.1L270.2,636.4L270.5,636.4L270.9,636.3L271.2,636.1L271.5,636.1L271.9,636.1L272.2,636.3L272.5,636.2L272.9,636.2L273.2,636.2L273.5,636.3L273.9,635.9L274.2,636.3L274.5,635.9L274.9,635.9L275.2,636.3L275.5,636.1L275.9,635.9L276.2,635.8L276.5,636.1L276.9,636.2L277.2,636.2L277.5,635.8L277.9,636.1L278.2,635.9L278.5,636.1L278.9,635.9L279.2,635.6L279.5,636.0L279.9,635.6L280.2,635.7L280.5,635.4L280.9,635.4L281.2,635.5L281.5,635.0L281.9,635.0L282.2,634.9L282.5,634.5L282.9,633.7L283.2,633.0L283.5,632.1L283.9,631.1L284.0,630.6L284.2,630.3L284.4,629.9L284.5,630.5L284.7,630.4L284.9,630.8L285.2,632.2L285.5,632.7L285.9,633.6L286.2,634.0L286.5,634.7L286.9,635.0L287.2,635.2L287.5,635.0L287.9,635.4L288.2,635.6L288.5,635.6L288.9,635.7L289.2,635.9L289.5,635.9L289.9,635.6L290.2,635.9L290.5,635.6L290.9,635.9L291.2,635.9L291.5,635.8L291.9,636.0L292.2,635.9L292.5,635.6L292.9,635.7L293.2,635.7L293.5,635.8L293.9,635.7L294.2,635.6L294.5,635.8L294.9,635.8L295.2,636.1L295.5,635.7L295.9,635.9L296.2,635.7L296.5,635.8L296.9,636.0L297.2,636.1L297.5,635.6L297.9,636.0L298.2,635.8L298.5,635.9L298.9,635.9L299.2,635.7L299.5,635.6L299.9,635.9L300.2,635.7L300.5,635.9L300.9,635.7L301.2,635.8L301.5,635.9L301.9,635.9L302.2,635.8L302.5,635.5L302.9,635.7L303.2,635.8L303.5,635.4L303.9,635.4L304.2,635.6L304.5,635.7L304.9,635.7L305.2,635.7L305.5,635.5L305.9,635.6L306.2,635.5L306.5,635.4L306.9,635.2L307.2,635.0L307.5,635.0L307.9,635.1L308.2,635.0L308.5,634.8L308.9,634.8L309.2,634.7L309.5,634.6L309.9,634.4L310.2,633.8L310.6,634.0L310.9,633.6L311.2,633.2L311.6,632.8L311.9,632.8L312.2,632.5L312.6,632.2L312.9,631.9L313.2,631.7L313.3,631.4L313.6,631.4L313.7,631.3L313.9,631.8L314.0,631.8L314.2,631.6L314.6,631.7L314.9,632.1L315.2,632.4L315.6,633.0L315.9,633.1L316.2,633.2L316.6,633.5L316.9,633.7L317.2,633.9L317.6,634.4L317.9,634.7L318.2,634.8L318.6,634.8L318.9,634.8L319.2,634.8L319.6,635.0L319.9,635.1L320.2,635.1L320.6,635.3L320.9,635.4L321.2,635.7L321.6,635.3L321.9,635.7L322.2,635.4L322.6,635.5L322.9,635.7L323.2,635.9L323.6,635.8L323.9,635.7L324.2,635.6L324.6,636.0L324.9,636.0L325.2,635.8L325.6,635.8L325.9,635.9L326.2,636.0L326.6,635.8L326.9,636.1L327.2,636.0L327.6,635.9L327.9,635.7L328.2,635.9L328.6,635.7L328.9,636.0L329.2,636.1L329.6,636.1L329.9,635.7L330.2,635.9L330.6,636.1L330.9,636.2L331.2,636.0L331.6,635.9L331.9,636.0L332.2,636.1L332.6,635.9L332.9,635.8L333.2,636.1L333.6,636.2L333.9,636.1L334.2,636.1L334.6,635.9L334.9,636.2L335.2,635.9L335.6,635.9L335.9,636.0L336.2,636.1L336.6,635.7L336.9,636.1L337.2,635.8L337.6,636.1L337.9,636.1L338.2,635.8L338.6,636.0L338.9,635.6L339.2,635.8L339.6,635.9L339.9,635.9L340.2,635.7L340.6,635.5L340.9,635.3L341.2,635.6L341.6,635.3L341.9,635.2L342.2,634.7L342.6,634.8L342.9,634.6L343.2,634.2L343.6,633.6L343.9,632.9L344.2,632.4L344.5,632.2L344.6,632.0L344.9,632.0L344.9,632.3L345.2,632.5L345.2,632.2L345.6,632.6L345.9,633.4L346.2,633.6L346.6,634.1L346.9,634.4L347.2,634.7L347.6,635.0L347.9,635.3L348.2,635.3L348.6,635.4L348.9,635.1L349.2,635.6L349.6,635.2L349.9,635.6L350.2,635.6L350.6,635.3L350.9,635.3L351.2,635.5L351.6,635.6L351.9,635.3L352.2,635.3L352.6,634.9L352.9,635.1L353.2,634.9L353.6,634.4L353.9,634.5L354.2,634.0L354.6,633.4L354.9,632.8L355.2,632.5L355.6,631.5L355.9,630.3L356.2,628.3L356.6,626.7L356.9,624.4L357.2,622.5L357.3,622.4L357.6,621.7L357.7,621.3L357.9,621.8L358.0,622.4L358.2,623.3L358.6,625.5L358.9,627.6L359.2,629.5L359.6,630.6L359.9,631.6L360.2,632.6L360.6,633.1L360.9,634.1L361.2,634.4L361.6,634.6L361.9,634.7L362.2,634.9L362.6,635.4L362.9,635.6L363.2,635.6L363.6,635.7L363.9,635.6L364.2,636.0L364.6,635.8L364.9,635.9L365.2,635.9L365.6,636.0L365.9,636.1L366.2,636.3L366.6,636.3L366.9,636.3L367.2,636.1L367.6,636.5L367.9,636.5L368.2,636.2L368.6,636.5L368.9,636.6L369.2,636.6L369.6,636.4L369.9,636.5L370.2,636.2L370.6,636.2L370.9,636.2L371.2,636.6L371.6,636.6L371.9,636.6L372.3,636.4L372.6,636.3L372.9,636.5L373.3,636.6L373.6,636.5L373.9,636.4L374.3,636.3L374.6,636.3L374.9,636.2L375.3,636.3L375.6,636.5L375.9,636.2L376.3,636.4L376.6,636.3L376.9,636.3L377.3,636.1L377.6,636.3L377.9,636.3L378.3,636.2L378.6,636.2L378.9,635.8L379.3,635.9L379.6,635.9L379.9,635.8L380.3,635.4L380.6,635.6L380.9,635.6L381.3,635.1L381.6,635.0L381.9,634.6L382.3,634.8L382.6,634.4L382.9,633.9L383.3,633.5L383.6,633.0L383.9,633.0L384.3,632.5L384.6,632.3L384.8,632.1L384.9,631.6L385.2,631.8L385.3,631.6L385.5,631.9L385.6,631.7L385.9,632.1L386.3,632.6L386.6,632.6L386.9,632.9L387.3,633.7L387.6,633.7L387.9,633.9L388.3,634.3L388.6,634.4L388.9,634.6L389.3,634.7L389.6,634.7L389.9,634.6L390.3,634.5L390.6,634.8L390.9,634.8L391.3,634.6L391.6,634.4L391.9,634.5L392.3,634.4L392.6,634.3L392.9,633.9L393.3,633.8L393.6,633.9L393.9,633.6L394.3,633.3L394.6,632.9L394.9,632.6L395.3,632.5L395.6,632.0L395.9,631.3L396.3,631.0L396.6,630.4L396.9,629.8L397.3,628.7L397.6,628.1L397.9,627.0L398.3,625.9L398.6,624.5L398.9,622.6L399.3,620.7L399.6,618.7L399.9,616.1L400.3,612.7L400.6,609.5L400.9,605.6L401.3,600.6L401.6,596.2L401.9,591.6L402.3,588.0L402.5,585.8L402.6,585.6L402.9,585.1L402.9,585.2L403.2,585.9L403.3,586.1L403.6,588.9L403.9,593.3L404.3,597.7L404.6,602.3L404.9,606.7L405.3,610.7L405.6,614.1L405.9,616.9L406.3,619.2L406.6,621.8L406.9,623.5L407.3,624.8L407.6,626.1L407.9,627.6L408.3,628.7L408.6,629.1L408.9,629.8L409.3,630.7L409.6,631.5L409.9,631.6L410.3,632.3L410.6,632.4L410.9,632.9L411.3,633.1L411.6,633.8L411.9,633.7L412.3,634.2L412.6,634.3L412.9,634.3L413.3,634.4L413.6,634.9L413.9,635.0L414.3,635.1L414.6,635.1L414.9,635.3L415.3,635.5L415.6,635.5L415.9,635.4L416.3,635.3L416.6,635.8L416.9,635.6L417.3,635.5L417.6,635.9L417.9,635.6L418.3,635.9L418.6,635.7L419.0,635.7L419.3,635.7L419.6,635.8L420.0,635.7L420.3,635.6L420.6,635.7L421.0,635.5L421.3,635.5L421.6,635.4L422.0,635.5L422.3,635.0L422.6,634.9L423.0,634.8L423.3,634.2L423.6,633.9L424.0,633.6L424.3,633.2L424.6,632.4L425.0,631.7L425.3,630.6L425.6,629.0L426.0,627.3L426.3,624.8L426.6,621.7L427.0,618.4L427.3,614.3L427.6,611.8L427.6,611.2L427.9,610.1L428.0,610.3L428.3,611.8L428.3,611.7L428.6,614.9L429.0,618.4L429.3,622.4L429.6,625.0L430.0,627.3L430.3,629.3L430.6,630.6L431.0,632.0L431.3,632.5L431.6,633.5L432.0,633.8L432.3,634.3L432.6,635.0L433.0,635.0L433.3,635.2L433.6,635.9L434.0,635.9L434.3,635.9L434.6,636.3L435.0,636.1L435.3,636.5L435.6,636.3L436.0,636.8L436.3,636.7L436.6,636.5L437.0,636.9L437.3,637.0L437.6,636.9L438.0,637.0L438.3,637.2L438.6,637.2L439.0,637.2L439.3,636.9L439.6,637.0L440.0,637.0L440.3,637.4L440.6,637.1L441.0,637.4L441.3,637.3L441.6,637.2L442.0,637.4L442.3,637.1L442.6,637.3L443.0,637.3L443.3,637.2L443.6,637.6L444.0,637.2L444.3,637.4L444.6,637.5L445.0,637.3L445.3,637.6L445.6,637.2L446.0,637.4L446.3,637.6L446.6,637.4L447.0,637.5L447.3,637.7L447.6,637.4L448.0,637.8L448.3,637.4L448.6,637.7L449.0,637.5L449.3,637.3L449.6,637.5L450.0,637.5L450.3,637.7L450.6,637.8L451.0,637.8L451.3,637.8L451.6,637.6L452.0,637.7L452.3,637.6L452.6,637.4L453.0,637.8L453.3,637.8L453.6,637.6L454.0,637.9L454.3,637.9L454.6,637.7L455.0,637.9L455.3,637.7L455.6,637.8L456.0,637.6L456.3,637.6L456.6,637.8L457.0,637.6L457.3,637.7L457.6,637.9L458.0,637.5L458.3,637.8L458.6,637.9L459.0,637.9L459.3,637.6L459.6,637.5L460.0,637.6L460.3,637.8L460.6,637.8L461.0,638.0L461.3,637.6L461.6,637.7L462.0,637.8L462.3,637.7L462.6,637.8L463.0,637.5L463.3,637.6L463.6,637.9L464.0,637.5L464.3,638.0L464.6,637.7L465.0,637.8L465.3,637.9L465.7,638.0L466.0,637.6L466.3,638.0L466.7,637.7L467.0,637.5L467.3,637.9L467.7,637.9L468.0,637.7L468.3,637.8L468.7,637.7L469.0,637.6L469.3,637.9L469.7,637.9L470.0,637.9L470.3,638.0L470.7,637.6L471.0,637.6L471.3,637.7L471.7,638.0L472.0,637.6L472.3,637.7L472.7,637.8L473.0,637.7L473.3,637.8L473.7,637.9L474.0,638.0L474.3,637.9L474.7,638.0L475.0,637.9L475.3,637.7L475.7,637.7L476.0,637.6L476.3,637.7L476.7,637.9L477.0,637.8L477.3,637.8L477.7,637.7L478.0,637.8L478.3,637.9L478.7,637.7L479.0,637.6L479.3,637.9L479.7,637.6L480.0,638.1L480.3,637.9L480.7,637.9L481.0,637.7L481.3,637.6L481.7,637.7L482.0,637.9" fill="none" stroke="#1a5e28" stroke-width="1.8" stroke-linejoin="round"/>
<path d="M105.4,685.3L105.7,685.4L106.1,685.5L106.4,685.1L106.7,685.5L107.1,685.3L107.4,685.1L107.7,685.5L108.1,685.3L108.4,685.2L108.7,685.5L109.1,685.4L109.4,685.2L109.7,685.3L110.1,685.2L110.4,685.5L110.7,685.4L111.1,685.5L111.4,685.3L111.7,685.1L112.1,685.2L112.4,685.2L112.7,685.3L113.1,685.2L113.4,685.5L113.7,685.4L114.1,685.2L114.4,685.2L114.7,685.3L115.1,685.5L115.4,685.4L115.7,685.4L116.1,685.4L116.4,685.1L116.7,685.4L117.1,685.1L117.4,685.1L117.7,685.5L118.1,685.3L118.4,685.3L118.7,685.5L119.1,685.3L119.4,685.1L119.7,685.5L120.1,685.2L120.4,685.5L120.7,685.2L121.1,685.1L121.4,685.4L121.7,685.5L122.1,685.5L122.4,685.3L122.8,685.5L123.1,685.5L123.4,685.3L123.8,685.1L124.1,685.3L124.4,685.3L124.8,685.2L125.1,685.5L125.4,685.2L125.8,685.4L126.1,685.2L126.4,685.0L126.8,685.5L127.1,685.2L127.4,685.2L127.8,685.4L128.1,685.4L128.4,685.0L128.8,685.0L129.1,685.5L129.4,685.2L129.8,685.0L130.1,685.4L130.4,685.2L130.8,685.5L131.1,685.3L131.4,685.2L131.8,685.2L132.1,685.1L132.4,685.5L132.8,685.3L133.1,685.1L133.4,685.2L133.8,685.3L134.1,685.3L134.4,685.0L134.8,685.2L135.1,685.5L135.4,685.1L135.8,685.3L136.1,685.3L136.4,685.4L136.8,685.3L137.1,685.3L137.4,685.5L137.8,685.2L138.1,685.4L138.4,685.1L138.8,685.5L139.1,685.1L139.4,685.1L139.8,685.2L140.1,685.1L140.4,685.4L140.8,685.1L141.1,685.3L141.4,685.4L141.8,685.0L142.1,685.3L142.4,685.3L142.8,685.1L143.1,685.3L143.4,685.1L143.8,685.4L144.1,685.1L144.4,685.3L144.8,685.4L145.1,685.0L145.4,685.4L145.8,685.0L146.1,685.0L146.4,685.2L146.8,685.5L147.1,685.4L147.4,685.3L147.8,685.3L148.1,685.1L148.4,685.0L148.8,685.3L149.1,685.4L149.4,685.1L149.8,685.3L150.1,685.4L150.4,685.1L150.8,685.0L151.1,685.3L151.4,685.1L151.8,685.0L152.1,684.9L152.4,685.1L152.8,684.8L153.1,685.1L153.4,684.8L153.8,684.7L154.1,684.5L154.4,684.5L154.8,684.5L155.1,684.2L155.4,683.6L155.7,683.5L155.8,683.3L156.1,683.4L156.1,683.1L156.4,683.5L156.4,683.7L156.8,683.9L157.1,684.1L157.4,684.3L157.8,684.6L158.1,684.9L158.4,684.8L158.8,684.7L159.1,684.9L159.4,684.8L159.8,685.3L160.1,684.8L160.4,684.9L160.8,685.1L161.1,685.1L161.4,685.1L161.8,684.9L162.1,685.4L162.4,685.1L162.8,685.1L163.1,685.3L163.4,685.1L163.8,685.1L164.1,685.4L164.4,685.1L164.8,685.2L165.1,685.2L165.4,685.1L165.8,685.4L166.1,685.1L166.4,685.3L166.8,685.0L167.1,685.3L167.4,685.0L167.8,685.1L168.1,685.1L168.4,685.0L168.8,685.4L169.1,685.1L169.4,685.1L169.8,685.1L170.1,685.2L170.4,685.4L170.8,685.4L171.1,685.1L171.4,685.4L171.8,685.4L172.1,685.3L172.4,685.2L172.8,685.2L173.1,685.4L173.4,685.1L173.8,685.3L174.1,685.1L174.4,685.4L174.8,685.0L175.1,685.2L175.4,685.0L175.8,685.0L176.1,685.0L176.4,685.4L176.8,685.3L177.1,685.3L177.4,685.1L177.8,685.3L178.1,685.3L178.4,685.4L178.8,685.4L179.1,685.0L179.4,685.0L179.8,685.3L180.1,685.1L180.4,685.2L180.8,685.2L181.1,685.3L181.4,685.1L181.8,685.3L182.1,685.3L182.4,685.2L182.8,685.3L183.1,685.2L183.4,685.0L183.8,685.4L184.1,685.4L184.5,685.0L184.8,685.4L185.1,685.3L185.5,685.0L185.8,685.1L186.1,685.3L186.5,685.4L186.8,685.3L187.1,685.3L187.5,685.0L187.8,684.9L188.1,685.0L188.5,685.0L188.8,685.0L189.1,685.0L189.5,685.0L189.8,684.9L190.1,685.4L190.5,685.3L190.8,685.3L191.1,685.1L191.5,685.2L191.8,685.2L192.1,685.0L192.5,685.2L192.8,685.3L193.1,685.2L193.5,685.1L193.8,685.0L194.1,684.9L194.5,684.7L194.8,684.0L195.1,682.2L195.2,682.3L195.5,683.9L195.5,683.8L195.8,684.8L196.1,684.8L196.5,684.9L196.8,685.3L197.1,685.0L197.5,685.2L197.8,685.2L198.1,685.1L198.5,685.0L198.8,685.0L199.1,685.0L199.5,685.3L199.8,685.1L200.1,685.2L200.5,685.4L200.8,685.1L201.1,685.2L201.5,685.0L201.8,685.2L202.1,685.0L202.5,685.2L202.8,685.4L203.1,685.1L203.5,685.3L203.8,685.1L204.1,685.4L204.5,685.4L204.8,684.9L205.1,685.4L205.5,685.3L205.8,685.3L206.1,685.4L206.5,685.0L206.8,684.9L207.1,685.1L207.5,685.2L207.8,685.0L208.1,685.2L208.5,685.3L208.8,685.1L209.1,685.2L209.5,685.3L209.8,685.2L210.1,685.2L210.5,685.3L210.8,685.1L211.1,685.0L211.5,685.1L211.8,685.4L212.1,685.1L212.5,685.4L212.8,685.2L213.1,685.0L213.5,685.0L213.8,684.9L214.1,685.0L214.5,685.2L214.8,685.3L215.1,685.1L215.5,685.0L215.8,685.2L216.1,685.2L216.5,685.0L216.8,685.2L217.2,685.0L217.5,685.0L217.8,684.8L218.2,685.2L218.5,685.0L218.8,684.4L219.2,684.0L219.2,684.0L219.5,683.4L219.6,683.3L219.8,683.4L219.9,683.6L220.2,684.4L220.5,684.8L220.8,684.8L221.2,685.0L221.5,684.8L221.8,684.8L222.2,684.8L222.5,685.0L222.8,685.1L223.2,685.3L223.5,684.9L223.8,685.1L224.2,685.1L224.5,685.0L224.8,684.8L225.2,685.0L225.5,684.8L225.8,684.8L226.2,685.2L226.5,685.1L226.8,684.8L227.2,684.7L227.5,684.5L227.8,684.6L228.2,683.9L228.4,682.9L228.5,682.8L228.8,682.0L228.8,681.9L229.1,683.3L229.2,683.5L229.5,684.0L229.8,684.6L230.2,684.9L230.5,684.7L230.8,685.1L231.2,685.2L231.5,685.1L231.8,685.3L232.2,685.1L232.5,684.9L232.8,685.1L233.2,684.9L233.5,685.3L233.8,685.3L234.2,685.3L234.5,685.1L234.8,685.2L235.2,685.0L235.5,685.1L235.8,685.1L236.2,684.9L236.5,684.9L236.8,684.9L237.2,685.3L237.5,685.1L237.8,684.8L238.2,685.1L238.5,685.2L238.8,685.0L239.2,685.2L239.5,684.8L239.8,684.8L240.2,684.8L240.5,683.8L240.6,683.5L240.8,682.7L241.0,682.1L241.2,682.5L241.3,683.6L241.5,684.4L241.8,684.8L242.2,685.1L242.5,684.9L242.8,685.1L243.2,684.9L243.5,685.2L243.8,685.3L244.2,685.1L244.5,685.3L244.8,685.2L245.2,685.2L245.5,685.2L245.8,685.0L246.2,684.9L246.5,685.2L246.8,685.0L247.2,685.2L247.5,684.9L247.8,685.1L248.2,685.3L248.5,685.0L248.8,685.2L249.2,685.3L249.5,685.3L249.8,684.9L250.2,685.0L250.5,685.2L250.8,685.1L251.2,685.0L251.5,685.3L251.8,685.0L252.2,685.0L252.5,684.9L252.8,685.3L253.2,685.1L253.5,685.1L253.8,684.9L254.2,685.2L254.5,685.0L254.8,684.9L255.2,685.2L255.5,685.1L255.8,684.9L256.2,685.3L256.5,684.9L256.8,685.2L257.2,685.1L257.5,685.2L257.8,684.9L258.2,685.1L258.5,685.0L258.8,685.3L259.2,684.9L259.5,684.9L259.8,685.0L260.2,685.2L260.5,685.2L260.8,685.1L261.2,685.3L261.5,684.8L261.8,685.1L262.2,684.8L262.5,685.2L262.8,685.0L263.2,684.9L263.5,685.0L263.8,685.1L264.2,685.3L264.5,685.1L264.9,685.1L265.2,684.8L265.5,684.8L265.9,684.8L266.2,684.7L266.5,685.1L266.9,685.1L267.2,684.8L267.5,684.6L267.9,683.7L268.1,681.3L268.2,680.5L268.5,673.5L268.5,673.9L268.8,681.4L268.9,681.5L269.2,684.0L269.5,684.3L269.9,684.7L270.2,684.8L270.5,685.1L270.9,684.8L271.2,684.8L271.5,685.2L271.9,685.0L272.2,684.9L272.5,685.0L272.9,684.9L273.2,685.0L273.5,685.1L273.9,685.0L274.2,684.9L274.5,685.1L274.9,685.0L275.2,685.0L275.5,685.1L275.9,685.3L276.2,685.1L276.5,684.9L276.9,684.9L277.2,685.3L277.5,685.1L277.9,685.0L278.2,685.0L278.5,685.2L278.9,685.0L279.2,685.0L279.5,685.0L279.9,684.8L280.2,685.0L280.5,685.3L280.9,685.2L281.2,685.0L281.5,685.3L281.9,684.8L282.2,685.0L282.5,684.9L282.9,685.2L283.2,685.3L283.5,684.9L283.9,685.1L284.2,685.1L284.5,685.0L284.9,684.9L285.2,685.1L285.5,684.9L285.9,685.2L286.2,684.8L286.5,685.0L286.9,685.1L287.2,685.1L287.5,684.9L287.9,685.1L288.2,685.0L288.5,684.8L288.9,684.8L289.2,685.2L289.5,684.9L289.9,685.0L290.2,684.9L290.5,685.3L290.9,685.1L291.2,685.1L291.5,684.9L291.9,685.1L292.2,685.3L292.5,685.2L292.9,684.9L293.2,684.9L293.5,685.0L293.9,685.3L294.2,684.9L294.5,684.9L294.9,685.2L295.2,685.1L295.5,685.1L295.9,685.3L296.2,684.9L296.5,685.2L296.9,685.2L297.2,684.8L297.5,685.2L297.9,684.9L298.2,684.9L298.5,685.2L298.9,685.1L299.2,685.2L299.5,684.9L299.9,684.8L300.2,684.9L300.5,685.0L300.9,685.0L301.2,685.1L301.5,684.9L301.9,685.1L302.2,685.2L302.5,684.9L302.9,685.2L303.2,684.8L303.5,684.9L303.9,685.2L304.2,685.3L304.5,685.0L304.9,685.2L305.2,685.0L305.5,685.0L305.9,684.9L306.2,685.1L306.5,685.0L306.9,684.9L307.2,685.2L307.5,685.1L307.9,684.9L308.2,685.1L308.5,684.8L308.9,685.2L309.2,685.2L309.5,685.1L309.9,685.0L310.2,685.1L310.5,685.2L310.9,685.0L311.2,684.8L311.5,684.8L311.9,685.0L312.2,685.1L312.6,685.0L312.9,685.2L313.2,685.2L313.6,684.9L313.9,685.1L314.2,685.2L314.6,684.9L314.9,685.2L315.2,685.1L315.6,685.2L315.9,684.8L316.2,684.9L316.6,685.2L316.9,685.2L317.2,684.8L317.6,685.2L317.9,684.9L318.2,684.9L318.6,685.0L318.9,685.0L319.2,685.0L319.6,685.1L319.9,684.9L320.2,685.2L320.6,685.0L320.9,685.1L321.2,685.1L321.6,684.8L321.9,685.0L322.2,684.9L322.6,684.9L322.9,685.2L323.2,684.9L323.6,684.8L323.9,684.9L324.2,685.0L324.6,684.8L324.9,684.8L325.2,685.1L325.6,685.2L325.9,685.1L326.2,685.2L326.6,685.1L326.9,685.2L327.2,685.2L327.6,685.0L327.9,685.2L328.2,685.0L328.6,684.8L328.9,684.9L329.2,685.2L329.6,684.9L329.9,685.1L330.2,684.8L330.6,684.9L330.9,684.9L331.2,685.0L331.6,684.7L331.9,685.1L332.2,684.7L332.6,685.1L332.9,685.1L333.2,685.1L333.6,685.2L333.9,684.7L334.2,685.1L334.6,684.8L334.9,685.0L335.2,684.9L335.6,684.6L335.9,684.7L336.2,684.8L336.6,684.4L336.9,684.5L337.2,684.0L337.6,682.5L337.8,680.7L337.9,679.2L338.1,677.1L338.2,677.5L338.5,680.5L338.6,681.4L338.9,683.1L339.2,682.9L339.6,681.6L339.6,681.0L339.9,678.4L340.0,678.4L340.2,680.7L340.3,681.6L340.6,683.0L340.9,683.9L341.2,684.4L341.6,684.7L341.9,684.6L342.2,684.8L342.6,684.8L342.9,685.0L343.2,684.6L343.6,684.9L343.9,684.9L344.2,685.0L344.6,684.9L344.9,684.9L345.2,685.0L345.6,684.8L345.9,685.0L346.2,684.9L346.6,684.8L346.9,685.1L347.2,684.8L347.6,685.1L347.9,685.1L348.2,684.8L348.6,685.1L348.9,685.0L349.2,685.0L349.6,684.7L349.9,684.7L350.2,685.1L350.6,684.9L350.9,684.8L351.2,684.9L351.6,685.0L351.9,685.1L352.2,685.1L352.6,685.1L352.9,685.1L353.2,684.8L353.6,684.9L353.9,685.1L354.2,684.7L354.6,684.6L354.9,684.9L355.2,684.9L355.6,684.7L355.9,684.8L356.2,684.7L356.6,684.9L356.9,684.6L357.2,684.7L357.6,684.8L357.9,684.7L358.2,684.3L358.6,683.9L358.9,683.0L359.2,681.7L359.2,681.6L359.5,681.1L359.6,681.2L359.9,682.1L359.9,682.2L360.2,683.4L360.6,684.2L360.9,684.3L361.2,684.6L361.6,684.9L361.9,684.7L362.2,684.9L362.6,684.9L362.9,684.7L363.2,684.9L363.6,684.9L363.9,684.8L364.2,684.7L364.6,684.8L364.9,684.7L365.2,684.8L365.6,685.0L365.9,684.7L366.2,685.1L366.6,685.0L366.9,685.1L367.2,685.0L367.6,685.0L367.9,685.0L368.2,684.8L368.6,685.0L368.9,684.9L369.2,684.8L369.6,684.7L369.9,684.7L370.2,685.0L370.6,684.9L370.9,684.6L371.2,684.7L371.6,684.7L371.9,685.1L372.2,685.0L372.6,684.9L372.9,685.0L373.2,684.9L373.6,684.6L373.9,684.9L374.3,684.8L374.6,684.9L374.9,684.7L375.3,684.7L375.6,684.7L375.9,684.4L376.3,682.7L376.3,682.6L376.6,678.5L376.6,678.5L376.9,682.5L377.0,682.7L377.3,684.0L377.6,684.3L377.9,684.6L378.3,684.7L378.6,684.7L378.9,684.6L379.3,684.6L379.6,685.0L379.9,685.0L380.3,685.0L380.6,685.0L380.9,684.6L381.3,684.5L381.6,684.7L381.9,684.6L382.3,684.6L382.6,684.6L382.9,684.6L383.3,684.3L383.6,684.4L383.9,684.3L384.3,683.8L384.6,682.6L384.8,681.7L384.9,681.2L385.2,680.7L385.3,681.1L385.5,681.9L385.6,682.3L385.9,683.1L386.3,684.1L386.6,684.3L386.9,684.3L387.3,684.4L387.6,684.8L387.9,684.8L388.3,684.8L388.6,684.8L388.9,684.7L389.3,684.9L389.6,684.5L389.9,684.7L390.3,684.6L390.6,684.8L390.9,684.5L391.3,684.9L391.6,684.5L391.9,684.8L392.3,684.6L392.6,684.6L392.9,684.5L393.3,684.6L393.6,684.4L393.9,684.7L394.3,684.4L394.6,684.3L394.9,684.0L395.3,683.9L395.6,682.6L395.8,681.3L395.9,679.6L396.2,676.7L396.3,677.0L396.5,681.1L396.6,681.6L396.9,683.5L397.3,683.7L397.6,684.0L397.9,683.8L398.3,683.7L398.6,683.6L398.9,683.5L399.3,683.1L399.6,683.0L399.9,682.1L400.3,680.3L400.6,675.6L400.7,672.8L400.9,665.4L401.1,663.3L401.3,667.9L401.4,672.4L401.6,676.5L401.9,678.9L402.3,679.0L402.6,677.2L402.9,671.4L403.1,663.9L403.3,656.3L403.5,646.9L403.6,649.0L403.9,661.5L403.9,665.4L404.3,670.9L404.6,669.9L404.9,664.4L405.3,650.3L405.6,620.5L405.6,619.2L405.9,589.2L405.9,588.9L406.3,619.2L406.3,621.9L406.6,650.7L406.9,666.0L407.3,673.4L407.6,677.0L407.9,679.2L408.3,680.9L408.6,681.5L408.9,682.0L409.3,682.8L409.6,683.1L409.9,683.1L410.3,683.4L410.6,683.5L410.9,684.1L411.3,683.7L411.6,684.2L411.9,684.2L412.3,684.4L412.6,684.1L412.9,684.3L413.3,684.4L413.6,684.4L413.9,684.4L414.3,684.4L414.6,684.7L414.9,684.4L415.3,684.7L415.6,684.8L415.9,684.3L416.3,684.8L416.6,684.5L416.9,684.5L417.3,684.7L417.6,684.6L417.9,684.8L418.3,684.8L418.6,684.5L418.9,684.5L419.3,684.5L419.6,684.7L419.9,684.9L420.3,684.5L420.6,684.4L421.0,684.7L421.3,684.6L421.6,684.8L422.0,684.4L422.3,684.5L422.6,684.8L423.0,684.5L423.3,684.5L423.6,684.6L424.0,684.5L424.3,684.3L424.6,684.4L425.0,684.4L425.3,684.1L425.6,684.2L426.0,684.0L426.3,683.9L426.6,683.5L427.0,683.1L427.3,682.5L427.6,680.9L428.0,677.2L428.2,670.4L428.3,666.5L428.6,657.3L428.6,658.6L428.9,669.7L429.0,671.9L429.3,678.4L429.6,680.7L430.0,680.6L430.3,679.2L430.6,674.0L430.6,673.8L431.0,665.0L431.0,664.6L431.3,672.5L431.4,673.4L431.6,678.5L432.0,680.0L432.3,678.2L432.5,675.8L432.6,672.1L432.8,668.8L433.0,670.8L433.2,676.5L433.3,678.4L433.6,681.5L434.0,682.8L434.3,683.8L434.6,684.0L435.0,684.2L435.3,684.5L435.6,684.2L436.0,684.3L436.3,684.3L436.6,684.3L437.0,684.4L437.3,684.7L437.6,684.6L438.0,684.5L438.3,684.9L438.6,684.9L439.0,684.5L439.3,684.9L439.6,684.5L440.0,684.8L440.3,684.9L440.6,684.8L441.0,684.6L441.3,684.7L441.6,685.0L442.0,684.6L442.3,684.8L442.6,684.6L443.0,684.8L443.3,684.6L443.6,684.8L444.0,684.9L444.3,684.5L444.6,684.5L445.0,684.8L445.3,684.8L445.6,684.7L446.0,684.7L446.3,684.9L446.6,684.6L447.0,684.8L447.3,684.6L447.6,684.8L448.0,684.6L448.3,684.6L448.6,684.9L449.0,685.0L449.3,684.8L449.6,684.8L450.0,684.9L450.3,684.9L450.6,684.9L451.0,685.0L451.3,684.8L451.6,684.8L452.0,684.8L452.3,684.6L452.6,684.8L453.0,684.7L453.3,684.7L453.6,684.8L454.0,684.8L454.3,684.9L454.6,684.7L455.0,684.6L455.3,684.6L455.6,684.7L456.0,684.6L456.3,684.8L456.6,684.8L457.0,684.6L457.3,684.7L457.6,685.0L458.0,684.6L458.3,684.8L458.6,684.6L459.0,684.9L459.3,684.7L459.6,684.8L460.0,684.8L460.3,684.6L460.6,684.9L461.0,684.7L461.3,684.6L461.6,685.0L462.0,684.6L462.3,684.7L462.6,684.8L463.0,685.0L463.3,684.8L463.6,685.0L464.0,685.0L464.3,684.8L464.6,684.7L465.0,684.6L465.3,684.7L465.6,684.7L466.0,684.8L466.3,685.0L466.6,684.9L467.0,685.0L467.3,684.8L467.6,684.9L468.0,684.8L468.3,684.9L468.7,685.0L469.0,684.9L469.3,684.6L469.7,684.8L470.0,684.7L470.3,684.8L470.7,684.8L471.0,684.7L471.3,684.6L471.7,684.7L472.0,684.7L472.3,684.9L472.7,684.9L473.0,685.0L473.3,684.8L473.7,685.0L474.0,684.9L474.3,684.8L474.7,684.9L475.0,684.9L475.3,684.8L475.7,684.6L476.0,684.8L476.3,684.7L476.7,684.6L477.0,684.7L477.3,684.6L477.7,684.7L478.0,684.6L478.3,684.7L478.7,684.5L479.0,684.8L479.3,684.9L479.7,684.7L480.0,685.0L480.3,684.8L480.7,684.6L481.0,685.0L481.3,684.8L481.7,684.9L482.0,684.7L482.3,684.6L482.7,684.9L483.0,684.8L483.3,685.0L483.7,684.9L484.0,684.8L484.3,684.7L484.7,684.6L485.0,684.6" fill="none" stroke="#681678" stroke-width="1.9" stroke-linejoin="round"/>
<rect x="107.89" y="694" width="1" height="1.2" fill="#aaa"/><line x1="114.50" y1="693.3" x2="114.50" y2="698.5" stroke="#999" stroke-width="1"/><rect x="120.11" y="694" width="1" height="1.2" fill="#aaa"/><rect x="126.22" y="694" width="1" height="1.2" fill="#aaa"/><rect x="132.33" y="694" width="1" height="1.2" fill="#aaa"/><rect x="138.44" y="694" width="1" height="1.2" fill="#aaa"/><line x1="145.05" y1="693.3" x2="145.05" y2="698.5" stroke="#999" stroke-width="1"/><rect x="150.66" y="694" width="1" height="1.2" fill="#aaa"/><rect x="156.77" y="694" width="1" height="1.2" fill="#aaa"/><rect x="162.88" y="694" width="1" height="1.2" fill="#aaa"/><rect x="168.99" y="694" width="1" height="1.2" fill="#aaa"/><line x1="175.60" y1="693.3" x2="175.60" y2="698.5" stroke="#999" stroke-width="1"/><rect x="181.21" y="694" width="1" height="1.2" fill="#aaa"/><rect x="187.32" y="694" width="1" height="1.2" fill="#aaa"/><rect x="193.43" y="694" width="1" height="1.2" fill="#aaa"/><rect x="199.54" y="694" width="1" height="1.2" fill="#aaa"/><line x1="206.15" y1="693.3" x2="206.15" y2="698.5" stroke="#999" stroke-width="1"/><rect x="211.76" y="694" width="1" height="1.2" fill="#aaa"/><rect x="217.87" y="694" width="1" height="1.2" fill="#aaa"/><rect x="223.98" y="694" width="1" height="1.2" fill="#aaa"/><rect x="230.09" y="694" width="1" height="1.2" fill="#aaa"/><line x1="236.70" y1="693.3" x2="236.70" y2="698.5" stroke="#999" stroke-width="1"/><rect x="242.31" y="694" width="1" height="1.2" fill="#aaa"/><rect x="248.42" y="694" width="1" height="1.2" fill="#aaa"/><rect x="254.53" y="694" width="1" height="1.2" fill="#aaa"/><rect x="260.64" y="694" width="1" height="1.2" fill="#aaa"/><line x1="267.25" y1="693.3" x2="267.25" y2="698.5" stroke="#999" stroke-width="1"/><rect x="272.86" y="694" width="1" height="1.2" fill="#aaa"/><rect x="278.97" y="694" width="1" height="1.2" fill="#aaa"/><rect x="285.08" y="694" width="1" height="1.2" fill="#aaa"/><rect x="291.19" y="694" width="1" height="1.2" fill="#aaa"/><line x1="297.80" y1="693.3" x2="297.80" y2="698.5" stroke="#999" stroke-width="1"/><rect x="303.41" y="694" width="1" height="1.2" fill="#aaa"/><rect x="309.52" y="694" width="1" height="1.2" fill="#aaa"/><rect x="315.63" y="694" width="1" height="1.2" fill="#aaa"/><rect x="321.74" y="694" width="1" height="1.2" fill="#aaa"/><line x1="328.35" y1="693.3" x2="328.35" y2="698.5" stroke="#999" stroke-width="1"/><rect x="333.96" y="694" width="1" height="1.2" fill="#aaa"/><rect x="340.07" y="694" width="1" height="1.2" fill="#aaa"/><rect x="346.18" y="694" width="1" height="1.2" fill="#aaa"/><rect x="352.29" y="694" width="1" height="1.2" fill="#aaa"/><line x1="358.90" y1="693.3" x2="358.90" y2="698.5" stroke="#999" stroke-width="1"/><rect x="364.51" y="694" width="1" height="1.2" fill="#aaa"/><rect x="370.62" y="694" width="1" height="1.2" fill="#aaa"/><rect x="376.73" y="694" width="1" height="1.2" fill="#aaa"/><rect x="382.84" y="694" width="1" height="1.2" fill="#aaa"/><line x1="389.45" y1="693.3" x2="389.45" y2="698.5" stroke="#999" stroke-width="1"/><rect x="395.06" y="694" width="1" height="1.2" fill="#aaa"/><rect x="401.17" y="694" width="1" height="1.2" fill="#aaa"/><rect x="407.28" y="694" width="1" height="1.2" fill="#aaa"/><rect x="413.39" y="694" width="1" height="1.2" fill="#aaa"/><line x1="420.00" y1="693.3" x2="420.00" y2="698.5" stroke="#999" stroke-width="1"/><rect x="425.61" y="694" width="1" height="1.2" fill="#aaa"/><rect x="431.72" y="694" width="1" height="1.2" fill="#aaa"/><rect x="437.83" y="694" width="1" height="1.2" fill="#aaa"/><rect x="443.94" y="694" width="1" height="1.2" fill="#aaa"/><line x1="450.55" y1="693.3" x2="450.55" y2="698.5" stroke="#999" stroke-width="1"/><rect x="456.16" y="694" width="1" height="1.2" fill="#aaa"/><rect x="462.27" y="694" width="1" height="1.2" fill="#aaa"/><rect x="468.38" y="694" width="1" height="1.2" fill="#aaa"/><rect x="474.49" y="694" width="1" height="1.2" fill="#aaa"/>
<text x="114.50" y="711" font-size="10" text-anchor="middle" fill="#111" font-weight="bold">6.0</text>
<text x="145.05" y="711" font-size="10" text-anchor="middle" fill="#111" font-weight="bold">5.5</text>
<text x="175.60" y="711" font-size="10" text-anchor="middle" fill="#111" font-weight="bold">5.0</text>
<text x="206.15" y="711" font-size="10" text-anchor="middle" fill="#111" font-weight="bold">4.5</text>
<text x="236.70" y="711" font-size="10" text-anchor="middle" fill="#111" font-weight="bold">4.0</text>
<text x="267.25" y="711" font-size="10" text-anchor="middle" fill="#111" font-weight="bold">3.5</text>
<text x="297.80" y="711" font-size="10" text-anchor="middle" fill="#111" font-weight="bold">3.0</text>
<text x="328.35" y="711" font-size="10" text-anchor="middle" fill="#111" font-weight="bold">2.5</text>
<text x="358.90" y="711" font-size="10" text-anchor="middle" fill="#111" font-weight="bold">2.0</text>
<text x="389.45" y="711" font-size="10" text-anchor="middle" fill="#111" font-weight="bold">1.5</text>
<text x="420.00" y="711" font-size="10" text-anchor="middle" fill="#111" font-weight="bold">1.0</text>
<text x="460" y="711" font-size="10" text-anchor="start" fill="#111" font-weight="bold">ppm</text>
<rect x="1" y="328" width="550.5" height="6.3" fill="#66207a"/>
<rect x="1" y="450.6" width="550.5" height="6" fill="#66207a"/>
<circle cx="31.85" cy="107.95" r="8.35" fill="#c9392f"/>
<rect x="23.1" y="182.1" width="16.2" height="16.2" fill="#4d449f"/>
<polygon points="31.8,257.7 22.3,274.3 41.3,274.3" fill="#1b5c25"/>
<polygon points="33.00,342.70 36.09,348.95 42.99,349.96 37.99,354.82 39.17,361.69 33.00,358.45 26.83,361.69 28.01,354.82 23.01,349.96 29.91,348.95" fill="#6a1f7e"/>
<circle cx="32.4" cy="525.3" r="8.3" fill="#c9392f"/>
<rect x="23" y="565.5" width="16.3" height="16" fill="#4d449f"/>
<polygon points="31.2,616 21.3,632.4 41,632.4" fill="#1b5c25"/>
<polygon points="30.60,663.20 33.63,669.33 40.40,670.32 35.50,675.09 36.65,681.83 30.60,678.65 24.55,681.83 25.70,675.09 20.80,670.32 27.57,669.33" fill="#6a1f7e"/>
<line x1="528.4" y1="198" x2="528.4" y2="290.6" stroke="#111" stroke-width="1.4"/>
<polygon points="523.8,287.20000000000005 528.4,297.6 533.0,287.20000000000005 528.4,290.0" fill="#111"/>
<line x1="528.4" y1="606" x2="528.4" y2="697.8" stroke="#111" stroke-width="1.4"/>
<polygon points="523.8,694.4 528.4,704.8 533.0,694.4 528.4,697.1999999999999" fill="#111"/>
<text x="185.0" y="17" font-size="20.8" text-anchor="start" fill="#111" textLength="182.5" lengthAdjust="spacingAndGlyphs" font-weight="bold" stroke="#111" stroke-width="0.45">WITHOUT TREATMENT</text>
<text x="142.0" y="361.8" font-size="21" text-anchor="start" fill="#111" textLength="268" lengthAdjust="spacingAndGlyphs" font-weight="bold" stroke="#111" stroke-width="0.45">WITH TREATMENT – LIPIDS ONLY</text>
<text x="115.3" y="52.4" font-size="12.6" text-anchor="middle" fill="#111" textLength="97.5" lengthAdjust="spacingAndGlyphs" font-weight="bold" stroke="#111" stroke-width="0.3">HIGH MOLECULAR</text>
<text x="115.3" y="68.2" font-size="12.6" text-anchor="middle" fill="#111" textLength="110.8" lengthAdjust="spacingAndGlyphs" font-weight="bold" stroke="#111" stroke-width="0.3">WEIGHT MOLECULES</text>
<text x="285.1" y="52.4" font-size="12.6" text-anchor="middle" fill="#111" textLength="115.5" lengthAdjust="spacingAndGlyphs" font-weight="bold" stroke="#111" stroke-width="0.3">MEDIUM MOLECULAR</text>
<text x="285.1" y="68.2" font-size="12.6" text-anchor="middle" fill="#111" textLength="111" lengthAdjust="spacingAndGlyphs" font-weight="bold" stroke="#111" stroke-width="0.3">WEIGHT MOLECULES</text>
<text x="453.8" y="52.4" font-size="12.6" text-anchor="middle" fill="#111" textLength="96.5" lengthAdjust="spacingAndGlyphs" font-weight="bold" stroke="#111" stroke-width="0.3">LOW&#160; MOLECULAR</text>
<text x="453.8" y="68.2" font-size="12.6" text-anchor="middle" fill="#111" textLength="110.3" lengthAdjust="spacingAndGlyphs" font-weight="bold" stroke="#111" stroke-width="0.3">WEIGHT MOLECULES</text>
<text x="113.5" y="255.6" font-size="13.5" text-anchor="middle" fill="#111" textLength="58" lengthAdjust="spacingAndGlyphs" font-weight="bold" stroke="#111" stroke-width="0.3">Signal loss</text>
<text x="113.5" y="271.1" font-size="13.5" text-anchor="middle" fill="#111" textLength="74.2" lengthAdjust="spacingAndGlyphs" font-weight="bold" stroke="#111" stroke-width="0.3">by transversal</text>
<text x="113.5" y="286.6" font-size="13.5" text-anchor="middle" fill="#111" textLength="53.2" lengthAdjust="spacingAndGlyphs" font-weight="bold" stroke="#111" stroke-width="0.3">relaxation</text>
<text x="113.5" y="302.1" font-size="13.5" text-anchor="middle" fill="#111" textLength="64.8" lengthAdjust="spacingAndGlyphs" font-weight="bold" stroke="#111" stroke-width="0.3">(side effect)</text>
<text x="282" y="273.7" font-size="13.5" text-anchor="middle" fill="#111" textLength="33.3" lengthAdjust="spacingAndGlyphs" font-weight="bold" stroke="#111" stroke-width="0.3">Signal</text>
<text x="282" y="288.9" font-size="13.5" text-anchor="middle" fill="#111" textLength="60.4" lengthAdjust="spacingAndGlyphs" font-weight="bold" stroke="#111" stroke-width="0.3">attenuation</text>
<text x="451.7" y="273.7" font-size="13.5" text-anchor="middle" fill="#111" textLength="58.7" lengthAdjust="spacingAndGlyphs" font-weight="bold" stroke="#111" stroke-width="0.3">Signal loss</text>
<text x="451.7" y="288.9" font-size="13.5" text-anchor="middle" fill="#111" textLength="63.7" lengthAdjust="spacingAndGlyphs" font-weight="bold" stroke="#111" stroke-width="0.3">by diffusion</text>
<text x="48.0" y="528.9" font-size="13" text-anchor="start" fill="#111" textLength="52.6" lengthAdjust="spacingAndGlyphs" font-weight="bold" stroke="#111" stroke-width="0.3">Watergate</text>
<text x="47.3" y="579.2" font-size="13" text-anchor="start" fill="#111" textLength="31.8" lengthAdjust="spacingAndGlyphs" font-weight="bold" stroke="#111" stroke-width="0.3">CMPG</text>
<text x="48.5" y="628.2" font-size="13" text-anchor="start" fill="#111" textLength="77.6" lengthAdjust="spacingAndGlyphs" font-weight="bold" stroke="#111" stroke-width="0.3">Diffusion Filter</text>
<text x="46.0" y="678.7" font-size="13" text-anchor="start" fill="#111" textLength="14" lengthAdjust="spacingAndGlyphs" font-weight="bold" stroke="#111" stroke-width="0.3">ZG</text>
<text transform="translate(534,177.5) rotate(-90)" font-size="14" textLength="100" lengthAdjust="spacingAndGlyphs" fill="#111" font-weight="bold" stroke="#111" stroke-width="0.3">PULSE SEQUENCE</text>
<text transform="translate(534.5,585.3) rotate(-90)" font-size="14" textLength="101" lengthAdjust="spacingAndGlyphs" fill="#111" font-weight="bold" stroke="#111" stroke-width="0.3">PULSE SEQUENCE</text>
</svg></body></html>
